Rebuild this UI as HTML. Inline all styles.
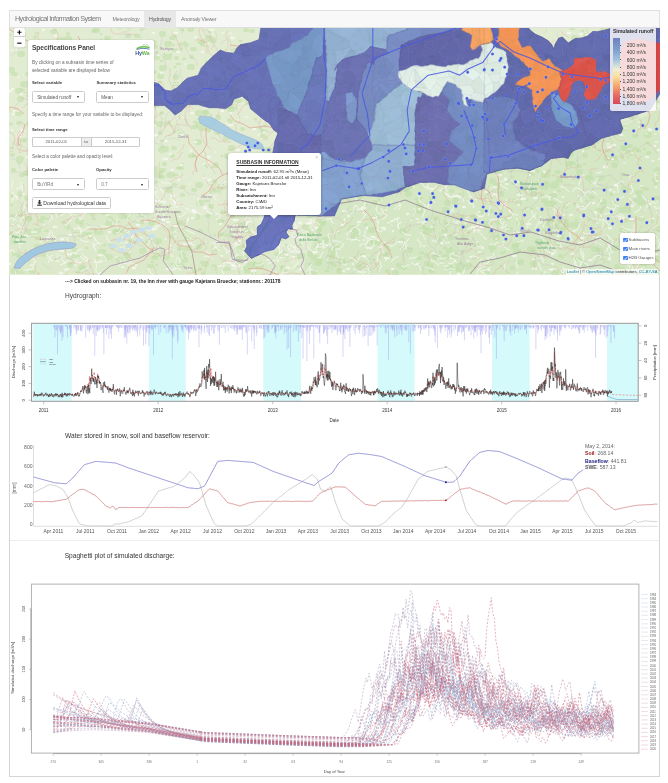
<!DOCTYPE html><html><head><meta charset="utf-8"><title>Hydrological Information System</title><style>

*{margin:0;padding:0;box-sizing:border-box}
html,body{width:668px;height:783px;overflow:hidden;background:#fff;font-family:"Liberation Sans", Arial, Helvetica, sans-serif;color:#333}
#frame{position:absolute;left:9px;top:10px;width:651px;height:767px;border:1px solid #d4d4d4;border-top:none}
#nav{position:absolute;left:9px;top:10px;width:651px;height:18px;background:#f8f8f8;border:1px solid #e0e0e0}
#nav .brand{position:absolute;left:5px;top:2.6px;font-size:7.2px;color:#777;letter-spacing:-0.57px;white-space:nowrap}
#nav .it{position:absolute;top:4.5px;font-size:5.3px;color:#777;white-space:nowrap;letter-spacing:-0.2px}
#nav .act{position:absolute;left:133.5px;top:0;width:32px;height:16.5px;background:#e7e7e7}
#map{position:absolute;left:9px;top:27px;width:651px;height:248px;overflow:hidden;background:#e9ead8}
.t{position:absolute;white-space:nowrap}
.h{position:absolute;white-space:nowrap;color:#333}

.sel{position:absolute;height:12px;border:0.6px solid #ccc;border-radius:1.5px;background:#fff;font-size:4.7px;color:#555;padding-left:4.2px;line-height:11.2px;white-space:nowrap}
.car{position:absolute;right:5.5px;top:4.8px;width:0;height:0;border-left:1.7px solid transparent;border-right:1.7px solid transparent;border-top:2px solid #222}

.pl{left:8px;font-size:4.35px;color:#222}
.pl b{font-weight:bold}

</style></head><body>
<div id="frame"></div>
<div id="map"><svg id="mapsvg" width="651" height="248" viewBox="9 27 651 248" style="position:absolute;left:0;top:0">
<rect x="9" y="27" width="651" height="248" fill="rgb(226,236,210)"/>
<path d="M330,200 C380,185 450,175 520,168 C580,150 620,125 660,110 L660,274 L300,274 Z" fill="rgb(200,226,182)" opacity="0.45"/>
<path d="M9,200 C60,205 150,215 250,215 L300,274 L9,274 Z" fill="rgb(205,228,188)" opacity="0.3"/>
<path d="M220 64h2M56 159h1M47 152h0M291 44h0M285 231h0M154 182h3M385 125h3M39 239h1M103 56h1M540 72h2M425 119h2M50 42h1M452 133h1M390 139h1M526 200h1M383 157h3M484 98h3M86 130h2M108 148h0M444 216h2M579 104h2M396 170h1M556 260h1M441 42h2M430 272h2M194 122h2M24 141h1M85 42h2M93 88h1M576 47h1M367 245h2M571 96h1M243 245h3M107 71h1M161 147h2M180 28h1M249 167h3M459 154h2M449 40h3M517 243h2M264 126h0M422 42h0M145 67h1M43 27h0M75 117h0M578 179h0M173 113h1M89 237h3M312 147h0M76 112h1M549 67h0M628 157h0M363 34h2M646 240h2M179 118h1M512 159h2M224 82h2M650 238h2M542 210h1M346 115h0M27 96h1M460 263h1M619 271h3M246 81h1M137 77h2M595 235h1M434 225h0M439 252h2M497 145h1M523 109h2M642 125h1M625 206h1M92 64h3M534 63h2M647 189h1M366 59h0M641 187h2M617 134h3M547 79h1M200 86h2M178 130h0M601 114h1M389 250h1M606 151h2M350 32h1M128 28h2M121 144h2M371 108h2M371 221h0M374 88h1M512 152h2M504 252h1M408 152h2M460 139h2M320 260h2M580 260h1M373 260h3M98 57h1M56 86h0M445 221h3M110 204h2M102 245h3M152 262h1M326 271h2M114 134h2M230 75h1M479 32h2M296 31h1M415 154h0M650 222h3M77 93h0M516 94h0M284 252h2M177 64h3M380 200h0M46 197h1M56 259h2M531 48h3M52 240h1M230 164h3M183 59h2M164 54h0M42 77h1M208 215h1M335 71h1M21 89h0M486 163h1M318 258h0M542 134h1M552 124h2M457 270h1M551 202h2M272 113h0M94 44h2M175 67h0M557 242h2M193 87h1M308 66h1M180 265h3M365 87h3M211 115h0M257 144h2M140 152h0M181 49h1M36 33h1M161 172h2M498 189h2M581 123h1M650 64h2M428 38h3M590 182h2M538 61h2M337 233h2M547 171h3M454 198h1M29 60h1M77 233h2M418 182h2M328 28h2M496 151h2M438 43h2M173 45h1M484 78h2M644 149h1M321 196h2M411 186h0M105 90h2M207 167h0M48 93h2M460 194h1M345 142h1M86 248h1M646 258h0M308 230h3M302 93h1M625 79h2M101 156h3M95 230h2M586 201h1M593 147h0M11 148h1M206 62h1M215 235h0M498 234h0M612 203h3M198 119h1M659 173h1M288 95h0M75 233h1M618 89h1M342 74h1M631 245h2M420 253h3M367 205h0M486 138h2M429 98h0M612 58h1M233 101h2M645 91h2M205 165h1M118 67h1M599 150h1M599 273h1M100 75h0M232 50h1M177 168h3M497 129h1M350 120h1M49 96h3M91 151h2M571 80h1M171 126h1M630 237h3M23 35h2M592 144h2M9 124h3M546 238h3M171 54h0M349 195h3M479 187h2M307 163h0M518 84h3M429 102h0M173 184h2M82 44h2M388 123h1M400 30h1M309 264h2M584 144h1M170 264h2M209 32h1M448 131h1M443 256h1M31 110h1M453 76h2M490 152h1M640 104h2M159 82h2M201 262h1M131 82h1M442 261h0M265 80h3M101 40h0M265 249h3M486 273h3M223 73h3M495 35h2M255 119h1M119 28h1M238 263h0M637 78h1M544 230h1M41 144h1M608 75h1M593 34h1M537 216h0M32 42h3M176 212h3M230 94h3M411 92h2M215 95h0M501 253h2M623 33h1M318 263h3M261 89h1M330 256h1M531 209h2M512 177h1M217 116h2M60 76h2M170 43h0M369 107h3M584 271h1M64 51h1M471 137h1M280 180h2M496 236h2M88 235h1M378 119h2M139 88h1M109 245h2M221 125h3M339 84h2M434 272h0M318 229h3M604 37h1M87 74h3M389 257h1M573 138h1M515 261h0M397 180h1M249 62h1M175 175h2M141 30h1M451 73h1M141 223h2M50 52h1M367 185h0M116 199h1M193 103h3M212 167h1M280 240h3M246 76h2M142 28h3M285 230h1M584 141h0M19 163h2M601 49h2M250 152h0M193 156h3M80 148h2M638 76h0M623 268h1M44 256h1M598 180h2M113 221h1M272 236h2M128 81h1M346 122h0M170 206h3M36 166h2M34 234h0M399 163h2M208 131h2M286 190h1M294 33h2M328 85h2M517 140h1M317 53h0M289 50h1M341 37h2M63 208h2M342 40h2M255 262h0M567 273h2M540 75h3M329 263h3M116 222h3M52 114h2M112 248h1M540 62h2M608 78h1M338 106h0M128 67h3M451 248h1M520 55h2M423 116h3M370 170h3M77 272h2M266 224h1M654 170h1M507 136h1M493 39h2M174 185h3M390 191h1M10 35h0M410 134h2M592 60h1M434 33h0M240 53h1M155 171h2M142 181h1M97 258h1M106 51h2M576 220h1M181 30h2M375 114h2M298 258h2M171 250h0M355 127h1M47 219h0M368 259h0M139 177h2M427 228h1M210 101h0M588 220h2M13 236h2M312 210h1M156 53h1M34 110h2M462 236h2M182 164h1M522 156h1M427 265h1M582 31h1M163 211h3M495 108h3M223 86h3M420 198h2M646 143h3M463 239h1M481 168h1M147 181h0M602 63h0M78 256h1M101 34h0M460 184h2M489 43h2M246 229h2M589 43h3M604 260h0M143 55h0M561 228h2M546 183h1M74 51h2M142 106h1M23 90h1M475 118h1M637 151h3M411 35h1M293 218h1M468 160h1M570 49h2M120 27h1M505 269h0M329 148h2M129 149h1M551 91h3M194 80h2M333 54h2M62 222h2M521 182h1M270 124h3M65 246h0M143 92h3M335 121h3M161 141h2M500 213h2M236 108h0M558 191h2M119 135h2M386 58h1M585 86h1M205 201h3M110 66h1M222 156h0M223 74h3M483 52h3M75 122h3M526 208h1M137 185h0M143 123h0M269 222h2M335 183h1M101 176h1M491 251h1M383 212h1M158 205h3M513 200h3M451 185h1M213 182h0M282 220h2M419 89h1M305 181h1M449 257h1M435 219h1M328 268h0M363 67h2M621 155h0M383 161h2M342 185h2M349 128h3M146 196h1M506 57h3M240 41h1M269 30h1M283 199h1M182 82h2M621 157h1M531 124h1M93 219h2M422 143h2M156 265h1M425 229h2M314 100h2M90 233h1M563 93h1M174 132h1M11 205h1M168 102h1M288 184h2M245 256h3M46 231h3M519 62h2M421 31h0M629 189h1M75 62h1M514 113h0M598 223h1M589 177h2M444 248h2M555 76h2M355 210h1M584 164h1M161 61h1M47 142h0M329 150h2M571 29h3M314 166h2M556 120h1" stroke="rgb(192,222,168)" stroke-width="2.5" stroke-linecap="round" opacity="0.55" fill="none"/>
<path d="M634 46h2M423 34h2M453 257h1M648 153h1M593 35h2M416 111h3M247 144h2M511 79h1M284 164h2M200 231h1M337 94h2M644 189h2M224 105h1M391 184h2M35 206h3M364 39h1M13 74h3M405 190h2M601 178h2M417 199h2M452 79h2M307 215h0M127 36h2M604 189h1M545 221h2M177 102h1M216 133h2M617 40h2M35 56h2M384 254h1M18 123h2M619 269h1M277 52h2M147 64h0M12 196h0M638 49h3M93 31h2M167 208h1M42 218h2M566 207h0M418 202h1M616 90h3M476 30h0M433 229h0M212 207h0M569 147h0M248 169h1M450 63h2M245 186h2M281 122h2M624 221h2M199 42h3M467 231h1M403 268h2M400 103h1M587 120h2M401 248h2M193 27h1M284 172h2M587 37h2M537 241h2M187 237h2M455 253h1M64 164h2M139 212h3M161 177h2M312 78h1M498 223h1M66 226h2M161 170h3M585 156h1M393 74h1M127 200h1M376 126h2M106 38h3M253 53h2M522 66h2M234 155h0M31 272h3M326 167h1M516 132h3M508 229h3M174 36h1M127 48h0M372 242h1M626 252h0M398 125h0M634 91h2M426 263h2M265 138h0M638 272h1M34 90h1M597 250h3M40 221h2M430 270h0M103 213h3M450 101h2M502 53h1M176 58h1M119 86h0M450 30h2M136 36h3M153 258h3M588 62h1M72 256h3M418 139h1M545 145h2M102 82h0M474 164h0M576 93h1M110 94h3M227 68h1M216 250h0M646 41h3M444 79h1M195 91h1M246 272h3M611 51h1M592 41h2M200 269h0M534 111h0M10 233h2M130 135h3M151 168h0M126 217h2M137 47h0M405 149h1M143 178h2M537 171h1M52 208h1M479 41h2M227 235h3M330 31h3M319 242h1M130 232h1M115 119h2M12 155h1M345 57h2M541 241h1M472 121h2M49 243h3M331 154h2M359 32h3M155 72h0M172 229h0M72 200h1M21 175h2M349 201h0M575 204h0M89 149h2M191 57h1M98 173h3M105 168h2M116 231h3M262 131h3M351 125h3M515 111h1M227 135h3M533 252h2M561 40h2M633 258h1M284 183h1M355 44h1M338 32h0M640 219h3M421 227h3M585 35h2M182 195h1M362 255h2M172 156h1M628 98h1M431 57h2M631 154h1M313 159h0M90 59h1M274 98h1M66 162h3M406 168h2M140 202h1M366 178h1M211 87h1M343 122h2M17 114h3M164 164h1M194 271h1M512 66h0M576 136h0M262 136h2M80 83h3M490 65h1M238 194h2M562 230h2M490 211h2M318 221h2M604 58h3M12 216h2M333 265h2M281 221h3M404 121h1M307 206h1M263 164h1M219 221h3M334 137h1M207 63h2M388 49h3M220 235h3M633 77h1M602 30h0M377 150h3M513 160h3M346 155h2M263 115h2M238 261h2M351 51h1M270 166h2M582 265h1M296 181h3M232 158h2M120 106h3M547 154h0M591 197h2M654 246h1M111 99h2M338 73h1M419 176h1M656 184h0M277 222h1M459 28h1M557 172h2M137 150h2M182 187h2M658 169h1M88 66h2M78 52h1M349 230h2M534 42h0M511 107h2M239 69h1M74 250h2M236 138h1M45 247h2M634 136h2M171 38h3M565 105h3M540 102h2M634 149h3M167 123h2M153 103h3M324 223h1M122 116h1M641 99h2M84 159h1M271 43h0M547 114h1M133 97h1M32 191h1M110 201h0M185 233h0M298 234h2M113 114h2M254 264h1M628 152h1M304 59h2M179 249h2M249 88h2M147 242h0M343 161h1M511 122h2M379 104h1M65 71h3M218 191h0M375 116h2M202 43h1M156 58h2M193 127h3M514 245h3M95 95h0M451 191h1M278 190h2M171 236h1M418 72h0M603 208h2M35 37h0M138 102h1M35 104h2M126 234h2M476 90h1M454 113h0M552 219h1M37 238h2M40 87h0M524 79h3M497 48h2M265 212h2M192 49h3M285 257h2M490 232h2M304 40h2M288 153h3M92 215h0M466 226h1M365 266h2M363 89h0M242 129h1M211 61h2M445 86h1M345 137h3M238 101h3M101 166h1M540 162h2M119 192h2M309 216h2M84 98h1M143 42h1M137 200h1M83 107h1M245 69h0M16 272h2M64 204h3M376 54h1M292 74h2M14 254h2M418 258h2M173 88h0M27 218h3M202 73h2M560 256h1M520 232h2M222 73h2M217 118h2M249 232h1M36 167h2M543 201h3M624 149h1M112 101h2M61 197h0M298 267h0M35 136h1M480 28h3M566 221h1M193 190h2M283 111h1M443 231h3M116 100h1M376 113h1M64 107h1M641 251h3M643 265h2M537 42h2M406 100h2M629 146h2M204 112h3M27 74h2M300 48h2M251 170h1M354 167h1M83 72h3M366 55h3M174 50h2M173 148h2M156 168h0M343 172h0M275 45h1M571 163h2M502 55h3M479 52h2M264 69h3M376 218h0M514 41h1M251 31h2M148 101h2M286 246h2M577 166h3M576 68h2M231 216h2M546 57h1M489 261h2M37 176h0M366 225h0M611 194h1M135 137h3M387 55h0M81 225h1M370 99h2M257 63h3M360 197h2M627 30h1M107 151h3M530 36h1M542 195h1M319 66h3M265 243h2M58 108h1M591 173h0M119 116h1M385 123h1M13 170h1M22 140h3M39 63h2M187 95h2M180 168h2M632 272h0M374 217h3M513 183h2M245 97h2M577 259h2M207 216h2M340 184h1M368 127h0M229 107h3M322 118h1M162 113h0M14 242h1M299 167h1M119 43h1M210 206h2M619 111h3M389 47h1M387 271h1M513 133h3M53 147h3M189 91h0M116 93h2M151 126h1M401 240h2M137 208h3M400 47h2M579 111h0M132 160h3M426 255h1M222 212h2M273 195h1M46 129h0M417 110h1M398 90h1M18 256h2M652 41h2M480 108h0M111 62h2M68 228h1M360 172h2M437 176h1M491 91h2M506 219h1M512 268h1M190 156h3M95 29h1M436 218h1M653 83h2M68 34h0M48 151h2M127 259h1M106 71h2M609 67h0M516 87h3M334 184h1M530 141h1M597 54h2M52 186h1M572 42h2M276 254h3M417 82h1M180 134h1M141 215h2M203 273h1M380 66h3M575 93h2M545 97h1M325 247h0M453 175h1M386 245h1M584 116h2M571 72h3M657 101h0M82 268h0M602 64h2M73 69h2M68 111h3M475 245h3M30 85h2M458 36h2M160 133h0M22 272h1M581 57h1M97 133h1M455 64h2M335 55h1M332 254h1M149 266h3M485 94h1M181 44h0M340 128h2M245 30h2M434 161h2M458 270h3M476 126h1M282 267h1M260 128h0M659 28h2M612 90h2" stroke="rgb(192,222,168)" stroke-width="4" stroke-linecap="round" opacity="0.55" fill="none"/>
<path d="M254 86h1M85 235h2M600 39h2M220 187h2M214 267h0M495 238h2M395 273h1M419 211h1M473 124h2M408 194h1M418 161h1M408 92h3M317 205h2M319 82h0M613 158h2M352 228h1M121 230h1M426 231h3M574 38h1M551 229h0M109 89h0M241 225h2M304 49h1M658 199h1M320 224h2M107 195h1M348 86h1M230 121h0M140 168h0M125 204h1M220 87h3M68 184h3M140 132h2M411 119h0M297 118h2M201 128h2M537 114h1M386 255h1M641 203h1M442 108h0M501 121h2M332 250h2M26 173h1M310 234h1M317 247h1M329 153h2M445 210h1M35 195h2M510 217h0M153 46h2M75 49h2M376 41h2M472 146h0M459 130h2M659 229h3M104 110h2M13 271h1M180 104h1M568 164h2M283 40h1M573 225h3M176 77h0M358 119h1M327 171h1M531 76h3M371 40h1M356 128h2M220 95h2M199 203h2M394 139h3M299 244h0M291 185h0M571 45h2M126 255h2M530 150h2M448 100h1M555 63h3M144 52h0M520 262h1M438 91h3M456 65h0M462 37h3M200 84h2M216 165h0M603 107h3M108 224h3M264 35h1M426 82h2M70 142h2M289 195h0M548 57h3M657 259h2M198 113h2M332 257h0M325 240h2M361 49h0M186 248h3M157 255h0M399 266h1M624 189h0M226 138h1M492 71h2M203 44h2M71 163h2M397 141h0M343 51h2M95 170h1M253 191h0M119 260h1M557 243h1M106 50h3M85 150h2M86 143h0M358 152h1M138 127h1M92 86h3M336 247h0M623 148h2M380 197h1M497 65h1M29 124h2M199 247h0M386 85h2M519 203h0M169 175h3M36 180h2M539 111h2M310 254h0M621 129h1M66 87h2M451 64h1M100 76h1M225 268h3M524 145h1M516 251h2M423 76h2M560 221h0M476 113h0M638 193h2M97 232h3M598 211h2M531 173h1M546 221h3M204 264h2M625 56h3M522 89h3M160 76h1M163 149h3M455 202h1M519 223h2M622 231h1M66 188h3M230 174h3M525 28h1M20 54h2M282 176h1M227 80h1M559 180h1M66 94h2M297 190h2M88 196h0M545 72h1M632 117h1M588 178h3M266 150h3M339 271h1M550 67h2M9 70h3M305 227h1M238 52h2M570 154h1M614 248h2M58 181h1M633 116h2M420 120h2M449 251h1M246 268h0M552 196h2M300 213h3M483 212h0M221 61h3M589 63h2M384 39h1M496 185h1M505 99h2M283 269h2M533 194h1M636 202h2M190 67h2M547 223h1M100 154h3M115 209h1M212 40h1M258 266h3M131 103h3M137 106h1M80 91h1M260 265h1M142 251h1M554 184h2M214 65h2M315 165h2M499 95h1M606 158h1M419 91h2M36 231h2M239 259h1M167 44h2M500 194h1M535 54h1M429 266h2M460 218h1M621 210h1M265 226h1M130 242h2M348 192h3M96 111h0M278 151h3M444 170h1M382 95h3M522 234h0M446 213h2M594 249h2M543 187h3M94 201h2M408 95h0M402 231h1M148 82h0M449 268h2M243 200h0M555 107h0M419 61h1M47 137h2M535 37h2M81 82h2M230 109h2M151 223h1M555 227h2M29 219h0M338 132h0M419 206h2M269 153h2M156 241h3M533 264h1M651 45h1M96 139h2M470 139h1M133 127h1M135 209h2M295 76h2M137 93h2M465 267h2M626 254h2M477 42h1M17 240h2M419 92h1M116 183h3M208 38h1M240 249h2M305 52h0M109 219h1M654 252h2M319 230h0M80 166h2M145 89h0M601 202h3M647 135h2M259 228h3M96 30h1M390 121h0M550 221h1M37 247h2M55 107h2M585 147h2M143 87h3M258 53h2M91 76h1M390 184h2M295 44h2M44 143h1M447 203h1M432 198h1M101 252h2M50 86h3M158 124h2M545 184h2M34 50h3M532 36h0M166 257h1M446 257h2M607 92h0M21 214h0M643 202h1M534 67h2M78 221h3M606 28h3M371 230h2M413 174h2M60 40h2M198 125h0M494 33h2M537 140h0M432 78h1M81 268h2M238 50h2M562 237h0M248 102h2M105 177h3M509 29h0M83 198h2M348 140h1M407 187h3M486 224h3M554 204h0M452 237h1M581 71h3M297 202h1M205 113h1M71 136h3M435 257h2M554 273h2M188 89h1M23 84h3M609 108h2M514 247h2M355 53h2M213 182h1M359 266h0M355 188h2M620 128h3M458 266h0M147 98h3M18 91h2M653 71h1M456 198h2M499 88h1M27 198h1M178 265h2M394 189h2M461 102h0M53 31h1M102 55h1M640 197h1M510 71h0M206 128h2M299 207h0M616 112h2M29 232h1M566 225h2M190 29h1M598 66h2M391 190h1M103 51h3M258 188h2M154 43h0M564 59h3M246 205h0M522 89h1M350 55h1M527 97h1M507 82h1M152 122h1M427 144h3M42 191h3M162 34h1M84 141h2M70 56h1M122 84h1M86 44h1M314 258h2M56 82h2M375 242h3M568 54h3M351 86h1M572 79h0M182 255h1M485 45h1M216 78h2M244 57h3M323 71h0M434 154h0M315 210h2M161 150h2M433 63h2M625 210h3M248 250h1M157 175h3M62 81h0M295 62h1M497 171h3M271 195h0M626 85h1M342 261h1M655 180h1M552 77h3M306 83h3M218 128h1M444 33h1M115 232h0M405 91h1M375 203h0M166 57h3M106 61h2M387 246h0M162 68h2M304 128h3M440 239h3M184 260h1M43 253h0M20 99h1M638 242h1M354 237h2M434 154h0M168 190h2M530 249h3M134 46h3M380 72h2M175 85h1M350 194h0M492 181h1M447 225h0M318 194h2M431 72h3M520 85h1M633 78h1M635 249h1M488 116h2M508 59h1M149 93h0M98 127h1M60 171h3M385 115h2M294 70h1M20 194h0M250 265h2M553 186h2M468 266h1M508 101h1M544 175h3M579 172h1M19 159h2M186 44h0M122 199h0M159 92h2M652 32h0M617 267h0M227 156h1M281 145h1M45 48h0M68 181h2M180 223h2M231 148h1M614 165h0M109 198h1M476 84h2M531 50h2M134 202h2M524 84h0M441 167h0M134 171h0M422 87h1M285 159h2M29 206h1M198 185h2M409 250h1M212 191h1M111 83h2M547 204h3M526 103h1M478 41h2M67 39h2M107 257h3M310 76h0M339 156h1M475 158h2M78 44h1M324 89h2M153 106h1M473 217h1M300 256h3M412 53h1M424 96h0M648 252h0M312 180h1M54 212h2M294 48h1M70 265h0M197 217h0M78 44h0M355 233h1M122 216h1M229 57h1M642 56h1M491 247h3M317 263h2M197 142h2M487 59h1M633 53h2M230 88h1M314 272h0" stroke="rgb(192,222,168)" stroke-width="6" stroke-linecap="round" opacity="0.55" fill="none"/>
<path d="M565 106h1M494 111h1M281 230h3M383 30h2M404 249h3M222 237h2M182 117h1M239 120h0M157 252h1M423 246h2M168 254h2M654 207h2M538 90h2M257 234h0M360 110h2M234 235h3M581 61h3M494 194h2M40 242h2M306 111h2M518 242h1M231 89h0M222 33h2M157 44h0M491 76h1M271 225h3M211 183h3M315 249h2M212 243h2M78 172h2M347 147h1M582 191h1M245 117h3M462 58h3M32 173h1M476 133h0M350 230h2M241 82h2M531 81h3M655 134h1M471 257h1M205 108h2M131 162h2M444 62h3M660 166h2M128 252h2M503 242h1M611 78h0M336 249h3M631 153h3M374 62h2M532 132h2M178 95h1M343 143h0M13 111h2M496 86h1M345 70h2M598 77h2M478 212h2M472 94h3M611 40h3M297 48h0M528 194h0M308 185h3M228 216h1M138 67h1M411 102h0M151 48h1M215 152h1M321 136h3M326 260h1M138 173h0M119 45h2M639 127h1M286 114h2M264 65h3M382 29h3M483 115h2M608 126h1M203 164h2M488 261h0M247 237h2M393 194h1M624 163h1M128 56h3M530 34h1M321 149h1M592 113h2M614 185h1M226 123h2M521 91h1M261 117h3M360 95h1M544 67h2M23 75h0M533 63h1M46 92h2M478 252h3M368 255h0M611 134h1M496 239h1M70 243h2M398 268h0M45 58h0M470 183h0M114 72h2M447 266h1M646 134h1M174 84h3M657 201h1M126 65h1M489 42h2M452 35h1M524 169h1M583 175h1M267 260h3M605 166h0M123 122h2M12 225h2M344 28h2M279 192h2M483 128h3M631 256h2M215 120h1M597 223h2M544 272h2M216 214h1M407 66h3M327 95h3M63 257h2M106 215h2M600 172h1M617 49h2M76 95h0M576 136h2M176 207h2M73 149h2M149 189h1M250 254h3M659 132h2M535 214h1M571 126h3M317 56h2M103 195h0M652 161h2M94 184h1M171 228h0M320 48h3M590 35h1M314 205h2M232 257h1M98 228h0M130 151h1M116 257h1M521 89h3M153 251h2M641 217h2M356 238h1M73 253h2M453 211h1M311 230h3M610 67h2M370 127h1M98 143h1M183 118h2M505 173h0M586 118h3M648 62h2M638 122h2M213 34h1M90 97h2M376 261h2M245 262h2M363 240h2M244 176h1M640 87h3M51 29h2M143 152h0M554 192h2M612 272h2M473 27h0M287 266h1M379 29h1M597 173h2M18 77h1M551 52h3M183 244h2M220 266h1M463 44h2M648 54h2M185 64h1M440 263h3M656 181h2M114 206h2M243 249h1M101 66h0M392 225h0M336 169h2M278 161h0M47 131h1M502 87h2M166 50h1M261 110h2M154 192h3M304 151h3M402 72h0M62 109h0M431 132h1M342 258h1M110 102h1M601 201h1M117 38h0M561 187h0M416 41h2M227 52h2M476 153h1M445 134h2M69 250h0M154 125h1M66 197h3M227 93h2M154 126h2M289 65h0M363 272h3M74 151h1M135 192h1M536 99h3M539 144h0M324 58h2M463 170h3M38 204h2M82 107h0M389 206h1M462 118h2M189 269h1M11 50h2M572 184h0M577 204h0M257 193h0M37 114h3M658 106h3M521 241h2M640 186h3M377 76h2M323 110h1M341 172h1M190 151h2M282 191h1M355 95h2M467 220h2M171 256h2M253 99h1M470 229h1M485 80h1M242 103h1M500 208h1M161 221h2M449 184h2M187 42h1M30 265h2M445 266h2M158 110h0M527 209h1M249 94h1M473 248h3M574 135h1M213 268h1M112 96h3M564 109h3M589 133h1M512 120h0M597 136h1M397 90h0M263 121h0M251 215h1M451 181h1M22 194h2M200 76h3M601 85h2M383 107h0M221 186h2M341 57h1M212 130h1M596 56h3M165 239h1M391 120h0M527 227h1M514 145h3M44 121h1M416 219h3M366 123h2M77 91h2M296 272h0M310 79h0M70 49h1M291 152h1M466 154h3M119 153h1M251 240h1M580 115h1M409 166h1M64 263h1M83 189h2M222 108h3M229 130h3M244 126h0M440 191h1M273 84h2M307 232h1M487 34h1M634 196h2M333 144h1M122 186h2M177 186h0M408 69h2M213 163h0M324 179h0M210 195h2M410 220h2M154 136h2M378 213h1M301 267h2M434 53h2M31 258h3M483 93h3M124 231h2M19 247h1M549 197h2M570 77h3M230 33h1M52 45h2M88 66h1M190 254h3M575 271h1M527 96h3M537 208h1M69 255h2M408 240h0M464 142h2M306 76h3M192 211h2M170 199h1M155 81h3M249 153h2M26 213h2M579 115h1M235 208h2M273 157h0M607 144h2M521 76h2M239 228h0M189 184h1M254 170h1M294 27h2M174 232h2M401 182h0M515 99h3M521 195h2M293 193h3M132 52h1M341 64h1M573 123h0M128 170h1M318 160h1M337 234h0M614 76h0M509 168h2M151 220h1M482 83h2M431 119h1M51 186h2M109 163h2M75 234h3M42 88h0M173 48h1M172 101h1M251 222h2M83 82h0M223 54h2M517 273h1M33 214h1M615 124h1M56 261h2M296 135h2M550 145h1M274 247h1M439 165h1M383 88h2M572 47h1M582 269h0M417 183h3M315 59h1M473 207h1M427 189h2M23 136h1M398 110h0M445 98h2M208 162h2M84 208h0M619 33h2M249 71h1M335 129h0M349 101h3M258 135h1M640 106h2M551 124h2M190 54h0M301 243h1M296 215h1M108 155h1M620 249h1M374 130h0M298 253h1M391 202h0M611 54h1M475 32h1M91 144h0M107 82h0M68 75h2M98 230h1M173 87h3M40 210h0M624 128h2M571 52h0M461 172h2M190 150h1M294 97h2M204 95h2M65 225h1M158 55h2M337 205h1M277 247h1M648 247h3M623 91h2M407 77h3M431 227h2M61 240h1M178 179h1M310 203h0M439 53h1M432 197h0M133 264h1M286 120h2M491 188h1M380 154h1M627 265h2M655 142h3M166 210h2M620 233h3M183 221h1" stroke="rgb(250,250,246)" stroke-width="1.5" stroke-linecap="round" opacity="0.65" fill="none"/>
<path d="M212 118h2M558 236h2M120 65h2M147 110h0M110 204h1M561 108h3M206 93h1M17 135h1M17 240h1M9 264h1M174 33h0M471 171h2M169 98h3M251 271h3M90 236h0M472 227h2M367 228h0M360 93h1M134 202h2M516 182h2M609 228h2M221 256h1M75 109h2M615 186h2M619 219h1M310 215h1M80 180h2M171 196h3M92 61h1M227 262h3M299 223h2M122 267h1M58 139h0M322 129h3M278 237h2M391 86h1M329 125h2M338 107h2M658 77h1M17 50h0M284 234h2M638 234h2M387 30h1M179 180h0M362 120h1M272 52h2M530 175h0M399 242h3M503 38h3M442 95h3M547 248h1M385 121h1M505 179h1M363 256h2M604 167h3M28 141h2M482 266h2M320 184h2M468 261h0M218 243h0M523 35h2M530 86h1M156 201h2M403 107h2M630 219h3M170 154h1M234 225h1M373 218h3M21 94h1M619 67h3M268 162h3M51 108h0M96 102h2M387 57h2M339 62h2M543 81h3M537 84h0M574 231h0M508 218h2M551 270h1M552 254h1M454 196h3M378 95h1M362 60h3M588 87h2M447 57h2M508 103h0M192 218h1M540 66h0M236 244h0M57 213h0M444 48h1M441 243h1M302 35h1M167 222h2M520 158h2M92 122h1M193 210h1M221 97h3M425 146h1M609 259h1M378 240h1M177 52h2M509 66h1M654 146h1M555 247h1M89 184h2M610 190h1M344 98h1M314 252h3M612 145h3M99 255h2M577 129h3M25 236h2M253 232h1M499 143h1M137 225h2M67 269h1M253 129h2M589 260h2M247 54h0M347 171h1M649 129h1M281 69h3M394 161h1M172 105h1M300 269h2M144 40h0M234 220h3M163 220h1M359 159h0M52 192h2M257 254h2M206 44h2M435 82h0M326 35h2M416 96h1M161 73h1M540 139h2M235 226h2M435 124h2M133 268h2M356 185h0M227 84h3M17 137h3M518 205h1M160 201h1M480 113h2M382 228h3M255 271h0M580 34h2M262 217h1M145 221h2M501 148h0M511 81h1M9 91h2M506 184h1M486 192h1M357 175h2M138 104h1M71 113h2M385 70h2M85 213h0M72 89h2M185 245h3M193 212h2M374 90h3M632 30h1M218 76h1M594 33h3M210 30h3M186 79h0M248 57h1M172 170h1M208 157h2M480 112h3M524 166h1M224 60h3M405 51h3M586 35h2M164 159h3M237 150h2M134 182h1M649 73h2M36 95h0M106 157h1M526 51h2M570 58h1M507 143h3M229 125h3M233 266h3M139 162h3M85 237h2M497 175h0M633 52h2M480 105h2M276 212h0M617 122h2M316 228h1M364 33h1M61 239h2M286 268h3M632 47h2M483 177h0M610 135h2M539 95h0M610 94h0M98 273h2M146 63h3M442 171h0M278 261h0M282 41h3M77 263h3M485 37h2M330 148h0M342 225h0M579 131h1M165 141h2M380 247h2M343 271h1M20 108h1M90 130h0M608 147h3M463 207h2M205 207h1M370 174h2M118 112h2M533 269h0M146 53h2M494 187h2M345 166h3M431 189h2M331 214h2M93 132h1M290 166h1M264 132h1M642 49h0M479 125h1M394 118h1M19 243h3M195 142h1M47 247h3M166 90h2M528 143h1M161 224h3M568 55h2M650 204h1M103 42h2M54 227h2M317 247h3M410 52h2M283 89h3M484 57h1M232 169h1M295 228h1M478 109h3M629 108h2M81 128h2M424 112h0M90 165h1M208 180h3M344 90h2M188 220h0M180 135h3M117 75h0M148 109h1M504 127h1M267 218h3M286 255h1M646 157h2M257 94h0M585 116h2M309 157h1M124 110h2M363 28h2M291 44h1M147 230h2M222 88h1M191 113h2M522 199h3M435 55h0M116 91h2M544 172h1M167 269h2M231 38h3M176 236h0M434 115h3M202 52h1M534 269h2M453 97h1M65 270h0M408 113h1M293 257h1M116 182h2M341 71h3M81 70h1M343 145h2M482 248h1M36 232h0M216 62h2M518 59h1M563 197h0M456 223h1M110 190h1M96 68h1M92 122h2M368 127h2M66 108h3M572 254h2M358 222h2M86 90h0M579 107h1M359 52h2M527 224h3M216 63h2M460 119h1M109 232h1M538 111h1M343 211h3M239 198h1M570 215h2M245 95h3M530 102h0M136 265h0M536 158h2M360 128h2M68 254h0M99 193h2M534 198h3M43 30h1M516 65h2M511 66h2M595 212h1M321 96h3M518 195h1M485 147h2M246 245h2M302 166h2M353 264h0M593 203h1M562 64h1M474 230h1M656 187h0M89 46h2M219 91h1M60 251h3M373 137h1M401 113h3M631 206h2M58 58h1M91 131h3M552 264h1M153 33h1M46 157h1M448 166h2M204 208h2M474 143h1M195 37h1M410 73h3M581 238h2M327 70h1M489 270h0M13 114h1M398 55h3M229 251h1M208 70h3M393 231h0M362 208h3M619 53h1M659 159h3M174 33h3M181 165h1M385 258h3M580 90h2M21 130h3M175 118h2M163 202h2M71 254h0M462 113h0M60 273h2M308 223h3M612 159h1M347 269h2M445 235h1M373 237h1M568 33h2M383 63h3M295 73h1M394 133h0M69 203h0M175 226h3M583 70h0M500 175h1M21 134h1M392 269h1M58 199h0M154 135h3M220 105h1M115 126h2M220 224h1M75 182h1M607 53h2M445 118h0M407 214h1M317 196h2M285 73h1M367 248h3M371 108h1M419 209h1M458 274h1M620 135h2M573 77h1M650 43h1M319 211h2M614 192h0M55 36h1M27 157h2M141 238h1M634 115h2M362 92h2M12 89h1M583 151h0M204 178h2M80 219h1M350 131h1M654 254h3M488 200h0M32 232h2M420 104h1M608 158h0M231 113h0M646 250h2M12 130h0M481 227h2M524 57h0M69 235h2M345 85h3M87 107h0M649 130h2M531 171h3M513 256h3M62 212h1M220 111h3M48 134h0M658 150h2M348 216h1M278 211h2M587 103h3M489 169h1M378 46h0" stroke="rgb(250,250,246)" stroke-width="2.5" stroke-linecap="round" opacity="0.65" fill="none"/>
<path d="M212 192L214 193L214 196L215 198L216 200M479 258L477 257L474 256L472 256L469 257M106 261L106 259L105 257L103 255L101 254M47 208L45 208L44 206L43 203L43 201M390 254L391 256L389 258L387 259L385 261M82 201L79 200L78 202L76 204L76 206M178 216L180 217L182 216L184 215L186 212M279 214L280 216L280 218L278 220L277 222M11 202L13 200L13 198L15 196L18 197M89 227L86 228L84 230L82 231L80 231M418 238L418 241L420 242L421 244L420 247M598 187L597 185L595 183L593 183L591 181M542 258L540 258L537 259L535 259L532 259M161 216L162 218L164 220L167 219L169 218M426 240L424 238L424 236L422 234L420 232M119 203L122 203L124 202L126 204L128 206M66 201L64 199L62 200L61 202L59 204M400 188L399 185L399 183L399 180L398 178M625 217L623 218L620 217L620 215L620 213M360 247L360 245L362 244L365 244L367 243M379 221L378 224L378 226L378 228L377 231M287 246L289 245L291 245L293 247L295 248M445 227L447 225L449 224L448 221L448 219M356 209L358 210L360 210L362 208L363 206M236 227L233 227L231 229L232 231L232 234M641 206L640 209L638 211L636 212L634 213M12 192L14 195L15 196L17 198L18 200M295 234L297 234L300 235L301 237L304 238M32 270L30 269L28 270L25 270L23 271M428 207L429 205L430 203L432 201L434 199M185 226L187 224L187 221L189 219L188 217M279 254L280 251L279 249L279 247L280 244M539 224L541 223L542 220L541 218L540 216M41 195L43 194L46 194L48 193L50 191M314 190L312 192L310 192L307 193L305 192M569 270L567 270L565 269L562 270L561 272M98 228L96 227L94 226L91 227L89 227M359 209L361 209L363 210L363 213L365 214M262 222L261 224L258 225L257 227L255 229M639 264L638 266L637 268L636 270L634 272M130 206L131 204L133 202L133 200L134 197M285 267L283 269L283 272L285 273L288 273M59 217L61 215L63 215L65 213L66 211M360 189L358 188L355 188L353 187L352 184M87 190L90 190L92 190L94 192L92 194M572 192L574 190L575 188L578 188L580 189M86 200L87 202L88 205L87 207L88 209M15 271L16 274L16 276L17 278L16 281M593 233L590 234L588 234L585 234L583 232M346 191L345 193L347 195L349 195L352 194M527 231L525 231L522 231L520 232L518 232M566 215L563 215L562 214L560 212L558 211M388 210L385 210L384 211L382 213L380 215M399 257L396 257L394 258L393 260L391 262M356 201L356 199L355 196L354 194L354 192M596 268L598 270L600 272L602 272L604 274M451 212L449 212L447 213L445 215L443 216M452 235L455 235L457 234L458 232L459 230M382 267L381 265L380 262L379 260L377 258M311 268L310 270L310 273L311 275L311 277M341 225L343 225L345 223L344 221L345 218M397 241L396 243L395 245L392 246L390 247M38 192L40 190L41 188L43 186L45 187M572 241L571 238L570 236L570 234L569 231M103 261L100 261L98 262L96 263L94 262M411 262L413 264L415 265L418 264L419 262M311 184L310 182L311 180L314 179L314 176M575 231L577 230L578 228L579 226L580 223M650 231L652 229L653 227L655 226L657 225M309 206L306 206L304 208L303 210L303 212M437 186L435 187L434 189L431 191L430 192M65 226L67 225L68 223L70 221L72 220M323 242L321 244L318 244L317 246L316 248M563 233L561 232L559 231L557 230L554 230M24 213L24 215L23 218L21 219L21 222M566 207L567 205L569 203L572 202L573 201M552 231L554 229L554 227L554 224L554 222M59 262L58 260L57 258L58 255L57 253M242 245L240 244L237 245L235 246L233 248M231 268L233 269L236 269L238 268L240 266M243 187L241 185L241 183L240 180L238 179M615 185L618 184L619 182L621 181L624 182M262 220L260 218L260 216L262 214L263 212M15 253L14 251L12 250L9 251L7 250M246 224L248 223L250 221L250 219L251 217M490 195L492 193L495 194L497 195L497 198M476 231L478 230L480 230L483 230L485 229M229 211L232 210L233 208L236 209L238 207M49 211L50 213L51 215L52 217L52 220M356 239L354 240L351 239L349 239L346 239M321 193L322 195L322 198L323 200L325 201M618 193L618 190L618 188L617 186L615 184M283 251L281 252L280 254L278 256L277 258M629 198L631 200L633 201L634 204L637 204M449 214L451 212L452 210L453 208L454 205M192 243L189 243L187 245L185 246L183 247M477 241L476 244L477 246L479 247L482 246M128 242L126 243L124 244L123 247L124 249M103 244L101 244L98 243L97 241L95 239M405 242L404 244L403 247L401 248L400 250M425 188L427 187L428 185L429 182L430 180M173 200L174 202L175 204L174 207L171 207M578 269L577 266L575 265L574 263L576 261M410 238L408 240L407 242L406 244L406 247M88 262L87 259L86 258L84 256L82 254M550 200L549 197L547 196L544 196L542 197M349 257L351 258L354 259L356 261L358 262M422 183L423 185L425 187L427 187L430 188M621 217L619 216L616 216L614 217L612 217M386 213L387 215L386 217L384 218L382 220M402 232L404 233L406 235L408 235L411 235M20 182L21 184L21 187L19 188L16 189M349 181L351 181L354 182L356 180L358 181M319 200L319 203L318 205L318 208L318 210M122 245L121 243L122 240L122 238L124 236M268 264L270 263L272 262L274 260L276 260M640 269L637 270L635 270L633 269L632 266M305 217L306 215L308 213L310 213L311 211M18 224L18 226L21 227L21 230L23 231M96 251L95 249L94 247L93 244L94 242M339 231L337 232L335 232L333 234L331 235M614 252L611 252L609 253L610 256L609 258M582 261L582 264L580 266L579 268L576 268M131 212L128 210L126 209L124 209L122 207M264 219L265 222L264 224L264 227L264 229M330 181L332 180L334 178L337 179L339 179M51 199L50 202L50 204L52 206L54 207M342 196L339 197L337 199L336 201L334 203M82 229L80 229L77 228L75 229L73 228M410 265L407 265L405 267L403 267L401 266M50 219L49 222L47 223L45 225L43 225M507 206L505 205L502 204L500 203L499 201M119 259L121 260L121 263L120 265L118 267M629 184L630 182L630 179L630 177L630 174M499 181L501 182L503 181L506 180L507 178M490 226L492 227L494 227L496 228L497 231M377 230L379 231L381 232L383 230L386 230M220 252L219 250L217 249L215 247L214 245M421 202L419 200L419 198L419 195L418 193M205 251L207 252L209 253L211 255L213 256M320 225L318 223L316 222L313 221L311 220M178 199L176 201L175 204L173 205L171 204M184 232L186 234L187 236L189 237L191 238M331 243L329 244L327 245L326 247L323 248M585 209L586 206L588 206L589 203L591 202M171 255L170 253L170 251L172 249L175 250M633 234L634 231L634 229L634 226L634 224M149 205L152 204L154 204L157 205L159 207M382 243L385 242L386 244L389 245L391 246M59 204L58 202L59 199L60 197L63 197M176 268L175 270L172 270L170 269L168 268M81 180L82 182L83 185L84 187L83 189M451 198L449 196L448 194L445 193L444 192M521 235L520 233L517 232L515 233L513 232M376 193L376 195L378 196L380 195L383 194M96 264L97 266L96 268L96 271L96 273M655 238L652 237L650 238L648 236L646 236M283 210L284 207L285 205L285 203L287 201M480 228L479 225L479 223L481 221L483 220M447 186L445 187L443 188L441 190L439 191M359 235L360 233L360 231L359 229L356 228M562 266L564 268L565 270L564 272L561 273M655 209L658 208L660 208L661 206L661 203M317 244L319 245L322 244L323 242L323 240M76 255L76 253L77 250L79 250L82 249M204 257L207 256L209 257L211 257L213 259M500 184L502 186L504 187L506 188L508 190M160 225L158 227L157 229L154 230L152 230M49 263L49 261L50 259L51 256L53 255M356 206L354 207L354 210L353 212L351 214M477 200L475 199L473 198L470 197L468 197M457 263L455 261L454 259L451 258L449 259M213 213L211 214L209 213L207 211L206 209M465 267L465 269L464 271L463 274L461 275M532 210L532 213L533 215L534 217L536 219M483 264L486 264L488 263L489 261L488 258M140 212L141 214L143 215L145 216L147 218M170 244L171 247L170 249L169 251L166 251M200 205L198 204L198 201L198 199L199 196M43 207L40 205L38 206L35 206L34 208M641 250L643 249L644 246L643 244L641 243M368 188L370 189L371 191L370 194L370 196M641 195L643 196L644 199L646 200L647 202M363 255L364 257L366 258L368 260L370 262M506 199L507 201L506 203L505 205L505 208M481 184L479 185L477 186L475 185L473 184M137 184L137 182L134 181L133 179L133 176M244 229L245 226L246 224L247 222L250 221M328 183L325 183L323 183L321 184L319 186M212 250L214 248L216 248L218 246L220 244M494 253L493 256L491 257L488 258L486 257M234 191L232 190L231 188L230 185L231 183M380 251L379 253L378 255L377 258L377 260M68 246L69 244L68 241L67 239L68 237M426 266L427 268L430 268L432 269L434 270M57 219L58 217L56 215L55 213L55 210M85 264L87 262L88 260L87 258L85 256M282 246L284 246L286 247L288 248L290 250M9 219L11 218L14 218L16 216L17 214M351 229L353 228L356 227L358 226L359 224M321 215L322 213L322 211L320 209L319 207M634 253L636 255L638 256L639 259L638 261M402 204L400 205L398 206L396 207L395 210M283 273L281 274L278 275L276 273L275 271M257 247L257 249L260 251L262 250L264 249M238 249L240 251L242 251L244 254L243 256M409 259L411 258L414 258L416 257L418 257M431 253L433 253L436 254L438 255L440 256M126 233L128 232L130 232L132 234L133 236M296 219L294 221L295 224L296 226L299 226M595 214L597 213L599 213L601 215L601 217M301 203L298 203L297 201L294 202L292 202M230 219L229 217L230 215L231 213L234 212M631 229L629 230L626 229L624 228L622 226M609 239L609 236L606 235L604 234L602 235M127 272L126 275L126 277L128 279L130 281M158 200L158 198L156 196L155 194L155 192M326 220L328 219L331 219L333 217L335 219M230 259L233 258L235 257L237 255L239 255M86 201L88 201L91 201L92 203L92 206M273 227L274 229L275 231L277 233L278 235M37 198L35 196L33 196L30 197L28 196M228 267L230 266L232 265L234 264L236 262M448 263L450 264L452 263L454 262L456 260M88 203L89 200L87 198L85 197L82 198M612 251L610 249L610 247L609 244L607 243M134 239L132 238L131 235L130 233L128 231M444 269L447 270L449 269L451 269L454 269M555 243L558 243L560 243L561 245L561 248M229 190L229 187L232 186L234 187L236 188M627 237L627 235L626 232L624 231L622 230M303 192L300 192L298 193L296 193L294 192M496 257L494 258L492 259L490 261L488 262M585 208L583 206L580 207L578 206L576 205M224 274L222 271L222 269L224 267L224 264M603 221L603 223L603 226L603 228L604 231M48 239L49 237L49 234L50 232L49 230M93 182L91 181L88 181L86 181L85 184M33 270L33 268L33 266L34 263L35 261M556 240L559 240L560 242L563 242L565 244M217 267L219 266L222 266L224 266L227 266M518 185L516 185L514 183L512 181L510 180M488 216L489 214L489 211L490 209L490 206M555 205L555 208L554 210L555 213L554 215M336 249L336 251L337 254L337 256L339 258M647 235L646 238L646 240L648 242L648 245M122 226L122 228L120 230L119 232L116 233M414 188L413 186L413 183L414 182L416 179M562 202L560 202L558 200L556 199L553 198M333 215L332 217L331 220L332 222L334 224M616 207L614 209L614 211L612 213L610 211M93 201L94 203L97 204L98 206L98 209M55 182L58 183L60 182L62 181L64 179M482 271L485 270L487 270L489 268L491 267M584 263L587 264L588 266L588 268L587 271M53 238L55 240L56 242L57 244L60 243M486 274L484 273L481 272L480 271L480 268M247 201L249 200L252 200L253 198L256 198M649 224L650 222L650 219L652 218L655 219M501 246L503 246L505 247L507 249L509 250M14 230L14 232L13 234L12 236L10 237M19 214L21 212L23 210L24 209L25 206M550 252L548 252L546 250L544 249L541 248M324 249L323 247L324 244L323 242L324 240M255 265L257 265L260 265L262 264L264 263M403 183L402 181L399 180L398 178L397 176M658 248L659 246L660 243L658 241L658 239M580 248L581 250L581 253L582 255L583 257M307 272L307 270L309 268L310 266L312 264M257 236L256 234L253 233L252 231L250 230M518 226L519 224L519 222L517 220L516 218M351 241L353 240L355 239L358 240L360 241M482 258L481 260L480 263L480 265L481 268M561 186L563 187L565 188L567 190L569 192M507 262L505 264L504 266L505 269L504 271M427 222L425 221L423 223L422 225L420 227M129 231L129 233L128 236L128 238L126 240M497 215L499 217L500 219L501 222L501 224M366 265L368 267L368 270L370 272L369 274M592 236L594 237L597 237L599 238L601 240M95 259L95 262L97 263L100 262L102 261M353 268L355 270L358 271L360 272L362 273M445 194L447 195L449 197L451 197L453 196M444 186L447 186L449 184L450 182L449 180M66 213L69 213L71 215L72 216L74 218M342 242L339 242L337 241L334 241L332 241M451 271L450 273L449 275L450 278L452 280M523 198L521 199L519 200L516 200L514 201M326 198L325 195L323 194L321 193L318 194M223 264L225 263L227 262L230 261L231 259M309 269L311 270L313 270L316 271L318 271M326 185L325 183L326 180L328 178L330 177M180 204L178 204L176 203L174 201L173 199M244 187L243 185L240 185L238 187L236 187M315 254L313 253L312 251L310 249L308 247M391 222L393 221L395 220L397 219L400 218M363 235L365 237L367 238L369 238L371 239M371 250L372 247L374 246L374 243L374 241M116 240L118 241L120 240L122 238L123 236M305 224L308 224L310 223L311 221L310 219M107 218L109 220L111 220L113 222L113 225M220 187L221 185L223 183L225 182L228 182M589 194L591 192L593 191L595 193L597 194M342 260L341 262L343 264L345 265L347 264M614 209L612 209L609 208L607 207L605 209M247 207L249 206L251 207L254 207L255 205M594 187L595 185L595 182L597 180L598 178M649 232L651 234L654 234L656 236L657 238M435 182L436 180L435 177L432 177L430 178M363 190L364 188L367 187L369 188L372 189M128 220L127 218L129 216L130 213L128 211M442 245L442 242L443 240L445 238L447 238M90 269L88 268L86 269L83 270L81 271M619 206L617 206L615 205L613 204L612 201M480 233L482 235L484 237L485 239L487 239M153 241L154 243L156 245L158 246L159 248M556 250L554 251L552 249L552 247L552 244M60 265L63 264L65 263L67 261L69 261M456 196L458 197L460 198L460 201L458 203M317 257L320 258L321 256L322 253L324 252M247 196L246 198L245 200L245 202L245 205M148 268L149 270L150 272L152 274L154 276M367 238L368 240L367 243L366 245L366 247M227 263L229 263L231 264L234 265L235 263M78 259L76 261L75 263L75 265L77 266M549 251L550 253L553 253L555 253L557 252M499 228L501 228L504 228L506 226L506 224M447 192L447 190L445 188L445 186L445 183M370 236L373 237L375 237L377 239L378 241M461 197L459 196L457 196L454 197L452 197M657 182L656 180L655 178L656 175L654 173M398 210L400 208L400 205L399 203L400 200M465 233L467 231L468 229L470 227L472 227M182 265L180 266L177 266L176 264L176 261M518 215L516 215L513 214L511 213L510 211M150 229L153 230L155 229L156 227L158 225M413 217L414 215L415 213L415 211L414 208M23 195L23 193L23 190L22 188L23 185M576 258L578 260L580 261L581 263L580 266M190 211L188 209L186 209L184 207L183 205M395 218L394 220L391 221L389 223L387 223M579 188L581 190L583 191L584 193L586 195M155 181L153 182L152 184L153 186L155 188M583 251L583 253L584 255L583 258L584 260M240 227L241 230L240 232L239 235L241 237M236 234L237 236L238 238L239 241L241 242M579 186L579 184L580 181L581 179L581 177M416 263L418 265L420 267L420 269L421 271M500 217L498 218L496 220L494 219L491 220M232 245L234 243L237 243L239 241L241 240M223 245L224 248L226 249L227 252L227 254M603 219L605 221L607 222L608 224L610 226M298 183L297 185L297 188L294 189L292 189M357 272L359 272L361 272L363 270L365 269M106 235L107 237L107 239L109 242L111 242M443 239L444 241L446 243L448 243L450 242M246 226L247 224L247 221L249 219L249 217M240 222L243 221L245 221L246 219L247 216M541 221L538 222L538 224L537 226L535 228M82 219L83 217L83 214L83 212L83 209M263 212L266 212L268 214L270 215L272 217M247 261L245 263L244 265L242 267L242 270M604 214L606 214L609 213L611 212L613 213M460 257L458 256L456 256L454 255L452 253M431 209L431 206L431 204L433 202L435 201M451 259L450 257L450 254L453 253L455 253M292 227L293 229L293 232L292 234L291 236M532 182L531 184L530 186L529 189L527 191M593 219L596 218L598 219L600 220L603 220M29 190L30 191L33 191L35 190L37 189M382 201L381 199L383 196L382 194L381 192M76 207L78 208L80 210L82 212L83 214M539 255L541 256L542 258L543 260L543 263M286 257L284 258L281 258L279 258L277 260M447 258L444 258L442 259L440 258L437 259M338 244L336 245L334 247L332 248L332 251M400 229L398 228L398 225L400 223L402 222M129 248L127 249L124 249L122 249L120 247M294 224L292 222L292 220L291 218L292 215M103 192L101 192L98 192L96 193L94 194M489 245L492 244L494 245L496 243L498 242M365 268L367 266L369 265L372 265L374 264M49 246L48 244L48 241L47 239L48 237M254 193L256 194L258 196L257 198L256 200M110 226L108 227L105 226L103 227L101 225M147 207L147 204L148 202L148 199L147 197M315 203L317 203L319 204L322 204L323 202M296 250L295 247L296 245L298 244L299 242M270 186L268 187L266 188L265 190L264 192M592 241L594 242L597 242L599 244L601 245M298 262L297 265L295 266L293 268L291 269M431 211L429 210L428 208L428 205L429 203M382 246L382 248L382 250L383 253L385 253M510 229L507 229L505 230L505 232L503 234M36 262L34 260L34 257L34 255L33 252M292 252L289 252L288 250L288 247L289 245M492 226L490 226L489 223L490 221L492 219M373 190L372 187L370 186L369 183L368 181M474 207L473 204L470 204L469 202L467 200M168 209L166 207L164 207L162 208L161 211M422 218L423 216L424 213L425 211L424 209M406 241L405 243L406 245L405 248L404 250M609 243L609 245L608 248L607 250L606 252M504 244L502 246L500 246L497 246L495 245M656 212L658 214L660 216L662 215L664 214M486 182L483 181L482 178L480 177L477 176M148 181L149 179L149 177L151 175L152 173M361 193L359 193L357 191L357 188L359 187M159 185L160 187L161 190L163 192L163 194M152 237L151 240L149 241L149 244L147 245M505 221L503 223L503 226L502 228L502 230M375 215L377 217L377 219L377 222L379 223M577 194L579 196L581 198L581 201L583 202M611 246L612 244L613 241L611 239L609 238M576 207L578 207L580 209L582 209L585 209M552 209L554 211L556 212L558 214L560 214M178 239L177 242L176 244L174 246L174 248M381 208L382 210L383 212L384 214L387 215M480 266L478 268L478 270L477 273L477 275M208 237L206 238L205 241L205 243L207 245M365 236L365 233L365 231L367 229L367 226M577 267L576 265L576 263L575 260L573 259M322 247L324 246L326 245L329 246L331 246M21 220L19 218L17 218L15 219L13 220M133 260L131 261L129 262L126 261L124 262M631 185L632 188L633 190L632 193L630 194M140 184L138 184L135 185L133 186L131 186M195 245L192 245L191 243L188 242L186 243M134 246L133 244L130 243L128 243L126 242M367 242L369 240L371 239L374 240L376 239M154 220L155 218L157 216L157 214L159 213M46 237L48 237L50 239L51 241L51 244M597 206L599 204L600 202L601 200L602 198M382 266L380 268L379 270L379 272L378 274M179 264L180 262L180 260L178 258L176 258M548 270L550 269L553 269L555 269L557 269M601 257L599 255L596 256L594 257L593 260M134 234L134 236L133 238L132 241L134 243M15 232L18 233L20 231L21 229L24 228M360 200L363 200L365 201L365 204L364 206M248 231L246 231L244 232L243 235L242 237M363 273L364 275L366 277L366 280L368 282M347 236L347 234L348 232L351 231L353 233M377 212L376 209L377 207L378 205L379 202M475 213L477 215L479 216L481 217L484 216M203 215L200 214L198 213L196 211L194 210M365 257L363 256L361 256L359 258L358 261M67 207L70 207L72 208L74 206L77 206M303 239L301 238L298 237L296 238L294 238M181 250L181 253L182 255L182 257L183 259M173 268L175 268L178 268L180 269L181 271M643 210L646 210L647 208L647 205L648 203M591 189L589 191L587 192L585 194L585 196M46 200L43 201L41 201L38 200L36 201M196 219L195 217L195 214L195 212L193 209M417 223L419 222L421 222L424 222L426 222M329 242L330 240L329 238L328 235L329 233M539 232L540 234L541 237L543 239L544 241M176 225L173 226L171 226L169 225L166 226M171 184L168 183L166 183L164 183L161 182M38 185L36 183L36 181L35 178L33 177M95 241L95 238L93 237L90 236L88 235M511 218L512 216L512 213L510 212L509 209M468 188L468 191L468 193L470 195L471 197M355 205L357 206L358 208L358 210L356 212M578 243L580 242L583 243L585 243L587 241M53 261L51 260L49 258L48 256L46 255M419 202L421 202L423 204L425 205L426 207M218 213L220 215L220 217L218 219L216 220M439 265L437 264L435 262L433 261L431 260M459 195L460 198L462 198L464 200L463 202M543 227L544 225L545 223L545 220L544 218M167 212L164 214L163 216L163 218L162 220M518 268L517 265L516 263L516 261L518 259M158 225L155 226L154 228L152 229L149 230M300 234L298 234L296 236L294 237L291 237M292 252L294 251L297 251L298 252L301 252M622 223L624 221L623 218L623 216L622 214M485 212L485 214L482 216L480 216L478 218M491 197L493 195L495 194L497 193L499 195M462 224L460 222L457 221L455 222L453 220M541 271L541 268L539 266L539 264L539 261M623 250L622 253L623 255L623 257L623 260M266 185L264 183L262 182L260 181L259 178M439 236L438 238L437 241L434 241L432 241M240 265L238 264L236 262L233 262L231 263M585 224L584 221L583 219L581 217L581 215M398 217L397 219L398 222L398 224L398 227M77 216L75 215L73 214L70 213L70 211M478 223L477 225L478 228L479 230L479 233M78 225L79 227L80 229L81 232L80 234M272 216L275 216L277 216L279 218L282 218M644 266L643 268L640 269L639 270L637 273M479 226L476 226L475 228L474 231L474 233M118 229L117 227L117 224L117 222L117 219M648 200L651 201L653 202L655 203L657 203M232 203L234 201L236 199L237 197L239 195M95 249L94 247L95 244L97 244L99 242M80 256L82 258L84 259L86 261L88 261M66 262L64 262L62 260L62 257L60 255M469 216L467 218L465 220L465 222L466 225M132 262L130 264L127 264L125 263L123 264M629 268L630 265L632 264L634 263L635 260M255 246L254 243L254 241L256 239L259 240M232 265L234 267L237 266L239 266L242 265M56 240L55 237L53 236L52 233L52 231M21 209L23 207L24 205L24 202L26 201M536 216L533 216L532 218L530 220L528 222M101 184L101 182L99 180L96 180L95 182M195 234L193 233L191 232L188 231L186 230M80 239L82 241L84 241L86 242L89 241M298 205L298 202L299 200L302 200L304 200M367 213L366 215L364 216L363 219L361 220M219 236L218 238L217 240L216 243L216 245M12 189L12 187L12 184L13 182L12 180M615 199L617 199L620 198L622 198L624 196M339 250L340 249L342 247L343 245L344 243M340 184L339 182L338 180L335 179L333 179M629 238L629 236L630 233L632 232L632 229M255 201L253 200L252 197L250 196L248 195" fill="none" stroke="rgb(250,250,248)" stroke-width="1.0" opacity="0.75"/>
<path d="M606 205L604 208L602 211L600 213L598 216L598 220M233 48L236 49L240 48L243 49L245 52L249 53M530 170L528 173L528 177L527 180L526 183L525 187L525 190L526 193L528 196M149 158L146 155L143 153L140 151L139 148M655 29L655 26L654 22L655 19L655 15M129 30L126 32L123 32L120 34L116 34L113 33L111 30L111 26L112 23M634 99L632 97L629 94L626 93L623 91L620 91L616 91L613 89M87 210L84 212L82 215L78 216L75 216L71 217L69 219L66 220L63 222M164 122L165 126L164 129L162 132L161 135M284 273L288 274L291 273L295 273L298 274L301 274M224 81L222 83L219 86L217 89L215 92L215 95L216 99L217 102M64 151L66 149L69 147L72 145L74 141L76 139L79 137L81 134M240 184L242 181L245 179L249 179L252 178M388 109L391 107L391 103L393 100L396 98L398 96L401 94L404 92L408 91M538 49L541 51L544 53L546 56L547 59L546 63M630 209L630 206L631 202L633 200L636 198M649 201L652 200L654 198L657 196M188 126L185 125L182 125L178 124L175 126L174 129L174 133L171 135L168 136M32 224L35 224L39 225L41 228M36 265L35 268L36 271L38 274L41 276L44 278M172 247L169 248L166 250L163 252L160 254M371 56L368 56L364 56L361 57L359 59M533 82L530 81L527 80L524 78L521 76M643 72L644 68L647 66L649 64L652 62L654 59L657 58M114 122L110 122L107 121L105 119L104 115M464 234L462 231L463 228L462 224L460 221L458 219L455 216L452 216M473 248L470 249L468 252L464 252L461 254L458 256L456 259M501 44L502 40L504 38L507 35L510 34L512 32M376 96L377 93L379 90L380 86L379 83L381 80L383 77L385 74L384 70M432 42L430 45L429 48L429 52M116 89L113 91L110 93L106 93L104 96L100 97L97 96L94 95L90 95M65 90L68 90L72 92L73 95L73 98L72 102M231 142L227 142L224 141L221 142L217 140L215 138L211 138M648 199L647 203L649 206L650 209L651 213L652 216L651 219L649 223M93 237L90 239L86 237L83 236L80 236L77 234L74 232M109 247L112 249L115 250L118 252L121 253L125 253L128 255L130 258L133 259M122 79L122 76L125 73L125 70L128 67L131 66L134 65L138 65L141 66M448 109L444 110L441 111L438 112L435 114L433 117M78 188L80 186L81 182L84 180L86 177L88 175L91 173L95 174L98 174M402 165L398 164L395 164L392 162L389 161L386 158L386 155L383 152M393 76L395 78L397 81L399 84L400 88M242 214L238 213L236 211L233 209M234 200L231 202L228 204L224 204L221 205L218 205M125 179L124 183L122 186L121 189M85 130L87 127L88 124L92 123L95 122M38 97L35 98L31 99L28 100L25 99L21 98M367 154L370 152L372 149L376 148L379 149L382 150M264 102L262 105L260 108L260 112L260 115L261 118L260 122L258 124M28 230L25 229L21 229L18 229L14 231L12 233L8 234L5 236M416 102L418 105L418 108L418 112L420 115M335 233L337 230L340 228L344 227L346 224L349 223L351 220L353 217M560 207L558 210L557 214L557 217L559 220M224 52L226 50L228 47L228 43L228 40L226 37L226 33L228 30M187 107L186 111L185 114L185 118L186 121L188 124L190 127L192 130M249 68L252 68L255 70L258 73L260 75L263 77L267 76L270 78L271 81M290 68L292 66L295 64L298 62L300 59L302 56L302 53L302 49M267 186L266 189L264 192L261 194L258 196M473 60L473 57L474 53L476 50L479 49L483 49L486 51L489 52M203 245L204 242L206 239L208 237M141 68L143 71L145 74L145 77L143 80L140 82M216 56L213 56L210 54L208 51L208 48L208 44L205 42L202 41L199 40M558 109L560 112L562 114L565 115L569 117L572 118L574 121L575 124L578 127M550 106L547 106L543 107L540 109L536 109L533 111M101 158L97 156L94 158L92 160M596 161L599 159L600 156L603 153L606 152L609 150L612 148L615 148M526 77L523 78L520 79L516 78L513 77L509 77M128 203L131 203L135 204L138 206L141 206M597 36L594 38L592 41L591 44L591 48M42 49L46 48L49 46L50 43L53 41L57 40L60 41L64 41L67 42M350 113L353 115L356 117L360 116L363 117L366 116L370 115L373 115M333 210L332 207L331 203L328 201L325 199L323 197L320 195M138 175L137 178L134 180L132 183L131 186M586 85L583 84L580 85L576 87L573 86L570 85L566 84M458 122L459 126L458 129L455 131L453 134L450 135L447 137L445 140M186 273L190 273L193 273L196 272L199 270L203 269M501 211L498 209L496 206L493 205L490 203M606 168L607 165L608 161L611 159L613 156L615 153M536 245L540 245L543 248L544 251L544 254L545 258M254 78L256 81L259 82L263 82L266 83L269 84L272 85L276 84M390 179L387 178L383 179L380 178L377 177L373 176M373 259L375 262L376 265L378 268L378 272L379 275L381 277L385 278L387 280M614 148L612 145L612 141L610 139L609 135L610 132L612 129M448 236L451 235L454 233L458 233L460 230L463 228L466 228M423 39L426 38L429 37L433 36M448 98L447 95L445 92L444 89L444 85L446 82L449 80L452 80L455 82M172 193L173 197L175 200L177 202M24 211L25 214L26 218L25 221M52 29L55 30L58 33L58 36L57 39L55 42M396 68L395 72L392 74L389 74M616 51L613 54L610 55L606 54L603 53M171 162L173 160L177 159L180 157L180 154L183 152M524 44L525 47L526 51L526 54L527 57L530 60L533 62L536 63L539 64M203 243L200 246L198 248L195 249L191 250M444 177L446 180L445 183L444 186L444 190L443 193L445 196L447 199L449 202M349 54L351 51L354 50L356 47L358 44L358 40M117 172L120 171L122 168L126 166L129 167L131 169L135 171M335 239L335 235L333 233L332 229L329 227M166 106L163 104L159 103L156 101L153 100M258 92L261 94L265 94L268 95L272 94L274 91M492 202L489 200L486 198L483 199L479 199L476 198L473 198L469 199M655 127L655 123L658 121L659 118L660 114L659 111M309 141L312 139L316 139L319 140L322 138M546 50L548 48L550 45L552 42L555 40M18 150L17 147L17 143L18 140L17 136L18 133L21 130M326 256L329 256L333 257L336 258L339 259M332 31L335 30L339 29L341 27L345 26L348 25L351 27L355 26M311 88L307 87L305 84L304 81L302 77L302 74L302 71L301 67L300 64M39 272L38 275L36 278L34 281L31 283L28 283L25 282L21 282M590 105L590 102L590 98L593 96L596 95M657 153L655 150L653 146L650 145L647 143M85 274L88 274L91 276L93 279L96 281L99 283L102 283L106 282L109 281M217 49L218 52L218 56L220 59L223 61L225 64L227 67L230 69L233 70M90 117L89 120L88 123L86 126L86 130L87 133L87 136M604 105L603 108L602 111L600 115L598 117L595 119L593 122M152 238L149 236L146 235L144 232L144 228M468 218L470 221L470 224L471 227M563 67L559 66L557 64L553 63L550 63L546 63L543 63M130 122L127 123L123 122L120 123L118 126M374 253L378 252L380 250L383 247L385 245L388 242L391 240L394 239L396 236M41 157L38 155L35 153L32 152L28 151L25 151L22 150L18 150M331 90L335 90L338 92L339 95M466 142L468 145L470 148L472 151L474 154L477 155L481 156L484 157L487 155M339 105L343 104L346 105L350 104L353 103L357 104L360 103M432 176L435 174L439 173L442 174L445 176L448 178L451 179L454 179L458 179M154 267L155 270L156 273L157 276L160 279L162 282M629 41L632 43L635 45L638 47L641 49L643 51L645 54L646 58M177 232L181 230L184 229L185 226L186 222M578 175L581 178L583 181L583 184L584 188L583 191L581 194M333 96L335 99L335 103L337 106M298 67L299 64L299 60L298 57L296 54L296 51M147 257L149 255L152 253L153 249L156 248M460 36L461 39L461 43L460 46M301 29L303 32L305 35L308 36L311 39L312 42L311 45L309 49L307 51M92 145L95 144L99 144L102 145L105 146L108 149L111 150L114 152M474 31L477 29L480 28L483 26M562 121L565 119L569 119L571 122L574 124M17 215L21 216L24 215L27 214L31 214L34 214L37 217M378 264L375 264L371 264L368 266L365 267L362 268L359 270M203 175L205 178L207 181L208 184L211 186L215 187L218 187L221 188M380 43L379 40L377 37L377 33L376 30L374 27L373 24L372 21M518 57L517 53L517 50L518 47L519 43M259 113L258 110L258 107L257 103L259 100L259 97L261 94M89 118L86 120L83 122L82 125L82 129L82 132L82 136L79 138L76 140M434 114L435 110L435 107L433 104L430 102M178 153L181 150L183 148L184 144M594 147L597 150L600 151L603 151L606 150L610 150L613 152M243 54L246 52L249 51L253 50L256 52L259 54M293 29L290 27L288 24L285 22L284 19M96 178L96 174L95 171L94 168L91 165L87 165L84 165L81 167L77 166M13 151L10 152L7 152L3 152L0 154M536 77L532 75L529 76L526 78L524 80M641 120L640 123L641 126L640 130M222 70L224 73L225 77L226 80L227 83L228 86L228 90L230 93L229 97M449 31L449 34L451 37L451 40L450 44L449 47M134 77L134 74L135 70L135 67L133 64M397 51L400 48L402 45L405 43L408 44L412 44M221 261L224 261L228 262L231 261L235 262L237 265L238 268L239 271L240 275M225 143L223 140L221 138L219 135L218 132L219 128L222 126M279 118L281 114L284 112L287 111L291 112L294 112L297 110L299 107L301 104M575 251L572 249L569 249L565 249L562 249L559 248L555 248L553 250L549 251M658 213L658 216L657 219L657 223L655 226L652 227L650 230L647 232L645 234M228 57L227 60L227 63L228 67L230 69L232 72M656 43L654 40L653 36L654 33M481 65L481 69L483 72L486 74M50 202L54 203L56 206L59 208L61 210L60 214L59 217L57 220M138 241L135 243L134 246L131 248L129 251L127 254M472 259L476 258L478 255L481 254L484 253M338 261L340 264L339 267L339 271M171 237L174 240L177 241L181 241L184 240L187 241L191 241L194 240L197 238M332 118L334 115L337 114L341 113L344 113L348 113L351 112L353 109M271 207L272 203L273 200L276 199L280 199L283 200M479 68L482 67L485 65L487 62L488 59L489 55L490 52L491 49L491 45M171 253L167 253L164 255L161 256L158 255M493 107L490 106L487 103L484 102L482 99L480 96M573 244L574 241L577 239L580 237L581 234L583 231L584 228L584 224L584 221M545 79L547 82L550 83L553 84L555 87L557 90M563 185L567 185L570 185L574 186M548 148L550 151L551 154L553 157L556 159L559 161L561 164M148 203L152 203L155 203L158 205M430 262L429 259L428 255L430 252L433 251M293 77L290 75L286 75L283 77L280 77L277 79L274 81M658 90L657 87L655 84L655 81L656 78L657 74M43 194L40 196L37 197L33 197L30 199L29 202L28 206M23 184L24 187L24 191L22 194L20 197L19 200M316 120L318 117L321 115L324 114L327 115L330 118L331 121L332 124M169 100L171 97L173 95L173 91L175 88L174 85M160 179L159 176L160 172L159 169L159 165L160 162M577 209L579 212L582 213L584 215L587 217L590 219L593 221L596 223M380 43L382 41L386 39L388 37L392 36L395 34L398 33L401 31M483 35L481 32L480 29L478 26L475 25M438 55L439 58L438 61L436 64L436 68L435 71L434 74L432 77L430 80M440 28L437 30L435 32L433 35M134 228L137 230L140 232L143 233L146 235L149 237L151 240L151 243L153 246M22 215L22 212L21 208L23 205L24 202L27 200L29 197L32 196L35 193M488 201L492 202L495 203L498 201L502 201L505 202L509 201L511 198M19 252L22 253L26 253L29 254L31 257L35 258L38 256L42 256M343 73L340 71L337 69L334 68L331 66M107 53L110 53L114 55L115 58L115 61L113 64L113 67L112 71M577 169L573 167L570 168L567 169L564 172L564 175M132 122L134 124L138 126L141 125L144 124M519 162L521 159L524 157L527 156L530 153L532 151L536 150L538 148M428 102L428 105L428 109L427 112L427 115L426 119L428 122L429 125M643 169L640 171L637 173L635 176L632 177L630 180L629 184L627 186M117 205L120 203L122 200L124 197L126 195L127 192M162 142L164 139L166 136L170 135L173 133L175 131L176 127M607 225L604 227L603 230L600 232L597 234L594 235L591 237L589 240L587 243M358 174L361 176L364 177L367 178L371 178L374 177L376 175L378 172M460 60L459 63L459 66L461 69L463 72L464 76L466 79L466 82M112 111L109 113L108 116L106 119L103 121L100 121L96 121L93 121L90 120M585 178L582 177L578 177L575 179L572 180M554 266L557 268L559 270L561 273L564 276L566 278M43 147L46 146L50 146L52 143L56 143L59 143M552 175L556 176L559 177L562 177L566 178L569 177L572 175M561 31L563 34L566 35L569 38M205 271L206 267L206 264L208 261L210 258L212 255L213 252L212 248L213 245M176 204L179 204L183 205L185 207M516 232L513 235L511 238L511 241L509 244L506 246L502 246L499 245L496 246M502 213L502 210L503 206L506 204L509 202L512 202L515 202L519 200L521 197M388 213L385 215L382 217L378 218L375 220L372 219L368 219L365 220L362 219M297 259L293 258L290 260L287 261L284 262M542 192L538 193L535 195L532 195L528 194L526 192L523 190L520 188L516 187M477 253L475 250L475 246L476 243L474 240L473 236M655 177L659 177L662 179L664 182L668 183M263 85L266 86L269 85L273 85L276 85L280 85L282 82M569 60L569 64L571 67L573 69L573 73L575 76M536 257L535 261L534 264L535 267L534 271M510 260L507 263L504 263L502 266L499 268L496 270L495 273L492 275L488 276M75 264L73 261L71 259L67 258L66 254L65 251L66 248L66 244L67 241M47 85L46 88L44 91L41 93L37 94L34 94L31 93L27 92L24 93M205 101L202 102L198 101L195 102L192 103L189 106L189 109L189 113M437 154L438 151L441 148L444 147L446 144L448 141L450 138L452 136L454 133M544 177L546 174L549 172L550 169L551 166L551 162L553 159M397 96L400 95L404 96L407 98L409 101L412 102L416 101L419 101M401 195L400 191L398 189L397 185L394 183L391 181L388 179L385 178L384 174M22 136L23 133L24 130L25 126L23 123L20 122M158 242L157 246L156 249L157 253L160 255L161 258M308 133L309 136L311 139L312 142L316 144L319 144M77 74L74 76L71 77L68 78L65 80L62 81M160 201L162 199L164 196L165 192L167 190L170 188L173 186M147 221L150 220L153 218L157 217L160 217M61 159L62 156L61 152L62 149L62 145L63 142L62 139L63 135M345 173L345 169L345 166L344 163L341 161L337 160L335 158L331 157M655 66L652 64L650 62L647 59L647 56L648 53L648 49L649 46L652 44M495 262L492 265L489 266L485 265L482 266L479 267L475 268L472 266L470 263M559 222L559 219L560 216L559 212L557 209L554 207L552 205M30 190L32 193L33 196L36 199L37 202M503 125L506 128L507 131L506 135L508 138M245 81L242 84L240 86L239 89L237 93L236 96M184 118L186 122L188 124L190 127M508 111L506 113L504 116L503 120M411 164L407 163L404 163L400 163L397 164L394 166M311 150L314 148L315 144L315 141L318 138L321 138L325 137L327 134L329 131M357 35L354 35L350 35L348 38L344 39L342 42L339 43M476 219L474 216L470 216L467 216L463 215M226 200L224 203L224 206L225 209L225 213L227 216L230 217M153 258L154 255L153 252L152 248M605 71L605 68L605 64L604 61M627 61L630 64L631 67L634 68L637 70L640 72L642 75M97 107L93 108L91 111L89 114M237 106L234 104L231 105L228 106L224 106L221 104L217 104L214 103L212 101M431 113L432 110L434 107L438 106L441 107L444 109M410 115L409 112L408 108L406 106L404 103M442 133L441 136L440 139L439 143L439 146L437 149L435 151L431 151M204 252L206 249L206 246L204 242L201 241L199 238L195 238L192 238M240 207L244 208L247 208L250 207L253 204L255 202L257 198L260 197L263 195M515 134L518 136L520 139L521 142L521 146L521 149L521 153M62 224L66 223L68 220L70 218M273 180L269 180L266 181L262 180L259 181L255 180M270 54L272 56L276 57L279 59L281 62M497 225L498 228L496 231L494 234L491 236L489 239M117 164L114 161L111 161L108 159L105 156L102 155L100 152M292 123L290 119L289 116L287 113L285 111L282 108L279 108M463 92L466 92L470 91L473 92L476 93L479 95L483 96M69 264L72 263L76 263L79 264L83 264L86 263L89 261L92 259M132 162L131 158L130 155L130 151M146 126L145 129L143 132L142 135L143 139L141 142L140 145M224 236L224 240L225 243L226 246L228 249L231 251M653 258L650 258L646 259L644 261L641 263L639 266L637 269M396 81L396 78L394 75L391 73L388 73L385 75L382 77M642 156L639 158L638 161L638 164L640 168L642 170L644 173M487 66L487 62L488 59L487 55L487 52M572 258L573 255L576 253L578 250L580 247L584 247L587 247L591 247M351 154L354 156L357 157L361 157L363 155L365 151L365 148L365 144M562 259L564 256L566 254L569 251L572 250L575 248L576 245L577 242M65 65L62 66L60 69L59 72L56 74L52 75L49 76L46 76M264 168L265 165L266 162L267 158L269 155L270 152L270 148L271 145L274 143M623 159L623 155L626 153L629 151L632 151L635 153L636 157L639 159L642 161M104 178L100 178L97 180L94 182M250 219L247 220L244 221L240 221L237 224L234 224L231 226L230 230M133 174L133 170L134 167L134 164M234 63L238 61L239 58L242 57L246 55L249 55M344 54L341 54L337 54L334 52M48 128L50 125L51 122L54 120L56 117L57 114L60 112M609 122L609 119L608 116L605 114L603 111L601 108M588 171L591 169L595 169L598 168M626 83L629 84L632 87L634 89M624 83L625 87L625 90L625 94L628 96L631 98L633 100M235 124L236 127L236 131L237 134M136 121L139 119L143 119L146 117L149 116L151 113L153 110M382 246L385 244L388 243L392 242L395 242M566 47L567 50L567 53L566 57L566 60L564 63L562 66M433 191L436 189L438 187L441 185L444 183L447 182M207 72L208 75L208 78L207 82L207 85L208 88M614 239L618 239L620 242L623 244L624 247M29 197L33 196L35 193L36 190L39 188L43 188L46 186L48 184M408 102L411 104L413 107L415 110L417 112M576 211L579 209L581 206L583 204M201 27L203 30L204 33L207 36L210 37L212 40L213 43L215 46L217 49M294 209L291 211L290 215L287 217L284 218L281 219M74 271L77 273L81 273L84 272L87 270L90 268L92 265M595 237L594 240L593 244L591 246L588 247M440 181L443 181L447 180L450 181L453 180L457 178L459 175L459 172M369 188L372 185L374 182L377 181L380 178L381 175M39 32L38 35L38 38L40 41L41 44L40 48L38 50M162 112L159 114L156 117L153 117L149 117L146 117L142 116M129 51L125 50L122 52L120 54L116 55L113 56L110 58L108 60M361 75L358 77L354 76L352 74L348 73L345 71L343 68L341 66M132 190L131 193L131 197L132 200L131 204L132 207L135 209M594 113L597 113L600 114L602 117L603 121L603 124L604 128M391 39L389 40L387 43L385 46L383 49L379 50M79 59L76 61L73 62L70 64M173 88L171 85L170 82L169 79L170 75L170 72L170 68M607 46L606 42L604 40L603 36L603 33L603 30L600 27M486 39L483 40L480 42L477 44L473 45M638 260L635 258L633 256L632 252L631 249L630 246M227 206L228 202L229 199L231 196L233 193L235 191L237 187L238 184L240 181M203 150L205 152L206 156L206 159L207 162L209 165L211 168L214 171L215 174M559 212L561 215L563 218L565 221L567 224L568 227M183 173L182 176L179 178L175 178L173 181L169 182M253 162L255 164L258 166L260 169L261 172M101 95L104 97L107 98L109 101L111 104L111 108L108 111M225 96L223 99L221 102L220 105L220 109L219 112L218 116M234 240L237 238L240 237L242 235L245 233L249 232L252 234M43 97L41 94L38 92L35 92L32 93L28 94M18 223L15 225L12 226L9 225L5 226L2 226M97 125L95 128L93 131L92 134L89 136L86 137L85 141L83 144L81 146M21 233L22 229L23 226L25 223L26 219L28 217L31 215M639 180L635 182L632 181L629 183L628 187L628 190L627 194M371 148L373 145L376 143L379 141L382 139L383 136L386 134M368 265L365 263L362 262L358 261L356 259L354 256M19 153L23 151L26 151L29 149L33 150M331 217L334 218L338 218L341 220L343 222L347 223M347 200L344 198L340 199L337 199L333 199L330 198M524 250L526 252L529 254L532 256M194 109L191 107L187 106L186 103L184 100L183 97M339 113L339 110L339 106L340 103M339 127L338 124L337 120L335 118L332 116M175 132L173 129L171 126L169 123L169 120M658 92L655 94L652 94L648 95L646 98L644 101M41 135L44 137L47 139L49 141L50 144M137 241L133 242L130 241L127 239L123 240L120 239L117 239L113 240L110 241M13 150L13 146L14 143L15 139L14 136L12 133L9 132L5 132L2 133M182 52L180 49L179 46L177 44M561 119L563 122L567 122L570 124L572 126L576 128L577 131M566 248L570 246L573 245L575 242L577 239L578 236L577 233M281 273L278 274L274 273L271 275L268 274L264 274L261 275L258 277L255 278M34 57L36 60L36 64L38 67L40 69L41 73L44 75M596 122L593 119L590 119L586 118L583 116L580 115L577 114M639 219L636 219L633 221L630 221L626 219L623 220L619 220L617 218M406 265L403 262L403 259L403 255L403 252M154 80L157 81L161 82L163 85L164 89L166 91L169 93L172 95M155 106L156 110L156 113L156 117L154 119L151 122M237 115L239 113L241 110L242 107L245 105L248 103L252 103L254 100L257 98M465 241L466 237L468 235L469 232M83 125L81 122L78 121L75 119L71 119L68 119L65 121M205 40L202 40L198 39L195 41M68 273L65 275L63 278L63 281L60 284L56 284M219 256L221 258L224 260L227 260L231 262M259 96L259 92L260 89L261 86L261 83L262 79M564 156L565 159L566 162L567 166L566 169L564 172L562 175L562 178M24 163L27 166L27 169L27 173L29 176L31 179L34 181L37 181M390 111L393 111L396 108L397 105L398 102L400 99M52 250L52 247L49 244L47 242L44 240L40 239L37 239L34 237L31 237M257 253L257 250L258 247L258 243M183 48L180 46L178 43L177 40L176 37L173 34L172 31M324 200L323 203L323 207L322 210L321 213L319 216L317 219L316 222L315 226M421 137L425 139L428 138L430 136L434 134L436 132M579 267L581 270L581 274L579 277L579 280M452 216L455 214L458 214L461 215L465 217L467 219M527 207L524 209L522 212L523 215L522 219L524 222L523 225L520 228M531 62L531 65L529 68L527 70L524 72L521 74L518 75M537 74L533 74L530 72L527 73L523 72L520 74M278 91L275 94L272 95L269 95L265 96L262 96L259 97L256 100M296 43L293 46L291 48L288 51L286 54L286 57L286 60L287 64M250 270L252 273L253 276L253 280M31 95L31 98L30 102L27 104L25 106L22 108L18 108M323 63L324 60L325 57L326 53L324 50L323 47L324 43L323 40L323 36M481 165L481 169L480 172L480 176L480 179L481 183L479 186L479 189M327 216L324 217L321 219L318 219M551 253L548 255L545 257L541 256L538 256L535 254L533 251L532 248M224 75L225 71L223 68L221 65M35 85L32 82L31 79L29 76L29 72L29 69M11 112L9 109L8 105L7 102L4 100M91 82L90 85L88 88L86 91L83 93L81 96M124 144L122 147L119 149L117 152L114 153M660 59L661 56L663 53L666 51L668 49L669 45L672 43L674 41L678 39M254 139L251 141L247 142L244 144L241 145L238 147L235 148L232 150L228 150M347 85L344 84L341 83L338 81L335 79L331 79L329 77M276 130L272 132L270 134L267 137L267 140M292 59L294 62L296 64L299 67L299 70L299 74M180 115L177 118L174 118L171 121L169 123L166 126M299 229L295 230L292 232L289 231L285 230L282 232L279 233L276 234M26 33L23 30L22 27L23 24L22 20L22 17L21 13L20 10L21 7M563 248L567 247L570 249L573 251M622 92L623 95L626 98L630 98L633 97L636 99M533 139L531 142L528 143L525 146L522 147M56 92L56 95L57 99L58 102L56 105L54 108L51 109L48 111L45 113M113 240L117 240L120 241L123 240L126 237L129 236L132 234L135 234L138 236M350 261L353 259L356 257L358 254L359 250M227 103L228 99L231 97L232 94L235 92L239 91L242 93L245 95M482 230L485 228L488 227L491 225L493 222L496 221M365 263L362 264L359 266L356 267M657 101L660 103L663 103L667 101L670 100M320 147L318 145L315 144L312 144L308 144M265 117L265 121L266 124L266 128M561 70L561 67L562 63L563 60L565 58L568 56L572 55M247 247L244 246L241 245L238 242L236 239L236 236L237 233L238 229L239 226M320 111L317 113L313 113L310 112L307 111L303 110M535 162L537 159L539 157L541 154L543 151L544 147L546 145L547 141M534 145L534 149L534 152L534 156L534 159L535 163M430 171L427 174L424 176L422 178M406 75L409 75L412 73L415 71L418 69L421 69L425 69L427 72M371 38L368 37L367 33L365 30L363 28L361 25M88 259L89 263L90 266L91 269L93 272L94 276M211 150L209 147L206 145L204 142L203 139L201 136L201 132L202 129M638 72L637 69L635 66L634 63L635 59L637 57M236 229L237 232L239 235L242 238L243 241L243 244L243 248M359 99L356 98L353 96L349 95M329 175L332 174L335 173L339 173L342 173L346 173M88 197L92 198L95 200L96 203L98 206L98 210L96 213L94 215L93 219M67 56L70 58L73 60L74 63L75 67L76 70L77 73L80 76L82 78M406 109L404 112L403 115L400 117M478 199L481 198L484 200L488 201M414 82L413 78L415 75L416 72M569 84L567 87L566 91L564 94L562 96M255 229L254 233L252 235L248 236L245 236L242 238L238 239L235 239L232 237M406 233L409 230L410 227L410 224M583 248L584 245L585 241L587 239L589 235L592 233L592 230M553 246L552 243L550 240L549 237L550 233L550 230L549 226L548 223L550 220M37 226L37 222L38 219L37 216L37 212L37 209L36 205L34 202M54 73L56 70L58 68L61 66M280 38L277 37L274 37L270 37M648 41L645 43L642 44L638 43L635 43L631 44M231 183L228 186L225 188L222 187L218 188L215 189L212 188M208 53L206 50L207 46L206 43L204 40L201 38L200 35L199 31L200 28M437 111L434 108L431 108L428 106L425 105L421 105M165 231L168 230L171 228L173 225L177 224L180 223L183 221L186 220M373 269L375 267L378 264L379 261L380 257L381 254L381 251L381 247L378 245M539 103L542 101L545 101L549 101L552 100M86 164L84 161L82 159L79 157M137 34L134 35L130 34L127 34M401 137L400 140L402 143L403 147L403 150M280 133L283 135L287 136L290 134L293 133L295 130L297 127L299 124L300 121M151 89L152 92L153 95L153 99L153 102L153 106L153 109M220 213L223 213L226 212L230 213L233 215L234 218M387 76L387 72L385 69L384 66L382 63L379 61L379 58L379 54M446 64L443 64L440 62L436 61L434 58L431 57L428 57L425 58M547 209L548 213L549 216L552 219L554 221L556 224L557 228L559 230L561 233M576 204L573 202L569 202L566 203L564 205L563 209L562 212L562 216M192 153L195 155L197 158L196 162L195 165L195 169L193 172L193 175M281 152L279 154L277 157L277 160L278 163M545 54L543 52L540 50L537 48L535 45M240 235L238 238L235 240L233 243L230 245L227 246L224 246L220 245M495 223L497 220L500 218L504 217L507 217L511 216L512 213L512 209M601 39L604 40L608 40L611 39L615 38L618 38L621 36L623 33L626 32M133 69L130 71L128 74L125 76M241 230L244 227L245 224L244 221M418 123L421 122L425 122L427 125L431 126L433 128L432 132L432 135M580 91L577 91L574 88L571 87M271 103L269 101L269 97L269 94L270 90L270 87L270 83M275 28L275 25L275 21L276 18L277 15M115 105L117 108L119 110L123 111L126 112L129 114L132 115L134 118M499 265L502 266L504 270L507 272L510 273M359 185L362 186L364 189L366 192L369 193L372 195M268 204L270 207L270 211L270 214L271 217L271 221L273 224L276 226M43 153L46 154L49 157L49 160L48 163L45 165L43 168L43 172L42 175M637 136L637 132L639 129L641 127L641 123M583 218L584 221L585 225L588 227L591 228L594 229L598 228L601 227M572 48L573 51L576 53L577 57L577 60M423 232L426 234L429 235L432 236L436 238M632 263L634 266L635 269L637 272L637 276L636 279M376 149L380 148L383 148L386 147L389 145L392 143M455 181L457 179L457 175L457 172L456 168M613 125L614 128L615 132L614 135L615 138L618 140L621 141L625 140M422 134L419 135L415 135L412 137L409 139L407 142L407 145L407 149M644 272L646 275L649 276L651 279L651 282M409 60L411 63L413 66L416 67L419 69L421 72M464 184L468 183L471 184L474 186L476 189L478 191L479 195L482 197M479 198L476 196L475 193L475 189L475 186L475 182L475 179L476 175M72 200L68 200L65 199L62 200L59 202M494 134L492 137L490 140L488 142L488 146L489 149L489 153M466 232L470 233L472 230L475 229L479 227L480 224L480 221M353 65L349 64L347 61L346 58M621 64L617 64L614 63L612 59L610 57L608 54L605 53L601 51M17 134L19 137L20 140L21 143L21 147L20 150L19 153M342 157L343 161L344 164L344 167L345 171L347 174M504 50L508 50L511 52L514 52L518 51M147 189L144 188L140 189L137 189L134 189L131 187M608 240L607 237L604 234L601 234L598 235L595 236L591 236L588 235L584 235M536 142L538 139L539 136L541 133L544 131L547 129L550 127L550 123L551 120" fill="none" stroke="rgb(226,168,158)" stroke-width="0.45" opacity="0.8"/>
<path d="M512 95L513 92L513 88L511 86L508 84M486 178L486 174L487 171L486 167L487 164L486 161L485 157L483 154M555 150L552 147L550 144L548 141L546 139L544 136L541 134L540 131M374 253L372 256L370 259L370 262L372 265L371 269L371 272L371 276M564 89L568 90L571 91L574 90M17 218L20 216L21 212L22 209L22 205L20 202L17 200M329 245L328 248L329 252L328 255L326 258L326 261L328 264L329 267L332 270M98 95L96 98L93 99L89 99L86 101L84 104M11 159L15 159L17 162L19 165L20 168M152 203L150 206L150 209L148 212L145 214L143 217L139 217L136 217M342 37L339 36L336 36L333 34L331 31L331 27L330 24M18 257L19 254L19 250L18 247M218 55L220 52L224 51L227 51L230 49L231 46L230 42L230 39L229 36M86 223L89 225L92 226L96 226L99 227M517 65L514 64L511 64L508 61L504 60M326 121L329 120L331 118L332 114L330 111L328 109L325 106M641 247L638 246L635 243L634 240L635 237L638 234L639 231L640 228L643 226M645 232L648 231L651 229L655 230L658 231L661 232L664 234L667 234L671 235M443 223L446 224L449 223L453 224L456 225L460 225L462 228M25 249L26 253L28 255L29 258L29 262L29 265M108 201L111 201L114 203L118 202L121 203L124 205M282 246L284 249L283 253L280 255L278 258M627 89L628 92L627 96L624 98L620 98L618 101L615 102L611 101L608 103M361 228L357 228L354 230L352 233L351 236L351 239M128 53L131 56L132 59L133 63L134 66L134 69L134 73M281 167L283 169L286 172L288 174L290 177L294 178L297 180M103 66L103 70L103 73L104 77L103 80M486 204L485 200L485 197L487 194L490 192L493 191L496 191M505 183L508 182L510 179L511 176L511 172L512 169M647 84L646 88L646 91L647 94L648 98M289 30L292 28L296 27L298 24M177 70L176 73L174 76L174 80L175 83L177 85L179 88M427 113L424 112L422 108L420 106L418 103L418 99L419 96L418 93M441 253L439 255L435 256L432 256L429 258L426 258M44 144L48 144L51 142L54 141L57 139L58 136L58 133L59 129M468 108L465 106L461 105L458 105L455 104L452 101M406 191L406 187L408 184L410 181M521 101L520 105L520 108L518 111L516 114L514 117L511 118M193 92L190 91L187 92L183 94L180 93L177 94L174 97L173 100L171 103M521 166L517 166L515 168L513 171L510 172M412 90L409 88L405 87L402 87L399 85L396 83L394 80M21 101L18 103L16 105L14 109M76 128L79 126L81 124L82 120L83 117L86 115L87 112M57 237L61 236L64 235L68 236L71 236L74 237L78 236L81 237M442 247L440 244L438 241L436 238L435 235L434 232L434 228L433 225L431 222M107 42L107 45L108 49L106 52L105 55L103 58L101 61L98 63L95 64M523 55L524 52L527 50L529 47L533 46M612 80L615 78L618 77L621 77L625 77M349 273L352 274L355 272L358 270L362 270L365 269M603 260L602 256L602 253L604 250L605 247L607 244L610 242L614 242L617 240M259 55L256 56L252 55L249 55L245 55L242 55L239 53L238 50L236 47M264 215L263 211L265 208L268 206L271 204L273 201L276 199M54 210L52 212L50 215L49 219L48 222L46 225L44 227L40 229M617 223L616 220L615 217L613 214L610 213M528 196L531 193L534 192L537 193L540 195L544 196M119 188L122 190L125 191L128 193L129 196L129 200L127 203M575 164L577 161L579 158L581 156L584 154L587 152M405 233L405 230L406 226L408 223M543 34L546 31L547 28L548 24L547 21M539 105L538 108L536 111L532 112L529 113M525 64L525 61L522 58L520 56L517 54L513 54L510 53L508 50L505 48M64 162L64 166L65 169L67 172L70 175L72 177L76 178L79 179L82 179M261 117L264 117L268 119L270 122L272 124L275 126L277 129M623 159L622 155L620 152L617 150M209 243L206 244L202 244L199 246L197 249L195 251L191 253L189 255M530 190L533 188L536 186L538 184M206 237L203 239L201 242L200 245L198 248M230 240L230 243L231 246L231 250L232 253L232 257M476 126L473 127L469 127L466 128L463 128L459 128L456 130L453 132L451 135M326 148L327 145L328 141L331 139L330 135M548 245L548 242L550 239L551 236L552 233L554 230L554 226L556 223M588 209L591 211L593 214L595 217L595 221L593 224M642 110L640 112L637 115L634 116L632 119L629 121L626 122L622 122M448 235L448 238L450 241L453 244L455 246L458 248M181 69L180 73L180 76L183 79M229 244L229 241L229 237L231 234L234 232L236 230L238 227L240 224L243 222M162 37L162 40L161 43L160 47L158 50L156 53L155 56L152 58L149 60M622 185L621 181L621 178L621 174L620 171M441 60L442 64L444 66L445 70L444 73L444 76L442 79L439 82L438 85M347 58L346 61L343 63L342 67M231 218L228 219L225 221L221 220M32 76L34 79L35 82L34 85L32 88L28 88L25 87L21 86M270 132L267 132L263 131L261 129L260 125L258 122L255 121M326 71L322 71L319 70L315 69L312 69L309 67L306 64L303 64L300 63M344 51L347 52L350 52L354 51L357 50L360 51L363 53M123 256L126 254L127 250L127 247L129 244L131 241L133 239L135 236L138 233M45 156L47 153L49 151L52 148L55 148M476 227L479 229L482 230L486 230M181 251L179 248L178 245L178 242L178 238L176 235L174 232L172 230M610 28L613 30L615 32L619 33L621 36L624 38M489 185L488 188L488 192L488 195L489 199L491 202L493 204M43 263L45 266L48 268L51 269M180 228L177 228L173 228L170 226L167 225L164 223L161 221L158 221L154 221M15 142L18 144L21 145L24 147L27 149L29 152L32 155L33 158M70 72L72 75L75 76L79 76M27 47L24 48L21 48L18 49L16 52L13 54L11 57M425 165L422 165L418 164L415 162L412 160L409 161L405 160L403 158M297 164L299 166L303 167L306 166L309 164L312 164L316 164L319 163L323 163M291 149L294 150L296 153L297 157L299 159L302 160L306 160L309 158M136 124L137 121L136 117L135 114L136 110L137 107L136 104L134 100M495 72L498 70L500 67L500 64L499 61M515 152L514 155L514 158L512 161L509 163L506 163L503 162L501 159L498 157M460 210L458 213L457 217L456 220L456 223L456 227L455 230L454 234L452 236M591 72L593 75L596 77L599 80M391 191L395 190L398 191L402 191L405 191L408 189L409 186M542 49L541 52L540 55L540 59L540 62M100 272L98 273L94 274L91 274L88 272L85 269L85 265M349 46L351 50L353 53L353 56L351 59M214 215L212 211L211 208L210 205L209 201L211 198L213 195L214 192L214 189M626 255L623 254L621 251L621 247L620 244L619 241M435 247L437 244L440 243L443 240L446 238M12 141L14 144L17 145L20 146M27 230L25 233L23 235L20 237M156 217L158 220L161 221L163 224L163 228L165 230M649 245L647 248L645 251L644 254L641 256M160 113L160 116L162 119L162 123L161 126L160 129L160 133L158 136L157 139M516 147L517 150L516 154L515 157M119 113L118 116L118 119L118 123L118 126L117 130L118 133L120 136L123 137M330 187L329 183L330 180L330 177L328 174L325 172L323 168L322 165L322 162M231 228L228 229L225 232L222 233L221 237M386 256L386 253L388 249L387 246L384 243M188 194L192 194L195 194L198 196L201 198M481 173L481 169L481 166L483 163L486 161L489 159L492 157M525 149L525 153L527 155L530 158L534 158L537 159L540 160L544 161M283 148L279 147L276 147L273 149L269 149L266 150L262 150L259 149L256 148M59 80L61 78L61 74L60 71L60 68L61 64L61 61M496 126L497 130L498 133L498 136L499 140L499 143L501 146M591 193L588 195L585 194L581 195L579 198L577 201M647 142L644 145L641 146L639 149L637 152M462 251L463 255L464 258L464 261L464 265L465 268L466 271M490 193L493 193L497 193L500 193L503 191L506 189M180 141L177 139L173 138L170 139L167 140M173 95L173 99L173 102L175 105L177 108L180 110M386 106L383 108L380 108L377 110L374 111L370 110M157 198L158 202L157 205L155 208L152 210L150 213L148 216L147 219L146 222M350 90L349 93L348 96L349 100L349 103L349 107L350 110L353 112M126 153L127 157L126 160L126 164L128 167L131 169L133 172L135 174M615 81L615 78L618 76L619 73L622 70L624 67L627 66M413 249L410 248L406 249L404 252L403 255L404 258L405 262M430 237L428 240L429 244L431 247L434 248L436 251L436 255L439 257M167 67L165 64L165 60L163 57L161 55L158 53L155 51M574 91L576 94L578 97L579 100L580 103L580 107L578 110M590 270L586 269L583 270L580 271L576 270L574 267M208 218L208 222L209 225L208 228L209 232L210 235L212 238M493 226L496 228L499 229L503 229L505 231L509 232L512 232L516 231M140 215L138 212L139 208L138 205L136 203M463 250L463 253L461 256L461 260L462 263L462 266M406 228L409 226L412 225L415 225L419 224L422 225L425 226M616 46L617 49L618 53L616 56L613 57M437 45L435 43L435 39L434 36L433 32L431 29M306 35L309 35L313 34L316 36M211 50L213 47L214 44L216 41L217 37L216 34L214 31M285 96L282 97L280 100L279 103L279 107L276 110L276 113L274 116M547 209L551 209L554 211L556 214L558 217M38 92L41 93L44 94L47 96L50 98L53 99L57 99L60 98M456 154L455 158L453 161L453 164M398 36L395 35L393 32L391 29L389 26L387 23L387 20L387 16L387 13M408 221L411 219L414 217L415 214L414 210M464 269L462 266L461 263L459 260M204 30L208 30L210 33L211 36L210 39L207 42M72 228L72 231L73 235L75 238L75 241L74 245M292 79L296 81L299 82L300 85L301 89L300 92L298 95L295 96M241 64L245 64L248 63L251 61L253 58M24 232L26 229L27 226L28 223L30 220L32 217M132 236L130 233L127 231L123 232L120 231L116 231M306 239L306 242L306 246L306 249L309 252M73 136L73 132L73 129L74 125L74 122L76 119M631 201L630 205L630 208L630 212L631 215L633 218M136 221L132 221L129 220L126 217L124 215L122 212M326 87L323 87L319 87L316 86L313 85L309 84L307 82L304 81M644 70L647 69L649 66L652 63M126 148L129 148L132 147L136 147L139 144M530 113L529 110L527 107L527 103M138 100L141 101L145 101L148 103L150 106M388 179L391 178L395 177L398 175L401 174L404 172L407 170M302 247L302 250L300 253L297 255L293 255L290 253L288 250L286 247M599 256L597 259L595 262L594 265L593 268M179 138L182 137L185 135L189 135M181 34L183 32L183 28L183 25L181 22L179 19L176 17L174 15M306 225L302 227L300 229L297 232L296 235L294 237M165 128L165 124L165 121L166 117L167 114L169 112L173 111M626 187L623 185L620 183L617 181L614 179L611 177L609 175M610 141L607 141L603 141L600 142L597 143L593 144L590 146L589 149M584 262L587 260L590 258L592 255L595 254L599 253L602 255L605 255L609 256M542 272L541 276L543 279L544 282L542 285L540 288M479 56L477 54L474 53L470 53L467 52L465 49M638 37L640 34L643 32L645 29L645 26L647 23L649 20L649 17L650 13M460 222L461 219L462 215L465 213M597 185L601 185L604 185L607 187L611 187L614 187L617 186M185 126L187 123L187 120L184 117L182 115L179 112M437 241L439 239L440 235L440 232M306 143L307 140L308 136L310 133L313 131L315 128L315 125M461 33L463 30L465 28L468 25L468 21L471 19L474 17M582 144L583 147L581 150L578 152L577 156L577 159L578 162L578 166L577 169M595 177L599 176L602 176L606 176L609 175L613 175M147 239L151 240L153 242L156 244L159 246L161 249L162 252L162 256M185 136L184 133L182 130L179 128L177 125L177 122L176 119L174 115L173 112M516 193L519 192L521 189L524 187L527 186L530 183L530 179L530 176M292 38L289 37L286 35L284 32L282 29L280 26L280 22L279 19M565 225L565 221L566 218L566 214L567 211M238 102L237 106L236 109L238 112L239 115L240 119L239 122L237 125M616 168L618 164L618 161L615 158L613 155L612 152M216 267L216 271L217 274L218 277L218 281L219 284L218 288L215 290L212 292M619 67L616 65L614 62L615 58L616 55L616 52L618 48L619 45L619 42M10 216L13 216L16 218L20 219L23 220L25 223L25 227L26 230L24 233M477 245L474 247L471 249L467 250L464 251L461 251L457 250L454 249M122 137L119 137L116 139L114 142L111 144L109 147L108 150L107 154L105 157M287 94L284 92L281 90L280 87L280 83L281 80L283 77L286 75M83 168L81 171L79 174L76 176L73 177L70 178L66 179M416 184L413 185L410 186L406 187L403 188L400 190L399 193L396 196M621 137L618 135L616 133L613 131L612 127L610 125L606 123L604 121L602 118M74 259L70 259L67 258L64 257L60 257L57 259L54 260M53 240L50 241L47 243L44 244M370 88L368 90L368 94L367 97L368 100L369 104L369 107L371 110M619 212L617 214L614 217L612 219M436 226L436 223L435 220L433 217M338 89L339 85L338 82L335 79L334 76L332 73L332 70L330 67M410 239L408 242L405 244L404 248L405 251L407 254L408 257M382 198L382 194L382 191L382 187M276 109L276 112L278 116L280 118M579 57L577 54L575 52L574 48L576 45L579 43L582 41L585 39M172 186L169 187L165 188L162 188L159 187L156 185L156 181L157 178M550 233L552 235L554 238L555 241L556 245L558 248L561 250M425 203L429 203L431 206L432 209L433 213L432 216L431 219L429 222L426 224M593 141L593 137L594 134L595 131M563 85L560 84L557 83L554 80L551 79L548 76L546 74L547 70L547 67M129 237L125 238L122 237L119 238M345 41L347 38L349 36L353 34L356 35L359 36L362 38M589 267L590 270L592 272L596 274L599 275L602 275L605 277M131 35L128 34L124 34L121 35M382 68L378 67L375 65L374 62L372 59L368 57L367 54M313 227L314 230L317 232L318 236L318 239L319 242L320 246L318 249M521 195L520 191L517 189L516 186L513 184L511 181L508 179M637 60L634 62L631 62L627 61L624 59M610 180L608 183L607 186L606 189L607 193L606 196M540 263L539 260L539 256L541 253L540 250M603 259L599 260L597 262L594 264L592 267L589 269L587 272M172 105L170 102L168 99L166 96M164 146L162 144L158 144L155 143L153 140L150 138L149 134M220 195L221 191L222 188L223 185L223 181M163 189L167 188L170 187L173 187L177 187L180 188L184 189L186 192L189 193M656 30L655 26L654 23L651 21L648 19L644 18L642 16L641 13M632 112L631 116L633 119L634 122M398 73L402 73L405 74L408 73L412 72L415 71L417 68M100 126L97 125L95 122L91 121L89 119M591 192L593 189L594 186L597 184L601 185L603 187M254 271L256 273L256 277L256 280L253 283L252 286L252 290L251 293L251 296M122 77L122 81L122 84L124 87L127 89M405 99L409 100L412 99L415 97L418 96L420 93L422 90M334 102L337 102L341 102L344 100L347 99L351 99L354 99M622 61L625 60L627 56L627 53L628 50L629 46L631 43M425 265L423 268L423 272L425 275L426 278L427 281M553 265L550 265L546 265L543 265L540 262L537 260L535 257M339 217L341 214L344 213L346 210L349 208L352 206M561 60L561 57L562 54L561 50L560 47L559 43L559 40L558 37L557 33M653 55L656 57L659 58L663 58L666 57L669 56M485 273L486 270L484 267L482 264L481 261M140 110L137 108L134 108L130 108L128 110L125 112L124 115L125 119L125 122M143 234L146 232L148 229L148 226M507 172L511 171L514 171L517 171L521 171L524 172L527 173L531 173M334 251L335 247L333 244L331 241L331 238L332 234L332 231M305 124L302 125L298 126L295 125L292 124L288 123M591 42L591 39L590 35L588 32L586 29L585 26M125 226L128 225L131 223L135 222L138 223L141 221L144 219L146 216L147 213M599 257L599 253L599 250L597 247M480 93L477 91L474 88L471 87L468 87M116 181L115 178L112 176L110 174L106 174L103 175L100 177M452 171L450 168L447 166L444 163M306 131L304 134L301 136L298 138L295 140L292 142L289 141M81 146L83 143L84 140L85 137L88 134L90 132L92 129L92 125L92 122M214 74L214 78L217 80L220 81M430 215L428 218L427 221L425 224M457 187L461 188L463 191L464 194L463 197L460 200L459 203L456 206L454 208M120 244L123 245L126 245L130 243L133 243L137 243L139 245L143 246L145 249M431 163L435 163L438 165L440 168M229 38L226 40L223 41L221 44M167 237L170 237L173 238L175 242L175 245L173 248L171 251L170 254M473 238L472 241L469 243L467 246L465 249L462 251L461 254M64 113L60 114L57 115L54 116L50 117L47 118L43 118L40 119L37 120M602 189L598 188L595 189L592 190L588 189L585 190L582 191L579 193L576 195M124 45L127 48L130 50L132 53L135 54L138 56L140 59M641 212L644 210L647 209L650 207M459 163L462 165L465 166L468 169M369 115L367 118L363 119L360 121L357 121L354 123L352 126L351 129L351 132M577 222L580 223L582 226L582 229M396 121L400 122L402 124L404 127M459 173L463 174L466 172L470 173L472 175L474 179L474 182L474 186L475 189M372 28L370 30L370 34L370 37L369 41M346 210L349 211L352 212L356 211L359 211L363 212L366 211L369 209L370 206M541 177L540 180L541 183L540 187L537 189L533 188L530 187L528 184L526 181M306 147L307 143L305 140L305 137L306 134L306 130L307 127L306 123L304 120M197 66L197 62L195 59L192 58L190 55L188 52L186 49L186 46M253 220L253 224L254 227L257 229L259 232L261 235L262 238M539 196L538 200L536 202L534 205L531 207L528 208L525 209L521 210L518 210M20 44L18 42L16 39L13 38M601 266L603 263L606 262L610 263M591 241L595 241L598 243L600 246L602 249L602 252L603 255M407 186L410 185L413 183L417 184L419 186L422 189M34 172L31 173L28 175L24 174L21 172L18 172L14 172L11 173M329 262L333 262L336 262L340 263L343 263L347 262L350 261L353 260M281 35L284 36L288 36L291 35L294 33L298 32L301 33L305 33M133 49L132 46L132 42L134 40M223 222L225 224L228 227L231 229M584 208L585 205L587 203L590 201L593 198M533 88L536 87L540 88L542 90L545 92L547 95L548 99M363 97L364 94L366 91L368 88L371 87L375 86L378 87L382 88M124 250L127 248L129 246L132 244L135 243L137 240M643 128L642 124L641 121L639 118L637 116L635 113L633 110L630 107M277 219L273 221L270 222L269 226L265 227L262 228L259 228M18 28L21 26L24 24L27 23L31 23L34 25L37 27L40 28M144 109L147 107L149 105L153 105L156 105L159 107M497 65L494 67L492 70L491 73L488 76L487 79L485 82L485 85M111 103L114 105L117 105L120 107L123 109L127 109L129 111L133 112M112 111L108 110L106 107L106 103L105 100L103 97L102 94L101 90M447 232L446 228L443 226L440 224L439 221L440 218M62 56L65 54L68 53L71 51L72 47M308 69L304 68L301 67L299 65L296 63L292 62L289 63L285 63L282 62M318 75L316 77L313 80L310 81L306 80M12 235L12 239L11 242L9 245M108 69L107 72L104 75L103 78L104 81L106 84L109 86L112 88L116 87" fill="none" stroke="rgb(180,175,182)" stroke-width="0.35" opacity="0.7"/>
<path d="M636 216L636 224L636 232L637 240L641 247L648 251L652 258L654 265L660 271M398 78L391 75L386 69L384 61L383 53M568 103L576 106L580 113L582 121L584 128L586 136L592 141L596 148M230 45L238 46L246 46L252 52M467 185L475 186L483 187L489 192L492 199M154 247L149 253L144 260L137 263L129 267L126 274M197 172L195 164L197 157L203 151L207 144L206 136L206 128M248 269L256 268L264 269L271 272L279 275L284 281L287 289M89 229L97 229L105 229L113 226L121 226L128 229L136 228L144 231M484 205L481 198L482 190L482 182L486 175L492 169M230 115L235 121L243 124L250 128L258 127L266 126L273 128L281 131M141 221L149 220L156 222L163 225L169 231L170 239L169 247L169 255M293 179L286 184L278 185L270 186L263 189L255 188M202 196L209 191L213 184L218 178L225 174L233 172L239 167L247 164L251 157M557 211L559 218L564 225L569 231L576 235L582 241M78 36L81 43L87 48L95 49M267 111L275 109L280 103L287 99L290 91L297 87L302 81L308 76M604 138L602 146L604 153L608 160M69 161L75 166L78 173L77 181L74 189M24 114L18 109L11 107L3 110L-5 107L-13 107L-19 102L-26 99L-34 101M218 239L219 232L225 226L229 219L234 213L242 211L250 212L257 209M433 138L435 146L441 151L449 152L457 153L464 157L468 164L468 172L470 180M493 162L494 170L498 177L499 184L498 192L499 200L505 206L512 210M364 102L367 95L373 90L378 83L386 81L394 80L402 79M39 53L34 47L28 41L21 38L15 33L8 28M154 251L147 247L142 241L136 236L133 228L128 222M640 59L637 52L638 44L634 37L629 31L622 26L616 22L608 22M217 254L209 255L202 252L194 252L188 246L180 246L174 241M640 253L648 256L655 259L662 264L669 266L677 267L685 264L692 261M373 122L373 114L375 106L374 98L372 91L372 83L373 75L375 67L373 59M19 146L18 138L23 131L25 124M644 129L648 123L650 115L647 108L640 104L632 105L625 100L623 93M311 75L318 76L326 74L332 69L337 62L342 56M150 114L142 117L135 120L127 123L119 122L113 127M390 273L385 280L382 287L381 295L386 301L393 305L397 312M328 184L320 186L313 189L308 196M272 97L269 105L270 113L271 121M428 96L425 89L420 82L413 80M392 258L389 250L384 244L379 238L376 230L374 223L370 216L364 210M188 135L189 143L194 149L199 155L206 159L213 163L219 168L223 175" fill="none" stroke="rgb(228,140,130)" stroke-width="0.7" opacity="0.8"/>
<path d="M14,268 C16,262 18,259 21,257 C26,253 32,249 38,247 C45,244 52,242.5 60,242 C67,241.8 73,242.5 76,244 C76,246.5 74,248 70,248.5 C63,249 55,249.5 48,251 C40,253 34,256 29,260 C25,263 22,266 20,268.5 Z" fill="rgb(160,200,225)" stroke="rgb(150,140,190)" stroke-width="0.5"/>
<path d="M199.8,115.9 C205,116 209,116.5 212,117.3 C216,119 219,122 222.8,124 C228,127 232,130 236.2,132.1 C241,134 245,136 249.7,137.5 C254,139 258,141 260.5,142.9 C262.5,144.5 264,147 263.2,148.3 C259,149 255,149 252.4,148.3 C247,146.5 243,144.5 238.9,142.9 C235,141 231,139 228.1,137.5 C224,135 221,133.5 217.4,132.1 C213,130 210,128.5 206.6,126.7 C203,125 201,124 199.8,122.7 C198.5,120 198.8,117.5 199.8,115.9 Z" fill="rgb(168,204,224)" stroke="rgb(150,160,200)" stroke-width="0.4"/>
<path d="M118 240h3M125 236h3M132 232h3M140 230h3M147 228h3M128 246h3M138 240h3M150 236h3M120 250h3M112 246h3" stroke="rgb(200,225,240)" stroke-width="4" stroke-linecap="round" opacity="0.9"/>
<polyline points="185,226 200,232 212,238 220,241.9 229,243.4 232,249.4 235,259.9 247,260.6 248.4,256.9" fill="none" stroke="rgb(160,130,170)" stroke-width="0.7"/>
<polyline points="287.4,228.4 296.3,229.9 297.8,235.9 294.9,238.9 296.3,244.9 300.8,249.4 303.8,259.9 300.8,265.9 305,275" fill="none" stroke="rgb(160,130,170)" stroke-width="0.7"/>
<polyline points="256,256 260.4,253.9 264.9,255.4 269.4,258.4 275.4,265.9 272.4,270.4 270,275" fill="none" stroke="rgb(160,130,170)" stroke-width="0.7"/>
<polyline points="100,275 110,266 125,262 140,258 150,252.6 160,247.7 164.8,249.3 163.2,260.8 171.4,272.3 173,275" fill="none" stroke="rgb(160,130,170)" stroke-width="0.7"/>
<polyline points="216,242.7 229,242 230.7,249.3 232.3,259.2 242.2,262.5 247,259.2" fill="none" stroke="rgb(160,130,170)" stroke-width="0.7"/>
<polyline points="174.7,211.5 178,225 185,238 192,252 196,275" fill="none" stroke="rgb(170,150,140)" stroke-width="0.8"/>
<g font-family="Liberation Sans, sans-serif" font-size="3.6" fill="rgb(140,110,150)" opacity="0.85"><text x="155" y="208">Schweiz/</text><text x="155" y="213">Suisse/Svizzera</text><text x="157" y="218">Svizzera</text><text x="227" y="228">Graubünden/</text><text x="229" y="233">Grischun/</text><text x="231" y="238">Grigioni</text><text x="183" y="269">Ticino</text><text x="201" y="198">Glarus</text><text x="560" y="178">Steiermark</text><text x="540" y="221">Kärnten</text><text x="520" y="232">Villach</text><text x="545" y="234">Klagenfurt</text><text x="622" y="176">Graz</text><text x="455" y="240">Trentino-</text><text x="457" y="245">Alto Adige</text><text x="160" y="50">Stuttgart</text><text x="178" y="138">Zürich</text><text x="40" y="240">Lausanne</text></g>
<g font-family="Liberation Sans, sans-serif" font-size="3.4" fill="rgb(60,150,90)" opacity="0.85"><text x="297" y="236">Parco Nazionale</text><text x="299" y="241">dello Stelvio</text><text x="520" y="185">Nationalpark</text><text x="522" y="190">Kalkalpen</text><text x="535" y="244">Triglavski</text><text x="537" y="249">narodni park</text><text x="12" y="238">Parc Jura</text><text x="14" y="243">vaudois</text></g>
<polyline points="330,205 360,200 385,206 405,200 430,210 465,221 490,228 510,235 531,232 559,241 580,245 600,238 620,250 640,255 660,250" fill="none" stroke="rgb(150,125,150)" stroke-width="0.8"/><polyline points="470,274 480,262 500,258 520,252 545,255 560,262 580,268 600,265 620,272" fill="none" stroke="rgb(150,125,150)" stroke-width="0.8"/>
<g opacity="0.8" transform="scale(0.1)" stroke-width="5">
<path d="M1400 1050l25 1-2-145-7-22-16-12z" fill="rgb(72,82,174)" stroke="rgb(72,82,174)"/>
<path d="M1423 906l83 108 53-60-3-5-120-62-20-3z" fill="rgb(71,80,170)" stroke="rgb(71,80,170)"/>
<path d="M1647 1056l4 3 12-22 1-16-61-64-44-3-53 60-18 40 54 2z" fill="rgb(74,84,175)" stroke="rgb(74,84,175)"/>
<path d="M1488 1054l18-40-83-108 2 145z" fill="rgb(75,85,178)" stroke="rgb(75,85,178)"/>
<path d="M1540 825l-140-25 0 72 16 12 20 3 110-37 9-21z" fill="rgb(71,81,171)" stroke="rgb(71,81,171)"/>
<path d="M2255 522l-53-22-73 63-30 30 57 30 101-22 9-4 13-72z" fill="rgb(72,81,172)" stroke="rgb(72,81,172)"/>
<path d="M1546 850l-110 37 120 62z" fill="rgb(70,80,170)" stroke="rgb(70,80,170)"/>
<path d="M1584 836l-29-7-9 21 10 99 3 5 44 3 39-63z" fill="rgb(72,82,174)" stroke="rgb(72,82,174)"/>
<path d="M1710 1108l42 42 35-24-52-47-72-42-12 22z" fill="rgb(72,82,174)" stroke="rgb(72,82,174)"/>
<path d="M1710 910l-63-11-5-5-39 63 61 64 70-45 35-91-1-5z" fill="rgb(76,86,180)" stroke="rgb(76,86,180)"/>
<path d="M2014 679l-32 73-88 25 35 32 131-33 2-146z" fill="rgb(74,84,176)" stroke="rgb(74,84,176)"/>
<path d="M1867 784l-32 31-63 63-4 2 1 5 79 69 87-25 21-62-27-58-35-32z" fill="rgb(76,86,179)" stroke="rgb(76,86,179)"/>
<path d="M2525 2370l26-5 22-13-74 22zM2470 2528l-23-19 37 45zM2574 2554l5-2 0-1z" fill="rgb(71,81,171)" stroke="rgb(71,81,171)"/>
<path d="M1663 1037l72 42 42-64-43-39-70 45z" fill="rgb(72,82,174)" stroke="rgb(72,82,174)"/>
<path d="M1809 1112l-7-83-25-14-42 64 52 47z" fill="rgb(75,85,176)" stroke="rgb(75,85,176)"/>
<path d="M1777 1015l25 14 32-22 13-24 1-29-79-69-35 91z" fill="rgb(70,80,170)" stroke="rgb(70,80,170)"/>
<path d="M1814 1108l59-58-39-43-32 22 7 83z" fill="rgb(74,84,175)" stroke="rgb(74,84,175)"/>
<path d="M1877 1046l45 0 0-20-75-43-13 24 39 43z" fill="rgb(74,84,176)" stroke="rgb(74,84,176)"/>
<path d="M2087 1077l83 0 10 1-1-19-91-80-38 32-18 50z" fill="rgb(70,80,169)" stroke="rgb(70,80,169)"/>
<path d="M1847 983l75 43 26-58-13-39-87 25z" fill="rgb(71,81,171)" stroke="rgb(71,81,171)"/>
<path d="M1956 867l133 40 10-102-39-29-131 33z" fill="rgb(75,85,178)" stroke="rgb(75,85,178)"/>
<path d="M1982 1046l50 15 18-50-102-43-26 58 0 20z" fill="rgb(71,81,170)" stroke="rgb(71,81,170)"/>
<path d="M1948 968l102 43 38-32 12-58-11-14-133-40-21 62z" fill="rgb(74,84,176)" stroke="rgb(74,84,176)"/>
<path d="M2246 1086l62-82-11-14-77 27-41 42 1 19z" fill="rgb(72,82,174)" stroke="rgb(72,82,174)"/>
<path d="M2220 1017l-51-107-69 11-12 58 91 80z" fill="rgb(72,82,172)" stroke="rgb(72,82,172)"/>
<path d="M2087 605l-25 25-2 146 39 29 94-51-37-131-57-30z" fill="rgb(75,86,179)" stroke="rgb(75,86,179)"/>
<path d="M2100 921l69-11 124-66 1-1-2-11-99-78-94 51-10 102z" fill="rgb(72,82,174)" stroke="rgb(72,82,174)"/>
<path d="M2193 754l99 78 15-25-50-206-101 22z" fill="rgb(75,86,179)" stroke="rgb(75,86,179)"/>
<path d="M2255 1087l62-41 10-25-19-17-62 82z" fill="rgb(75,85,178)" stroke="rgb(75,85,178)"/>
<path d="M2169 910l51 107 77-27-4-146z" fill="rgb(74,84,175)" stroke="rgb(74,84,175)"/>
<path d="M2338 993l84-31 63 52 21 73 3 3 3-9-36-149-102-62-80-27-1 1 4 146 11 14 19 17z" fill="rgb(70,80,170)" stroke="rgb(70,80,170)"/>
<path d="M2610 270l-20 126-5 2 44 47 60 35-7-210z" fill="rgb(72,82,172)" stroke="rgb(72,82,172)"/>
<path d="M2661 2011l86-31 0-11-71-125z" fill="rgb(76,86,180)" stroke="rgb(76,86,180)"/>
<path d="M2294 843l80 27 108-97-17-40-56-20-54 35-48 59-15 25z" fill="rgb(71,81,171)" stroke="rgb(71,81,171)"/>
<path d="M2257 601l50 206 48-59-77-148-12-3z" fill="rgb(74,84,175)" stroke="rgb(74,84,175)"/>
<path d="M2355 748l54-35-1-33-109-80-21 0z" fill="rgb(71,81,171)" stroke="rgb(71,81,171)"/>
<path d="M2401 448l-31 32-32 52-59-7-13 72 12 3 21 0 120-50-9-104z" fill="rgb(75,85,178)" stroke="rgb(75,85,178)"/>
<path d="M2506 427l-41 8 18 11 146-1-44-47z" fill="rgb(74,85,176)" stroke="rgb(74,85,176)"/>
<path d="M2408 680l37-99-26-31-120 50z" fill="rgb(76,86,179)" stroke="rgb(76,86,179)"/>
<path d="M2476 932l63-97-57-62-108 97z" fill="rgb(74,84,175)" stroke="rgb(74,84,175)"/>
<path d="M2410 446l9 104 26 31 30 6 39-11 16-78-47-52-18-11z" fill="rgb(70,80,170)" stroke="rgb(70,80,170)"/>
<path d="M2465 733l58-42-48-104-30-6-37 99 1 33z" fill="rgb(75,85,178)" stroke="rgb(75,85,178)"/>
<path d="M2476 932l36 149 120-77 29-66 14-73-55-53-81 23z" fill="rgb(74,84,175)" stroke="rgb(74,84,175)"/>
<path d="M2539 835l81-23 2-14-64-108-35 1-58 42 17 40z" fill="rgb(76,86,180)" stroke="rgb(76,86,180)"/>
<path d="M2523 691l35-1 69-93-113-21-39 11z" fill="rgb(74,84,175)" stroke="rgb(74,84,175)"/>
<path d="M2530 498l166 5-4-16-3-7-60-35-146 1z" fill="rgb(72,81,172)" stroke="rgb(72,81,172)"/>
<path d="M2680 680l-1-34-12-32-8-29-32 12-69 93 64 108 71-96z" fill="rgb(72,82,174)" stroke="rgb(72,82,174)"/>
<path d="M2569 1140l63 52 63 42 19 29 39-97-2-104-10-23-109-35-120 77-3 9z" fill="rgb(74,84,175)" stroke="rgb(74,84,175)"/>
<path d="M2658 581l23-20 25-16 10-1-20-41-166-5-16 78 113 21 32-12z" fill="rgb(75,85,176)" stroke="rgb(75,85,176)"/>
<path d="M2649 2150l27 5 28 2 16-7-70-13z" fill="rgb(74,84,176)" stroke="rgb(74,84,176)"/>
<path d="M2738 854l-13-26-5-28-9-30-10-30-5-32-3-6-71 96-2 14 55 53 64-10z" fill="rgb(75,86,179)" stroke="rgb(75,86,179)"/>
<path d="M2682 270l7 210 3 7 191-217z" fill="rgb(74,84,175)" stroke="rgb(74,84,175)"/>
<path d="M2580 2324l-6-22 0 50zM2574 2352l-1 0z" fill="rgb(71,81,171)" stroke="rgb(71,81,171)"/>
<path d="M2598 2540l-19 11 0 1 30-16zM2758 2468l-19 26 45-45zM2792 2423l-8 26 10-26-1-2z" fill="rgb(75,86,179)" stroke="rgb(75,86,179)"/>
<path d="M3566 275l21-2 2-3-34 0zM3514 275l11-5-28 0zM3435 275l14-5-35 0zM3355 276l21-6-46 0zM3276 273l27-1 23-2-76 0zM3239 275l10 5 1-10-10 0zM3240 270l-9 0 0 1z" fill="rgb(75,85,176)" stroke="rgb(75,85,176)"/>
<path d="M2734 541l23-20 28-7 28-4 28-11 29-12 5-2 21-17 29-53-25-145-17 0-191 217 4 16 20 41z" fill="rgb(71,81,170)" stroke="rgb(71,81,170)"/>
<path d="M2680 1800l-4 44 71 125 13-102-78-79z" fill="rgb(72,82,174)" stroke="rgb(72,82,174)"/>
<path d="M2682 1788l78 79 134-42-1-3-80-137-108-26z" fill="rgb(75,86,179)" stroke="rgb(75,86,179)"/>
<path d="M2705 1659l108 26 70-44 0-20-25-11-30 1-28-11-12-26-5-28-10-26 2-30-6-27-14-25-5-27-1 3z" fill="rgb(74,84,175)" stroke="rgb(74,84,175)"/>
<path d="M2800 2397l-7 24 1 2 20-49zM2870 2347l19 20-30-45z" fill="rgb(71,80,170)" stroke="rgb(71,80,170)"/>
<path d="M2780 960l-11-26-5-29-12-26-13-24-64 10-14 73 128 32z" fill="rgb(75,86,179)" stroke="rgb(75,86,179)"/>
<path d="M2789 970l-128-32-29 66 109 35 54-61z" fill="rgb(75,85,178)" stroke="rgb(75,85,178)"/>
<path d="M2834 1057l-11-26-9-26-16-23-3-4-54 61 10 23 86 0z" fill="rgb(71,81,171)" stroke="rgb(71,81,171)"/>
<path d="M2650 2137l70 13 11-5 4 1 68-96 1-56-57-14-86 31z" fill="rgb(75,85,176)" stroke="rgb(75,85,176)"/>
<path d="M2747 1980l57 14 104-30-2-123-12-16-134 42-13 102z" fill="rgb(75,86,179)" stroke="rgb(75,86,179)"/>
<path d="M2758 2153l27 0 28-4 27-2 27-2 7 1-39-18-78 25zM2945 2180l-4 30 4-30z" fill="rgb(74,84,175)" stroke="rgb(74,84,175)"/>
<path d="M2757 2153l78-25-32-78-68 96z" fill="rgb(76,86,180)" stroke="rgb(76,86,180)"/>
<path d="M2774 1122l2-26 4-26 27 11 25 17 21 1 10-7-13-12-13-18-86 0 2 104 29-20z" fill="rgb(74,84,175)" stroke="rgb(74,84,175)"/>
<path d="M2894 2149l28 7 27-6 43 2 11-100-40-42-55-46-104 30-1 56 32 78 39 18zM2945 2180l4-30z" fill="rgb(70,80,169)" stroke="rgb(70,80,169)"/>
<path d="M2995 1704l0-27 5-27-28-10-27-10-62 11-70 44 80 137 104-110z" fill="rgb(74,84,176)" stroke="rgb(74,84,176)"/>
<path d="M2733 1293l41-16 5-25 2-26-5-26-2-26 9-26-1-2-29 20-39 97zM2864 1099l11 5-5-7-7-5-10 7z" fill="rgb(75,85,179)" stroke="rgb(75,85,179)"/>
<path d="M2964 416l29-14 31-11 24-23 29-14 17-22 16-22 19-21 20-19-249 0 25 145 24 6zM3179 274l31-2 21-1 0-1-82 0z" fill="rgb(76,86,179)" stroke="rgb(76,86,179)"/>
<path d="M2944 1630l-30 1-28-9-3-1 0 20 62-11z" fill="rgb(75,85,178)" stroke="rgb(75,85,178)"/>
<path d="M2997 1073l-2 14 7-12 3-11z" fill="rgb(76,86,180)" stroke="rgb(76,86,180)"/>
<path d="M2737 1300l43 30-4-26-2-26 0-1-41 16z" fill="rgb(75,85,178)" stroke="rgb(75,85,178)"/>
<path d="M3058 922l0 1 11-4 5-20z" fill="rgb(72,82,174)" stroke="rgb(72,82,174)"/>
<path d="M3189 2158l-3 1 30 1zM3216 2160l43 0-4-7-17-19z" fill="rgb(70,80,169)" stroke="rgb(70,80,169)"/>
<path d="M3002 2152l4-19-8-27 9-27-3-26 0-2-1 1-11 100z" fill="rgb(71,81,170)" stroke="rgb(71,81,170)"/>
<path d="M2997 1811l3-27-3-27 5-26-5-19-104 110 1 3 12 16 92-17z" fill="rgb(70,80,169)" stroke="rgb(70,80,169)"/>
<path d="M2897 474l2-3-3-3-21 17z" fill="rgb(76,86,179)" stroke="rgb(76,86,179)"/>
<path d="M3060 1320l20 19 28 4 1-3-27-4z" fill="rgb(75,85,178)" stroke="rgb(75,85,178)"/>
<path d="M2999 1945l8-27 0-26-11-27 3-27-1-14-92 17 2 123 55 46 36-63z" fill="rgb(76,86,179)" stroke="rgb(76,86,179)"/>
<path d="M2911 447l22-21 16-5-24-6-29 53 3 3z" fill="rgb(75,85,178)" stroke="rgb(75,85,178)"/>
<path d="M3005 2026l-10-27 9-27-5-25-36 63 40 42 1-1z" fill="rgb(72,82,174)" stroke="rgb(72,82,174)"/>
<path d="M3059 937l8-12 2-6-11 4z" fill="rgb(74,84,175)" stroke="rgb(74,84,175)"/>
<path d="M3110 766l-4 19 9-17 6-23z" fill="rgb(70,80,169)" stroke="rgb(70,80,169)"/>
<path d="M3234 376l-5 26 4 26-8 26-1 27 6 27-8 26-2 26 18 19 1 3 26-51-4-13 5-28-2-28-10-27 2-6-21-58zM3220 560l-16 7 1 2z" fill="rgb(71,81,170)" stroke="rgb(71,81,170)"/>
<path d="M3254 1114l4 13 5-6-8-13z" fill="rgb(72,82,174)" stroke="rgb(72,82,174)"/>
<path d="M3243 1324l15-28 0-31 0-13-20-9-10 15-6 31-1 32-10 27 6 1 26-18z" fill="rgb(70,80,169)" stroke="rgb(70,80,169)"/>
<path d="M3160 580l32-4 13-7-1-2-13 7z" fill="rgb(72,81,172)" stroke="rgb(72,81,172)"/>
<path d="M3242 2130l-4 4 17 19 14-44z" fill="rgb(74,84,175)" stroke="rgb(74,84,175)"/>
<path d="M3248 604l19 14 2-9-28-22zM3269 713l-6 15 3-3zM3141 660l-1 3 2-2 1-5z" fill="rgb(71,81,170)" stroke="rgb(71,81,170)"/>
<path d="M3109 1343l21 17-20-19-1-1-1 3zM3210 1350l-2 30 4 30-5 30 0 9 2-1 20-50-12-49-6-1z" fill="rgb(71,81,171)" stroke="rgb(71,81,171)"/>
<path d="M3235 296l8 27-4 26-4 22 21 58 5-22-10-27-1-27 5-28-7-27 1-18-10-5zM3231 271l0-1 0 1z" fill="rgb(70,80,170)" stroke="rgb(70,80,170)"/>
<path d="M3207 1531l1 0 6-3 0-3-8-15-3 1 4 14z" fill="rgb(72,82,174)" stroke="rgb(72,82,174)"/>
<path d="M3631 1955l180 11-31-33-14 5-27-3-26 10-26 4-27 0-26 6-3-1 0 1z" fill="rgb(75,85,179)" stroke="rgb(75,85,179)"/>
<path d="M3367 2043l19 7 1-26z" fill="rgb(72,82,174)" stroke="rgb(72,82,174)"/>
<path d="M3258 1235l12-29 10-28-9-31 8-19-16-7-5 6 4 17-10 27-2 29-5 31-7 12 20 9z" fill="rgb(75,85,176)" stroke="rgb(75,85,176)"/>
<path d="M3265 840l0-9-2 6 3 12z" fill="rgb(75,85,176)" stroke="rgb(75,85,176)"/>
<path d="M3217 1451l-8-3-2 1 0 21-7 30 14-27zM3200 1500l3 11 3-1z" fill="rgb(75,85,178)" stroke="rgb(75,85,178)"/>
<path d="M3236 1384l7-29 0-24-26 18 12 49 5 0z" fill="rgb(75,85,178)" stroke="rgb(75,85,178)"/>
<path d="M3282 1120l3-29 9-29-3-29 5-29-26-3-2 28-1 28-9 28-3 23 8 13 16 7z" fill="rgb(74,84,175)" stroke="rgb(74,84,175)"/>
<path d="M3218 1442l14-27 2-17-5 0-20 50 8 3z" fill="rgb(70,80,169)" stroke="rgb(70,80,169)"/>
<path d="M3241 587l28 22 1-9-3-27 3-28-5-14-26 51z" fill="rgb(71,81,170)" stroke="rgb(71,81,170)"/>
<path d="M3389 2053l-3-3-19-7-23 15-25 12-19 20-30 18-1 1-14 44 4 7 85-1z" fill="rgb(71,81,171)" stroke="rgb(71,81,171)"/>
<path d="M3416 1991l126-21-6-7-12 2-30 11-32 0-32 4-24 18-17 25-2 1-1 26 3 3z" fill="rgb(72,82,172)" stroke="rgb(72,82,172)"/>
<path d="M3323 921l-1 9 3-8 15-25 7-18-1 0-7 18z" fill="rgb(74,84,175)" stroke="rgb(74,84,175)"/>
<path d="M3364 724l1 6 1-5 14-28-3-30-7 29z" fill="rgb(72,82,174)" stroke="rgb(72,82,174)"/>
<path d="M3360 812l-4 18 5-18 0-5z" fill="rgb(71,81,172)" stroke="rgb(71,81,172)"/>
<path d="M3645 1286l5 12 3-4z" fill="rgb(71,81,170)" stroke="rgb(71,81,170)"/>
<path d="M3666 272l-1-2-8 0zM3593 273l19-3-23 0-2 3zM3617 532l-3 3 10 1 20-12zM3676 496l11-9 17-22-19 21zM3704 465l5 1z" fill="rgb(75,85,178)" stroke="rgb(75,85,178)"/>
<path d="M3544 1607l-14 6-24 5 1 1 24-3z" fill="rgb(76,86,180)" stroke="rgb(76,86,180)"/>
<path d="M3579 1011l1-2-4-3 0 5 2 6zM3569 1146l7-27 1-10-2 10-8 27-2 27 4 23 1-4 1-19z" fill="rgb(75,85,176)" stroke="rgb(75,85,176)"/>
<path d="M3589 897l9-17-4-13-5 11z" fill="rgb(71,80,170)" stroke="rgb(71,80,170)"/>
<path d="M3631 1955l0-1-24-6-25 7-11 2 0 8zM3638 1863l-10-26-8-4-1 4 16 26 7 26 1-6z" fill="rgb(75,85,176)" stroke="rgb(75,85,176)"/>
<path d="M3571 1965l0-8-15 3-20 3 6 7z" fill="rgb(75,85,178)" stroke="rgb(75,85,178)"/>
<path d="M3604 542l16-3 4-3-10-1zM3719 636l0-1-11-6-28-9 28 10zM3659 673l4-2 5-25 12-26-15 25z" fill="rgb(74,84,175)" stroke="rgb(74,84,175)"/>
<path d="M3608 1722l-8 28 13-27 3-23z" fill="rgb(74,84,176)" stroke="rgb(74,84,176)"/>
<path d="M3720 1450l-5-27-8-13 2 15zM3698 1384l-2-11-16-23 12 24zM3661 1315l-5-18-3-3-3 4 1 1z" fill="rgb(75,86,179)" stroke="rgb(75,86,179)"/>
<path d="M3659 673l-19 23-2 11 7-9 17-23 1-4-4 2z" fill="rgb(72,82,174)" stroke="rgb(72,82,174)"/>
<path d="M3627 1835l-7-15 0 13 8 4z" fill="rgb(75,85,176)" stroke="rgb(75,85,176)"/>
<path d="M3645 1891l-2-8-1 6 1 3 4 8z" fill="rgb(71,81,170)" stroke="rgb(71,81,170)"/>
<path d="M3584 984l-2-19-8 19 2 22 4 3z" fill="rgb(75,85,179)" stroke="rgb(75,85,179)"/>
<path d="M3777 271l25-1-43 0zM3672 274l26 2 14-6-47 0 1 2zM3779 480l-37-9-33-5 32 8z" fill="rgb(74,84,175)" stroke="rgb(74,84,175)"/>
<path d="M3694 1524l6-6 20-18-21 17z" fill="rgb(71,81,171)" stroke="rgb(71,81,171)"/>
<path d="M3823 1967l84-24-24-28-33 5-28 8-29 1-13 4 31 33z" fill="rgb(74,84,176)" stroke="rgb(74,84,176)"/>
<path d="M3778 1019l-18 21 25-12 8-6-9-6z" fill="rgb(75,85,178)" stroke="rgb(75,85,178)"/>
<path d="M4062 1871l37-12-18 2-29 4-26 5-25 9-10 5-2 19 2 15zM4136 1846l-2 1 6-2zM4048 1808l0-29-9-24-3 25 4 29 8 15z" fill="rgb(72,82,174)" stroke="rgb(72,82,174)"/>
<path d="M4810 1894l-1-21-3 13-30 14-33 0-33 5-7 3 30 11z" fill="rgb(72,81,172)" stroke="rgb(72,81,172)"/>
<path d="M3824 989l-20 19-20 8 9 6 14-10 19-19 20-19 23-15-23 14zM3869 959l11-17z" fill="rgb(75,85,176)" stroke="rgb(75,85,176)"/>
<path d="M3988 274l27 0 26-2 7-2-74 0zM3883 271l26 3 11-4-43 0zM4069 284l-22 13-9 9 12 0 19-11 2-12z" fill="rgb(76,86,180)" stroke="rgb(76,86,180)"/>
<path d="M3746 612l-2 4-10 28 10-28zM3734 644l-15-9 0 1z" fill="rgb(76,86,180)" stroke="rgb(76,86,180)"/>
<path d="M3990 1919l1-1-2-15-12-10-24 11-27 3-38 7-5 1 24 28z" fill="rgb(72,81,172)" stroke="rgb(72,81,172)"/>
<path d="M3774 1444l-15 5 15 5 27-1 27 1 18 0-18-4-27-5zM3881 1447l-20 7 20-1 7 1-2-7z" fill="rgb(72,82,174)" stroke="rgb(72,82,174)"/>
<path d="M3884 935l-4 7 5-7 24-13-1-1z" fill="rgb(72,82,172)" stroke="rgb(72,82,172)"/>
<path d="M3908 921l1 1 1-1 3-4 1-2-4 5z" fill="rgb(71,80,170)" stroke="rgb(71,80,170)"/>
<path d="M3834 488l-8 1 20 4zM3884 532l-24-32-3-2zM3869 464l-2 8-7 28 9-27zM3824 554l32-6 28-16-32 7zM3869 418l0-1z" fill="rgb(74,84,175)" stroke="rgb(74,84,175)"/>
<path d="M3977 1893l12 10 2-19z" fill="rgb(71,81,172)" stroke="rgb(71,81,172)"/>
<path d="M4030 1666l23 3 4-1 0-6zM4030 1666l1 6z" fill="rgb(72,82,174)" stroke="rgb(72,82,174)"/>
<path d="M4057 1669l0-1-4 1zM4034 1723l3 17 0-17-1-29-5-22 4 22z" fill="rgb(75,85,178)" stroke="rgb(75,85,178)"/>
<path d="M3996 672l-2 12-5 26 8-26zM4045 701l27-12-29 2-25 16-29 3 29-3z" fill="rgb(74,84,175)" stroke="rgb(74,84,175)"/>
<path d="M3928 899l-14 16-1 2zM3966 876l-19 3-19 20 23-14z" fill="rgb(76,86,180)" stroke="rgb(76,86,180)"/>
<path d="M3869 416l0 1 1-1 10-27 0-29-10 27z" fill="rgb(71,81,171)" stroke="rgb(71,81,171)"/>
<path d="M3993 630l-1-8-3 8 4 13z" fill="rgb(71,81,171)" stroke="rgb(71,81,171)"/>
<path d="M4720 273l5-2 0-1-26 0zM4665 274l23-4-50 0zM4592 277l-27 7-28 8-28 5-9 4 11 18 27-2 27-7 28-4 24-5 21-31-18 0zM4594 275l26-5-48 0zM4488 275l27-3 26 2 22-4-82 0 1 2zM4645 312l-10-4 10 5 23 16 21 5 1-1-20-7z" fill="rgb(70,80,170)" stroke="rgb(70,80,170)"/>
<path d="M4151 1181l2 10 1-12-4-23z" fill="rgb(75,85,176)" stroke="rgb(75,85,176)"/>
<path d="M3886 1447l2 7 20 2 27 0 27-4 27 5 5-3-5 0-27-5-27-1-27-1z" fill="rgb(71,81,172)" stroke="rgb(71,81,172)"/>
<path d="M4091 1667l30-2 29-10-30 4-30 7-30-4-3 0 0 6 0 1 4 0z" fill="rgb(71,81,171)" stroke="rgb(71,81,171)"/>
<path d="M4064 861l-10-13-24-12 18 20zM4018 839l12-3-14-22z" fill="rgb(74,84,176)" stroke="rgb(74,84,176)"/>
<path d="M4173 277l26-5 6 1 0-3-47 0zM4094 273l26-3-35 0zM4071 283l-2 12 4-3 22-16 25-6-27 4zM4119 404l27-10 15-10-17 4-26 15-5 2z" fill="rgb(76,86,180)" stroke="rgb(76,86,180)"/>
<path d="M4151 1445l-1 5 0 9 2-1zM4155 1423l-3 17 7-23-9-26 4-27 4-26-3-9 0 13-5 27-6 27z" fill="rgb(75,85,178)" stroke="rgb(75,85,178)"/>
<path d="M4147 1288l3 11 2-14 2-26 1-27 0-3 0 6-2 27z" fill="rgb(76,86,180)" stroke="rgb(76,86,180)"/>
<path d="M4245 1820l-26 3 44 0zM4297 1811l-23 12 41 0-9-11z" fill="rgb(76,86,179)" stroke="rgb(76,86,179)"/>
<path d="M4211 961l58-11-24-17-26-13-1 27zM4166 911l-1 0 1 0 26 9 27 0-25-11z" fill="rgb(74,84,175)" stroke="rgb(74,84,175)"/>
<path d="M4097 879l-9-3 7 5 19 18z" fill="rgb(71,81,171)" stroke="rgb(71,81,171)"/>
<path d="M4152 1458l-2 1 1 20-4 30 0 29 0 2 4-17 4-27-3-26zM4153 1585l4-9-2-4z" fill="rgb(75,85,178)" stroke="rgb(75,85,178)"/>
<path d="M4324 972zM4206 971l-1 5 4 1 29-5 28-6 29 2 29 4-27-12-27-10-1 0-58 11z" fill="rgb(71,81,171)" stroke="rgb(71,81,171)"/>
<path d="M4383 272l11-2-22 0zM4278 272l12-2-19 0zM4225 274l13-4-33 0 0 3zM4257 356l3-1-4 0-3 2zM4314 345l7-2-8-1-8 3z" fill="rgb(70,80,170)" stroke="rgb(70,80,170)"/>
<path d="M4389 1833l-12-5-26-9-27-6-18-1 9 11 35 0zM4452 1847l-4-17-18 13 16 4z" fill="rgb(72,82,172)" stroke="rgb(72,82,172)"/>
<path d="M4219 668l28-9 29 0 27-12-29 2-28 9zM4367 652l-29-2 28 9 7-6z" fill="rgb(75,85,178)" stroke="rgb(75,85,178)"/>
<path d="M4489 1034l1-34-3 34-13 30 4 1zM4387 962l6-5-5 2zM4387 962l-4 0-18 8z" fill="rgb(74,84,176)" stroke="rgb(74,84,176)"/>
<path d="M4420 920l10-28 8-10-8-5-1 1-11 29-18 27-12 25 5-2 15-12zM4365 970l18-8-29-2-30 12 32 1z" fill="rgb(72,82,174)" stroke="rgb(72,82,174)"/>
<path d="M4483 309l-27 11-15 5 14-4 28 4 28-6-11-18zM4482 272l-1-2-5 0zM4428 329l1 0-29 1z" fill="rgb(71,80,170)" stroke="rgb(71,80,170)"/>
<path d="M4502 1847l1-3-9-16-24-15-22 17 4 17zM4482 1762l-11 21-1 30 5-29zM4483 1725l0-10-3 9 4 21z" fill="rgb(71,81,171)" stroke="rgb(71,81,171)"/>
<path d="M4586 1489l-22-21-22-20-24-18-26-16 25 16 24 19 23 19 22 22 3 1z" fill="rgb(74,84,175)" stroke="rgb(74,84,175)"/>
<path d="M4477 1067l1-2-4-1-1 2-3 34z" fill="rgb(72,82,174)" stroke="rgb(72,82,174)"/>
<path d="M4373 653l-7 6 31 6 32 3-30-12zM4463 665l-2-6-6 1-26 8 28 1z" fill="rgb(74,84,175)" stroke="rgb(74,84,175)"/>
<path d="M4476 655l-15 4 2 6zM4534 647l26-2 2-1-2 0z" fill="rgb(75,85,178)" stroke="rgb(75,85,178)"/>
<path d="M4569 1217l6 9 11 11 3 0-10-15zM4531 1186l-18-23 18 24 2 1z" fill="rgb(74,84,175)" stroke="rgb(74,84,175)"/>
<path d="M4449 869l12-26 10-28-20 32-21 30 8 5zM4534 836l18 19 2 2-4-14z" fill="rgb(75,86,179)" stroke="rgb(75,86,179)"/>
<path d="M4559 846l-9-3 4 14 10 6 3 0z" fill="rgb(76,86,179)" stroke="rgb(76,86,179)"/>
<path d="M4600 645l12 4 26-2-26-6zM4638 647l30-15-1-1z" fill="rgb(74,84,175)" stroke="rgb(74,84,175)"/>
<path d="M4559 1607l17-25-21 21-23 19z" fill="rgb(72,82,172)" stroke="rgb(72,82,172)"/>
<path d="M4553 1276l-6 9 7-7 22-14 20-17-25 10zM4596 1247l-7-10-3 0z" fill="rgb(74,84,175)" stroke="rgb(74,84,175)"/>
<path d="M4629 957l-1-1 1 1 0 1zM4633 1017l-3-10-1 10 9 29zM4667 1040l13 26 13-25 17-18 2-32-21-3-32-5 1 29z" fill="rgb(71,81,171)" stroke="rgb(71,81,171)"/>
<path d="M6428 273l26 2 11-5-46 0zM6376 277l13-7-27 0zM6324 273l8-3-32 0zM6244 270l-12 0 2 2z" fill="rgb(71,81,171)" stroke="rgb(71,81,171)"/>
<path d="M4696 336l-6-3-1 1zM4698 337l-2-1 5 3zM4722 354l-3-2-5 25-6 28-3 27-5 28 17 34 2 0-18-35 9-25 5-27 3-26z" fill="rgb(75,85,178)" stroke="rgb(75,85,178)"/>
<path d="M4713 1020l9-27-10-2-2 32z" fill="rgb(72,82,174)" stroke="rgb(72,82,174)"/>
<path d="M4667 631l1 1 4-2 29-25-30 23zM4733 597l1-3-6 1-27 10 28-6zM4720 500l1-1-2-5-2 0z" fill="rgb(70,80,169)" stroke="rgb(70,80,169)"/>
<path d="M4910 274l8 0 26 2 26-3 19 2 0-5-79 0zM4810 272l5-2-15 0zM4799 274l1-4-15 0zM4728 270l-3 0 0 1zM4839 439l-3 2 3 0z" fill="rgb(72,82,174)" stroke="rgb(72,82,174)"/>
<path d="M4745 590l-11 4-1 3zM4785 584z" fill="rgb(72,81,172)" stroke="rgb(72,81,172)"/>
<path d="M4844 1883l22-130-18 17-12 28-14 28-8 30-5 17 1 21zM4932 1717l-13 5-3 0-8 6 39-11z" fill="rgb(70,80,170)" stroke="rgb(70,80,170)"/>
<path d="M4785 584l20-25 4-22-11 18zM4806 448l27-2 7-3-1-2-3 0-2 0z" fill="rgb(70,80,169)" stroke="rgb(70,80,169)"/>
<path d="M5228 1688l-16-1 26 5zM5258 1695l-17-3 27 6z" fill="rgb(74,84,176)" stroke="rgb(74,84,176)"/>
<path d="M5230 271l26 0 4-1-33 0zM5093 273l2 0 16-3-31 0z" fill="rgb(75,85,178)" stroke="rgb(75,85,178)"/>
<path d="M5388 1665l-2 1 0 3 33-13zM5439 1632l-20 24 45-34zM5544 1576l-30 8 45-4z" fill="rgb(75,85,179)" stroke="rgb(75,85,179)"/>
<path d="M5334 1689l-2 2 8-3zM5370 1675l16-6 0-3z" fill="rgb(74,84,175)" stroke="rgb(74,84,175)"/>
<path d="M5772 1488l-29 13 53-16 1-3z" fill="rgb(71,81,171)" stroke="rgb(71,81,171)"/>
<path d="M5802 1481l-5 1-1 3 37-11zM5891 1453l-30 6-28 15 89-27zM5964 1412l-8 11 32-22z" fill="rgb(74,84,176)" stroke="rgb(74,84,176)"/>
<path d="M6069 1361l-12 10 44-13z" fill="rgb(71,81,171)" stroke="rgb(71,81,171)"/>
<path d="M6213 1261l13 25-18-53zM6229 1183l-31 9 40-10z" fill="rgb(71,81,171)" stroke="rgb(71,81,171)"/>
<path d="M6220 274l14-2-2-2-29 0zM6155 270l-5 0 0 1z" fill="rgb(72,82,172)" stroke="rgb(72,82,172)"/>
<path d="M6417 1120l-25 15-27 9 63-21 0-2z" fill="rgb(71,80,170)" stroke="rgb(71,80,170)"/>
<path d="M6428 1121l0 2 5-1z" fill="rgb(70,80,170)" stroke="rgb(70,80,170)"/>
<path d="M6610 364l0-7-3-2z" fill="rgb(76,86,180)" stroke="rgb(76,86,180)"/>
<path d="M6607 609l-1 5 3 18 1 9 0-42zM6606 400l-2 26 0 12 6 2 0-52z" fill="rgb(70,80,170)" stroke="rgb(70,80,170)"/>
<path d="M6607 884l2 12 1 4 0-20zM6607 862l3 18 0-29zM6609 833l1 3 0-7zM6608 704l0 11 2 11 0 1 0-27zM6609 671l1 1 0-5zM6610 649l0-8z" fill="rgb(76,86,180)" stroke="rgb(76,86,180)"/>
<path d="M6604 348l3 7 3 2 0-24zM6558 271l4-1-14 0zM6506 274l18-4-28 0z" fill="rgb(74,85,176)" stroke="rgb(74,85,176)"/>
<path d="M6465 270l-11 5-26-2-9-3-30 0-13 7-14-7-30 0-8 3-24-3-56 0-10 2 18 19 222 10 11-14 1-17z" fill="rgb(70,77,169)" stroke="rgb(70,77,169)"/>
<path d="M4848 983l4 11 11-6-2-10z" fill="rgb(66,72,161)" stroke="rgb(66,72,161)"/>
<path d="M4849 438l-7 0-3 1 0 2 5 0zM4947 396l25-17 14-21 4-54 0-6-1-23-19-2-26 3-26-2-8 0 2 28 14 30 1 32 5 32-20 16-1 1-1 3 38-19z" fill="rgb(69,76,168)" stroke="rgb(69,76,168)"/>
<path d="M4842 1165l2-5 0-8 0 1z" fill="rgb(66,74,162)" stroke="rgb(66,74,162)"/>
<path d="M4932 1717l-10 1-6 4 3 0z" fill="rgb(69,76,166)" stroke="rgb(69,76,166)"/>
<path d="M4844 441l-5 0 1 2z" fill="rgb(67,75,165)" stroke="rgb(67,75,165)"/>
<path d="M4952 920l-28 14-23 19-24 19-16 6 2 10 2-1 30 6 25-13 26-7 29-1 25-12 4 1 33-13-19-37-59 3z" fill="rgb(71,79,170)" stroke="rgb(71,79,170)"/>
<path d="M4968 417l-20-20-38 19-5 11-4 2 10-2 28 25 24 28 34 9 12 5-19-60z" fill="rgb(66,72,161)" stroke="rgb(66,72,161)"/>
<path d="M5030 969l30 7 6 1-29-29-33 13z" fill="rgb(65,72,160)" stroke="rgb(65,72,160)"/>
<path d="M5114 522l-25-17-25-18-28-12-26-16-18-24-2-1 19 60 20 8 29 20 2 32 4 11 62-29z" fill="rgb(69,76,166)" stroke="rgb(69,76,166)"/>
<path d="M5082 674l-6 26-1 26-7 26-16 26-2 6 67 16 16-9 61-90-115-54z" fill="rgb(69,76,166)" stroke="rgb(69,76,166)"/>
<path d="M5044 807l-7 29-25 17-6 9 13 27 80-55 18-34-67-16z" fill="rgb(69,76,168)" stroke="rgb(69,76,168)"/>
<path d="M4995 878l-21 21-15 15 59-3 1-22-13-27z" fill="rgb(65,72,161)" stroke="rgb(65,72,161)"/>
<path d="M5091 981l20 10 18-9 0-43-30-105-80 55-1 22 19 37 29 29z" fill="rgb(67,75,164)" stroke="rgb(67,75,164)"/>
<path d="M5150 1400l23 10 10-13-34-14z" fill="rgb(70,77,168)" stroke="rgb(70,77,168)"/>
<path d="M5120 1250l11 29 0 4 49-12-26-45-27 6z" fill="rgb(69,76,166)" stroke="rgb(69,76,166)"/>
<path d="M5119 995l31 5 16 23 9 27 9 27 16 23-15 24-2 10 25 0 84-54-108-105-55 7-18 9z" fill="rgb(67,75,164)" stroke="rgb(67,75,164)"/>
<path d="M5063 1684l-28 8 49-4zM5150 1677l-19 7 48-4zM5228 1688l-18-7-31-1 33 7zM5299 1704l-30-8-11-1 10 3zM5299 1704l3-1z" fill="rgb(65,72,160)" stroke="rgb(65,72,160)"/>
<path d="M5156 846l4-6-27-49-16 9-18 34 30 105 34-92z" fill="rgb(65,72,161)" stroke="rgb(65,72,161)"/>
<path d="M5163 847l-34 92 0 43 55-7 67-75-86-53z" fill="rgb(70,79,170)" stroke="rgb(70,79,170)"/>
<path d="M5125 1311l18 28 6 30 0 14 34 14 11-4 11-110-25-12-49 12z" fill="rgb(66,74,164)" stroke="rgb(66,74,164)"/>
<path d="M5144 1199l-13 24-4 9 27-6-10-27z" fill="rgb(65,72,161)" stroke="rgb(65,72,161)"/>
<path d="M5311 310l-26-29-99 83 0 1-9 31 15 27 14 29 13 28 28-8 25-12 80-119z" fill="rgb(66,74,164)" stroke="rgb(66,74,164)"/>
<path d="M5213 609l-15-25-24-12-22-13-21-17-5-6-62 29 6 19-1 33 10 30 115 54 21-4 14-80z" fill="rgb(66,74,162)" stroke="rgb(66,74,162)"/>
<path d="M5178 1412l22 21 22 17 6-29-29-25-5-3-11 4-10 13z" fill="rgb(69,76,166)" stroke="rgb(69,76,166)"/>
<path d="M5178 1152l-14 25-20 22 10 27 26 45 25 12 26-14 12-28-35-107-25 0z" fill="rgb(65,72,161)" stroke="rgb(65,72,161)"/>
<path d="M5261 857l-27 4-26-5-26-6-17-3 86 53 10-5 16-25zM5179 816l30-22 29-20 34-7 5-3-10-40-52-27-21 4-61 90 27 49z" fill="rgb(69,76,166)" stroke="rgb(69,76,166)"/>
<path d="M5275 270l-15 0-4 1-26 0-3-1-29 0-11 31-2 32 1 31 99-83zM4989 354l2-28-1-22-4 54zM5172 276l26-6-41 0zM5094 273l1 0-2 0z" fill="rgb(69,76,168)" stroke="rgb(69,76,168)"/>
<path d="M5464 1622l50-38 30-8 15 4 75-8 48 12 0-1-181-110-104 56 4 1 25 10 24 10-2 28-16 24 0 29-13 25 20-24z" fill="rgb(69,76,166)" stroke="rgb(69,76,166)"/>
<path d="M5334 1689l-5 2-27 12 30-12z" fill="rgb(69,76,166)" stroke="rgb(69,76,166)"/>
<path d="M5205 1283l-11 110 5 3 120-57-13-36-75-34z" fill="rgb(66,74,162)" stroke="rgb(66,74,162)"/>
<path d="M5224 1451l23 20 31 8 22 21 24 11 28 0 23 15 6 1-28-52-125-54-6 29z" fill="rgb(67,75,165)" stroke="rgb(67,75,165)"/>
<path d="M5243 1241l114-74-18-83-47-4-84 54z" fill="rgb(70,77,169)" stroke="rgb(70,77,169)"/>
<path d="M5334 1046l-8-29 5-30-1-10-69-82-10 5-67 75 108 105 47 4 3-3z" fill="rgb(66,74,164)" stroke="rgb(66,74,164)"/>
<path d="M5821 380l-67 5-35 21-36 24-24-24-36-36-35 12 42 60 139 42 53-105z" fill="rgb(70,77,169)" stroke="rgb(70,77,169)"/>
<path d="M5293 689l-16-24-24-16-13-27-11-5-14 80 52 27 35-11z" fill="rgb(66,74,162)" stroke="rgb(66,74,162)"/>
<path d="M5421 1324l-70-60-45 39 13 36 40 41z" fill="rgb(67,75,165)" stroke="rgb(67,75,165)"/>
<path d="M5397 1529l104-56 27-71-21-27-67-56-19 5-62 56-6 95 28 52z" fill="rgb(70,79,170)" stroke="rgb(70,79,170)"/>
<path d="M5228 1421l125 54 6-95-40-41-120 57z" fill="rgb(69,76,168)" stroke="rgb(69,76,168)"/>
<path d="M5306 1303l45-39 15-85-8-10-1-2-114 74-12 28z" fill="rgb(66,74,164)" stroke="rgb(66,74,164)"/>
<path d="M5326 958l-5-29 3-30-33-19-14-10-16 25 69 82z" fill="rgb(67,75,164)" stroke="rgb(67,75,164)"/>
<path d="M5351 1264l70 60 19-5 26-90-100-50z" fill="rgb(66,74,164)" stroke="rgb(66,74,164)"/>
<path d="M5387 1066l-20 24-12 29-12-36-1-2-3 3 18 83 1 2 151-42-48-64-66-9z" fill="rgb(70,77,169)" stroke="rgb(70,77,169)"/>
<path d="M5303 752l1-33-2-6-35 11 10 40z" fill="rgb(67,75,164)" stroke="rgb(67,75,164)"/>
<path d="M5479 406l-60-36-60-24-7-5-80 119 1 0 30-1 16 20 13 24 16 20 18 19 12 19 57-10 17-35 31-106z" fill="rgb(70,77,169)" stroke="rgb(70,77,169)"/>
<path d="M5587 382l-36 60-12 48-24-48-32-32-31 106 118 67 53-18 7-123-42-60z" fill="rgb(69,77,168)" stroke="rgb(69,77,168)"/>
<path d="M5383 570l23 23 23 23 28-11-22-54-57 10z" fill="rgb(70,77,169)" stroke="rgb(70,77,169)"/>
<path d="M5366 1179l100 50 2-1 46-39 13-41-18-21-151 42z" fill="rgb(69,76,166)" stroke="rgb(69,76,166)"/>
<path d="M5515 1002l2-26-2-26 11-5-5-28-8 3-19 23-25 17-19 23-19 18-9 26-20 18-7 9 66 9 58-46z" fill="rgb(66,74,164)" stroke="rgb(66,74,164)"/>
<path d="M5466 1229l-26 90 67 56 20-95-59-52z" fill="rgb(69,77,168)" stroke="rgb(69,77,168)"/>
<path d="M5540 1140l-11-30-9-30-4-26 5-26-2-11-58 46 48 64 18 21 14-6z" fill="rgb(67,75,165)" stroke="rgb(67,75,165)"/>
<path d="M5462 603l30-19 12 24 11 16 55-41-118-67-17 35 22 54z" fill="rgb(65,72,161)" stroke="rgb(65,72,161)"/>
<path d="M5519 630l17 19 15 15 99-47-27-52-53 18-55 41z" fill="rgb(67,75,165)" stroke="rgb(67,75,165)"/>
<path d="M5528 1402l67-31 23-84-91-7-20 95z" fill="rgb(66,74,162)" stroke="rgb(66,74,162)"/>
<path d="M5706 1536l36-34-19-54-128-77-67 31-27 71 181 110z" fill="rgb(65,72,161)" stroke="rgb(65,72,161)"/>
<path d="M5743 1501l29-13 25-6 89-173-3-3-124 15-36 127 19 54z" fill="rgb(66,74,162)" stroke="rgb(66,74,162)"/>
<path d="M5527 1280l91 7 5-8-3-15-106-75-46 39z" fill="rgb(71,79,170)" stroke="rgb(71,79,170)"/>
<path d="M5624 1251l-18-23-23-14-23-14-7-31-12-27-14 6-13 41 106 75 5-13z" fill="rgb(69,76,168)" stroke="rgb(69,76,168)"/>
<path d="M5677 974l-13 23-14 23 41-49-7-10zM5625 1004l-18-23 13 19 24 19 5 2 1-1zM5560 930l24 20 19 24 4 6-8-25-3-26-11-24 1-20-16 11-28 12-21 9 5 28z" fill="rgb(67,75,165)" stroke="rgb(67,75,165)"/>
<path d="M5555 668l28 13 26 17 17 7 23-6 27-53-26-29-99 47z" fill="rgb(69,76,166)" stroke="rgb(69,76,166)"/>
<path d="M5652 699l28-10 20-18 22-11-19-14-27 0-27 53z" fill="rgb(67,75,165)" stroke="rgb(67,75,165)"/>
<path d="M5745 585l11-2 8-9 31-61-26-29-139-42-7 123 27 52 26 29 27 0 39-46z" fill="rgb(69,76,166)" stroke="rgb(69,76,166)"/>
<path d="M5618 1287l-23 84 128 77 36-127-22-28-114-14z" fill="rgb(66,74,162)" stroke="rgb(66,74,162)"/>
<path d="M5720 840l-9 26 26-7-7-28z" fill="rgb(70,77,170)" stroke="rgb(70,77,170)"/>
<path d="M5716 1274l-33-6-33-8-25-9-5 13 3 15 114 14 2-18z" fill="rgb(70,77,169)" stroke="rgb(70,77,169)"/>
<path d="M5650 1020l-1 1 22 10 29 9 23 24 13 32 24 24 0 3 14-14 20-50-61-84-42-4-41 49z" fill="rgb(67,75,165)" stroke="rgb(67,75,165)"/>
<path d="M5725 658l18-21-3-26 2-11-39 46 19 14zM5770 581l-6-7-8 9z" fill="rgb(69,76,166)" stroke="rgb(69,76,166)"/>
<path d="M5780 1220l-17 27-13 28-11 0-2 18 22 28 124-15 4-79-110-27z" fill="rgb(67,75,164)" stroke="rgb(67,75,164)"/>
<path d="M5811 808l-31-8-33 15-17 16 7 28 92 25 6-3-9-67z" fill="rgb(70,77,169)" stroke="rgb(70,77,169)"/>
<path d="M5880 1000l-24-22-16-28 10-35 7-23-22-11-6 3-96 91 61 84 22-4 46-20 25-36z" fill="rgb(70,77,169)" stroke="rgb(70,77,169)"/>
<path d="M5711 867l0 30-14 25-7 28-6 11 7 10 42 4 96-91-92-25-26 7z" fill="rgb(71,79,170)" stroke="rgb(71,79,170)"/>
<path d="M5765 1154l10 32 2 14 110 27 22-39-135-79-14 14z" fill="rgb(66,72,161)" stroke="rgb(66,72,161)"/>
<path d="M5929 315l-54 45-53 19-53 105 26 29 113 27 36-20-1-204z" fill="rgb(71,79,170)" stroke="rgb(71,79,170)"/>
<path d="M5772 580l28 6 27-6 28-8 28 5 16-1 9-36-113-27-31 61 6 7z" fill="rgb(66,74,162)" stroke="rgb(66,74,162)"/>
<path d="M5802 1481l31-7 28-15 30-6 31-6 34-24 8-11 24-11 16-11-118-81-89 173z" fill="rgb(66,72,161)" stroke="rgb(66,72,161)"/>
<path d="M5860 880l-16-28-4-32-14-6 9 67 22 11z" fill="rgb(67,75,165)" stroke="rgb(67,75,165)"/>
<path d="M5816 1055l104 123 12-7 5-60-75-76z" fill="rgb(69,76,168)" stroke="rgb(69,76,168)"/>
<path d="M5920 1178l-104-123-22 4-20 50 135 79z" fill="rgb(66,72,161)" stroke="rgb(66,72,161)"/>
<path d="M6011 1385l46-14 12-10 32-3 107-27 2-5-62-113-216-42-12 7-11 10-22 39-4 79 3 3 118 81z" fill="rgb(69,76,168)" stroke="rgb(69,76,168)"/>
<path d="M6144 272l-54 18-53 14-67 13-27-1 1 204 68 24 13-8 114-164 11-101z" fill="rgb(71,79,171)" stroke="rgb(71,79,171)"/>
<path d="M5911 575l45 25 5 33-5 34 4 33 1 2 38-11 45-73-32-74-68-24-36 20-9 36z" fill="rgb(70,77,169)" stroke="rgb(70,77,169)"/>
<path d="M6190 957l-30-31-88 120 71 99 64-91z" fill="rgb(70,77,169)" stroke="rgb(70,77,169)"/>
<path d="M6286 991l-20-19-16-22-60 7 17 97 84-32 7-27z" fill="rgb(66,74,162)" stroke="rgb(66,74,162)"/>
<path d="M5950 990l-35 3-28 6-25 36 75 76 78-99-17-30-33-9z" fill="rgb(67,75,164)" stroke="rgb(67,75,164)"/>
<path d="M6008 893l-8 27-20 21-11 27-4 5 33 9 2-5 23-101z" fill="rgb(66,74,162)" stroke="rgb(66,74,162)"/>
<path d="M5932 1171l216 42-5-68-71-99-57-34-78 99z" fill="rgb(67,75,164)" stroke="rgb(67,75,164)"/>
<path d="M6030 715l28 6 10 5 17-25 8-58-49-25-45 73 21 27z" fill="rgb(70,79,170)" stroke="rgb(70,79,170)"/>
<path d="M5998 982l17 30 57 34 88-120-8-34-152 85z" fill="rgb(71,79,171)" stroke="rgb(71,79,171)"/>
<path d="M6037 846l-10 26-4 4 30-37z" fill="rgb(66,74,162)" stroke="rgb(66,74,162)"/>
<path d="M6226 1286l-13-25-5-28-10-41 31-9 9-1 51-13 45-99-43-48-84 32-64 91 5 68 62 113z" fill="rgb(69,76,166)" stroke="rgb(69,76,166)"/>
<path d="M6141 859l-21-19-2-16-28-4-21 12-16 7-30 37-23 101 152-85 1-18z" fill="rgb(69,76,166)" stroke="rgb(69,76,166)"/>
<path d="M5974 721l28 1 18-4-21-27-38 11z" fill="rgb(71,79,171)" stroke="rgb(71,79,171)"/>
<path d="M6115 810l3-30 5-30-2-15-36-34-17 25 32 16-3 36 3 37-10 5 28 4z" fill="rgb(67,75,165)" stroke="rgb(67,75,165)"/>
<path d="M6221 486l10-33 9-33 26-9 28 2 15-5 8-22-65-95-18-19-14 2-17-4-48 0-5 1-11 101 44 137 37-2z" fill="rgb(66,72,161)" stroke="rgb(66,72,161)"/>
<path d="M6012 544l32 74 49 25 26 1 20-24 30-80-1-7-143 3z" fill="rgb(65,72,161)" stroke="rgb(65,72,161)"/>
<path d="M6250 950l-21-20-24-14-19-23-27-11-6-8-1 18 8 34 30 31 60-7z" fill="rgb(66,74,161)" stroke="rgb(66,74,161)"/>
<path d="M6120 720l7-28 16-23 1-2-25-23-26-1-8 58 36 34z" fill="rgb(67,75,165)" stroke="rgb(67,75,165)"/>
<path d="M6163 648l4-29 1-1-29 2-20 24 25 23z" fill="rgb(65,72,161)" stroke="rgb(65,72,161)"/>
<path d="M6025 536l143-3 15-24-44-137z" fill="rgb(69,77,168)" stroke="rgb(69,77,168)"/>
<path d="M6177 592l16-23 1-1-25-28-30 80 29-2z" fill="rgb(66,74,162)" stroke="rgb(66,74,162)"/>
<path d="M6213 548l7-28 0-13-37 2-15 24 1 7 25 28z" fill="rgb(65,72,160)" stroke="rgb(65,72,160)"/>
<path d="M6320 404l22-8-25-10-8 22z" fill="rgb(70,77,168)" stroke="rgb(70,77,168)"/>
<path d="M6293 1168l72-24 27-9 25-15 11 1-13-54-81 3-45 99z" fill="rgb(67,75,165)" stroke="rgb(67,75,165)"/>
<path d="M6439 1013l-27 17-31 7-31 3-18-21-18-19-16-5-7 27 43 48 81-3 32-55z" fill="rgb(70,77,169)" stroke="rgb(70,77,169)"/>
<path d="M6433 1122l67-22 47-78-90-12-10 2-32 55 13 54z" fill="rgb(69,76,166)" stroke="rgb(69,76,166)"/>
<path d="M6346 394l28 6 26-10 27 4 25 11 22-104-222-10 65 95 25 10z" fill="rgb(67,75,164)" stroke="rgb(67,75,164)"/>
<path d="M6479 408l25 12 29-5 3 1 74-44 0-8-3-9-122-68-11 14-22 104z" fill="rgb(65,72,161)" stroke="rgb(65,72,161)"/>
<path d="M6560 1000l50-80 0-19 0-1-12-4-4 6-19 19-21 18-18 20-14 24-22 17-30 9-13 1 90 12z" fill="rgb(70,77,170)" stroke="rgb(70,77,170)"/>
<path d="M6558 424l26 7 20 7 0-12 2-26 4-12 0-16-74 44zM6610 599l0-23 0 2-5 27 1 9 1-5zM6605 495l5 27 0 1 0-44z" fill="rgb(69,76,168)" stroke="rgb(69,76,168)"/>
<path d="M6609 896l-2-12-9 12 12 4zM6610 836l-1-3-4 19 2 10 3-11zM6610 726l0 4 0-3zM6610 672l-1-1-1 17 0 16 2-4z" fill="rgb(66,74,162)" stroke="rgb(66,74,162)"/>
<path d="M6604 348l6-15 0-63-48 0-4 1-10-1-24 0-18 4-10-4-10 0-1 17 122 68z" fill="rgb(65,72,161)" stroke="rgb(65,72,161)"/>
<path d="M2667 614l12 32 1 34 13 22 43-59-9-81-4-3-64 26z" fill="rgb(94,134,199)" stroke="rgb(94,134,199)"/>
<path d="M2706 545l-25 16-23 20 1 4 64-26-7-15z" fill="rgb(96,137,202)" stroke="rgb(96,137,202)"/>
<path d="M2696 708l5 32 10 30 9 30 5 28 13 26 1 1 126-21-129-191-43 59z" fill="rgb(95,135,200)" stroke="rgb(95,135,200)"/>
<path d="M3240 270l-9 1 8 4z" fill="rgb(96,137,202)" stroke="rgb(96,137,202)"/>
<path d="M2870 487l-29 12-28 11-28 4-28 7-23 20-18 3 7 15 4 3 69-14 79-63z" fill="rgb(96,137,202)" stroke="rgb(96,137,202)"/>
<path d="M2873 838l113-96 2-5-40-81-152-108-69 14 9 81 129 191z" fill="rgb(90,130,192)" stroke="rgb(90,130,192)"/>
<path d="M2752 879l12 26 5 29 11 26 9 10 10 3 91-58-17-77-8-4-126 21z" fill="rgb(91,130,192)" stroke="rgb(91,130,192)"/>
<path d="M2795 978l4-5-10-3z" fill="rgb(92,132,196)" stroke="rgb(92,132,196)"/>
<path d="M2798 982l16 23 9 26 11 26 3 5 59 0-2-142-4-5-91 58-4 5z" fill="rgb(90,130,192)" stroke="rgb(90,130,192)"/>
<path d="M2850 1080l13 12 35-24-2-6-59 0z" fill="rgb(92,132,196)" stroke="rgb(92,132,196)"/>
<path d="M2870 1097l5 7 15 8 16 6 5-34-13-16-35 24z" fill="rgb(95,136,201)" stroke="rgb(95,136,201)"/>
<path d="M3094 332l-17 22-29 14-24 23-31 11-29 14-15 5 77 20 103-22 89-94 13-54-21 1-31 2-30-4-20 19-19 21z" fill="rgb(91,131,194)" stroke="rgb(91,131,194)"/>
<path d="M2988 1099l7-12 2-14 8-9 4-15 10-25-95-95-30-9 2 142 2 6 13 16 77 18z" fill="rgb(95,136,201)" stroke="rgb(95,136,201)"/>
<path d="M3058 922l16-23 8-26 0-29-96-102-113 96 17 77 4 5 30 9 108 4 26-10z" fill="rgb(91,131,194)" stroke="rgb(91,131,194)"/>
<path d="M2897 474l-22 11-79 63 152 108 36-99-85-86z" fill="rgb(95,136,201)" stroke="rgb(95,136,201)"/>
<path d="M2948 656l40 81 138-72-37-87-56-30-49 9z" fill="rgb(90,128,191)" stroke="rgb(90,128,191)"/>
<path d="M2918 1121l25 16 27 13 14-24 4-24-77-18-5 34z" fill="rgb(90,130,192)" stroke="rgb(90,130,192)"/>
<path d="M3019 1023l14-23 9-26 3-7-13-34-108-4 95 95z" fill="rgb(90,128,191)" stroke="rgb(90,128,191)"/>
<path d="M2933 426l-22 21-12 24 85 86 49-9-7-107-77-20z" fill="rgb(94,134,198)" stroke="rgb(94,134,198)"/>
<path d="M3033 548l56 30 38-110 2-49-103 22z" fill="rgb(90,128,191)" stroke="rgb(90,128,191)"/>
<path d="M3051 948l8-11-1-14-26 10 13 34z" fill="rgb(95,135,199)" stroke="rgb(95,135,199)"/>
<path d="M3092 818l10-25 4-8 4-19 11-21 1-4 3-28 0-28 8-12-7-8-138 72-2 5 96 102z" fill="rgb(92,132,196)" stroke="rgb(92,132,196)"/>
<path d="M3220 560l2-26 8-26-6-27 1-27 8-26-4-26 5-26 1-5-17-46-89 94-2 49 77 99z" fill="rgb(96,137,202)" stroke="rgb(96,137,202)"/>
<path d="M3145 633l9-26 6-27 31-6 13-7-77-99-38 110 37 87 17-13z" fill="rgb(92,132,195)" stroke="rgb(92,132,195)"/>
<path d="M3140 663l1-3 2-4 0-4-17 13 7 8z" fill="rgb(96,136,201)" stroke="rgb(96,136,201)"/>
<path d="M3239 349l4-26-8-27 4-21-8-4-13 54 17 46z" fill="rgb(95,135,200)" stroke="rgb(95,135,200)"/>
<path d="M3009 1049l-7 26-14 24 0 3 60 14-2-66-27-26z" fill="rgb(77,92,180)" stroke="rgb(77,92,180)"/>
<path d="M3082 844l0 29-8 26-5 20 41-17 9-20-37-38z" fill="rgb(80,95,185)" stroke="rgb(80,95,185)"/>
<path d="M2984 1126l-14 24 18 21 11 26 1 2 4 11 77-30-4-31-29-33-60-14z" fill="rgb(79,94,182)" stroke="rgb(79,94,182)"/>
<path d="M3060 1320l22 16 27 4 1-19-6-13-44 11z" fill="rgb(79,94,182)" stroke="rgb(79,94,182)"/>
<path d="M3010 1222l2 5 12 19 16 22 13 25 7 26 44-11 8-84-31-44-77 30z" fill="rgb(77,92,181)" stroke="rgb(77,92,181)"/>
<path d="M3046 1050l2 66 29 33 123-111-68-59-68 36z" fill="rgb(76,90,178)" stroke="rgb(76,90,178)"/>
<path d="M3042 974l-9 26-14 23 0 1 27 26 18-35-19-48z" fill="rgb(79,94,182)" stroke="rgb(79,94,182)"/>
<path d="M3067 925l-16 23-6 19 19 48 68-36-22-77-41 17z" fill="rgb(79,94,182)" stroke="rgb(79,94,182)"/>
<path d="M3125 685l0 28-3 28-7 27-13 25-10 25-10 26 37 38 74-31 2-108-62-70z" fill="rgb(77,92,181)" stroke="rgb(77,92,181)"/>
<path d="M3238 579l-18-19-15 9 18 22 15-6 1-3z" fill="rgb(81,96,188)" stroke="rgb(81,96,188)"/>
<path d="M3254 1114l1-6-42-71-13 1-123 111 4 31 31 44 70-6 76-91z" fill="rgb(76,90,178)" stroke="rgb(76,90,178)"/>
<path d="M3263 973l-7-26 6-19-8-39-61-38-74 31-9 20 22 77 68 59 13-1 48-48z" fill="rgb(81,96,186)" stroke="rgb(81,96,186)"/>
<path d="M3221 1321l1-32 6-31 10-15-56-25-70 6-8 84 6 13 101 27z" fill="rgb(79,94,182)" stroke="rgb(79,94,182)"/>
<path d="M3143 652l80-61-18-22-13 7-32 4-6 27-9 26z" fill="rgb(75,90,178)" stroke="rgb(75,90,178)"/>
<path d="M3142 661l-9 12 62 70 62-7 6-8 6-15 2-6-3-27-4-27 2-26 1-9-19-14-7-17-3-2-15 6-80 61z" fill="rgb(79,94,182)" stroke="rgb(79,94,182)"/>
<path d="M3110 1341l20 19 27-3 26-5 27-2 1-2-101-27-1 19z" fill="rgb(76,91,179)" stroke="rgb(76,91,179)"/>
<path d="M3245 1231l5-31 2-29 10-27-4-17-76 91 56 25z" fill="rgb(77,92,181)" stroke="rgb(77,92,181)"/>
<path d="M3269 867l-3-18-3-12 2-6 1-18-4-26 5-27-3-20-7-4-62 7-2 108 61 38 12-7z" fill="rgb(77,92,181)" stroke="rgb(77,92,181)"/>
<path d="M3258 1085l9-28 1-28 2-28-10-1 1-11-48 48 42 71z" fill="rgb(80,95,185)" stroke="rgb(80,95,185)"/>
<path d="M3239 582l-1 3 3 2z" fill="rgb(81,96,186)" stroke="rgb(81,96,186)"/>
<path d="M3263 733l1-2-1-2 0-1-6 8 7 4z" fill="rgb(75,90,176)" stroke="rgb(75,90,176)"/>
<path d="M3264 920l-1-27 3-11-12 7 8 39z" fill="rgb(81,96,186)" stroke="rgb(81,96,186)"/>
<path d="M3566 275l-11-5-30 0-11 5-17-5-48 0-14 5-21-5-38 0-21 6-25-6-4 0-23 2-27 1-26-3-1 10 244 128 94-135z" fill="rgb(135,170,218)" stroke="rgb(135,170,218)"/>
<path d="M3254 435l10 27 2 28-5 28 4 13 16-33-25-69z" fill="rgb(127,161,208)" stroke="rgb(127,161,208)"/>
<path d="M3256 947l7 26-2 16 11-11-10-50z" fill="rgb(126,161,206)" stroke="rgb(126,161,206)"/>
<path d="M3266 627l-2 26 4 27 3 27-5 18 55-75-52-41z" fill="rgb(130,165,211)" stroke="rgb(130,165,211)"/>
<path d="M3250 353l1 27 10 27-5 22 25 69 71 18 87-18 65-23-11-67-244-128-1 18 7 27z" fill="rgb(126,160,206)" stroke="rgb(126,160,206)"/>
<path d="M3267 760l-5 27 4 26-1 27 4 27-3 15 18-13 27-43 22-44-3-3-66-39z" fill="rgb(127,161,208)" stroke="rgb(127,161,208)"/>
<path d="M3260 1000l36 4 5-19-1 0-28-7-11 11z" fill="rgb(131,166,212)" stroke="rgb(131,166,212)"/>
<path d="M3270 545l-3 28 3 27-1 9 52 41 33 2 12-3-14-133-71-18-16 33z" fill="rgb(127,162,208)" stroke="rgb(127,162,208)"/>
<path d="M3263 733l1 7 66 39 24-127-33-2-55 75z" fill="rgb(131,166,214)" stroke="rgb(131,166,214)"/>
<path d="M3263 893l1 27-2 8 10 50 28 7 1-2 2-7 12-27 7-19 1-9 16-24 7-18-62-10-18 13z" fill="rgb(127,162,208)" stroke="rgb(127,162,208)"/>
<path d="M3350 870l2-26-41-18-27 43 62 10z" fill="rgb(132,167,214)" stroke="rgb(132,167,214)"/>
<path d="M3358 783l5-29 2-24-1-6 6-28 7-29-32 37 12-31 14-23-2 0-3-1-12 3-24 127 3 3 25 2z" fill="rgb(131,167,214)" stroke="rgb(131,167,214)"/>
<path d="M3352 841l4-11 4-18 1-5-3-23-25-2-22 44 41 18z" fill="rgb(126,161,206)" stroke="rgb(126,161,206)"/>
<path d="M3617 532l27-8 22-18 10-10 9-10 19-21 5 1-43-194-9-2-45 0-19 3-6 0-94 135 11 67 8 9 44 41 58 10z" fill="rgb(132,167,214)" stroke="rgb(132,167,214)"/>
<path d="M3369 650l70-152-87 18 14 133z" fill="rgb(135,170,218)" stroke="rgb(135,170,218)"/>
<path d="M3375 644l24-21 22-23 3-2 88-114-8-9-65 23-70 152 2 0z" fill="rgb(135,171,219)" stroke="rgb(135,171,219)"/>
<path d="M3450 584l29-8 30-9 30-5 2-1 15-36-44-41-88 114z" fill="rgb(126,160,206)" stroke="rgb(126,160,206)"/>
<path d="M3566 556l26-12 12-2 10-7-58-10-15 36z" fill="rgb(132,167,214)" stroke="rgb(132,167,214)"/>
<path d="M3742 471l37 9 54-78 12-86-8-46-35 0-25 1-18-1-47 0-14 6-26-2-6-2 43 194z" fill="rgb(128,164,210)" stroke="rgb(128,164,210)"/>
<path d="M3908 344l33-1 27-19 32-4 22-15 16 1 9-9 22-13 2-1 3-13-26 0-7 2-26 2-27 0-14-4-54 0-11 4-26-3-6-1-40 0 8 46 55 32z" fill="rgb(130,165,211)" stroke="rgb(130,165,211)"/>
<path d="M3817 487l9 2 8-1 12 5 8 2 3 3 3 2 7-28 2-8-1-20 1-26 0-1-36-15-54 78z" fill="rgb(130,165,211)" stroke="rgb(130,165,211)"/>
<path d="M3869 416l1-29 10-27 20-12-55-32-12 86 36 15z" fill="rgb(126,160,206)" stroke="rgb(126,160,206)"/>
<path d="M4093 274l27-4-26 3-9-3-11 0-3 13z" fill="rgb(131,167,214)" stroke="rgb(131,167,214)"/>
<path d="M3645 1286l8 8 1-2-14-15z" fill="rgb(92,115,188)" stroke="rgb(92,115,188)"/>
<path d="M3579 1011l-1 6 5 21-2 27-2 27-2 17-1 10-7 27 2 27-1 19 44-159-34-24z" fill="rgb(99,121,196)" stroke="rgb(99,121,196)"/>
<path d="M3607 828l-7 26-6 13 4 13-9 17 0 8-9 25 5 27-2 6 101-95-54-59-17 0z" fill="rgb(92,115,188)" stroke="rgb(92,115,188)"/>
<path d="M3708 630l-28-10-12 26-5 25 54-24 2-11z" fill="rgb(96,119,194)" stroke="rgb(96,119,194)"/>
<path d="M3656 1297l5 18 6 9 13 26 8-27 18-22 5-9-36-5-21 5-1 2z" fill="rgb(96,119,192)" stroke="rgb(96,119,192)"/>
<path d="M3662 675l-17 23-7 9-5 18-13 25-1 27-4 26-2 6 17 0 78-97 13-40-4-25-54 24z" fill="rgb(92,114,186)" stroke="rgb(92,114,186)"/>
<path d="M3570 1200l24 26 26 24 18 23 2 4 14 15 21-5 22-139-58-112-25-3-44 159z" fill="rgb(92,115,188)" stroke="rgb(92,115,188)"/>
<path d="M3684 868l45 15 13-78-34-93-78 97z" fill="rgb(95,117,191)" stroke="rgb(95,117,191)"/>
<path d="M3582 965l2 19-4 25 34 24 25 3 111-41-1-92-20-20-45-15-101 95z" fill="rgb(95,117,190)" stroke="rgb(95,117,190)"/>
<path d="M3708 712l34 93 118-19-139-114z" fill="rgb(92,115,188)" stroke="rgb(92,115,188)"/>
<path d="M3749 1120l3-27 8-26 0-27 18-21 6-3-34-21-111 41 58 112 52-20z" fill="rgb(92,115,188)" stroke="rgb(92,115,188)"/>
<path d="M3719 1277l7-27 7-27 17-23-3-27 2-27 0-18-52 20-22 139 36 5z" fill="rgb(94,116,189)" stroke="rgb(94,116,189)"/>
<path d="M3749 903l53-29 41-42 19-45-2-1-118 19-13 78z" fill="rgb(97,121,196)" stroke="rgb(97,121,196)"/>
<path d="M3804 1008l20-19 22-16 23-14 11-17-78-68-53 29 1 92 34 21z" fill="rgb(92,115,188)" stroke="rgb(92,115,188)"/>
<path d="M4050 306l-28-1-22 15-32 4-27 19-33 1-8 4 67 40 75 27 27-120z" fill="rgb(97,120,195)" stroke="rgb(97,120,195)"/>
<path d="M3779 569l-17 24-16 19-2 4-10 28-15-8-2 11 4 25 139 114 2 1 20-7 73-124-74-71-94-19z" fill="rgb(92,115,188)" stroke="rgb(92,115,188)"/>
<path d="M3884 935l24-14-65-89-41 42 78 68z" fill="rgb(97,121,196)" stroke="rgb(97,121,196)"/>
<path d="M3910 920l4-5 27-88-59-47-20 7-19 45 65 89z" fill="rgb(97,120,195)" stroke="rgb(97,120,195)"/>
<path d="M3824 554l-37 12 94 19 75-108-77-56-10-4-1 27 1 29-9 27 24 32-28 16z" fill="rgb(99,121,196)" stroke="rgb(99,121,196)"/>
<path d="M3956 477l88-50-2-12-75-27-88 33z" fill="rgb(95,117,190)" stroke="rgb(95,117,190)"/>
<path d="M3989 773l-5-31 5-32 5-26 2-12-2-13-39-3-73 124 59 47 37 8 26-40z" fill="rgb(99,122,198)" stroke="rgb(99,122,198)"/>
<path d="M3928 899l19-20 19-3 9-4 19-19-16-18-37-8-27 88z" fill="rgb(95,117,191)" stroke="rgb(95,117,191)"/>
<path d="M3880 360l0 29-10 27-1 1 10 4 88-33-67-40z" fill="rgb(96,119,194)" stroke="rgb(96,119,194)"/>
<path d="M3993 657l0-14-4-13 3-8-3-19 8-26 3-27-1-34 10-32 1-34 29-8 12-8-7-7-88 50-75 108 74 71 39 3z" fill="rgb(99,121,196)" stroke="rgb(99,121,196)"/>
<path d="M4509 297l28-5 28-8 27-7 28-7-26 5-22-5-9 0-22 4-26-2-27 3-6-3 18 29z" fill="rgb(92,115,188)" stroke="rgb(92,115,188)"/>
<path d="M3995 853l23-14-2-25-6-10-6-9-26 40 16 18z" fill="rgb(92,114,186)" stroke="rgb(92,114,186)"/>
<path d="M4064 426l25-17 24-4 5-2 26-15 17-4 10-7 29-7 11-3-6-94-6-1-26 5-15-7-38 0-25 6-22 16-4 3-27 120 2 12 7 7z" fill="rgb(97,120,194)" stroke="rgb(97,120,194)"/>
<path d="M4228 363l25-6 3-2 4 0 24-9 21-1 8-3 8 1 22-3 28-5 7-1 18-64-2 0-11 2-11-2-82 0-12 2-7-2-33 0-13 4-20-1 6 94z" fill="rgb(94,116,189)" stroke="rgb(94,116,189)"/>
<path d="M4400 330l29-1 12-4 15-5 27-11 17-8-18-29-6-2-80 0-18 64z" fill="rgb(94,116,189)" stroke="rgb(94,116,189)"/>
<path d="M2750 1411l5 27 14 25 6 27-2 30 10 26 5 28 12 26 28 11 30-1 25 11-3-184-124-42z" fill="rgb(72,75,164)" stroke="rgb(72,75,164)"/>
<path d="M2782 1146l71-47-21-1-25-17-27-11-4 26-2 26z" fill="rgb(71,74,161)" stroke="rgb(71,74,161)"/>
<path d="M2972 1640l28 10 20-18 12-17-87 15z" fill="rgb(71,74,162)" stroke="rgb(71,74,162)"/>
<path d="M2783 1148l-9 26 2 26 5 26-2 26-5 25 85-32 32-19 15-108-16-6-26-13-11 0-71 47z" fill="rgb(71,74,161)" stroke="rgb(71,74,161)"/>
<path d="M2886 1622l28 9 30-1 1 0 87-15 4-5 7-5 6-11 0-84-118-75-51 2 3 184z" fill="rgb(70,72,160)" stroke="rgb(70,72,160)"/>
<path d="M2774 1278l2 26 4 26-24 65 124 42 51-2 37-78-109-112-85 32z" fill="rgb(75,77,168)" stroke="rgb(75,77,168)"/>
<path d="M2859 1245l109 112 22-23-43-102-56-6z" fill="rgb(75,77,168)" stroke="rgb(75,77,168)"/>
<path d="M2999 1197l-11-26-18-21-27-13-25-16-12-3-15 108 56 6 57-22z" fill="rgb(75,77,168)" stroke="rgb(75,77,168)"/>
<path d="M3080 1339l-20-19 0-1-70 15-22 23-37 78 118 75 52-49 7-118z" fill="rgb(72,75,164)" stroke="rgb(72,75,164)"/>
<path d="M3053 1293l-13-25-16-22-14-24-6-12-57 22 43 102 70-15z" fill="rgb(76,79,169)" stroke="rgb(76,79,169)"/>
<path d="M3059 1595l-10-1-6 11z" fill="rgb(74,76,165)" stroke="rgb(74,76,165)"/>
<path d="M3084 1582l16-22 28-3 23-17 25-10 29 2 2-1-9-20-30-45-67-5-52 49 0 84 10 1z" fill="rgb(74,76,165)" stroke="rgb(74,76,165)"/>
<path d="M3207 1440l5-30-4-30 2-30-27 2-26 5-27 3-21-17-1 0-7 118 67 5 39-17z" fill="rgb(70,72,159)" stroke="rgb(70,72,159)"/>
<path d="M3207 1525l-4-14-5 0 9 20z" fill="rgb(72,75,162)" stroke="rgb(72,75,162)"/>
<path d="M3200 1500l7-30 0-21-39 17 30 45 5 0z" fill="rgb(71,74,161)" stroke="rgb(71,74,161)"/>
<path d="M3258 1265l0 31-15 28 0 7 15-11 16-61-16-7z" fill="rgb(79,84,171)" stroke="rgb(79,84,171)"/>
<path d="M3214 1525l0 3 16-8 27 11 21 21 17 19 70-32 9-7-21-31-6-2-141 11z" fill="rgb(81,86,175)" stroke="rgb(81,86,175)"/>
<path d="M3271 1147l9 31-10 28-12 29 0 17 16 7 114-41 10-31-45-31-74-28z" fill="rgb(79,84,171)" stroke="rgb(79,84,171)"/>
<path d="M3214 1473l-14 27 6 10 141-11-130-48z" fill="rgb(77,81,168)" stroke="rgb(77,81,168)"/>
<path d="M3243 1355l-7 29-2 14 100-1 0-5-76-72-15 11z" fill="rgb(80,85,172)" stroke="rgb(80,85,172)"/>
<path d="M3298 1574l28 10 20 14 19-59-70 32z" fill="rgb(75,80,165)" stroke="rgb(75,80,165)"/>
<path d="M3296 1004l-5 29 3 29-9 29-3 29-3 8 74 28-48-170-4-1z" fill="rgb(80,85,172)" stroke="rgb(80,85,172)"/>
<path d="M3232 1415l-14 27-1 9 130 48 6 2-19-104-100 1z" fill="rgb(75,80,164)" stroke="rgb(75,80,164)"/>
<path d="M3334 1397l19 104 21 31 60 12 28 0 93-84 5-48-152-118-74 98z" fill="rgb(81,86,175)" stroke="rgb(81,86,175)"/>
<path d="M3350 1600l30 2 27 11 27-69-60-12-9 7-19 59z" fill="rgb(80,85,172)" stroke="rgb(80,85,172)"/>
<path d="M3258 1320l76 72 74-98-20-76-114 41z" fill="rgb(81,86,175)" stroke="rgb(81,86,175)"/>
<path d="M3340 897l-15 25-10 27-12 27-2 7 70-99-1-1-23-4z" fill="rgb(77,82,169)" stroke="rgb(77,82,169)"/>
<path d="M3353 1156l45 31 17-13 28-93-88-92-50-3z" fill="rgb(79,84,171)" stroke="rgb(79,84,171)"/>
<path d="M3350 870l-3 9 23 4 21-21-39-18z" fill="rgb(77,82,169)" stroke="rgb(77,82,169)"/>
<path d="M3366 725l-3 29-5 29 0 1 55 3 44-86-76-47-10-4-14 23-12 31 32-37 3 30z" fill="rgb(80,85,172)" stroke="rgb(80,85,172)"/>
<path d="M3301 985l4 1 50 3 39-41-23-64-70 99z" fill="rgb(79,84,170)" stroke="rgb(79,84,170)"/>
<path d="M3361 812l-9 29 0 3 39 18 39-31-17-44-55-3z" fill="rgb(77,82,169)" stroke="rgb(77,82,169)"/>
<path d="M3640 1277l-72-77-25-5-6 10-17 25-29-21-18-25-58-10-17 13-10 31 20 76 152 118 90-114z" fill="rgb(80,85,172)" stroke="rgb(80,85,172)"/>
<path d="M3466 991l-5-27-3-27 32-4 26-11-2-4-120 30-39 41 88 92 23-19-5-17 4-27z" fill="rgb(81,86,174)" stroke="rgb(81,86,174)"/>
<path d="M3370 883l1 1 23 64 120-30-1-19-83-68-39 31z" fill="rgb(76,81,168)" stroke="rgb(76,81,168)"/>
<path d="M3430 831l83 68 64-89-39-82-48-36-33 9-44 86z" fill="rgb(76,81,166)" stroke="rgb(76,81,166)"/>
<path d="M3704 465l-17 22-21 19-22 18-20 12 105 17-20-87z" fill="rgb(81,86,175)" stroke="rgb(81,86,175)"/>
<path d="M3421 600l-22 23-24 21-4 6 10 4 43-56z" fill="rgb(77,82,168)" stroke="rgb(77,82,168)"/>
<path d="M3409 1614l32-8 24 7 11-37-14-32-28 0-27 69z" fill="rgb(77,82,168)" stroke="rgb(77,82,168)"/>
<path d="M3530 1613l14-6 14-10 33 3 23-11 9-89-68-40-93 84 14 32 30 42z" fill="rgb(79,84,170)" stroke="rgb(79,84,170)"/>
<path d="M3539 562l-30 5-30 9-29 8-26 14-43 56 76 47 33-9 51-131z" fill="rgb(76,81,168)" stroke="rgb(76,81,168)"/>
<path d="M3470 1614l30 6 6-2-30-42-11 37z" fill="rgb(77,82,169)" stroke="rgb(77,82,169)"/>
<path d="M3565 1173l2-27 8-27 4-27 2-27 2-27-7-27 0-5-11-7 1 1 0 30 3 30-11 30 3 30-1 30-8 30-9 15 25 5 1-4zM3470 1180l2-27 1-27-11-27 7-27-3-10-23 19-28 93 58 10z" fill="rgb(76,81,166)" stroke="rgb(76,81,166)"/>
<path d="M3585 957l-5-27 9-25 0-27 11-24 7-26 6-19-36 1-64 89 1 19 2 4 4-2 11 29 18 25 9 13 25-24z" fill="rgb(77,82,169)" stroke="rgb(77,82,169)"/>
<path d="M3665 645l15-25 28 9 11 6 10-81 0-1-105-17-4 3-28 5-26 12-25 5-51 131 48 36 121-55z" fill="rgb(80,85,172)" stroke="rgb(80,85,172)"/>
<path d="M3720 1450l-11-25-2-15-5-11-4-15-6-10-12-24-13-26-16-25-1-1-90 114-5 48 68 40 38 19 59-24z" fill="rgb(80,85,172)" stroke="rgb(80,85,172)"/>
<path d="M3615 803l4-26 1-27 13-25 7-29 19-23-121 55 39 82 36-1z" fill="rgb(81,86,174)" stroke="rgb(81,86,174)"/>
<path d="M3638 1273l-18-23-26-24-24-26-1-4-1 4 72 77z" fill="rgb(81,86,174)" stroke="rgb(81,86,174)"/>
<path d="M3619 1586l31-6 19-18 6-13-14-30-38-19-9 89z" fill="rgb(76,81,166)" stroke="rgb(76,81,166)"/>
<path d="M3574 984l9-21-25 24 7 12 11 7z" fill="rgb(80,85,172)" stroke="rgb(80,85,172)"/>
<path d="M3779 480l-38-6-32-8 20 87 0 1 50-74z" fill="rgb(80,85,171)" stroke="rgb(80,85,171)"/>
<path d="M3681 1536l13-12 5-7 21-17 0-5-59 24 14 30z" fill="rgb(79,84,171)" stroke="rgb(79,84,171)"/>
<path d="M3734 644l10-28 18-23 17-24 8-3-58-12-10 81z" fill="rgb(77,82,169)" stroke="rgb(77,82,169)"/>
<path d="M3824 554l28-15 32-7-30-37-37-8-38-7-50 74 58 12z" fill="rgb(81,86,174)" stroke="rgb(81,86,174)"/>
<path d="M3491 1209l29 21 17-25 6-10-70-11z" fill="rgb(104,136,204)" stroke="rgb(104,136,204)"/>
<path d="M3465 1018l-4 27 5 17 86-72-36-68-26 11-32 4 3 27 5 27z" fill="rgb(106,140,209)" stroke="rgb(106,140,209)"/>
<path d="M3469 1072l-7 27 11 27-1 27-2 27 3 4 70 11 9-15 8-30 1-30-3-30 11-30-3-30 0-30-1-1-11-8-2-1-86 72z" fill="rgb(100,131,198)" stroke="rgb(100,131,198)"/>
<path d="M3549 974l-18-25-11-29-4 2 36 68 2 1 4-4z" fill="rgb(102,134,201)" stroke="rgb(102,134,201)"/>
<path d="M3558 987l-4 4 11 8z" fill="rgb(100,132,199)" stroke="rgb(100,132,199)"/>
<path d="M3997 684l-8 26 29-3 25-16 29-2 1-1 14-22-93-7z" fill="rgb(70,72,161)" stroke="rgb(70,72,161)"/>
<path d="M4000 550l-3 27-8 26 4 27 0 27 1 2 93 7 2 0-1-191-37-41-12 8-29 8-1 34-10 32z" fill="rgb(67,70,159)" stroke="rgb(67,70,159)"/>
<path d="M4668 329l-23-16-10-5-18-7-24 5-28 4-27 7-27 2 49 81 1 1 128-67z" fill="rgb(67,70,158)" stroke="rgb(67,70,158)"/>
<path d="M4100 672l-11-6-2 0-14 22z" fill="rgb(67,70,158)" stroke="rgb(67,70,158)"/>
<path d="M4102 671l33-13 29-2 27 5 28 7 36-84-31-73-123-38-13 2 1 191 11 6z" fill="rgb(67,70,159)" stroke="rgb(67,70,159)"/>
<path d="M4200 370l-29 7-25 17-27 10-30 5-25 17-13 8 37 41 13-2 113-66-3-40z" fill="rgb(67,69,158)" stroke="rgb(67,69,158)"/>
<path d="M4371 335l-28 5-29 5-30 1-27 10-29 7-17 4 3 40 24 16 122-26 18-63z" fill="rgb(67,70,159)" stroke="rgb(67,70,159)"/>
<path d="M4255 584l120-79 0-1-129-35-22 42z" fill="rgb(69,71,161)" stroke="rgb(69,71,161)"/>
<path d="M4246 469l-8-46-24-16-113 66 123 38z" fill="rgb(65,67,154)" stroke="rgb(65,67,154)"/>
<path d="M4219 668l27-10 28-9 29-2 32 2 3 1 29 2 6 1 66-62 3-10-66-75-1-1-120 79-36 84z" fill="rgb(66,69,156)" stroke="rgb(66,69,156)"/>
<path d="M4246 469l129 35-15-107-122 26z" fill="rgb(69,71,160)" stroke="rgb(69,71,160)"/>
<path d="M4511 319l-28 6-28-4-27 8-28 1-22 4-18 63 15 107 0 1 1 1 184-106-49-81z" fill="rgb(69,71,161)" stroke="rgb(69,71,161)"/>
<path d="M4399 656l30 12 26-8 6-1-22-68-66 62z" fill="rgb(69,71,160)" stroke="rgb(69,71,160)"/>
<path d="M4476 655l4-3 28 4 26-9 26-3 2 0 14-1 0-88-134 26-3 10 22 68z" fill="rgb(70,72,161)" stroke="rgb(70,72,161)"/>
<path d="M4442 581l134-26 16-14 20-34-51-106-1-1-184 106z" fill="rgb(67,70,159)" stroke="rgb(67,70,159)"/>
<path d="M4586 641l14 4 12-4 26 6 29-16-75-90-16 14 0 88z" fill="rgb(71,74,164)" stroke="rgb(71,74,164)"/>
<path d="M4700 460l5-28 3-27 6-28 5-25-18-13-5-3-7-2-128 67 51 106 105-13z" fill="rgb(70,72,162)" stroke="rgb(70,72,162)"/>
<path d="M4671 628l30-23 27-10 6-1 3-60-14-34-1 0-1-1-1 1-3-6-105 13-20 34 75 90z" fill="rgb(69,71,160)" stroke="rgb(69,71,160)"/>
<path d="M4745 590l10-5 30-1-48-50-3 60z" fill="rgb(69,71,160)" stroke="rgb(69,71,160)"/>
<path d="M4798 555l11-18 3-10 15-27-9-27-12-25-28 17-24 23-31 12 14 34 48 50z" fill="rgb(70,72,162)" stroke="rgb(70,72,162)"/>
<path d="M3706 1301l-18 22-8 27 16 23 6 26 13 24 5 27 26-5 61-138-96-15z" fill="rgb(138,175,212)" stroke="rgb(138,175,212)"/>
<path d="M3749 1120l0 8 80-32-34-73-2-1-8 6-25 12 0 27-8 26z" fill="rgb(138,175,212)" stroke="rgb(138,175,212)"/>
<path d="M3749 1146l-2 27 3 27-17 23-7 27-7 27-8 15 96 15 19-2 17-52-6-149-8-8-80 32z" fill="rgb(140,177,215)" stroke="rgb(140,177,215)"/>
<path d="M3869 959l-23 15-20 19-19 19-14 10 2 1 100-68-15-13z" fill="rgb(141,178,216)" stroke="rgb(141,178,216)"/>
<path d="M3747 1444l12 5 15-5 27 1 27 5 18 4 8 0 7 0 20-7 5 0-29-114-2-4-29-24-19 2-61 138z" fill="rgb(136,172,210)" stroke="rgb(136,172,210)"/>
<path d="M3795 1023l34 73 8 8 183-38 6-8-21-74-90-35-20 6z" fill="rgb(141,178,216)" stroke="rgb(141,178,216)"/>
<path d="M3885 935l-5 7 15 13 20-6-4-24-2-3z" fill="rgb(145,182,221)" stroke="rgb(145,182,221)"/>
<path d="M3910 921l-1 1 2 3 2-8z" fill="rgb(144,182,220)" stroke="rgb(144,182,220)"/>
<path d="M3826 1305l29 24 159-53 13-85-15-32-169 94z" fill="rgb(141,178,216)" stroke="rgb(141,178,216)"/>
<path d="M3843 1253l169-94 8-93-183 38z" fill="rgb(142,180,219)" stroke="rgb(142,180,219)"/>
<path d="M3975 872l-24 13-23 14-15 18-2 8 4 24 90 35 35-76-46-55z" fill="rgb(138,176,214)" stroke="rgb(138,176,214)"/>
<path d="M4151 1206l2-15-2-10-1-25-1-3 1-27 6-26 0-1-46-33-84-8-6 8-8 93 15 32 94 32 32-3z" fill="rgb(136,172,210)" stroke="rgb(136,172,210)"/>
<path d="M3908 1447l27 1 27 1 27 5 5 0 22-10 26 0 27 0 8 0-22-54-198-57 29 114z" fill="rgb(144,182,220)" stroke="rgb(144,182,220)"/>
<path d="M3855 1329l2 4 198 57 9-65-12-21-38-28z" fill="rgb(141,178,216)" stroke="rgb(141,178,216)"/>
<path d="M4064 861l-16-5-18-20-12 3-23 14-1 0 46 55 20-12 10-28z" fill="rgb(141,180,218)" stroke="rgb(141,180,218)"/>
<path d="M4014 1276l38 28 69-81-94-32z" fill="rgb(141,180,218)" stroke="rgb(141,180,218)"/>
<path d="M4040 908l-35 76 21 74 84 8 66-98-48-63-68-9z" fill="rgb(145,184,222)" stroke="rgb(145,184,222)"/>
<path d="M4096 1446l27 2 27 2 1-5 0-1 1-4 3-17-11-27 6-27 5-27 0-13-6-18 0-2-85 16-9 65 22 54z" fill="rgb(138,176,212)" stroke="rgb(138,176,212)"/>
<path d="M4150 1299l-3-11 6-26 2-27 0-6-2-9-32 3-69 81 12 21 85-16z" fill="rgb(141,178,216)" stroke="rgb(141,178,216)"/>
<path d="M4218 947l1-27-27 0-26-9-1 0-24-9-9-1-4 4 48 63 35-7z" fill="rgb(142,181,219)" stroke="rgb(142,181,219)"/>
<path d="M4114 899l-19-18-7-5-17-7-1-1-10 28 68 9 4-4z" fill="rgb(142,180,219)" stroke="rgb(142,180,219)"/>
<path d="M4159 1074l2-27 16-24-5-28 8-25 25 6 1-5 5-10-35 7-66 98 46 33z" fill="rgb(145,182,221)" stroke="rgb(145,182,221)"/>
<path d="M3660 1949l27 0 26-4 26-10 27 3 14-5-42-44-79 48z" fill="rgb(121,156,204)" stroke="rgb(121,156,204)"/>
<path d="M3638 1863l5 20 6-36-21-10z" fill="rgb(128,165,214)" stroke="rgb(128,165,214)"/>
<path d="M3616 1700l-3 23-13 27 15 27 2 9 51-31-50-60z" fill="rgb(121,156,204)" stroke="rgb(121,156,204)"/>
<path d="M3720 1450l0 45 4-2 22-48z" fill="rgb(124,160,208)" stroke="rgb(124,160,208)"/>
<path d="M3621 1806l-1 14 7 15 1 2 21 10 86-38 13-30-80-24-51 31z" fill="rgb(124,160,208)" stroke="rgb(124,160,208)"/>
<path d="M3669 1562l-19 18-2 30-11 28-11 27-2 8 83-57-32-67z" fill="rgb(128,165,214)" stroke="rgb(128,165,214)"/>
<path d="M3645 1891l2 9 10 19 2 18 79-48-3-80-86 38-6 36z" fill="rgb(128,166,215)" stroke="rgb(128,166,215)"/>
<path d="M3618 1694l0 1 50 60 80 24 10-7 18-25 26-77-95-54-83 57z" fill="rgb(126,162,210)" stroke="rgb(126,162,210)"/>
<path d="M3681 1536l-6 13 32 67 95 54 28-16 62-89-1-35-167-37-4 2 0 5-20 18z" fill="rgb(126,162,210)" stroke="rgb(126,162,210)"/>
<path d="M3793 1929l29-1 28-8 33-5-125-143-10 7-13 30 3 80 42 44z" fill="rgb(127,164,211)" stroke="rgb(127,164,211)"/>
<path d="M4001 1879l25-9 26-5-4-28 0-13-8-15-4-29 3-25-1-4-1-10-36 49-10 94z" fill="rgb(121,156,204)" stroke="rgb(121,156,204)"/>
<path d="M3776 1747l71 40 109-29-74-63-52-41-28 16z" fill="rgb(125,160,208)" stroke="rgb(125,160,208)"/>
<path d="M3888 1914l38-7 27-3 24-11-130-106-71-40-18 25 125 143z" fill="rgb(125,161,209)" stroke="rgb(125,161,209)"/>
<path d="M3881 1453l-27 1-26 0-27-1-27 1-27-10-1 1-22 48 167 37 9-27-12-49z" fill="rgb(121,157,204)" stroke="rgb(121,157,204)"/>
<path d="M3977 1893l14-9 10-94-45-32-109 29 130 106z" fill="rgb(124,160,206)" stroke="rgb(124,160,206)"/>
<path d="M4030 1666l27-4 0-4-40-33-125-60-62 89 52 41 149-23z" fill="rgb(124,160,206)" stroke="rgb(124,160,206)"/>
<path d="M4037 1740l-3-17 1-29-4-22-149 23 74 63 45 32 36-49z" fill="rgb(122,157,205)" stroke="rgb(122,157,205)"/>
<path d="M3891 1530l1 35 125 60 50-169-167 47z" fill="rgb(122,158,205)" stroke="rgb(122,158,205)"/>
<path d="M4069 1444l-27 0-26 0-27 13-27-5-27 4-27 0-20-2 12 49 167-47 12-6-2-6z" fill="rgb(125,160,208)" stroke="rgb(125,160,208)"/>
<path d="M4060 1662l30 4 30-7 30-4-2-26-1-2-62 10-28 21 0 4z" fill="rgb(127,164,211)" stroke="rgb(127,164,211)"/>
<path d="M4057 1658l28-21 33-175-39-12-12 6-50 169z" fill="rgb(128,166,214)" stroke="rgb(128,166,214)"/>
<path d="M4150 1450l-27-2-27-2-19-2 2 6 39 12 32-3z" fill="rgb(124,160,208)" stroke="rgb(124,160,208)"/>
<path d="M4146 1602l7-17 2-13-10-23 2-9 0-2 0-29 4-30-1-20-32 3-33 175 62-10z" fill="rgb(128,165,214)" stroke="rgb(128,165,214)"/>
<path d="M3020 1632l-20 18-5 27 0 27 2 8 52-56-11-42-6 1z" fill="rgb(110,145,209)" stroke="rgb(110,145,209)"/>
<path d="M3036 1610l-4 5 6-1 5-9z" fill="rgb(105,138,200)" stroke="rgb(105,138,200)"/>
<path d="M3186 2159l3-1 27 2 22-26-36-41-58 64z" fill="rgb(106,140,201)" stroke="rgb(106,140,201)"/>
<path d="M3004 2053l3 26-9 27 8 27-4 19 142 5 58-64-28-123-3 0-167 81z" fill="rgb(111,147,210)" stroke="rgb(111,147,210)"/>
<path d="M3002 1731l-5 26 3 27-3 27 1 13 65-13 6-52-1-66-19-37-52 56z" fill="rgb(105,140,201)" stroke="rgb(105,140,201)"/>
<path d="M2999 1838l-3 27 11 27 0 26-8 27 0 2 73-127-9-9-65 13z" fill="rgb(109,145,208)" stroke="rgb(109,145,208)"/>
<path d="M3069 1759l139 8 9-5-6-12-25-33-118-24z" fill="rgb(109,144,206)" stroke="rgb(109,144,206)"/>
<path d="M3059 1595l-16 10-5 9 11 42 19 37 118 24 10-29-31-84-106-9z" fill="rgb(111,146,210)" stroke="rgb(111,146,210)"/>
<path d="M3063 1811l9 9 32 26 104-79-139-8z" fill="rgb(110,146,209)" stroke="rgb(110,146,209)"/>
<path d="M3004 1972l-9 27 10 27-1 25 167-81-67-124-32-26-73 127z" fill="rgb(111,146,210)" stroke="rgb(111,146,210)"/>
<path d="M3151 1540l-23 17-28 3-16 22-25 13 106 9 69-18-26-55-3 1-29-2z" fill="rgb(105,140,201)" stroke="rgb(105,140,201)"/>
<path d="M3242 2130l27-21 28-91-98-55-25 7 28 123 36 41z" fill="rgb(110,145,209)" stroke="rgb(110,145,209)"/>
<path d="M3208 1767l-104 79 67 124 3 0 25-7 64-75 7-96-53-30z" fill="rgb(111,147,211)" stroke="rgb(111,147,211)"/>
<path d="M3186 1717l25 33 53-85-11-18-57 41z" fill="rgb(110,145,208)" stroke="rgb(110,145,208)"/>
<path d="M3278 1552l-21-21-27-11-22 11 26 55 20 4 41-19z" fill="rgb(112,147,211)" stroke="rgb(112,147,211)"/>
<path d="M3196 1688l57-41 1-57-20-4-69 18z" fill="rgb(105,138,200)" stroke="rgb(105,138,200)"/>
<path d="M3634 1955l26-6-1-12-27 17-1 0z" fill="rgb(107,142,205)" stroke="rgb(107,142,205)"/>
<path d="M3387 2024l2-63-90-70-36-3-64 75 98 55 70 25z" fill="rgb(112,147,211)" stroke="rgb(112,147,211)"/>
<path d="M3217 1762l53 30 36-25 16-28-11-32-47-42-53 85z" fill="rgb(106,141,202)" stroke="rgb(106,141,202)"/>
<path d="M3326 1584l-28-10-3-3-41 19-1 57 11 18 47 42 35-109z" fill="rgb(106,141,204)" stroke="rgb(106,141,204)"/>
<path d="M3270 2108l30-18 19-20 25-12 23-15-70-25-28 91z" fill="rgb(106,141,202)" stroke="rgb(106,141,202)"/>
<path d="M3380 1602l-30-2-4-2-35 109 11 32 41-12 44-114z" fill="rgb(107,141,204)" stroke="rgb(107,141,204)"/>
<path d="M3389 2023l17-25 24-18 32-4 32 0 30-11 12-2-94-93-53 91-2 63z" fill="rgb(107,142,205)" stroke="rgb(107,142,205)"/>
<path d="M3263 1888l36 3 129-36-3-6-119-82-36 25z" fill="rgb(109,144,206)" stroke="rgb(109,144,206)"/>
<path d="M3425 1849l7-78-52-40-17-4-41 12-16 28z" fill="rgb(106,141,202)" stroke="rgb(106,141,202)"/>
<path d="M3462 1749l-20-53-62 35 52 40z" fill="rgb(109,144,206)" stroke="rgb(109,144,206)"/>
<path d="M3432 1771l-7 78 3 6 14 12 79-51 0-14-23-55-36 2z" fill="rgb(111,147,211)" stroke="rgb(111,147,211)"/>
<path d="M3389 1961l53-91 0-3-14-12-129 36z" fill="rgb(107,141,204)" stroke="rgb(107,141,204)"/>
<path d="M3441 1606l-32 8-2-1-44 114 17 4 62-35 23-83z" fill="rgb(106,140,202)" stroke="rgb(106,140,202)"/>
<path d="M3591 1600l-33-3-27 19-24 3 41 58 20 8 37-2 9-94z" fill="rgb(111,147,211)" stroke="rgb(111,147,211)"/>
<path d="M3500 1620l-30-6-5-1-23 83 20 53 36-2 50-70-41-58z" fill="rgb(110,145,209)" stroke="rgb(110,145,209)"/>
<path d="M3582 1955l25-7 24 6 1 0 10-65-7-26-16-26 1-4-3-1-46 79 0 46z" fill="rgb(110,146,210)" stroke="rgb(110,146,210)"/>
<path d="M3556 1960l15-3 0-46-23-84-27-11-79 51 0 3 94 93z" fill="rgb(111,147,211)" stroke="rgb(111,147,211)"/>
<path d="M3498 1747l23 55 55-50-8-67-20-8z" fill="rgb(112,147,212)" stroke="rgb(112,147,212)"/>
<path d="M3571 1911l46-79-18-22-51 17z" fill="rgb(106,141,202)" stroke="rgb(106,141,202)"/>
<path d="M3615 1777l-15-27 8-28 10-27-10-12-3 0-37 2 8 67 28 42 13-8z" fill="rgb(104,137,199)" stroke="rgb(104,137,199)"/>
<path d="M3521 1816l27 11 51-17 5-16-28-42-55 50z" fill="rgb(110,145,209)" stroke="rgb(110,145,209)"/>
<path d="M3621 1806l-4-20-13 8-5 16 18 22 3 1z" fill="rgb(110,145,208)" stroke="rgb(110,145,208)"/>
<path d="M3626 1665l11-27 11-28 2-30-31 6-5 3-9 94 3 0 16-10z" fill="rgb(107,142,204)" stroke="rgb(107,142,204)"/>
<path d="M3657 1919l-14-27-1-3-10 65 27-17z" fill="rgb(111,147,211)" stroke="rgb(111,147,211)"/>
<path d="M3618 1694l6-21-16 10 10 12z" fill="rgb(111,146,210)" stroke="rgb(111,146,210)"/>
<path d="M4038 1751l10 28 0 29 0 29 4 28 29-4 18-2 35-12 2-1 4-1 29-10-10-44-106-71-16 21z" fill="rgb(81,81,166)" stroke="rgb(81,81,166)"/>
<path d="M4030 1666l1 6 22-3z" fill="rgb(81,81,166)" stroke="rgb(81,81,166)"/>
<path d="M4053 1669l-22 3 5 22 1 29 0 18 16-21 4-13 0-38z" fill="rgb(80,80,165)" stroke="rgb(80,80,165)"/>
<path d="M4156 1100l-6 26-1 27 5 26-3 27 2 14 34-2 21-39-15-53-37-27z" fill="rgb(79,79,162)" stroke="rgb(79,79,162)"/>
<path d="M4148 1629l2 26-29 10-30 2-30 2-4 0 0 38 158 11 11-5 4-23-32-71-51 8z" fill="rgb(79,79,164)" stroke="rgb(79,79,164)"/>
<path d="M4149 1311l9 27-4 26-4 27 9 26-8 27 1 14 38-3-39-147-2 1z" fill="rgb(82,82,168)" stroke="rgb(82,82,168)"/>
<path d="M4155 1232l-1 27-2 26-3 24 2-1 37-66-1-24-34 2z" fill="rgb(80,80,165)" stroke="rgb(80,80,165)"/>
<path d="M4205 1262l73 44 68-56-23-53-115-18-21 39 1 24z" fill="rgb(81,81,166)" stroke="rgb(81,81,166)"/>
<path d="M4188 1242l-37 66 39 147 35 9 30-26-50-176z" fill="rgb(81,81,168)" stroke="rgb(81,81,168)"/>
<path d="M4206 1823l13 0 26-3 18 3 11 0 23-12 9 1-80-99-11 5-56 73 10 44z" fill="rgb(84,84,170)" stroke="rgb(84,84,170)"/>
<path d="M4152 1470l3 26-4 27-6 26 12 27-11 26 1 25 51-8 46-94-19-61-35-9-38 3z" fill="rgb(77,77,161)" stroke="rgb(77,77,161)"/>
<path d="M4161 1047l-2 27-3 25 37 27 139-140 0-1-8-13-29-4-29-2-28 6-29 5-29-7-8 25 5 28z" fill="rgb(77,77,161)" stroke="rgb(77,77,161)"/>
<path d="M4053 1720l106 71 56-73-158-11z" fill="rgb(82,82,169)" stroke="rgb(82,82,169)"/>
<path d="M4225 1464l19 61 67 42 134-88-29-88-132 30-29 17z" fill="rgb(79,79,162)" stroke="rgb(79,79,162)"/>
<path d="M4255 1438l29-17-6-115-73-44z" fill="rgb(81,81,166)" stroke="rgb(81,81,166)"/>
<path d="M4230 1690l138-44-1-2-56-77-67-42-46 94z" fill="rgb(81,81,166)" stroke="rgb(81,81,166)"/>
<path d="M4324 1813l27 6 26 9 12 5 41 10 18-13-21-81-59-103-138 44-4 23 80 99z" fill="rgb(81,81,168)" stroke="rgb(81,81,168)"/>
<path d="M4208 1179l115 18 23-25-2-171-12-15-139 140z" fill="rgb(81,81,168)" stroke="rgb(81,81,168)"/>
<path d="M4487 1034l3-34-17-21-16-20-20-18-2-2-42 18-6 5-22 8-33 15 0 1 12 15 111 57 19 6z" fill="rgb(80,80,165)" stroke="rgb(80,80,165)"/>
<path d="M4420 920l-12 25-15 12 42-18zM4356 973l-32-1 8 13 33-15z" fill="rgb(81,81,166)" stroke="rgb(81,81,166)"/>
<path d="M4278 1306l6 115 132-30 8-13-4-58-74-70z" fill="rgb(84,84,170)" stroke="rgb(84,84,170)"/>
<path d="M4470 1813l1-30 11-21 2-7 0-10-4-21 3-9 0-20 9-29 18-24 21-20-25-17-79 144 21 81z" fill="rgb(82,82,169)" stroke="rgb(82,82,169)"/>
<path d="M4427 1749l79-144-16-74-12-5-111 118 1 2z" fill="rgb(80,80,165)" stroke="rgb(80,80,165)"/>
<path d="M4346 1250l74 70 68-88-4-30-130-32-8 2-23 25z" fill="rgb(82,82,169)" stroke="rgb(82,82,169)"/>
<path d="M4498 1361l10-25 5-26 22-14 8-7-23-48-32-9-68 88 4 58 71-3z" fill="rgb(79,79,164)" stroke="rgb(79,79,164)"/>
<path d="M4346 1172l8-2 12-8 89-104-111-57z" fill="rgb(84,84,170)" stroke="rgb(84,84,170)"/>
<path d="M4367 1644l111-118-33-47-134 88z" fill="rgb(77,77,160)" stroke="rgb(77,77,160)"/>
<path d="M4589 1491l-3-1-22-22-23-19-24-19-25-16 1-27 2-12-71 3-8 13 29 88 33 47 12 5 99-16 7-20z" fill="rgb(81,81,166)" stroke="rgb(81,81,166)"/>
<path d="M4470 1100l3-34 1-2-19-6-89 104 118-42z" fill="rgb(82,82,169)" stroke="rgb(82,82,169)"/>
<path d="M4491 1132l-7-12-118 42-12 8 130 32 15-60z" fill="rgb(84,84,170)" stroke="rgb(84,84,170)"/>
<path d="M4575 1226l-6-9-18-9-18-20-2-1-18-24-14-21-15 60 4 30 32 9 66-4z" fill="rgb(81,81,166)" stroke="rgb(81,81,166)"/>
<path d="M4532 1622l23-19 21-21 18-24 16-18-21-25-99 16 16 74 25 17z" fill="rgb(81,81,166)" stroke="rgb(81,81,166)"/>
<path d="M4613 1537l25-17-26-16-16-9-7 20 21 25z" fill="rgb(81,81,166)" stroke="rgb(81,81,166)"/>
<path d="M4547 1285l6-9 18-19 25-10-10-10-66 4 23 48z" fill="rgb(82,82,169)" stroke="rgb(82,82,169)"/>
<path d="M4637 1883l66 25 7-3 33-5 33 0 30-14 3-13-4-116-61 2-94 72-31 45z" fill="rgb(90,117,190)" stroke="rgb(90,117,190)"/>
<path d="M4505 1847l36 0 78 29 31-45 27-86 17-133-25-3-73 56-93 179z" fill="rgb(91,119,194)" stroke="rgb(91,119,194)"/>
<path d="M4650 1831l94-72-13-30-54 16z" fill="rgb(89,116,189)" stroke="rgb(89,116,189)"/>
<path d="M4473 979l17 21-1 34-11 31 43 14 31-14 11-121-14-39-61 10-53 24 2 2 20 18z" fill="rgb(87,115,186)" stroke="rgb(87,115,186)"/>
<path d="M4430 892l-10 28 15 19 53-24-50-33z" fill="rgb(87,115,186)" stroke="rgb(87,115,186)"/>
<path d="M4510 1642l-18 24-9 29 0 30 1 30-9 29-5 29 24 15 9 16 93-179-65-43z" fill="rgb(89,115,188)" stroke="rgb(89,115,188)"/>
<path d="M4535 1296l-22 14-5 26-10 25-3 14 4 0 53-67-9-19z" fill="rgb(90,117,191)" stroke="rgb(90,117,191)"/>
<path d="M4493 1387l-1 27 26 16 24 18 22 20 22 21 10 6 19-54-39-44-77-22-4 0z" fill="rgb(87,115,188)" stroke="rgb(87,115,188)"/>
<path d="M4477 1067l-7 33 14 20 22-8 15-33-43-14z" fill="rgb(92,120,195)" stroke="rgb(92,120,195)"/>
<path d="M4491 1132l8 10 7-30-22 8z" fill="rgb(92,120,194)" stroke="rgb(92,120,194)"/>
<path d="M4513 1163l18 23 20 22 28 14 10 15 17-1 40-124-94-47-31 14-15 33-7 30z" fill="rgb(90,117,190)" stroke="rgb(90,117,190)"/>
<path d="M4552 855l-18-19-31-11-32-10-10 28-12 26-11 13 50 33 61-10 7-41-2-7z" fill="rgb(89,115,188)" stroke="rgb(89,115,188)"/>
<path d="M4554 857l2 7 8-1z" fill="rgb(90,117,191)" stroke="rgb(90,117,191)"/>
<path d="M4616 929l1-30-20-16-25-11-3-7-5-2-8 1-7 41 14 39 61 2z" fill="rgb(94,121,196)" stroke="rgb(94,121,196)"/>
<path d="M4499 1375l77 22 37-89-61 0z" fill="rgb(92,121,196)" stroke="rgb(92,121,196)"/>
<path d="M4594 1558l-18 24-17 25-27 15-1 0 65 43 73-56-59-69z" fill="rgb(92,120,194)" stroke="rgb(92,120,194)"/>
<path d="M4612 1504l26 16-25 17-3 3 59 69 25 3 29-5 16-5 19-30-5-118-83-23-29 1-26 9-19 54z" fill="rgb(90,117,190)" stroke="rgb(90,117,190)"/>
<path d="M4613 1308l-37 89 39 44 26-9 20-133-1-2-26-8z" fill="rgb(92,121,196)" stroke="rgb(92,121,196)"/>
<path d="M4596 1247l-20 17-22 14-11 11 9 19 61 0 21-19-28-53-17 1z" fill="rgb(91,119,192)" stroke="rgb(91,119,192)"/>
<path d="M4634 1289l26 8 43-21 71-95-124-69-4 0-40 124z" fill="rgb(90,116,190)" stroke="rgb(90,116,190)"/>
<path d="M4693 1041l-13 25-42-20-9-29 1-10-6-19 5-30 0-1-1-1-4-10-61-2-11 121 94 47 4 0 60-83 0-6z" fill="rgb(94,121,196)" stroke="rgb(94,121,196)"/>
<path d="M4723 1607l8 122 13 30 61-2 33-56-99-99z" fill="rgb(92,120,194)" stroke="rgb(92,120,194)"/>
<path d="M4670 1431l83 23 44-50-29-36-72-17z" fill="rgb(87,114,186)" stroke="rgb(87,114,186)"/>
<path d="M4696 1351l-35-52-20 133 29-1z" fill="rgb(87,114,186)" stroke="rgb(87,114,186)"/>
<path d="M4840 1027l0-27 12-6-4-11-21 42-26-9-27-4-27-6-25-13-9 27-3 3 0 6 130 9z" fill="rgb(90,117,191)" stroke="rgb(90,117,191)"/>
<path d="M4661 1299l35 52 72 17-3-12-55-73-7-7-43 21z" fill="rgb(92,120,195)" stroke="rgb(92,120,195)"/>
<path d="M4694 1612l-17 133 54-16-8-122z" fill="rgb(90,117,191)" stroke="rgb(90,117,191)"/>
<path d="M4842 1165l2-12 0-1 0-19 1-26-11-27 6-27 0-15-130-9-60 83 124 69 61 1z" fill="rgb(91,119,192)" stroke="rgb(91,119,192)"/>
<path d="M4833 1187l2-5-61-1-71 95 7 7 62 23 63-111z" fill="rgb(87,115,188)" stroke="rgb(87,115,188)"/>
<path d="M4843 1373l-3-26 3-27-1-27 2-26-9-27 5-27-5-18-63 111-7 50 3 12 29 36 42-10z" fill="rgb(91,119,194)" stroke="rgb(91,119,194)"/>
<path d="M4765 1356l7-50-62-23z" fill="rgb(90,117,191)" stroke="rgb(90,117,191)"/>
<path d="M4845 1533l-3-26-3-27 6-27-3-26-4-27 1-6-42 10-44 50 5 118 81-18z" fill="rgb(90,117,190)" stroke="rgb(90,117,190)"/>
<path d="M4814 1856l8-30 14-28 12-28 18-17 2-13-28-20 2-18-4-1-33 56 4 116z" fill="rgb(89,115,189)" stroke="rgb(89,115,189)"/>
<path d="M4842 1693l2-26-1-27-10-27 13-26-9-27 2-6-81 18-19 30 99 99 4 1z" fill="rgb(91,119,192)" stroke="rgb(91,119,192)"/>
<path d="M4004 795l69-107-1 1-27 12-27 6-29 3-5 32 5 31z" fill="rgb(227,242,239)" stroke="rgb(227,242,239)"/>
<path d="M4010 804l20 32 24 12 16 20 59-179-29-17-27 16-69 107z" fill="rgb(224,238,235)" stroke="rgb(224,238,235)"/>
<path d="M4191 661l-27-5-29 2-33 13-2 1 29 17 18 3 7 0 65-24z" fill="rgb(225,240,236)" stroke="rgb(225,240,236)"/>
<path d="M4141 902l25 9 28-2 25 11 26 13 24 17 38-8-2-34-34-26-109-7-30 26z" fill="rgb(224,238,235)" stroke="rgb(224,238,235)"/>
<path d="M4071 869l26 10 17 20 18 2 30-26-15-183-18-3-59 179z" fill="rgb(226,241,238)" stroke="rgb(226,241,238)"/>
<path d="M4270 950l27 10 27 12-17-30-38 8z" fill="rgb(226,241,238)" stroke="rgb(226,241,238)"/>
<path d="M4162 875l109 7-117-190-7 0z" fill="rgb(216,231,228)" stroke="rgb(216,231,228)"/>
<path d="M4305 908l54-78 19-44-57-84-102-34-65 24 117 190z" fill="rgb(230,245,241)" stroke="rgb(230,245,241)"/>
<path d="M4366 659l-31-10-32-2-27 12-29 0-28 9 102 34 45-43z" fill="rgb(222,237,234)" stroke="rgb(222,237,234)"/>
<path d="M4387 962l1-3-5 3z" fill="rgb(216,231,228)" stroke="rgb(216,231,228)"/>
<path d="M4354 960l29 2 5-3 12-25 18-27 11-29 1-1-71-47-54 78 2 34 17 30z" fill="rgb(226,241,238)" stroke="rgb(226,241,238)"/>
<path d="M4457 669l-28-1-32-3-31-6-45 43 57 84 119-17-34-104z" fill="rgb(226,242,238)" stroke="rgb(226,242,238)"/>
<path d="M4560 645l-26 2-26 9-28-4-17 13 34 104 37 13 42-40 0-99z" fill="rgb(221,236,232)" stroke="rgb(221,236,232)"/>
<path d="M4451 847l20-32 32 10 31 11 16 7-16-61-37-13-119 17-19 44 71 47z" fill="rgb(225,240,236)" stroke="rgb(225,240,236)"/>
<path d="M4559 846l8 17 149-13 13-40-97-74-56 6-42 40 16 61z" fill="rgb(216,231,228)" stroke="rgb(216,231,228)"/>
<path d="M4638 647l-26 2-26-8-10 2 0 99 56-6 36-104z" fill="rgb(226,241,238)" stroke="rgb(226,241,238)"/>
<path d="M4572 872l25 11 20 16-1 30 8 17 89 4 28-30-25-70-149 13z" fill="rgb(225,241,236)" stroke="rgb(225,241,236)"/>
<path d="M4629 957l-5 31 9 29 5 29 42 20-13-26-7-28-1-29 32 5 21 3 1-41-89-4z" fill="rgb(227,242,239)" stroke="rgb(227,242,239)"/>
<path d="M4632 736l97-52-8-29-53-23-36 104z" fill="rgb(222,237,234)" stroke="rgb(222,237,234)"/>
<path d="M4729 810l64-45 12-30-76-51-97 52z" fill="rgb(228,244,240)" stroke="rgb(228,244,240)"/>
<path d="M4722 993l25 13 27 6 27 4 26 9 21-42 13-5-6-25-12-15-102-18-28 30-1 41z" fill="rgb(222,236,234)" stroke="rgb(222,236,234)"/>
<path d="M4716 850l25 70 102 18 11-75-61-98-64 45z" fill="rgb(216,231,228)" stroke="rgb(216,231,228)"/>
<path d="M4729 599l-28 6-29 25-4 2 53 23 10-20 2-38z" fill="rgb(217,232,229)" stroke="rgb(217,232,229)"/>
<path d="M4849 438l-5 3 15-1 4-2z" fill="rgb(221,235,231)" stroke="rgb(221,235,231)"/>
<path d="M4785 584l-30 1-22 12-2 38 87-18-33-33z" fill="rgb(218,234,230)" stroke="rgb(218,234,230)"/>
<path d="M4721 655l8 29 76 51 31-20 29-72-47-26-87 18z" fill="rgb(218,234,230)" stroke="rgb(218,234,230)"/>
<path d="M4833 446l-27 2 12 25 9 27-15 27-7 32-20 25 33 33 47 26 12-10-18-193-15 1z" fill="rgb(217,232,229)" stroke="rgb(217,232,229)"/>
<path d="M4877 972l24-19 23-19 28-14 7-6-25 1-79 38 6 25z" fill="rgb(225,240,236)" stroke="rgb(225,240,236)"/>
<path d="M4805 735l-12 30 61 98 70-41-36-75-52-32z" fill="rgb(228,244,240)" stroke="rgb(228,244,240)"/>
<path d="M4843 938l12 15 79-38 0-90-10-3-70 41z" fill="rgb(228,245,240)" stroke="rgb(228,245,240)"/>
<path d="M4865 643l-29 72 52 32 110-13 30-107-151 6z" fill="rgb(221,236,232)" stroke="rgb(221,236,232)"/>
<path d="M4997 489l-34-9-24-28-28-25-10 2-26 9-12 0-4 2 18 193 151-6 3-2 5-47-27-84z" fill="rgb(222,237,234)" stroke="rgb(222,237,234)"/>
<path d="M4924 822l10 3 51-6 22-45-9-40-110 13z" fill="rgb(224,238,235)" stroke="rgb(224,238,235)"/>
<path d="M5060 554l-2-32-29-20-20-8 27 84 28-13z" fill="rgb(225,240,236)" stroke="rgb(225,240,236)"/>
<path d="M5052 778l16-26 7-26 1-26 6-26-3-27-48-22-3 2-30 107 9 40 43 10z" fill="rgb(226,241,238)" stroke="rgb(226,241,238)"/>
<path d="M5012 853l25-17 7-29 6-23-43-10-22 45 21 43z" fill="rgb(222,237,234)" stroke="rgb(222,237,234)"/>
<path d="M4974 899l21-21 11-16-21-43-51 6 0 90 25-1z" fill="rgb(216,231,228)" stroke="rgb(216,231,228)"/>
<path d="M5079 647l-10-30 1-33-6-19-28 13-5 47 48 22z" fill="rgb(220,235,231)" stroke="rgb(220,235,231)"/>
<path d="M4840 1000l0 27 0 11 29 3 0-25-6-28z" fill="rgb(80,99,179)" stroke="rgb(80,99,179)"/>
<path d="M4834 1080l11 27-1 26 0 27-9 22 8 0 13-2 29-16 15-26-31-97-29-3 0 15z" fill="rgb(85,105,186)" stroke="rgb(85,105,186)"/>
<path d="M4833 1187l2 8 8-13-8 0z" fill="rgb(86,107,190)" stroke="rgb(86,107,190)"/>
<path d="M4840 1213l-5 27 9 27-2 26 1 27-3 27 3 26-4 21 4-1 13-213-13 2-8 13z" fill="rgb(84,104,185)" stroke="rgb(84,104,185)"/>
<path d="M4838 1400l4 27 3 26-6 27 3 27 3 26-6 21 113-24-7-54-36-55-66-28-4 1z" fill="rgb(85,105,186)" stroke="rgb(85,105,186)"/>
<path d="M4840 1720l28 20 40-12 14-10 25-1 48-14-153-1z" fill="rgb(84,104,185)" stroke="rgb(84,104,185)"/>
<path d="M4837 1560l9 27-13 26 10 27 1 27-2 26 0 9 153 1 17-4 7-71-17-36-50-62-113 24z" fill="rgb(86,107,190)" stroke="rgb(86,107,190)"/>
<path d="M4843 1393l66 28 52-82 7-23-63-125-20-27-29 16z" fill="rgb(81,100,180)" stroke="rgb(81,100,180)"/>
<path d="M5000 960l-25 12-29 1-26 7-25 13-30-6-2 1 6 28 135-55z" fill="rgb(84,104,185)" stroke="rgb(84,104,185)"/>
<path d="M5046 1409l7-21-92-49-52 82 36 55z" fill="rgb(82,101,182)" stroke="rgb(82,101,182)"/>
<path d="M4945 1476l7 54 50 62 98-135-54-48z" fill="rgb(82,102,184)" stroke="rgb(82,102,184)"/>
<path d="M5060 976l-30-7-26-8-135 55 0 25 31 97 162-39 30-97-26-25z" fill="rgb(81,101,181)" stroke="rgb(81,101,181)"/>
<path d="M5091 981l-25-4 26 25 19-11z" fill="rgb(85,105,188)" stroke="rgb(85,105,188)"/>
<path d="M4905 1191l158 80 6-26-1-141-6-5-162 39-15 26z" fill="rgb(82,101,182)" stroke="rgb(82,101,182)"/>
<path d="M4905 1191l63 125 100-14 1-4-6-27z" fill="rgb(81,101,181)" stroke="rgb(81,101,181)"/>
<path d="M5019 1628l117-51-8-124-28 4-98 135z" fill="rgb(85,106,189)" stroke="rgb(85,106,189)"/>
<path d="M4961 1339l92 49 27-33-12-53-100 14z" fill="rgb(80,99,179)" stroke="rgb(80,99,179)"/>
<path d="M5150 1400l-1-17-69-28-27 33-7 21 54 48 28-4 25-16 20-27z" fill="rgb(81,100,181)" stroke="rgb(81,100,181)"/>
<path d="M5131 1279l-11-29 7-18-58 13-6 26 6 27 62-15z" fill="rgb(86,106,190)" stroke="rgb(86,106,190)"/>
<path d="M5185 1124l15-24-16-23-9-27-9-27-16-23-31-5-8-4-19 11-30 97 6 5 55 29 60 1z" fill="rgb(84,105,186)" stroke="rgb(84,105,186)"/>
<path d="M5035 1692l28-8 21 4 47-4 19-7 29 3 31 1 28 11 3 0 28 4 30 8 3-1-144-130-22 4-117 51-7 71z" fill="rgb(81,101,181)" stroke="rgb(81,101,181)"/>
<path d="M5149 1369l-6-30-18-28 6-28-62 15-1 4 12 53 69 28z" fill="rgb(80,100,180)" stroke="rgb(80,100,180)"/>
<path d="M5131 1223l13-24-21-66-55-29 1 141 58-13z" fill="rgb(84,105,186)" stroke="rgb(84,105,186)"/>
<path d="M5200 1433l-22-21-5-2-20 27 35 106 17-6 17-87z" fill="rgb(85,106,189)" stroke="rgb(85,106,189)"/>
<path d="M5128 1453l8 124 22-4 30-30-35-106z" fill="rgb(86,107,190)" stroke="rgb(86,107,190)"/>
<path d="M5164 1177l14-25 5-18-60-1 21 66z" fill="rgb(86,106,190)" stroke="rgb(86,106,190)"/>
<path d="M5388 1665l31-9 13-25 0-29 16-24 2-28-24-10-25-10-4-1-11 7-3 9 3 121z" fill="rgb(85,105,188)" stroke="rgb(85,105,188)"/>
<path d="M5329 1691l11-3 30-13 16-9-3-121-178-8-17 6-30 30 144 130z" fill="rgb(80,100,180)" stroke="rgb(80,100,180)"/>
<path d="M5375 1526l-23-15-28 0-24-11-22-21-31-8-23-20-2-1-17 87 178 8 3-9-5-9z" fill="rgb(85,105,188)" stroke="rgb(85,105,188)"/>
<path d="M5381 1527l5 9 11-7z" fill="rgb(82,102,184)" stroke="rgb(82,102,184)"/>
<path d="M5519 1017l3-3 12-18-8-51-11 5 2 26-2 26z" fill="rgb(94,138,204)" stroke="rgb(94,138,204)"/>
<path d="M5521 1028l-5 26 4 26 9 30 11 30 1 2 11-5 9-61-39-62-3 3z" fill="rgb(90,134,198)" stroke="rgb(90,134,198)"/>
<path d="M5553 1169l7 31 23 14 23 14 18 23 1 0 27-76-56-39-44 1-11 5z" fill="rgb(90,134,198)" stroke="rgb(90,134,198)"/>
<path d="M5522 1014l39 62 79-49-106-31z" fill="rgb(94,138,204)" stroke="rgb(94,138,204)"/>
<path d="M5644 1019l-24-19-13-19 0-1-4-6-19-24-24-20-34 15 8 51 106 31 4 1 5-7z" fill="rgb(94,140,205)" stroke="rgb(94,140,205)"/>
<path d="M5552 1137l44-1 48-103 0-5-4-1-79 49z" fill="rgb(91,136,200)" stroke="rgb(91,136,200)"/>
<path d="M5652 1175l68-25-76-117-48 103z" fill="rgb(96,142,209)" stroke="rgb(96,142,209)"/>
<path d="M5650 1260l33 8 33 6 23 1 13-82-19-41-13-2-68 25-27 76z" fill="rgb(90,134,198)" stroke="rgb(90,134,198)"/>
<path d="M5760 1120l-24-24-13-32-23-24-29-9-22-10-5 7 0 5 76 117 13 2 27-29z" fill="rgb(96,141,208)" stroke="rgb(96,141,208)"/>
<path d="M5750 1275l13-28 17-27-3-20-25-7-13 82z" fill="rgb(96,142,209)" stroke="rgb(96,142,209)"/>
<path d="M5775 1186l-10-32-5-31-27 29 19 41 25 7z" fill="rgb(90,134,198)" stroke="rgb(90,134,198)"/>
<path d="M4690 333l35-18 0-44-5 2-21-3-11 0-23 4-27-4-21 31 28 11 25 14z" fill="rgb(255,150,74)" stroke="rgb(255,150,74)"/>
<path d="M4698 337l24 17-4 27-3 26-5 27-9 25 18 35 2-1 66-52-62-126-35 18z" fill="rgb(252,147,72)" stroke="rgb(252,147,72)"/>
<path d="M4722 500l1 0-2-7-2 1z" fill="rgb(250,146,71)" stroke="rgb(250,146,71)"/>
<path d="M4842 438l-42-11-2-26-4-26 4-27-4-26 2-26 3-22-14-4-57 0-3 1 0 44 62 126 49 0zM4932 396l-5-32-1-32-14-30-2-32-5 0 2 29 5 29 14 26-6 38-9 21 1-1zM4810 272l16 3 26-3 6-2-43 0z" fill="rgb(250,146,71)" stroke="rgb(250,146,71)"/>
<path d="M4754 488l24-23 28-17 28-7 2 0-49 0-66 52 2 7z" fill="rgb(251,147,72)" stroke="rgb(251,147,72)"/>
<path d="M4798 348l-4 27 4 26 2 26 42 11 21 0 47-22 10-24 6-38-14-26-5-29-2-29-47 0-6 2-26 3-26-5-4 26-2 26z" fill="rgb(255,151,75)" stroke="rgb(255,151,75)"/>
<path d="M4875 438l30-11 5-11-47 22z" fill="rgb(255,150,74)" stroke="rgb(255,150,74)"/>
<path d="M4972 379l-25 17 1 1 27-13 11-19 0-7zM4989 270l1 28 0 6 2-34z" fill="rgb(247,127,56)" stroke="rgb(247,127,56)"/>
<path d="M4968 417l22 17-15-50-27 13z" fill="rgb(247,127,56)" stroke="rgb(247,127,56)"/>
<path d="M4992 435l18 24 26 16 28 12 25 18 25 17 12 14 91-41-90-81-141-49-11 19 15 50z" fill="rgb(244,125,55)" stroke="rgb(244,125,55)"/>
<path d="M5156 846l7 1 1 0-4-7z" fill="rgb(248,128,58)" stroke="rgb(248,128,58)"/>
<path d="M5247 472l-28 8-13-28-14-29-15-27 9-31 0-1-59 50 90 81 27 7 28-42z" fill="rgb(254,131,59)" stroke="rgb(254,131,59)"/>
<path d="M5131 542l21 17 22 13 24 12 15 25 16 8 19-104-4-11-27-7-91 41z" fill="rgb(250,130,58)" stroke="rgb(250,130,58)"/>
<path d="M5272 767l-34 7-29 20-30 22-19 24 4 7 1 0 17 3 26 6 26 5 27-4 16 13 19-30-19-76z" fill="rgb(250,128,58)" stroke="rgb(250,128,58)"/>
<path d="M4989 354l-3 4 0 7 141 49 59-50-1-31 2-32 11-31-26 6-15-6-46 0-17 3-14-3-88 0-2 34 1 22z" fill="rgb(247,127,56)" stroke="rgb(247,127,56)"/>
<path d="M5331 987l-5 30 8 29 8 35 27-30 1-25-40-49z" fill="rgb(255,132,60)" stroke="rgb(255,132,60)"/>
<path d="M5240 622l13 27 24 16 16 24 9 24 24-7 45-143-123-50-19 104z" fill="rgb(254,131,59)" stroke="rgb(254,131,59)"/>
<path d="M5291 880l33 19-3 30 5 29 4 19 40 49 58-117-69-51-63-18-19 30z" fill="rgb(248,128,58)" stroke="rgb(248,128,58)"/>
<path d="M5343 1083l12 36 12-29 20-24 8-12-26-3-27 30z" fill="rgb(250,130,58)" stroke="rgb(250,130,58)"/>
<path d="M5304 719l-1 33-26 12 19 76 63 18 64-84-28-64-69-4-24 7z" fill="rgb(252,131,59)" stroke="rgb(252,131,59)"/>
<path d="M5366 542l-18-19-16-20-13-24-16-20-30 1-1 0-28 42 4 11 123 50 7-2z" fill="rgb(245,126,55)" stroke="rgb(245,126,55)"/>
<path d="M5428 909l58-17-9-82-54-36-64 84z" fill="rgb(250,128,58)" stroke="rgb(250,128,58)"/>
<path d="M5429 616l-23-23-23-23-5-9-7 2-45 143 69 4 17-11 54-72-9-22z" fill="rgb(245,126,56)" stroke="rgb(245,126,56)"/>
<path d="M5412 699l113 50 27-13-21-63-32-37-33-9z" fill="rgb(252,130,59)" stroke="rgb(252,130,59)"/>
<path d="M5402 1045l20-18 9-26 19-18 19-23 25-17 19-23 8-3-2-13-33-12-58 17-58 117-1 25 26 3z" fill="rgb(245,126,56)" stroke="rgb(245,126,56)"/>
<path d="M5423 774l54 36 48-61-113-50-17 11z" fill="rgb(255,132,60)" stroke="rgb(255,132,60)"/>
<path d="M5586 878l13-27 4-30 8-16-7-45 0-2-1-3-51-19-27 13-48 61 9 82 33 12 67-25z" fill="rgb(251,130,58)" stroke="rgb(251,130,58)"/>
<path d="M5504 608l-12-24-30 19-5 2 9 22 33 9 16-12z" fill="rgb(248,128,58)" stroke="rgb(248,128,58)"/>
<path d="M5536 649l-17-19-4-6-16 12 32 37 20-9z" fill="rgb(248,128,58)" stroke="rgb(248,128,58)"/>
<path d="M5542 908l28-12 16-11 0-6-67 25 2 13z" fill="rgb(250,128,58)" stroke="rgb(250,128,58)"/>
<path d="M5596 721l26-15 4-1-17-7-26-17-28-13-4-4-20 9 21 63 51 19z" fill="rgb(245,126,55)" stroke="rgb(245,126,55)"/>
<path d="M5617 794l-13-34 7 45z" fill="rgb(241,124,54)" stroke="rgb(241,124,54)"/>
<path d="M5603 821l-4 30-13 27 0 1 34-12 0-2-9-60zM5604 758l0 2 0-5-1 0z" fill="rgb(222,47,41)" stroke="rgb(222,47,41)"/>
<path d="M5585 905l11 24 3 26 8 25 18 24 25 16 14-23 13-23 7-13-47-77-17-17-34 12z" fill="rgb(220,47,41)" stroke="rgb(220,47,41)"/>
<path d="M5622 706l-26 15 7 34 1 0 30-26 15-30z" fill="rgb(222,47,41)" stroke="rgb(222,47,41)"/>
<path d="M5700 671l-20 18-28 10-3 0-15 30 105 52 79-27 6-16-22-20-80-58z" fill="rgb(218,46,40)" stroke="rgb(218,46,40)"/>
<path d="M5745 585l-3 15 14-17z" fill="rgb(218,46,40)" stroke="rgb(218,46,40)"/>
<path d="M5720 840l10-9-9-30-101 64 0 2 17 17 74-18z" fill="rgb(230,51,44)" stroke="rgb(230,51,44)"/>
<path d="M5611 805l9 60 101-64 18-20-105-52-30 26 0 5 13 34z" fill="rgb(221,47,41)" stroke="rgb(221,47,41)"/>
<path d="M5756 583l-14 17-2 11 3 26-18 21-3 2 80 58 0-100-32-37z" fill="rgb(226,50,43)" stroke="rgb(226,50,43)"/>
<path d="M5802 718l22 20 54-28 18-120-94 28z" fill="rgb(217,46,40)" stroke="rgb(217,46,40)"/>
<path d="M5747 815l33-15 31 8 15 6-8-60-79 27-18 20 9 30z" fill="rgb(217,46,40)" stroke="rgb(217,46,40)"/>
<path d="M5850 915l-10 35 16 28 24 22 7-1 26-39-40-60-16-8z" fill="rgb(226,49,43)" stroke="rgb(226,49,43)"/>
<path d="M5690 950l7-28 14-25 0-30 0-1-74 18 47 77z" fill="rgb(222,47,41)" stroke="rgb(222,47,41)"/>
<path d="M5883 577l-28-5-28 8-27 6-28-6-2 1 32 37 94-28 3-14z" fill="rgb(227,50,44)" stroke="rgb(227,50,44)"/>
<path d="M5840 820l4 32 16 28-3 12 16 8 62-47 24-63-56-72-25-8-54 28-6 16 8 60z" fill="rgb(216,45,40)" stroke="rgb(216,45,40)"/>
<path d="M5960 700l-4-33 5-34-5-33-45-25-12 1-3 14-18 120 25 8 58-16z" fill="rgb(222,47,41)" stroke="rgb(222,47,41)"/>
<path d="M5915 993l35-3 15-17-52-13-26 39z" fill="rgb(225,49,43)" stroke="rgb(225,49,43)"/>
<path d="M5969 968l11-27 20-21 8-27 15-17-88-23-62 47 40 60 52 13z" fill="rgb(218,46,40)" stroke="rgb(218,46,40)"/>
<path d="M6058 721l-28-6-10 3 27 37 21-29z" fill="rgb(226,49,43)" stroke="rgb(226,49,43)"/>
<path d="M6027 872l10-26 16-7 17-21-12-13-99-15-24 63 88 23z" fill="rgb(218,46,40)" stroke="rgb(218,46,40)"/>
<path d="M6069 832l21-12-20-2-17 21z" fill="rgb(217,46,40)" stroke="rgb(217,46,40)"/>
<path d="M6002 722l-28-1-13-19-58 16 56 72 99 15-11-50-27-37z" fill="rgb(218,46,40)" stroke="rgb(218,46,40)"/>
<path d="M6100 815l-3-37 3-36-32-16-21 29 11 50 12 13 20 2z" fill="rgb(216,46,40)" stroke="rgb(216,46,40)"/>
<path d="M6266 972l20 19 12 4 2-8-49-37-1 0z" fill="rgb(214,30,36)" stroke="rgb(214,30,36)"/>
<path d="M6120 840l21 19 12 15 3-45-38-5z" fill="rgb(220,32,39)" stroke="rgb(220,32,39)"/>
<path d="M6115 810l3 14 38 5 8-5 0-48-43-41 2 15-5 30z" fill="rgb(211,29,35)" stroke="rgb(211,29,35)"/>
<path d="M6294 413l-28-2-26 9-9 33-10 33-1 21 10 0 69-74 10-25z" fill="rgb(212,30,36)" stroke="rgb(212,30,36)"/>
<path d="M6159 882l27 11 19 23 24 14 21 20 1 0 12-77-54-47-25-2-20 0-8 5-3 45z" fill="rgb(214,30,36)" stroke="rgb(214,30,36)"/>
<path d="M6143 669l-16 23-7 28 1 15 43 41 14-78-34-31z" fill="rgb(211,29,35)" stroke="rgb(211,29,35)"/>
<path d="M6167 619l-4 29-19 19 34 31 101-55-43-29-68 4z" fill="rgb(221,32,39)" stroke="rgb(221,32,39)"/>
<path d="M6193 569l-16 23-9 26 68-4-42-46z" fill="rgb(220,32,39)" stroke="rgb(220,32,39)"/>
<path d="M6220 520l-7 28-19 20 42 46 43 29 16-1 51-4-18-32-98-99-10 0z" fill="rgb(210,29,35)" stroke="rgb(210,29,35)"/>
<path d="M6164 824l20 0 111-182-16 1-101 55-14 78z" fill="rgb(217,31,38)" stroke="rgb(217,31,38)"/>
<path d="M6320 404l-11 4-10 25 29 173 18 32 1 1 132-57-17-122-17-20-103-44z" fill="rgb(221,32,39)" stroke="rgb(221,32,39)"/>
<path d="M6209 826l135-83 3-104-1-1-51 4-111 182z" fill="rgb(208,29,35)" stroke="rgb(208,29,35)"/>
<path d="M6251 950l49 37 87-77-124-37z" fill="rgb(214,30,36)" stroke="rgb(214,30,36)"/>
<path d="M6263 873l124 37 5-2 13-76-61-89-135 83z" fill="rgb(208,29,35)" stroke="rgb(208,29,35)"/>
<path d="M6314 1000l18 19 18 21 31-3 31-7 27-17 8-1 1-3-43-88-13-13-5 2-87 77-2 8z" fill="rgb(214,30,36)" stroke="rgb(214,30,36)"/>
<path d="M6328 606l-29-173-69 74z" fill="rgb(210,29,35)" stroke="rgb(210,29,35)"/>
<path d="M6405 832l49-20 27-13 105-160-107-57-132 57-3 104z" fill="rgb(215,30,36)" stroke="rgb(215,30,36)"/>
<path d="M6392 908l13 13 123-20-74-89-49 20z" fill="rgb(211,29,35)" stroke="rgb(211,29,35)"/>
<path d="M6457 1010l-9-1-1 3z" fill="rgb(218,31,38)" stroke="rgb(218,31,38)"/>
<path d="M6454 812l74 89 66-6-113-96z" fill="rgb(214,30,36)" stroke="rgb(214,30,36)"/>
<path d="M6452 405l-25-11-27-4-26 10-28-6-4 2 103 44 7-35z" fill="rgb(210,29,35)" stroke="rgb(210,29,35)"/>
<path d="M6533 415l-29 5-25-12-27-3-7 35 17 20 74-44z" fill="rgb(216,31,38)" stroke="rgb(216,31,38)"/>
<path d="M6470 1009l30-9 22-17 14-24 18-20 21-18 19-19 4-6-4-1-66 6-123 20 43 88 9 1z" fill="rgb(215,30,36)" stroke="rgb(215,30,36)"/>
<path d="M6609 632l-4-27 5-27 0-2 0-53 0-1-5-27 5-16 0-39-26-9-26-7-22-8-74 44 17 122 107 57 24 2z" fill="rgb(218,31,38)" stroke="rgb(218,31,38)"/>
<path d="M6610 880l-5-28 5-23 0-99-2-15 0-27 2-21 0-18 0-8-24-2-105 160 113 96 4 1z" fill="rgb(218,31,38)" stroke="rgb(218,31,38)"/>
<path d="M2551 2365l-26 5-26 4-37 30 7 60-22 45 23 19 14 26 30 30 60-30 5-3 18-32-24-167z" fill="rgb(74,86,181)" stroke="rgb(74,86,181)"/>
<path d="M2704 2157l-28-2-27-5-15 45-22 45-24 18 34 26 168-53-48-73-11-6-11-2z" fill="rgb(75,87,182)" stroke="rgb(75,87,182)"/>
<path d="M2574 2269l0 33 6 22-6 28-1 0 24 167 46-59-16-170-5-6-34-26z" fill="rgb(77,90,188)" stroke="rgb(77,90,188)"/>
<path d="M2598 2540l11-4 40-20 90-22 19-26 26-19 8-26 1-2-11-13-139 52-46 59-18 32z" fill="rgb(79,91,190)" stroke="rgb(79,91,190)"/>
<path d="M2643 2460l139-52-10-43-145-75z" fill="rgb(76,89,185)" stroke="rgb(76,89,185)"/>
<path d="M2800 2397l14-23 45 15 30-22-19-20-11-25 22-38 45 8-7-38 11-23-96 31-62 103 10 43 11 13z" fill="rgb(76,89,186)" stroke="rgb(76,89,186)"/>
<path d="M2627 2290l145 75 62-103-44-31-168 53z" fill="rgb(75,87,182)" stroke="rgb(75,87,182)"/>
<path d="M2731 2145l-11 5 11 2 4-6z" fill="rgb(75,87,184)" stroke="rgb(75,87,184)"/>
<path d="M2867 2145l-27 2-27 2-28 4-27 0-1 0-15 5 48 73 44 31 96-31 11-21 4-30-71-34z" fill="rgb(75,86,182)" stroke="rgb(75,86,182)"/>
<path d="M2735 2146l-4 6 11 6 15-5z" fill="rgb(75,87,184)" stroke="rgb(75,87,184)"/>
<path d="M2894 2149l-20-3 71 34 4-30-27 6z" fill="rgb(74,86,181)" stroke="rgb(74,86,181)"/>
</g>
<path d="M1400 872l16 12M2579 2552l18-33M1651 1059l12-22M1416 884l7 22M1416 884l20 3M1423 906l2 24 4 24 0 24-9 25 6 24-1 24M1423 906l10 21 20 13 13 19 9 21 18 15 13 19M1488 1054l11-20 7-20M1436 887l23-5 21-11 21-9 22-10 23-2M1436 887l18 14 22 7 19 13 19 12 20 9 22 7M1506 1014l19-20 13-23 21-17M1546 850l2 25 3 24 7 25-2 25M1546 850l9-21M1556 949l3 5M1559 954l23-4 22 7M1604 957l21 20 20 22 19 22M1604 957l16-18 14-21 8-24M1663 1037l1-16M1663 1037l22 18 27 8 23 16M1664 1021l25-12 21-19 24-14M1734 976l7-23 11-22 3-25 14-21M1734 976l20 21 23 18M1735 1079l10-24 19-18 13-22M1735 1079l15 18 23 10 14 19M1768 880l1 5M1894 777l16 17 19 15M1769 885l19 17 21 16 17 21 22 15M1777 1015l25 14M1802 1029l4 27 4 28-1 28M1802 1029l32-22M1834 1007l13-24M1834 1007l20 21 19 22M1847 983l1-29M1847 983l26 13 22 19 27 11M1848 954l21-9 22-4 23-2 21-9M1922 1026l0 20M1922 1026l13-29 13-29M1929 809l15 28 12 30M1929 809l21-10 22-3 23-3 22-3 22-3 21-11M1935 930l13 38M1935 930l11-32 10-31M1948 968l20 8 20 12 21 5 22 7 19 11M2032 1061l11-24 7-26M1956 867l21 10 24 1 21 13 24-2 22 8 21 10M2050 1011l18-17 20-15M2060 776l5-24-5-25-1-24-1-24 3-24 1-24M2060 776l19 15 21 14M2099 593l28 16 29 14M2088 979l10-28 2-30M2088 979l21 13 14 21 16 18 21 13 19 15M2089 907l5-25 4-25 3-26-1-26M2089 907l11 14M2100 805l22-14 24-12 26-9 21-16M2100 921l22-7 24-1 23-3M2156 623l1 23 13 20 5 22 7 22 5 22 6 22M2156 623l26-3 24-12 26-2 25-6M2169 910l11 21 5 24 11 21 16 19 8 23M2169 910l20-13 24-4 16-21 24-4 17-17 23-7M2179 1059l1 19M2179 1059l19-22 22-19M2246 1086l17-20 15-20 16-21 14-21M2193 754l22 13 19 17 16 19 24 11 18 18M2220 1018l26-9 25-9 26-10M2257 600l9-3M2257 600l2 24 6 23 6 23 10 22 1 24 4 23 15 21-2 25 8 22M2266 597l12 3M2266 597l4-24 3-24 6-24M2278 600l21 0M2278 600l9 22 10 22 10 22 12 20 10 22 12 21 14 19M2585 398l22 24 22 24M2292 832l2 11M2292 832l15-25M2293 844l-1 25-2 24 4 24 6 24-3 25 0 24M2294 843l26 11 29 2 25 14M2297 990l11 14M2299 600l20 10 14 19 19 12 23 8 13 20 20 11M2299 600l24-9 23-13 26-7 22-16 25-5M2307 807l13-22 21-16 14-21M2308 1004l19 17M2355 748l28-16 26-19M2374 870l20 14 22 10 21 10 21 12 18 16M2374 870l21-13 14-21 18-15 19-16 14-20 22-12M2410 446l4 26 4 26 3 25-2 27M2465 435l18 11M2408 680l1 33M2408 680l14-23 1-28 11-24 11-24M2409 713l29 8 27 12M2419 550l26 31M2650 2137l27 8 26 6 28 1M2661 2011l22-6 22-8 21-8 21-9M2445 581l30 5M2465 733l17 40M2465 733l16-18 24-8 18-15M2475 586l39-10M2475 586l5 24 11 20 9 21 17 18 6 23M2476 932l4 26 3 25 14 23 6 25-2 27 11 23M2476 932l11-21 11-20 18-16 9-22 14-18M2509 1090l3-9M2482 773l18 22 22 17 17 23M2483 446l18 15 13 20 16 17M2483 446l25-1 24 3 24-2 25-3 24-1 24 4M2512 1081l18-16 20-13 24-7 17-17 18-16 23-8M2514 576l1-27 14-25 1-26M2514 576l23 5 23 0 22 11 22 5 24 1M2523 692l35-2M2705 1659l23 1 21 6 20 10 22 7 22 2M2530 498l24-2 24 3 23-1 24 1 23 6 24-2 24 0M2539 835l28-6 28-5 25-12M2682 270l-4 24 4 23 7 23-3 23-6 24 7 23 5 23-6 24 2 23M2573 2352l3 24 2 24 5 24 6 23 3 24 6 24-1 24M2588 2258l34 26M2558 690l14 21 12 22 16 20 14 21 8 24M2558 690l15-18 14-18 15-18 11-20 15-18M2676 1844l16 19 7 23 14 20 6 24 19 17 9 22M2682 1788l13 18 17 15 19 13 13 18 16 15M2597 2519l12-22 17-19 17-18M2620 812l2-14M2620 812l17 19 23 13 15 21M2622 2284l5 6M2622 2284l24-7 25-4 24-7 24-9 24-7 22-13 25-6M2622 798l13-20 14-20 12-21 15-19 14-19 15-19 16-18 15-18M2627 2290l4 24 1 24-2 25 7 24 2 24-2 25 6 24M2627 2290l21 10 19 14 20 13 21 10 24 4 18 17 22 7M2628 598l25-6 21-16 24-11 25-6M2629 446l19 13 20 11 20 10M2632 1004l7-23 17-19 5-24M2632 1004l22 7 20 12 23 2 21 10 22 4M2756 1395l26 4 23 16 26 4 25 6 24 12M2643 2460l22-10 25-6 24-6 22-10 24-7 22-13M2661 938l7-24 1-25 6-24M2661 938l24 2 21 14 24 1 22 11 24 3 23 4M2675 865l24-1 24-6 23-8 24 0 24-2 23-10 24-1 24-3M2688 480l4 7M2692 487l4 16M2692 487l17-15 10-20 13-19 16-15 17-15 13-18 17-15 12-18 16-16 19-13 14-17 14-17 13-19M2696 503l14 28 13 28M2714 1263l10-24 12-23 4-27 12-23M2733 1293l20-9 20-11 23-4 20-10 23-4 20-10M2723 559l5 3M2728 562l4 27 0 28 4 27M2728 562l23-4 22-5 23-5M2731 2152l11 6M2731 2152l14-21 14-20 12-23 19-17 13-21M2736 644l15 18 13 18 7 23 18 16 15 18 8 22 15 18 13 19 11 20 14 18M2740 1039l11 23M2740 1039l15-16 18-14 10-21 16-15M2742 2158l13 26 15 25 20 22M2742 2158l22-10 23-10 23-6 25-4M2747 1969l0 11M2747 1969l4-25 7-25-1-27 3-25M2747 1980l29 4 28 10M2751 1062l0 26-2 26-1 26 4 26M2751 1062l25 1 24-4 24 3 24 0 24-3 24 3M2752 1166l19-18 25-7 18-19 24-9 19-16 17-19 24-10M2760 1867l24-3 23-6 19-16 24-1 20-14 24-2M2772 2365l1 23 9 20M2772 2365l9-23 17-17 14-20 10-22 12-21M2782 2408l12 15M2790 2231l19 19 25 12M2796 548l18-19 25-9 18-19 16-20 23-13M2796 548l22 9 18 15 19 13 18 16 20 11 18 15 16 19 21 10M2799 973l24-13 20-18 22-16 25-11M2803 2050l-4-28 5-28M2803 2050l13 25 13 25 6 28M2804 1994l25-11 29 1 24-14 26-6M2813 1685l25-12 19-22 26-10M2813 1685l15 17 12 19 7 23 8 21 12 20 16 17 10 20M2834 2262l25-4 23-12 24-7 24-8M2835 2128l23 8 22 11 20 13 24 8 21 12M2859 1245l32-19M2859 1245l18 14 15 17 18 14 13 18 11 20 18 14 16 15M2865 834l8 4M2873 838l8 25 4 26 5 26M2873 838l19-16 16-19 22-13 17-18 17-17 22-13M2880 1437l3 22-1 23-3 23 7 22-4 23-1 23-2 22 8 23-4 23M2880 1437l26 2 25-4M2883 1641l22-6 22-6 23 2 22-3 23-1 21-12 22-1M2890 915l4 5M2891 1226l5-23 6-24-1-24 5-23-3-25 8-23M2891 1226l28 1 28 5M2893 1822l15-17 14-18 15-18 17-14 18-15 15-17 15-17 16-17 17-14 14-19M2894 920l-2 24 5 23 2 24 0 24-2 23-1 24M2894 920l30 9M2894 1825l12 16M2896 468l14-27 15-26M2896 468l16 19 23 13 16 19 14 22 19 16M2896 1062l2 6M2900 270l0 25 11 23 1 24 4 24 7 24 2 25M2898 1068l13 16M2906 1841l0 25 6 24-10 25 9 24-3 25M2906 1841l23 0 23-4 21-10 22-7 23-3 24 3 21-9M2908 1964l22 12 16 17 17 17M2911 1084l23 3 23 6 21 12 24 0 22 10 24 1M2924 929l27 3 27-6 27 5 27 3M2924 929l19 16 18 16 17 18 18 17 12 23 20 15 18 16M2925 415l25 6 26 4 24 10 26 6M2931 1435l11-27 9-27 17-24M2931 1435l22 9 16 19 20 11 20 13 21 10 19 13M2947 1232l7 21 15 18 2 23 7 21 12 19M2947 1232l23-7 22-10 23-7 22-8 21-12 23-8M2948 656l5-26 15-23 9-25 7-25M2948 656l6 23 19 15 5 23 10 20M2963 2010l17 24 23 18M2963 2010l8-23 18-18 12-21 14-20 9-23 13-20 13-21 7-24 15-20M2968 1357l22-23M2984 557l24-10 25 1M2986 742l2-5M2986 742l15 19 21 14 17 17 17 17 10 24 17 17 20 15 16 17M2992 2152l5-25-2-25 1-26 7-24M2988 737l21-9 18-14 18-12 23-4 16-17 23-4 19-12M2990 1334l22-8 23-4 23-5 24-1 22-8M3003 2052l21-9 19-16 22-8 22-8 23-6 18-15 23-7 20-13M3026 441l-2 27 3 27 7 26-1 27M3026 441l25-10 27 2 25-12 26-2M3032 934l11 27 11 27 10 27M3032 934l27-10 27-7 24-15M3033 548l29 13 27 17M3038 1614l11-20M3038 1614l11 42M3144 2157l16-24 25-17 17-23M3046 1050l4 33-2 33M3046 1050l18-35M3048 1116l14 17 15 16M3049 1594l-3-28 7-28-4-28M3049 1594l23 3 23 4 24-3 23 1 23 5M3049 1656l19 37M3049 1510l19-15 13-20 20-14M3063 1811l-2-26 8-26M3063 1811l9 9M3064 1015l25-7 22-14 21-16M3068 1693l5 22-4 22 0 22M3068 1693l24 0 24 5 23 10 23 7 24 2M3069 1759l22 7 24 0 23-4 24-3 22 8 24 0M3072 1820l32 26M3077 1149l4 31M3077 1149l18-16 15-19 18-15 17-16 23-10 13-20 19-15M3081 1180l11 25 20 19M3089 578l8 22 8 22 9 22 12 21M3089 578l4-23 14-20 9-21-1-25 12-21M3101 1461l-1-23 1-23 6-24 3-23 2-23-2-24M3101 1461l22 2 22 7 23-4M3104 1308l6 13M3104 1308l4-28 4-28 0-28M3104 1846l12 21 9 21 12 21 9 21 14 19 11 21M3104 1846l20-17 20-16 21-16 20-16 23-14M3110 1321l21 6 20 11 22 5 23-2 21 8M3110 902l9-20M3110 902l8 25 6 26 8 25M3112 1224l23-4 24-5 23 3M3119 882l23-13 28-4 23-14M3126 665l18 19 20 17 13 23 18 19M3126 665l18-17 24-9 18-16 15-21 22-11M3127 468l-1-25 3-24M3127 468l17 15 12 19 9 21 14 18 13 18 18 14 13 18M3129 419l19-18 17-19 16-21 23-13 14-23M3132 978l19 13 12 21 22 9 15 17M3165 1604l5 22 11 20 12 20 3 22M3165 1604l24-3 22-9 23-6M3168 1466l18 20 12 25M3168 1466l22-4 19-14M3171 1970l3 0M3174 1970l25-7M3174 1970l2 26 8 24 11 23-3 26 10 24M3182 1218l12-22 24-13 15-21 16-19 14-22M3182 1218l21 15 24 7 24 8 23 11M3186 1717l10-29M3186 1717l25 33M3193 851l0-27 0-27 1-27 1-27M3193 851l19 15 21 12 21 12M3195 743l31-3 31-4M3196 1688l21-11 14-21 22-10M3198 1511l8 27 18 21 10 27M3198 1511l25-4 25 2 24-4 25-4 24-5 26 3M3199 1963l18-17 14-21 14-20 18-17M3199 1963l20 10 19 13 18 15 21 7 21 10M3200 1038l13-1M3202 2093l19 19 19 18 15 23M3208 1767l9-5M3209 1448l8-26 12-24M3209 1448l24 5 23 9 21 14 24 4 23 8 23 11M3211 1750l6 12M3211 1750l10-23 19-18 14-20 10-23M3213 1037l10 22 17 19 11 22 12 21M3213 1037l17-23 21-18 21-18M3217 1762l28 11 25 19M3217 1349l6 25 6 24M3217 1349l22-13 19-16M3218 325l7-27 6-28M3218 325l5 23 7 22 9 21 11 21 6 22 8 21 7 22 10 21M3223 591l15-6M3229 1398l27 3 26 0 26-4 26 0M3231 270l19 14 22 7 18 15 22 6 18 15 24 3 16 19 25 2 15 20 21 8 24 4 19 13 19 12M3234 1586l20 4M3238 585l9-23 12-21 9-22 13-21M3238 585l23 13 18 19 20 18 22 15M3253 1646l-1-28 2-28M3253 1646l11 20M3254 1590l20-15 22-10 22-11 27 0 20-16M3254 890l2 22 10 21-3 24 9 21M3254 890l30-20M3255 2153l2-24 17-20-3-25 9-22 6-23 12-21M3255 2153l4 7M3257 736l19-20 11-25 17-20 17-21M3257 736l25 13 23 16 25 14M3258 1320l11-30 5-31M3258 1320l18 19 23 14 20 18 15 21M3263 1121l21 11 24 6 22 9 23 9M3263 1888l-3-24 3-24 9-24-2-24M3263 1888l36 3M3264 1666l20 24 27 17M3270 1792l17-14 19-11M3272 978l28 7M3274 1259l22-9 25-3 22-9 21-13 24-7M3281 498l23 8 25 2 23 8M3284 870l10-25 17-19M3284 870l28 8 30-1 28 6M3298 2018l20 13 23 7 23 4 22 8M3299 1891l15 18 22 9 17 15 20 11 16 17M3299 1891l20-11 23-2 20-9 22-3 22-5 22-5M3300 985l5 1M3300 985l13-21 18-18 14-20 11-22 15-20M3305 986l5 22 2 22 11 20 6 21 4 22 13 19 3 22 4 22M3305 986l25-2 25 5M3306 1767l16-28M3306 1767l20 14 23 9 15 21 20 13 22 11 20 14M3311 1707l11 32M3311 1707l11-19 2-23 6-21 4-22 10-20 6-22 11-20 4-22M3311 826l14-20 8-24M3311 826l22 5 18 13 20 9 20 9M3321 650l33 2M3322 1739l41-12M3330 779l3 3M3330 779l4-26 5-25 10-24-1-27 6-25M3333 782l27 1 26 3 27 1M3334 1397l0-5M3334 1397l0 27 8 25 1 27 10 25M3334 1392l14-20 19-17 15-20 15-19 11-22M3347 1499l6 2M3352 516l-3 23 7 22 5 21 0 23 1 22 4 22M3352 516l21-9 23 2 22-4 21-7M3353 1156l24 13 21 18M3353 1501l21 31M3354 652l12-3M3355 989l18-22 21-19M3355 989l16 20 24 13 10 25 19 18 19 16M3363 1727l17 4M3363 1727l9-23 10-23 6-23 14-21 3-25 14-21 2-26 13-21M3365 1538l9-6M3366 649l3 1M3369 650l12 4M3369 650l6-24 19-18 0-26 11-21 17-18 8-23 9-22M3370 883l21-21M3371 884l11 20 1 24 11 20M3374 1532l31 2 29 10M3380 1731l26 20 26 20M3380 1731l21-10 22-10 19-15M3381 654l18 13 20 11 21 8 17 15M3381 654l13-21 17-16 14-20 13-20 20-14 13-21 16-17 8-24 17-17M3386 2050l6-22 1-22-4-23 0-22M3386 2050l3 3M3388 1218l10-31M3388 1218l2 27 7 25 11 24M3389 1961l17-20 7-27 13-22 16-22M3391 862l16-19 23-12M3394 948l25-2 22-14 25-2 23-11 25-1M3398 1187l17-13M3408 1294l18 17 18 15 18 16 24 9 19 14 16 19 20 14 19 14M3413 787l12 21 5 23M3413 787l12-21 9-22 14-20 9-23M3415 1174l10-23 3-24 5-24 10-22M3415 1174l23-1 20 13 24-6 20 10 22 4 22 7 22-1M3426 1849l2 7M3426 1849l3-26 6-25-3-27M3428 1856l14 12M3430 831l17 21 23 14 22 16 21 17M3432 1771l30-21M3434 1544l28 0M3439 498l20-12 23-5 22-6M3442 1868l0 2M3442 1868l17-17 23-9 19-14 20-12M3442 1696l6 28 14 26M3442 1696l11-23 3-25 2-25 11-23 7-24M3442 1870l15 19 16 18 21 11 19 15 11 22 18 15M3443 1081l17-17 16-17 20-13 20-14 16-17 20-13M3457 701l33-9M3462 1750l36-3M3462 1544l14 32M3462 1544l21-15 18-17 17-18 18-18 19-16M3476 1576l15 19 14 21 16 19 11 23 16 19M3490 692l26 16 22 20M3490 692l8-21 8-21 8-21 5-22 15-18 3-23 8-21 11-20M3493 408l0 23 4 22 7 22M3493 408l15-19 16-18 6-25 14-19 21-15 12-21 12-21M3498 1747l14 26 9 29M3498 1747l21-20 15-25 14-25M3504 475l8 9M3512 484l19 24 25 17M3513 899l1 19M3513 899l15-23 19-20 10-27 19-19M3514 918l14 23 7 27 17 22M3521 1802l0 14M3521 1802l22-13 12-24 21-13M3521 1816l27 11M3538 728l12 19 9 21 4 23 13 19M3538 728l22-10 25-6 22-11 19-17 24-7 21-13 22-10 24-7M3548 1827l10 27 5 29 8 28M3548 1827l27-4 24-13M3548 1677l20 8M3554 991l18 17 23 10 19 15M3554 991l15-16 17-16 15-16 20-12 14-18 16-15 15-17 18-13M3555 1460l-1-24 6-24M3555 1460l20 18 28 5 20 17M3556 525l24 9 25 1 25 3 24 5 25 5 25-1 25 7M3560 1412l12-23 24-14 12-22 17-19 17-19 12-23M3568 1200l4-25 5-24 15-22 5-24 4-24 2-25 11-23M3568 1200l15 20 24 13 11 24 16 20 20 15M3568 1685l4 22 4 22 0 23M3568 1685l37-2M3571 1911l-3 27 3 27M3571 1911l8-22 13-19 17-16 8-22M3576 1752l16 20 12 22M3576 810l27 1 27-3M3599 1810l5-16M3599 1810l18 22M3604 1794l22-12 22-12 20-15M3605 1683l3 0M3605 1683l-1-23 3-23 3-22 9-23-7-23 8-23 4-22-1-24M3608 1683l11 22 22 12 15 17 12 21M3608 1683l20-12 22-12 18-15 21-12 18-16M3614 1033l25 3M3617 1832l32 15M3623 1500l38 19M3630 808l18 20 15 23 21 17M3630 808l15-19 17-18 11-23 21-15 14-21M3632 1954l0-28 5-26 12-26 0-27M3632 1954l20-15 25-7 21-13 17-20 23-10M3639 1036l11 23 17 20 11 22 6 26 13 21M3639 1036l21-13 24-2 23-5 20-15 23-6M3665 270l0 23 8 21 12 20 2 23 5 21 6 22 2 23 8 21 0 23 3 22 9 21 8 21 1 23M3649 1847l22-8 20-13 22-10 22-7M3654 1292l21-5M3661 1519l9 25 12 25 18 21 7 26M3661 1519l22-6 22-7 19-13M3668 1755l26 9 28 5 26 10M3675 1287l1-23 5-23 4-23 5-23 8-23-1-24M3675 1287l22-1 22 8 22 4 22 3 22 4 22 2M3684 868l21 12 24 3M3697 1148l22-9 20-13 24-3 22-10 20-13 24-4M3707 1616l22 17 26 9 26 10 21 18M3708 712l13-40M3708 712l8 24 9 23 11 22 6 24M3717 647l4 25M3717 647l5-23-1-24 10-22-1-24M3721 672l19 12 16 16 17 15 18 13 16 16 17 15 16 15 20 12M3724 1493l8-22 14-18 5-23 10-20 5-23 13-19 12-19 10-20 6-22M3724 1493l24 5 23 10 24 2 25 4 23 5 24 7 24 4M3729 554l11-20 12-20 19-16 7-23 19-14 11-20 15-18 10-21M3729 883l7-26-1-27 7-25M3729 883l20 20M3730 554l21 6 22 4 21 6 22 5 22 1 21 5 22 4M3735 1809l4 27 1 26-2 27M3735 1809l13-30M3738 1889l22 16 15 22 16 22 20 17M3742 805l24-1 23-5 23-7 24-7 24 1M3748 1779l10-7M3749 903l-3 23-1 23 3 23 2 23M3749 903l29-11 24-18M3750 995l25 10 20 18M3837 270l0 24 8 22M3758 1772l18-25M3758 1772l14 18 17 15 12 20 20 12 8 24 22 10 9 23 21 12 8 23 18 14M3776 1747l14-24 4-27 8-26M3776 1747l22 16 26 10 23 14M3795 1023l14 23 7 27 13 23M3795 1023l20-14 21-11 19-16 23-10 17-17M3802 1670l28-16M3802 874l20-22 21-20M3802 874l21 14 14 21 20 15 19 15 19 16M3807 1307l19-2M3826 1305l4-27 13-25M3826 1305l29 24M3829 1096l8 8M3830 1654l19 12 18 13 15 16M3830 1654l20-19 15-23 8-27 19-20M3833 402l3-29 2-29 7-28M3833 402l24 6 21 13M3837 1104l-3 25 8 25-5 25 4 25 1 24 1 25M3837 1104l24-1 21-9 23-8 23-3 24 1 21-12 23-5 24-1M3843 832l6-24 13-21M3843 832l17 16 8 23 19 15 12 20 12 19M3843 1253l20-14 21-11 21-12 25-5 17-18 25-6 18-17 22-11M3845 316l19 15 20 11 25 5 19 14 21 11 18 16M3847 1787l23-2 20-10 23-2 20-11 23-4M3847 1787l15 17 23 8 15 18 17 16 17 16 21 11 18 14 17 16M3855 1329l2 4M3855 1329l23-5 24-5 20-14 22-11 23-6 24-3 23-9M3857 1333l8 24 5 25 9 23 5 25 3 25 7 23 6 25M3857 1333l23 4 23 4 21 10 21 9 23 3 21 11 22 5 23 1 21 10M3862 787l20-7M3878 421l21 13 20 14 17 16 20 13M3878 421l24-3 20-15 21-12 24-3M3881 585l18 18 16 21 25 11 15 21M3881 585l8-21 16-15 17-16 11-19 9-20 14-17M3882 780l17 19 23 11 19 17M3882 780l7-24 16-18 9-23 12-20 15-19 14-20M3882 1695l19 16 19 15 14 20 22 12M3882 1695l22-3 22-1 21-11 23 6 21-10 23 1 20-10 23 1M3891 1530l1 35M3891 1530l9-27M3892 1565l20 10 23 6 18 17 23 6 18 15 23 6M3895 955l20-6M3900 1503l25-3 22-13 24-7 25-1 23-11 24-8 24-4M3911 925l4 24M3911 925l3-26 16-22 5-25 6-25M3915 949l23 6 20 16 26 1 21 12M3941 827l37 8M3955 656l22-1 22 3 22 0 23 0 22 4 21 4M3956 1758l20 19 25 13M3956 477l21-16 23-9 24-10 20-15M3967 388l27 4 23 15 25 9M3978 835l13 20 21 13 9 24 19 16M3978 835l13-18 10-21 17-15 10-20 14-17 12-19 7-22 11-20 15-17M3990 1903l-3-23 3-23 2-23 9-21 0-23M3990 1903l1 15M4001 1790l15-26 21-20 16-24M4005 984l12 23 6 25 3 26M4005 984l8-27 12-25 15-24M4012 1159l2-23 2-24-1-23 5-23M4012 1159l15 32M4014 1276l9-27 3-29 1-29M4014 1276l21 11 17 17M4017 1625l19 17 21 16M4017 1625l6-25 11-23 2-25 8-24 6-24 11-23 6-25M4020 1066l6-8M4026 1058l28 1 28 3 28 4M4027 1191l23 12 23 8 26 0 22 12M4040 908l20-12M4042 416l2 11M4042 416l1-26 11-23 2-25 4-24 10-23 4-25M4044 427l20 26 24 22M4052 1304l12 21M4052 1304l16-21 21-17 12-25 20-18M4053 1720l4-13M4053 1720l19 18 23 12 21 13 21 16 22 12M4055 1390l6-32 3-33M4055 1390l14 30 10 30M4057 1668l0 39M4057 1668l0-10M4057 1707l23-1 22 5 23 2 22 4 23-4 23 4 22 1M4057 1658l28-21M4060 896l23 0 23 6 22 3M4060 896l10-22 3-25 7-23 14-21 3-25 8-23 10-22 10-22 4-24M4064 1325l23 0 21-7 22-2 21-8M4067 1456l12-6M4079 1450l39 12M4085 1637l0-23 6-21 10-21-1-23 3-22 12-21-3-23 6-21M4085 1637l22-6 22-6 24 1 22-7 23 0M4088 475l-5 24 1 24 5 24 0 24 2 24-7 23 10 24-5 24M4088 475l13-2M4089 666l23 7 17 16M4101 473l21-17 23-12 22-13 26-8 21-16M4101 473l26 4 23 13 24 7 24 9 26 5M4110 1066l9-23 21-14 9-22 10-22 17-17M4110 1066l19 17 22 15 22 12 20 16M4118 1462l24 0 24-6 24-1M4121 1223l33-2 33-3M4128 905l17-15 17-14M4128 905l14 23 15 21 19 19M4129 689l18 3M4147 692l7 0M4147 692l4 23-5 23 3 23 3 23 2 23 5 22 0 24 3 23M4151 1308l15-21 12-22 10-23M4151 1308l7 24 11 24 1 26 9 23 7 25 4 25M4154 692l21-10 22-6 22-8M4154 692l11 19 9 20 12 19 15 17 8 22 17 15 8 21 11 20 15 17 11 20M4159 1791l16-16 16-17 12-20 12-20M4159 1791l6 22 4 22M4162 876l27-3 27 8 27 0 28 1M4205 270l1 23 7 22 1 23 1 23 2 23-3 23M4176 968l23 1 20-10 23 0 21-9 23 0 21-8M4187 1218l1 24M4187 1218l6-22 15-17M4188 1242l17 20M4190 1455l36 9M4193 1126l11 26 4 27M4193 1126l19-15 16-19 15-20 16-19 24-11 15-20 17-18 17-18M4198 1619l10 24 8 25 14 22M4198 1619l8-25 13-23 12-23 13-23M4205 1262l6 22 10 21 5 23 8 21-1 24 15 20 5 22 2 23M4205 1262l26 11 20 22 27 11M4208 1179l24 0 22 6 23 6 23 4 23 2M4214 407l24 16M4215 1718l11-5M4219 668l8-21 10-21 5-23 13-19M4219 668l27 4 22 18 27 4 26 8M4224 511l13-20 9-22M4224 511l14 23 5 26 12 24M4226 1464l6 31 12 30M4226 1464l29-26M4226 1713l4-23M4226 1713l15 18 11 21 14 19 22 13 14 19 13 20M4230 1690l23-8 22-10 24-4 22-9 22-9 25-4M4238 423l8 23 0 23M4238 423l23-10 25-3 25-4 25-3 24-6M4244 1525l25 10 18 21 24 10M4246 469l21 9 21 5 23 3 22 2 21 6 21 10M4255 1438l29-17M4255 584l19-15 22-10 22-10 16-20 23-8 18-16M4271 882l34 26M4278 1306l-4 24 3 22 7 23-3 23 3 23M4278 1306l18-11 18-14 17-14 15-17M4284 1421l23 0 22-7 21-9 21-6 22-7 23-1M4305 908l2 34M4305 908l12-20 18-17 7-24 17-17M4307 942l8 24 17 19M4311 1566l12 22 20 15 8 23 16 18M4311 1566l20-11 17-16 20-10 20-12 18-14 19-12 19-12M4321 702l18 18 12 23 11 24 16 19M4321 702l18-14 19-14 13-20 18-15 15-18 21-11 14-19M4323 1197l9 27 14 26M4323 1197l23-25M4332 985l23-9 20-13 25-6 23-8 20-14 21-15 24-5M4332 986l12 15M4344 1001l2 24 0 25 4 24-1 24-2 25-4 24 3 25M4344 1001l20 16 22 11 25 7 20 16 24 7M4346 1250l18 18 21 15 16 21 19 16M4346 1172l8-2M4354 1170l12-8M4354 1170l22 4 20 11 23-1 23 2 21 6 21 10M4359 830l11-21 8-23M4359 830l18 13 19 11 16 15 19 12 19 12 21 8 17 14M4360 397l2 27 3 27 11 25-1 28M4360 397l1-23 10-20 9-20 2-22 6-22 8-20M4366 1162l13-19 18-15 17-15 8-24 18-14 15-17M4366 1162l23-10 24-7 22-12 26-1 23-9 22-11M4367 1644l17-17 11-21 17-16 17-15 14-19 18-15 17-15M4368 1646l10 21 9 23 20 15 11 21 9 22M4376 506l17 18 14 21 22 15 13 21M4376 506l21-13 18-15 25-3 18-17 20-11 19-15 21-11 22-9 20-12M4378 786l24-7 23-3 24-5 24-2 24 0M4416 1391l8-13M4416 1391l6 22 10 22 8 21 4 23M4420 1320l4 29 0 29M4420 1320l10-20 16-16 17-15 12-19 13-18M4481 270l10 23 19 19 6 26 13 21 21 17 10 24M4424 1378l25-3 25 5 25-5M4427 1748l9 24 3 26 5 25 8 24M4427 1748l7-22 15-19 15-18 9-22 14-19 11-21 8-22M4439 591l3-10M4439 591l7 22 11 21 0 25 6 23 10 21 6 23 8 22 10 21M4442 581l22-5 22-6 22-6 23 1 23-3 22-7M4444 1479l14 26 20 21M4455 1058l22 8 21 9 23 4M4502 1847l9-21 8-21 13-19 10-21 10-20 13-19 10-21 7-22 14-18M4619 1876l19-20 12-26M4478 1526l12 5M4484 1202l4 30M4484 1202l8-22 5-23-1-24 10-21M4488 1232l32 9M4488 915l31-4 30-6M4490 1531l0 25 15 23 1 26M4490 1531l26 1 23-13 25 0 24-4M4497 769l37 13M4499 1375l15-24 24-18 14-25M4499 1375l26 6 24 13 27 3M4506 1605l23 14 24 12 20 19 23 15M4506 1112l15-33M4520 1241l14 20 9 24 9 23M4520 1241l28-4 29-4 29 3M4521 1079l31-14M4534 782l9 26 3 29 10 27M4534 782l20-22 22-18M4549 905l7-41M4549 905l14 39M4552 1065l7-24 2-24-8-25 10-24 0-24M4552 1065l22 14 26 6 24 12 22 15M4552 1308l31-3 30 3M4556 864l23 1 22-10 24 4 22-2 23-8 23 5 23-4M4561 401l8 22 13 20 10 21 8 22 12 20M4561 401l20-12 21-10 23-5 19-13 19-14 21-10 18-16 22-6M4563 944l25-1 25-1 25 1 25 4 25 6 25-3M4576 555l-5 24 8 23 1 23 1 23-5 24-4 23-1 23 5 24M4576 555l16-14M4576 742l28 0 28-6M4576 1397l14-20 7-24 6-23 10-22M4576 1397l21 20 17 24M4588 1515l9-24 14-24 3-26M4588 1515l18 18 17 17 10 25 18 16 18 18M4592 541l20-35M4592 541l13 20 17 17 12 21 23 11 11 22M4596 1665l18-15 21-10 16-17 18-14M4606 1236l15 26 13 27M4606 1236l12-24 2-27 13-23 7-25 6-25M4612 506l27 0 28-3 26-10 28 0M4613 1308l21-19M4614 1441l27-9M4632 736l4-22 9-20 13-19 7-21 3-22M4632 736l20-9 17-16 21-7 19-12 20-8M4632 736l18 16 19 17 23 10 18 16 20 15M4634 1289l26 8M4641 1432l0-22 1-23 10-21-3-23 13-21-1-23M4641 1432l29-1M4646 1112l4 0M4650 1830l5-21 11-21 6-21 5-22M4650 1830l20-12 17-17 16-18 21-12 20-12M4650 1112l16-21 16-20 11-23 17-19M4650 1112l20 13 21 10 20 13 19 14 23 7 21 12M4660 1297l24-6 19-15M4661 1299l22 23 13 29M4668 632l27 10 26 13M4669 1609l25 3M4670 1431l4-28 15-25 7-27M4670 1431l29 3 26 12 28 8M4677 1745l-2-23 12-21 0-22 4-22-1-23 4-22M4677 1745l26-12 28-4M4694 1612l29-4M4696 1351l25 3 23 10 24 4M4703 1276l7 7M4703 1276l17-17 12-20 12-21 15-18 15-19M4710 1029l4-26 3-27-4-26M4710 1029l23 3 23-4 22 5 23 3 23-1 22 3 23 2M4710 1283l15 18 16 16 11 20 13 19M4710 1283l19 12 24-1 19 12M4713 950l28-30M4716 850l14-40M4716 850l5 24 14 22 6 24M4721 655l8 29M4721 655l10-20M4721 493l6 22 10 19M4721 493l19-20 24-15 23-17M4723 1608l3 24-1 24 7 24-4 25 3 24M4723 1608l16-6M4724 315l9 22 15 19 12 20 2 25 15 19 10 21M4724 315l-1-23 2-22M4729 684l18 15 22 8 14 19 22 9M4730 810l22-13 17-21 25-11M4731 635l-4-25 6-25-2-26 6-25M4731 635l22-5 22 0 21-9 22-4M4731 1729l13 30M4737 534l16 18 21 12 13 19 12 21 19 13M4739 1602l19-30M4739 1602l15 18 21 12 14 19 17 16 18 15 14 20M4741 920l25 6 25 7 26 4 26 1M4744 1759l31 4 30-6M4753 1454l6 24-6 23 2 24 5 23-2 24M4753 1454l11-20 15-17 18-13M4758 1572l21-8 22-2 22-6 21-7 23 2 21-5 20-10 21-7 23 1M4765 1356l3 12M4765 1356l5-25 2-25M4768 1368l13 20 16 16M4772 1306l15-19 12-21 8-23 16-17 5-25 15-19M4774 1181l23 2 23-5 23 4M4787 441l24 4 24-8 24 3M4794 765l11-30M4794 765l8 22 13 19 18 16 7 23 14 18M4797 1404l24-3 22-8M4805 1757l19-26 14-29M4805 1757l0 23 7 23-8 23 7 22 2 23-3 23M4805 735l31-20M4818 617l22 15 25 11M4836 715l8-25 7-25 14-22M4836 715l28 12 24 20M4838 1702l22 4 23-8 22 1 23 6 22-1 23-6 22 5M4843 938l5-25 2-25 4-25M4843 938l12 15M4843 1182l13-2M4843 1393l1-24 3-23-3-24 2-24 5-23 1-24 3-23-5-24 6-24M4843 1393l23 6 20 15 23 7M4854 863l24-12 22-15 24-14M4855 953l3 32 11 31M4855 953l20-10 18-11 21-9 20-8M4856 1180l29-16M4859 440l6 24-1 24-1 25 9 23 0 25 1 24 4 24 0 24M4859 440l22-14 25-7 21-15 22-13 26-7M4865 643l12-10M4869 1040l0-24M4869 1040l3 26 10 24 6 25 12 23M4869 1016l19-13 22-6 22-6 22-7 18-16 24 0 20-11 21-9M4877 633l26 4 24-6 25-7 25 3 26 4 25-4M4885 1164l15-26M4885 1164l20 27M4888 747l13 25 11 25 12 25M4888 747l22-2 22-3 22-8 22-1 22 1M4900 1138l24-2 23-8 22-8 23-9 25 2 21-13 24-1M4905 1191l14 19 5 23 14 19 11 21 10 21 9 22M4905 1191l21 8 16 16 21 9 19 12 22 4 22 6 18 14 19 11M4909 1421l19 27 17 28M4909 1421l14-20 13-20 16-19 9-23M4924 822l10 3M4934 825l0 22 5 23-6 22 1 23M4934 825l26 1 25-7M4934 915l28-5 28 3 28-2M4945 1476l1 27 6 27M4945 1476l18-16 22-11 21-14 19-14 21-12M4952 1530l20 18 16 21 14 23M4961 1339l7-23M4961 1339l23 13 25 8 23 12 21 16M4968 1316l26 2 24-7 24-9 26 0M4975 384l11-19M4975 384l3 22 7 22 6 22 6 21 11 21 10 20 4 23 8 21 6 22M4985 819l12-22 10-23M4985 819l13 22 8 25 13 23M4986 365l23 9 25 4 23 9 24 7 24 8 22 12M4986 365l3-24 5-23-8-25 6-23M4998 734l9 40M4998 734l6-22 7-21 2-22 14-20 1-22M5002 1592l17 36M5002 1592l11-22 20-14 13-21 16-17 9-23 18-16 11-22M5007 774l23 2 21 8 21 9 24 0 22 7M5012 1699l2-24 3-23 2-24M5018 911l1-22M5018 911l19 37M5019 1628l24-9 24-8 22-14 23-11 24-9M5019 889l19-16 18-16 26-6 17-17M5028 627l3-3M5031 624l-3-23 8-23M5031 624l20 11 23 4 17 16 22 6 21 9 20 10 20 10 20 11M5036 578l21-6 21-9 17-16 20-9 23-3 19-11 18-15 22-6 20-9M5037 948l22 14 16 20 17 20M5046 1409l7-21M5046 1409l20 13 18 17 16 18M5053 1388l27-33M5062 1099l6 5M5062 1099l3-26 11-23 5-25 11-23M5063 1271l6-26M5063 1271l6 27M5068 1302l1-4M5068 1302l1 27 11 26M5068 1104l-1 24-2 23 7 24 0 23-3 24 0 23M5068 1104l27 16 28 13M5069 1245l28-5 27-13 30-1M5069 1298l21-10 23-1 23-4 22-6 22-6M5080 1355l19 11 23 5 22 5 17 15 22 6M5092 1002l37-20M5099 834l19-34M5099 834l7 26 13 25 2 28 8 26M5100 1457l28-5M5118 800l15-9M5123 1133l7 23 12 22 5 24 7 24M5123 1133l28 4 28-2 29-1M5127 414l16 19 19 15 18 16 17 17 20 13M5127 414l19-12 16-17 18-15 17-14 15-19 18-14 16-16 18-15 21-11M5128 1452l1 25 6 25 0 25 1 25 0 25M5128 1452l25-15M5129 982l0-43M5129 982l27-8 28 1M5129 939l11-22 11-22 3-26 10-22M5133 791l17 27 14 29M5133 791l12-25 17-21 20-19 12-25M5136 1577l22-4M5153 1437l18-18 12-22M5153 1437l4 22 8 21 14 19 3 23 6 21M5154 1226l14 22 12 23M5158 1573l30-30M5158 1573l19 14 14 21 19 15 18 17 23 11 15 19 16 19 20 14M5164 847l22 12 21 15 25 8 19 18M5180 1271l26 12M5183 1397l11-4M5184 975l18-18 15-20 18-18 16-19M5184 975l17 19 18 17 20 16 15 20 24 12 14 21M5188 1543l17-7M5194 1393l5 3M5194 1393l-3-23 4-22 2-21 5-22 4-22M5194 701l21-4M5199 1396l29 25M5199 1396l20-10 19-12 23-2 19-13 18-14 21-6M5205 1536l8-22 2-23 8-23-3-24 8-23M5205 1536l22 3 22-2 22 5 23 3 22 2 22-3 23-4 22 5M5206 1283l25-14M5208 1134l4 22 5 22 12 20 8 21 5 22M5208 1134l20-14 20-16 22-12 22-12M5215 697l2-23 6-23 4-23 5-23 4-23 7-22-4-25 9-22M5215 697l24 18 28 9M5217 494l27 8M5228 1421l23 5 17 16 22 8 20 10 22 7 21 8M5231 1269l11-28M5231 1269l27 8 23 14 25 12M5242 1241l21-9 17-16 17-15 21-11 20-10 19-13M5244 502l4 11M5244 502l9-22 15-20 16-19 10-22 16-19 11-22 15-19 16-18M5248 513l19 11 24 1 18 13 22 5 19 13 21 7M5251 900l10-5M5261 895l15-29 20-26M5261 895l14 20 15 19 18 17 17 17 18 17 10 24 17 17M5267 724l4 24 11 22 7 23 6 23 1 24M5267 724l31-5 28-13M5292 1080l23 4 24 0M5296 840l32 8 31 10M5306 1303l13 36M5306 1303l23-18 22-21M5319 1339l20 20 20 21M5326 706l11-23 2-25 5-25 9-23 13-23 5-24M5326 706l23-4 23 8 23 0M5339 1084l5 28 9 27 4 28M5339 1084l16-16 14-17M5351 1264l7-28-3-29 11-28M5351 1264l19 13 19 14 16 17 16 16M5353 1475l2-24-2-24 9-23-3-24M5353 1475l13 19 12 20 8 22M5358 1168l8 11M5358 1168l23-1 21-9 22-3 21-6 20-11 23-3 21-7M5359 858l20-18 14-23 11-25 19-18M5359 858l25 14 20 21 24 16M5359 1380l20-20 22-16 20-20M5366 1179l22 6 20 10 20 10 17 15 21 9M5369 1051l1-25M5369 1051l23 8 23 1 23 4 23-1M5370 1026l12-24 13-22 10-24 7-26 16-21M5371 563l31-9 33-3M5383 1545l3-9M5383 1545l-2 25-2 25 2 25 7 24-2 25M5386 1536l23-12 21-17 24-11 22-15 25-8M5395 710l17-11M5395 710l5 23 17 18 6 23M5412 699l12-19 19-14 8-22 15-17M5412 699l24 7 21 13 23 10 24 6 21 14M5421 1324l19-5M5423 774l25 21 28 15M5428 909l28-12 30-5M5435 551l17-35M5435 551l15 24 7 26 9 26M5440 1319l4-23 13-21 1-24 8-22M5440 1319l19 22 26 14 22 19M5452 516l6-21 10-21 2-22 4-21 9-21M5452 516l18 14 19 12 21 9 18 14 23 6 19 12M5461 1063l14 24 22 16 12 25M5461 1063l18-20 24-11 19-18M5466 627l33 9M5468 1228l25-17 21-22M5468 1228l23 14 16 21 20 17M5476 810l7 27 4 27-1 28M5476 810l17-20 16-20 16-21M5486 892l33 12M5499 636l13 21 19 16M5499 636l15-16 22-9 15-17 19-11M5501 1473l12-23 6-25 9-23M5501 1473l21 11 22 10 15 20 23 8 20 12 21 11 19 14 22 9 18 15M5507 1374l5-23 3-24 5-24 7-23M5507 1374l21 28M5509 1128l18 20M5514 1189l13-41M5514 1189l20 17 25 9 18 20 25 10 18 19M5519 904l3 23 5 23-1 23 8 23M5519 904l26-7 24-12 24-12 27-6M5588 382l14 20 16 19 12 21M5522 1014l12-18M5522 1014l13 21 9 23 17 18M5525 749l27-13M5527 1280l23 2 23 1 23-3 22 7M5527 1148l25-11M5528 1402l21-13 22-12 24-6M5531 673l10 20 3 23 8 20M5531 673l24-11 24-11 22-15 23-12 26-7M5534 996l20 9 23 2 22 2 20 11 21 7M5552 736l26 8 26 11M5552 1137l2-31 7-30M5552 1137l44-1M5561 1076l20-11 21-11 20-12 18-15M5570 583l28-5 25-13M5595 1371l9-27 9-28 5-29M5595 1371l19 16 26 5 20 16 19 16 21 15 23 9M5596 1136l11-19 8-22 5-23 17-17 7-22M5596 1136l20 11 17 15 19 13M5604 755l4 22-1 23 5 21 1 23 7 21M5604 755l30-26M5618 1287l5-8M5620 1264l3 15M5620 1264l11-21 8-23 5-23 8-22M5620 867l17 17M5620 865l21-12 18-16 20-14 25-5 17-17M5623 1279l23 0 22 4 22 9 24-7 23 8M5623 565l1-24 7-25 1-24-8-25 6-25M5623 565l16 24 11 28M5630 442l22 11 24 4 25 1 22 12 25 3 22 11M5634 729l11-20 7-23 17-17 7-23M5634 729l19 14 21 10 23 7 20 12 21 9M5637 884l15 21 15 21 7 26 17 19M5637 884l26-3 25-6 24-10 25-6M5640 1027l4 1M5644 1028l0 5M5644 1028l18-17 10-24 19-16M5644 1033l12 20 16 18 11 20 7 23 18 16 12 20M5650 617l26 29M5652 1175l22-11 22-10 24-4M5676 646l27 0M5691 971l42 5M5703 646l18-16 12-20 18-16 13-20M5703 646l18 17 24 8 15 21 25 8 17 18M5720 1150l13 2M5721 801l11 29 5 29M5721 801l17-20M5723 1448l9-25 1-27 12-24 12-24 2-27M5723 1448l12 26 7 28M5733 976l19 17 9 26 15 21 18 19M5733 976l13-18 16-16 18-12 17-15 15-16 17-15M5733 1152l13 19 6 23M5733 1152l17-25 24-18M5737 1293l-1-26 9-24 7-24 0-25M5737 1293l22 28M5737 859l25 1 21 11 23 7 23 6M5738 781l27-9 25-12 28-6M5752 1194l22 6 24 2 22 5 23 4 22 8 22 8M5759 1321l24-6 26 0 25 2 25-6 24-5M5796 1485l10-23 13-21 11-22 15-20 12-22 3-26 10-22 16-20M5764 574l15-18 8-21 8-21M5764 574l21 20 17 24M5770 484l25 30M5770 484l8-22 13-20 13-19 6-23 12-21M5774 1109l13-24 7-26M5774 1109l18 13 22 7 18 14 19 11 19 12 22 7 17 15M5794 1059l22-4M5795 514l23 3 24 2 22 6 22 8 22 7M5802 618l0 25-3 25 7 25-4 25M5802 618l23-9 23-6 25-3 23-10M5802 718l22 20M5816 1055l24-8 22-12M5816 1055l13 20 17 15 17 16 16 17 13 18 17 16 11 21M5818 754l6-16M5818 754l-1 26 8 25 7 25 2 25 1 26M5824 738l27-15 27-13M5829 884l6-3M5835 881l38 19M5862 1035l11-20 10-20 21-14 9-21M5862 1035l20 18 14 24 21 16 20 18M5873 900l11 22 12 20 17 18M5873 900l21-16 20-16 21-15M5878 710l0-24 3-24 9-24 0-25 6-23M5878 710l25 8M5883 1306l3 3M5883 1306l0-27 1-26 3-26M5886 1309l18 17 19 13 23 9 19 15 21 11 18 16M5887 1227l13-18 9-21M5896 590l7-25 5-25M5903 718l18 15 7 24 18 14 13 19M5903 718l23-10 25-6 26 0 22-11M5908 540l36-20M5909 1188l11-10M5913 960l28 8 29 4 28 10M5920 1178l12-7M5932 1171l3-30 2-30M5932 1171l21 8 22 0 21 7 23-2 20 13 22 4 23-5 21 6 21 11 22 0M5935 853l6-22 15-18 3-23M5935 853l23 4 22 4 20 13 23 2M5937 1111l14-21 21-16 14-21 15-20 14-21M5943 316l-4 22 6 23 0 23-3 23 6 22-1 23 2 23-3 23-2 22M5944 520l24 6 20 14 24 4M5959 790l25 0 24 9 25 0 25 6M5998 982l2-5M5998 982l17 30M5999 691l16-24 12-26 17-23M5999 691l16 22 20 18 12 23M6000 977l6-25 8-25 8-24 1-27M6000 977l22-12 22-10 22-12 19-17 25-7 21-12 21-15M6012 544l13-8M6012 544l9 25 12 24 11 25M6015 1012l17 15 18 12 22 7M6023 876l19-17 16-19 12-22M6025 536l12-19 10-20 19-14 12-18 14-18 7-22 18-14 8-22 15-17M6025 536l24 1 24-6 23 3 24 0 24-1 24 0M6044 618l23 16 26 9M6047 754l9 25 2 26M6047 754l21-25 17-28M6058 805l12 13M6070 818l28 8 29 4 29 0M6072 1046l17 18 14 20 16 19 9 23 15 19M6072 1046l11-23 15-19 21-15 8-25 22-15 11-23M6085 701l2-29 6-29M6085 701l23 15 19 20 15 23 22 17M6093 643l26 1M6119 644l20-24M6119 644l19 19 23 13 17 22M6139 620l10-27 10-27 10-26M6139 620l24-3 24-4 24-2 25 3M6140 372l6-25 2-26 2-25 0-26M6140 372l4 24 9 22 6 23 6 23 8 23 10 22M6143 1145l4 23-4 23 5 22M6143 1145l15-16 9-21 14-18 13-18 13-18M6148 1213l9 25 14 21 12 23 17 20 10 24M6152 892l7-31-3-31M6152 892l8 34M6156 830l8-6M6232 270l20 21M6160 926l30 31M6164 824l4-24-4-24M6164 824l20 0M6164 776l6-26 6-26 2-26M6168 533l1 7M6168 533l15-24M6169 540l14 21 19 17 18 17 16 19M6178 698l20-11 18-15 21-10 22-8 20-11M6183 509l23 0 24-2M6184 824l25 2M6184 824l17-17 7-23 16-18 11-21 12-21 15-19 11-21 8-23 14-19M6190 957l0 25 11 23 6 24 0 25M6190 957l31-5 30-2M6207 1054l21-8 23-4 18-14 22-6M6209 826l16 18 17 16 21 13M6209 826l17-15 24-6 16-16 19-12 18-14 23-6 18-14M6289 1169l7-27 19-21 11-25 8-26M6230 507l14-22 18-18 22-14 15-20M6230 507l17 15 19 14 10 23 16 17 21 12 15 18M6236 614l24 11 19 18M6251 950l-1-26 11-25 2-26M6251 950l22 22 27 15M6252 291l18 16 8 22 15 18 13 18 11 21M6252 291l23-3 21 9 23-3 22 4 22 3 22-6 22 8 23-1 22 1 22-2M6263 873l24 10 26 4 24 8 25 9 25 6M6279 643l16-1M6291 1022l9-35M6291 1022l23 22 20 26M6295 642l25-3 26-1M6299 433l13-22 5-25M6299 433l8 24 1 25 5 25 6 24-3 26 11 23 1 26M6300 987l19-14 15-18 17-17 18-14 18-14M6317 386l23 5 20 12 22 7 21 10 19 15 22 5M6328 606l18 32M6334 1070l27-2 27-4 27 3M6344 743l2-26 1-26 2-26-2-26M6344 743l11 25 20 19 13 24 17 21M6347 639l23-6 21-11 22-10 22-11 22-9 21-10M6387 910l5-2M6392 908l13 13M6392 908l5-25-1-26 9-25M6405 921l8 24 9 23 20 17 6 24M6405 921l24-5 25 0 25-6 24-5 25-4M6405 832l26-5 23-15M6415 1067l15-17 12-19 6-22M6415 1067l3 29 10 27M6444 440l18 20M6444 440l10-22-3-25 7-23 11-21 3-24 2-24M6448 1009l25-2 25 5 24 9 25 1M6454 812l28-13M6454 812l16 17 13 19 14 18 16 17 15 18M6462 460l-2 25 12 24 0 24 6 24 0 25M6462 460l21-12 20-15 21-13 24-8 18-18 21-13 23-9M6474 301l11-14M6478 582l22 11 23 9 23 9 18 18 22 10M6482 799l8-23 17-17 12-21 12-21 15-19 10-22 13-20 17-17M6482 799l20 13 18 18 15 19 22 13 19 16 18 17M6485 287l18 16 22 10 24 7 19 14 22 9 20 14M6485 287l1-17M6528 901l33-1 33-5M6586 639l24 2M6594 895l16 5" fill="none" stroke="rgb(50,50,120)" stroke-width="3.2" stroke-opacity="0.2" transform="scale(0.1)"/>
<polygon points="140.0,80.0 154.0,82.5 158.4,83.6 164.7,89.9 171.0,91.0 177.2,87.8 183.5,81.5 186.7,78.4 198.2,75.2 201.4,67.9 208.7,60.5 212.9,56.3 220.2,50.0 225.5,52.2 233.8,53.2 237.0,48.0 240.1,44.8 250.6,42.7 259.0,39.6 261.0,27.0 527.5,27.0 531.1,31.0 535.9,34.6 541.9,37.0 547.9,40.6 551.5,44.2 553.9,49.0 555.1,44.2 558.7,38.2 562.3,37.0 565.9,40.6 568.3,43.0 571.9,40.6 575.4,38.5 582.1,38.0 587.5,36.0 592.9,31.5 597.0,31.7 603.7,30.4 609.0,29.0 615.0,27.0 661.0,27.0 661.0,92.0 656.0,100.0 650.0,110.0 636.5,114.4 629.3,116.8 619.8,119.2 620.8,123.3 622.6,128.6 620.8,133.1 610.1,135.8 601.1,138.5 592.2,144.7 583.3,147.4 574.3,150.1 570.6,153.6 568.2,158.4 563.4,157.2 551.4,158.4 541.9,165.6 529.9,170.4 517.9,168.0 503.5,169.2 486.8,174.0 484.4,188.3 473.3,191.9 463.7,188.3 454.1,184.7 444.6,184.7 435.0,182.3 420.6,182.3 406.2,187.1 399.0,191.9 382.3,196.7 363.1,195.5 341.6,199.1 334.4,215.9 321.6,216.0 294.9,215.0 294.1,221.0 291.9,225.4 292.6,229.2 288.1,228.4 285.9,232.2 288.9,236.7 285.9,238.9 281.4,237.4 278.4,244.9 273.9,249.4 264.9,251.6 257.4,255.4 251.4,258.4 248.4,255.4 244.7,250.9 246.9,246.4 246.2,240.4 249.9,237.4 257.4,235.2 257.4,226.9 261.2,224.0 263.4,219.5 264.9,215.0 268.0,180.0 274.9,141.4 278.0,133.0 273.7,130.0 269.5,123.4 263.2,119.2 256.9,114.0 250.6,108.7 248.5,101.4 242.2,96.2 233.8,99.3 231.7,104.6 225.5,108.7 217.0,107.7 208.7,107.7 198.2,104.6 187.7,104.6 181.4,110.8 175.2,115.0 171.0,110.8 164.7,105.6 154.2,105.6 140.0,105.0" fill="none" stroke="rgb(60,60,130)" stroke-width="0.5" stroke-opacity="0.5"/>
<path d="M4842 296l-3 27 3 26-1 26 3 27-9 26 8 27 0 26 0 26-3 27 6 26-1 26-10 27 5 26 0 26 6 27 1 26-4 27 2 26 0 26-7 27 7 26-2 26-1 27-4 26 6 26-2 27 2 26-5 27 3 26-5 26 4 27-8 26 8 26 1 27 4 26-9 26 6 27 1 26-4 27-3 26 6 26-5 27 6 26-2 26 1 27 1 26 0 26-6 27 7 26-1 27-7 26-3 26 4 27 2 26 50 9 29-7 29-10 27-11 29-8 31-1 144-12 33 7 28 2 28 9 31 6 33-13 25-17 30-11 32-7 20-24 25-10 50-38 30-8 15 4 75-8 48 12 24-48 37-35 29-13 30-7 31-7 28-15 30-6 31-6 34-24 8-11 24-11 23-16 46-14 12-10 32-3 107-27 18-45-13-25-5-28-10-41 31-9 9-1 55-14 72-24 27-9 25-15 16 2 67-22 60-100 50-80 0-19-1-5-5-26 6-19 0-15-6-18 4-27 2-10 0-54-6-14 6-13 0-28-5-11 1-26 1-26 3-10 0-31-4-11 4-26 0-4 0-55-6-20 0-26 2-26 4-12 0-24-6-16 6-15 0-63-48 0-4 1-10-1-24 0-18 4-10-4-31 0-11 5-26-2-9-3-30 0-13 7-14-7-30 0-8 3-24-3-56 0-24 4-17-4-48 0-11 2-54 18-53 14-67 13-41-2-54 45-54 20-67 5-35 21-36 24-24-24-36-36-36 12-36 60-12 48-24-48-36-36-60-36-60-24-48-36-36-40-15 0-4 1-26 0-3-1-87 0-14 6-26-4-26 4-24-6-42 0-12 6-26-3-26 3-26-2-26-1-26-1-26-2zM3129 289l-19 21-16 22-17 22-29 14-24 23-31 11-29 14-31 10-22 21-14 27-27 13-29 12-28 11-28 4-28 7-23 20-28 4-25 16-23 20 9 33 12 32 1 34 16 28 5 32 10 30 9 30 5 28 13 26 14 25 12 26 5 29 11 26 18 22 16 23 9 26 11 26 16 23 20 17 15 22 24 12 18 19 43 0 16-23 6-27 5-27 20-21 6-27 12-24 9-26 16-23-2-30 16-23 11-26 2-27 7-27 10-26 6-27 13-25 5-27 8-27 5-27 10-25 8-27 1-28 31-6 29-14 2-26 8-26-6-27 1-27 8-26-4-26 5-26 5-27 4-26-8-27 5-26-30 2-31 2-30-4zM3154 607l-9 26-3 28-17 24 0 28-3 28-7 27-13 25-10 25-10 26 0 29-8 26-7 26-16 23-9 26-9 26-14 23-10 26-7 26-14 24-4 27-14 24 8 27 21 20 11 25 13 24 11 26 14 23 12 25 22 16 28 5 20 19 27 1 27-4 26-7 11-29 1-32 6-31 17-27 5-31 2-29 10-27-8-30 4-29 9-28 1-28 2-29-2-27 7-27-5-27 3-28-3-27-7-27 10-27-2-27-1-27-7-27 10-28-4-27-5-27 6-27-22-16-10-25-18-19-28 16-32 4zM3248 298l7 27-5 28 1 27 10 27-7 28 10 27 2 28-5 28 9 27-3 28 3 27-4 27-2 26 4 27 3 27-8 26 4 27-5 27 4 26-1 27 4 27-6 26 1 27-8 27 7 26-3 27 36 4 17-24 6-29 4-30 16-24 11-27 2-29 8-29 3-29 8-28-7-31 6-28 7-29-2-23 24-21 30-14 21-25 31-2 29-11 29-9 28-4 27-9 23-17 27-8 23-16 18-22 19-21 38 6 37 9 26 11 29-3 26 12 7-28 6-27-4-29 1-29 10-27 29-12 32-4 27-19 32-5 26-4 21-19 22-13 24-10 27-4-26 3-9-3-37 0-7 2-26 2-27 0-14-4-54 0-11 4-26-3-6-1-75 0-25 1-18-1-47 0-14 6-26-2-15-4-45 0-19 3-27 2-11-5-30 0-11 5-17-5-48 0-14 5-21-5-38 0-21 6-25-6-4 0-23 2-27 1-26-3zM3884 532l-28 16-32 6-45 15-20 22-15 25-10 28-26-14-28-10-12 26-6 29-17 23-19 23-6 29-7 25-1 27-15 24-7 25 8 29-13 24-5 26 1 27 3 27-5 27-7 27-2 27 7 27-1 27-7 27 2 27-1 27 23 27 27 23 13 26 23 21 8 29 16 24 17-23 10-25 14-24 9-26 13-25 7-27-2-27 3-26 7-27-4-27 10-26-4-27 18-21 26-11 20-19 22-16 23-14 15-24 26-15 18-21 19-20 30-5 19-20 22-15-2-27-7-25-4-26-7-26-9-25 5-26 4-27-9-27 9-27 2-26 0-27 8-33 3-33-1-34 29-6 25-16 28-11 26-14 26-15 29-6 27-12 30 1 26-16 30-2 27-11 31 6 28-8 28-10 29-1 27-9 27-11 26-12 28-5 28-8 27-7 28-7-26 5-22-5-9 0-22 4-26-2-27 3-12-5-82 0-11 2-11-2-82 0-12 2-7-2-33 0-13 4-26-2-26 5-15-7-38 0-25 6-22 16-23 14-28-1-22 15-32 4-27 19-33 1-28 16 0 29-10 27-2 28 1 29-9 27zM2776 1096l-2 26 9 26-9 26 2 26 5 26-2 26-5 26 2 26 4 26-30 81 5 27 14 25 6 27-2 30 10 26 5 28 12 26 28 11 30-1 28 12 28 9 30-1 28 10 28 10 25-7 26-2 25-9 26-4 26-6 27 1 25-8 23-14 27-1-9-25-12-23-2-27-7-25 7-30 0-30 5-30-4-30 2-30-27 2-26 5-27 3-21-17-29-4-20-19-7-27-13-25-16-22-14-24-11-25-11-26-18-21-27-13-25-16-28-9-26-13-32-1-25-17-27-11zM3377 667l3 30-14 28-3 29-5 29 3 29-9 29-2 29-10 27-15 25-10 27-12 27-7 28-5 29 3 29-9 29-3 29-11 27 9 31-10 28-12 29 0 30 0 31-15 28 0 31-7 29-4 31-14 27-4 31-14 27 14 25 5 29 11 26 30 11 30 10 32 3 28 16 30 3 30 2 30-9 30-2 30 6 30-7 29-12 32-1 29-12 30-8 22-16 11-26 16-21 21-17 0-50-11-25-3-28-14-23-12-24-13-26-16-25-13-26-18-23-26-24-24-26-5-27 2-27 8-27 4-27 2-27 2-27-7-27-2-27 11-27-5-27 9-25 0-27 11-24 7-26 8-25 4-26 1-27 13-25 7-29 19-23 6-28 15-25 28 9 26 15 10-28 18-23 17-24 45-15 28-15 32-7-30-37-37-8-38-7-38-6-37-9-17 22-21 19-22 18-24 15-28 5-26 12-27 6-30 5-30 9-29 8-29 16-22 23-24 21-18 29-12 31zM3461 964l5 27-1 27-4 27 8 27-7 27 11 27-1 27-2 27 21 29 29 21 17-25 15-25 8-30 1-30-3-30 11-30-3-30 0-30-17-26-18-25-11-29-30 13-32 4zM4009 484l-10 32 1 34-3 27-8 26 4 27 0 27 4 27-8 26 29-3 25-16 29-2 31-16 32-15 28 7 28-2 28 5 27-10 28-9 29-2 32 3 32 2 32 4 30 12 26-8 26-6 28 4 25-11 26-3 26 6 26-9 26 6 33-19 30-23 27-10 28-8 29-3 13-29 17-26 12-29-5-28-16-24-32 12-27 20-27 20-20-40 5-28 3-27 6-28 6-27-24-14-28-7-23-16-25-13-27 6-28 4-27 7-27 2-28 6-28-4-27 8-28 1-29 5-28 5-29 5-30 1-27 10-29 7-28 7-29 7-25 17-27 10-30 5-25 17-25 16-29 8zM3760 1067l-8 26-3 27 0 26-2 27 3 27-17 23-7 27-7 27-13 24-18 22-8 27 16 23 6 26 13 24 5 27 27 3 27-9 27 1 27 5 26 6 27-9 27 0 27 1 27 1 27 5 27 0 26-5 27 0 27 6 27 2 27-7 5-27-11-27 6-27 5-27 0-27-8-27 6-26 2-27 0-27-4-27-1-27 1-27 5-27 24 0 5-26 12-24 3-26-1-28 7-25 12-24 1-27-27 0-26-9-25-10-27-2-19-18-21-17-26-8-18-20-12 3-23 14-20 19-24 13-23 14-18 22-25 14-16 24-23 15-20 19-19 19-22 16-25 12zM3720 1500l-20 18-19 18-12 26-19 18-12 27-6 29-13 27-2 30-4 30-13 27 6 29 8 29 13 27 11 28 7 28 6 30 9 28 27 0 26-4 26-10 27 3 27-9 29-1 28-8 38-6 38-7 27-3 24-11 24-14 25-9 26-5 3-29-15-27-4-29 3-29-5-28 1-29-5-28 30-4 30 4 30-7 30-4-1-29 2-30 5-29-9-29 0-29 4-30-1-29-27-2-27-2-27-2-27 0-26 0-27 13-27-5-27 4-27 0-27-3-27 1-26 0-27-1-27 1-27-10-27 6zM3205 1532l-29-2-25 10-23 17-28 3-16 22-25 13-23 15-16 22-20 18-5 27 0 27 7 27-5 26 3 27-3 27 2 27-3 27 11 27 0 26-8 27 5 27-9 27 10 27-1 27 3 26-9 27 8 27-4 19 184 7 3-1 27 2 26-30 28-22 30-18 19-20 25-12 23-15 22-20 17-25 24-18 32-4 32 0 30-11 32-5 26-5 25-7 27 7 26-6-3-30-14-27-8-29-16-26 2-31-6-29-15-27 8-28 10-28 8-29 11-27 11-28 2-30-31 6-28 14-33-3-27 19-31 4-30-6-29-8-32 8-29-12-30-2-24-16-28-10-20-22-21-21-27-11zM4172 995l5 28-16 24-2 27-3 26-6 26-1 27 5 26-3 27 4 26-1 27-2 26-3 26 9 27-4 26-4 27 9 26-8 27 1 26 3 26-4 27-6 26 12 27-11 26 2 27 2 26-29 10-30 2-30 2-31-3 6 28 1 29 1 28 10 28 0 29 0 29 4 28 29-4 18-2 35-12 2-1 4-1 66-22 13 0 26-3 18 3 11 0 23-12 27 2 27 6 26 9 12 5 41 10 40-30 1-30 15-28-6-31 8-29 4-29 25-17 15-27 23-19 21-21 23-18 18-24 21-20-22-21-30-9-22-22-23-19-24-19-25-16 7-26 2-26 12-25 0-27 24-11 16-23 18-19 25-10-21-21-17-24-27-15-18-24-20-33-23-30 3-34 14-32 3-34-17-21-15-22-16-21-22-16-12 25-21 17-31 11-32-1-29-4-29-2-28 6-29 5-29-7zM4437 941l20 18 16 20 17 21-1 34-12 33-7 33 21 32 22 31 18 23 20 22 28 14 17 25-20 17-22 14-19 18-22 14-5 26-10 25-5 26-1 27 26 16 24 18 22 20 22 21 26 15 26 16-25 17-19 21-18 24-17 25-27 15-22 20-18 24-9 29 0 30 1 30-9 29-5 29 24 15 11 19 36 0 96 36 66 25 7-3 33-5 33 0 30-14 8-30 8-30 14-28 12-28 18-17 2-13 16-4 6-7 3-27-4-26-9-26-1-30 11-30 1-30-9-30 8-30 4-30-6-30 0-30-1-30 3-30-3-30-15-26-1-31-19-25-4-30-8-28 4-27 18-23 9-26 0-28 9-26-19-32-13-35-21 42-24-14-27-7-26-7-28-4-9 27-20 21-13 25-42-20-9-29 4-30-4-30-10-28-2-30-20-17-23-13-22-14-18-19-30-14-33-7-10 28-12 26-19 23-10 28zM3984 742l5 31 21 31 20 32 24 12 17 21 26 10 17 20 27 3 25 9 28-2 25 11 26 13 25 17 27 10 27 12 30-12 33 2 13-28 18-27 11-29 22-31 20-32 32 10 31 11 25 10 13 26 25 11 20 16-1 30 13 28-5 31 9 29 5 29 42 20-13-26-7-28-1-29 32 5 31 5 25 13 27 6 27 4 26 9 21-42 29-11 24-19 23-19 28-14 22-21 21-21 17-25 25-17 7-29 8-29 16-26 7-26 1-26 6-26-3-27-10-30 1-33-10-30-2-32-29-20-32-13-34-9-24-28-28-25-27 4-26 3-25 12-27 2 12 25 9 27-15 27-7 32-20 25-30 1-26 14-28 6-29 25-34 17-26 2-26-8-26 4-26 2-26 9-28-4-23 17-28-1-32-3-31-6-31-10-32-2-27 12-29 0-28 9-28-7-27-5-29 2-33 13-30 18-27 12-27 6-29 3zM4840 1027l0 26-6 27 11 27-1 26 0 27-11 27 7 26-5 27 9 27-2 26 1 27-3 27 3 26-5 27 4 27 3 26-6 27 3 27 3 26-8 27 9 27-13 26 10 27 1 27-2 26-2 27 28 20 40-12 14-10 25-1 88-25 28-8 21 4 47-4 19-7 29 3 31 1 28 11 3 0 28 4 30 8 30-13 11-3 30-13 18-10 31-9 13-25 0-29 16-24 2-28-24-10-25-10-26-4-23-15-28 0-24-11-22-21-31-8-23-20-24-18-22-21-28-12-1-31-6-30-18-28 6-32-11-29 11-27 13-24 20-22 14-25 7-28 15-24-16-23-9-27-9-27-16-23-31-5-28-14-31-5-30-7-30-9-25 12-29 1-26 7-25 13-30-6-25 13zM5517 976l-2 26 6 26-5 26 4 26 9 30 11 30 13 29 7 31 23 14 23 14 18 23 26 9 33 8 33 6 34 1 13-28 17-27-5-34-10-32-5-34-24-24-13-32-23-24-29-9-27-12-24-19-17-26-19-24-24-20-45 20zM4645 312l25 14 28 11 24 17-4 27-3 26-5 27-9 25 21 41 32-12 24-23 28-17 28-7 27-11 29-3 22-15 20-16-5-32-1-32-14-30-2-32-95 0-14 5-16-5-57 0-8 3-21-3-11 0-23 4-27-4-21 31zM4796 296l-2 26 4 26-4 27 4 26 2 26 42 11 33 0 30-11 15-35 6-38-14-26-5-29-2-29-47 0-6 2-26 3-26-5zM4990 298l1 28-2 28-17 25-25 17 21 21 24 18 18 24 26 16 28 12 25 18 25 17 17 20 21 17 22 13 24 12 15 25 27 13 13 27 24 16 16 24 11 30-1 33-31 15-34 7-29 20-30 22-23 30 26 4 26 6 26 5 27-4 30 23 33 19-3 30 5 29 5 29-5 30 8 29 9 37 12 36 12-29 20-24 15-21 20-18 9-26 19-18 19-23 25-17 19-23 29-12 28-12 26-18 11-28 8-29 13-27-2-29 6-27 6-28-29-12-26-17-28-13-19-19-17-19-15-22-12-24-30 19-33 13-23-23-23-23-17-28-18-19-16-20-13-24-16-20-30 1-26 12-28 8-13-28-14-29-15-27 9-31-1-32 2-32 11-31-26 6-15-6-46 0-17 3-14-3-91 0zM5604 758l13 36-14 27-4 30-13 27-1 27 11 24 3 26 8 25 18 24 25 16 14-23 13-23 13-24 7-28 14-25 0-30 9-27 27-25 33-15 31 8 29 12 4 32 16 28-10 35-10 35 16 28 24 22 35-7 35-3 19-22 11-27 20-21 8-27 19-21 10-26 32-14 31-17-3-37 3-36-42-21-28-6-28 7-28-1-14-21-4-33 5-34-5-33-45-25-28 2-28-5-28 8-27 6-28-6-27 5-5 26 3 26-18 21-25 13-20 18-28 10-30 7-26 15zM6123 750l-5 30-3 30 5 30 21 19 18 23 27 11 19 23 24 14 21 20 16 22 20 19 28 9 18 19 18 21 31-3 31-7 27-17 31-4 30-9 22-17 14-24 18-20 21-18 19-19 16-22-5-28 5-23 0-99-2-15 0-27 2-21 0-18-1-17-4-27 5-27 0-2 0-53 0-1-5-27 5-16 0-39-26-9-26-7-25-9-29 5-25-12-27-3-25-11-27-4-26 10-28-6-26 10-26 9-28-2-26 9-9 33-10 33-1 34-7 28-20 21-16 23-10 27-4 29-20 21-16 23-7 28zM2922 2156l-28-7-27-4-27 2-27 2-28 4-27 0-27-8-27 12-28-2-27-5-15 45-22 45-38 29 0 33 6 22-6 28-23 13-26 5-26 4-37 30 7 60-22 45 23 19 14 26 30 30 60-30 24-14 11-4 40-20 90-22 19-26 26-19 8-26 8-26 14-23 45 15 30-22-19-20-11-25 22-38 45 8-7-38 22-44 4-30 4-30z" fill="none" stroke="rgb(60,60,135)" stroke-width="4" stroke-opacity="0.3" transform="scale(0.1)"/>
<polyline points="269.5,218 266,225 262,232 256,240 250,250 251,256" fill="none" stroke="rgb(70,80,150)" stroke-width="0.5" stroke-opacity="0.7"/>
<polyline points="292,229 283,231 276,236 272,242 270,249" fill="none" stroke="rgb(70,80,150)" stroke-width="0.4" stroke-opacity="0.6"/>
<polyline points="140.0,84.0 154.7,85.4 158.9,85.4 165.1,91.7 165.1,99.0 171.4,104.3 183.0,103.2 188.2,96.9 194.5,93.8 196.6,95.3 202.9,88.5 210.0,88.5 217.0,89.9 225.5,88.8 229.6,82.5 233.8,76.3 242.2,73.1 248.0,70.1 257.5,66.0 263.6,60.7 265.5,58.0" fill="none" stroke="rgb(75,90,225)" stroke-width="1.05" stroke-linejoin="round" stroke-opacity="0.9"/>
<polyline points="324.0,26.0 324.0,57.0 326.2,71.9 325.0,100.0 320.0,125.0 313.5,135.5 308.0,143.5 300.0,150.0" fill="none" stroke="rgb(75,90,225)" stroke-width="1.05" stroke-linejoin="round" stroke-opacity="0.9"/>
<polyline points="372.8,26.0 372.8,60.0 362.0,93.7 367.4,113.9 370.0,135.5 362.0,143.5 349.9,157.0" fill="none" stroke="rgb(75,90,225)" stroke-width="1.05" stroke-linejoin="round" stroke-opacity="0.9"/>
<polyline points="322.0,170.8 336.7,165.5 357.7,168.7 372.4,162.4 384.2,156.1 395.0,148.8 401.0,144.6 409.3,131.0 407.2,110.0 411.4,89.9 428.2,75.2 449.2,71.0 459.6,75.2 468.0,69.0 482.7,62.6 493.2,48.0 495.3,39.6 491.0,26.0" fill="none" stroke="rgb(75,90,225)" stroke-width="1.05" stroke-linejoin="round" stroke-opacity="0.9"/>
<polyline points="493.2,48.0 500.0,41.4 505.8,45.9 514.0,52.0 530.0,58.0 547.9,66.5 564.7,73.7 582.0,76.0 600.6,78.5 612.0,77.0" fill="none" stroke="rgb(75,90,225)" stroke-width="1.05" stroke-linejoin="round" stroke-opacity="0.9"/>
<polyline points="557.6,94.0 553.4,98.3 559.6,106.6 570.1,113.0 572.2,123.4 578.5,131.8 572.2,137.0 559.6,138.1 534.5,145.4 509.3,154.9 490.5,158.0 489.4,171.6" fill="none" stroke="rgb(75,90,225)" stroke-width="1.05" stroke-linejoin="round" stroke-opacity="0.9"/>
<polyline points="530.3,83.6 518.8,88.8 515.6,104.5 504.1,124.5 505.2,135.0" fill="none" stroke="rgb(75,90,225)" stroke-width="1.05" stroke-linejoin="round" stroke-opacity="0.9"/>
<polyline points="372.0,60.0 380.0,56.3 405.0,45.9 432.4,36.4 453.4,29.1 462.0,26.0" fill="none" stroke="rgb(75,90,225)" stroke-width="1.05" stroke-linejoin="round" stroke-opacity="0.9"/>
<polyline points="463.8,110.0 472.2,131.0 476.4,147.7 472.2,164.5 450.0,166.0 428.2,167.6 413.5,170.8" fill="none" stroke="rgb(75,90,225)" stroke-width="1.05" stroke-linejoin="round" stroke-opacity="0.9"/>
<path d="M338.9 159.3h0M346.9 172.8h0M349.1 186.8h0M361.8 183.5h0M359 168.7h0M383.3 157.1h0M388.7 150.7h0M388.7 161.4h0M390 171.4h0M387.9 178.1h0M403.5 144.5h0M404.9 148h0M406.2 153.9h0M423.7 131h0M419.7 144.5h0M423.7 144.5h0M418.4 151.2h0M423.2 150.7h0M446.7 143.9h0M445.3 159.3h0M450.2 163.3h0M413 171.4h0M429.1 166.8h0M470.9 164.7h0M461.5 116.2h0M466.9 117.5h0M472.2 125.6h0M474.4 137.7h0M476.3 148.5h0M488.4 139.1h0M483 117.5h0M487.1 120.2h0M473.6 104.9h0M469.6 102.2h0M458.2 103.2h0M491.7 157.4h0M357.7 168.7h0M336.3 165.6h0M492.5 54h0M484.4 69.6h0M492.5 70.1h0M467.7 72.3h0M466.9 98.4h0M469.6 105.1h0M473.6 105.1h0M496.5 39.1h0M458.8 103.8h0M501 58.4h0M499.9 60.5h0M484.2 70h0M504.7 67.2h0M507.2 74.2h0M517.7 74.2h0M530.3 68.9h0M546 77.3h0M548.1 66.8h0M572.2 76.7h0M562.8 74.2h0M605.8 36.4h0M600.5 79.4h0M605.8 80.4h0M529.3 83.6h0M518.8 88.8h0M524 92h0M537.6 92h0M542.5 89.9h0M552.3 93h0M556.5 94.1h0M586.9 86.7h0M575.4 91.6h0M506.2 96.2h0M492.6 98.3h0M515.6 103.5h0M535.5 106.2h0M547.1 107.7h0M558.6 108.7h0M586.9 102.5h0M582.7 107.7h0M605.8 97.2h0M596.3 110.8h0M589 116.1h0M485.2 114h0M482.5 117.1h0M487.3 119.2h0M504.1 124.5h0M538.7 114h0M537.6 117.1h0M540.8 120.3h0M542.9 120.9h0M571.2 124.5h0M488.4 139.1h0M503 136h0M534.5 145.4h0M559.2 138.1h0M490.5 158h0M508.3 156.5h0M586.8 102.7h0M583.3 108h0M596.7 111.1h0M590.1 115.7h0M571.1 124.7h0M326 208.7h0M389 205.1h0M419.4 193.6h0M432.6 193.6h0M433.8 197.4h0M430.9 202.7h0M456 206.3h0M448.1 211.8h0M471.6 201h0M426.6 219.5h0M461.3 219.5h0M463.2 227.1h0M475.7 220.2h0M612.5 154.8h0M564.6 174.4h0M578.3 177.1h0M515.5 181.9h0M521.5 187.8h0M542.6 184.3h0M604.1 190.2h0M624.5 191.4h0M617.8 199.6h0M627.4 204.4h0M471.9 201h0M483.2 207h0M486.3 211.1h0M498.7 203.4h0M495.9 213.5h0M500.7 214.2h0M498.3 216.6h0M541.9 209.4h0M524.6 215.1h0M475.3 219.9h0M482.5 222.3h0M553.8 217.5h0M560.3 217.8h0M583.8 215.1h0M611.3 211.8h0M608.2 218.7h0M612.5 223.8h0M621.6 221.4h0M491.6 230.7h0M522.2 228.3h0M538.3 230.2h0M549 229.8h0M560.5 233.1h0M591 228.6h0M592.2 232.2h0M503.5 235h0M516.7 235.7h0M523.9 235.7h0M505.9 239.1h0M568.2 239.1h0M642.8 125.6h0M656.6 129h0M633.7 130.9h0M625.8 143.8h0M640 168h0M638.4 180.5h0M653 198.9h0M629.4 216.3h0M646.8 222.7h0M583.6 215.9h0M593.1 232h0M560.9 232.4h0M568 238.6h0M431 202.4h0M455.6 206h0M471.8 201.2h0M498.2 202.9h0M542 209.1h0M537.7 230h0M246.9 143h0M249.7 150h0M245.6 151.2h0M255 145.8h0M257.8 143h0M263.2 150h0M268.6 150h0M248.3 147.1h0" stroke="rgb(150,170,240)" stroke-width="3.6" stroke-linecap="round" fill="none" opacity="0.5"/>
<path d="M338.9 159.3h0M346.9 172.8h0M349.1 186.8h0M361.8 183.5h0M359 168.7h0M383.3 157.1h0M388.7 150.7h0M388.7 161.4h0M390 171.4h0M387.9 178.1h0M403.5 144.5h0M404.9 148h0M406.2 153.9h0M423.7 131h0M419.7 144.5h0M423.7 144.5h0M418.4 151.2h0M423.2 150.7h0M446.7 143.9h0M445.3 159.3h0M450.2 163.3h0M413 171.4h0M429.1 166.8h0M470.9 164.7h0M461.5 116.2h0M466.9 117.5h0M472.2 125.6h0M474.4 137.7h0M476.3 148.5h0M488.4 139.1h0M483 117.5h0M487.1 120.2h0M473.6 104.9h0M469.6 102.2h0M458.2 103.2h0M491.7 157.4h0M357.7 168.7h0M336.3 165.6h0M492.5 54h0M484.4 69.6h0M492.5 70.1h0M467.7 72.3h0M466.9 98.4h0M469.6 105.1h0M473.6 105.1h0M496.5 39.1h0M458.8 103.8h0M501 58.4h0M499.9 60.5h0M484.2 70h0M504.7 67.2h0M507.2 74.2h0M517.7 74.2h0M530.3 68.9h0M546 77.3h0M548.1 66.8h0M572.2 76.7h0M562.8 74.2h0M605.8 36.4h0M600.5 79.4h0M605.8 80.4h0M529.3 83.6h0M518.8 88.8h0M524 92h0M537.6 92h0M542.5 89.9h0M552.3 93h0M556.5 94.1h0M586.9 86.7h0M575.4 91.6h0M506.2 96.2h0M492.6 98.3h0M515.6 103.5h0M535.5 106.2h0M547.1 107.7h0M558.6 108.7h0M586.9 102.5h0M582.7 107.7h0M605.8 97.2h0M596.3 110.8h0M589 116.1h0M485.2 114h0M482.5 117.1h0M487.3 119.2h0M504.1 124.5h0M538.7 114h0M537.6 117.1h0M540.8 120.3h0M542.9 120.9h0M571.2 124.5h0M488.4 139.1h0M503 136h0M534.5 145.4h0M559.2 138.1h0M490.5 158h0M508.3 156.5h0M586.8 102.7h0M583.3 108h0M596.7 111.1h0M590.1 115.7h0M571.1 124.7h0M326 208.7h0M389 205.1h0M419.4 193.6h0M432.6 193.6h0M433.8 197.4h0M430.9 202.7h0M456 206.3h0M448.1 211.8h0M471.6 201h0M426.6 219.5h0M461.3 219.5h0M463.2 227.1h0M475.7 220.2h0M612.5 154.8h0M564.6 174.4h0M578.3 177.1h0M515.5 181.9h0M521.5 187.8h0M542.6 184.3h0M604.1 190.2h0M624.5 191.4h0M617.8 199.6h0M627.4 204.4h0M471.9 201h0M483.2 207h0M486.3 211.1h0M498.7 203.4h0M495.9 213.5h0M500.7 214.2h0M498.3 216.6h0M541.9 209.4h0M524.6 215.1h0M475.3 219.9h0M482.5 222.3h0M553.8 217.5h0M560.3 217.8h0M583.8 215.1h0M611.3 211.8h0M608.2 218.7h0M612.5 223.8h0M621.6 221.4h0M491.6 230.7h0M522.2 228.3h0M538.3 230.2h0M549 229.8h0M560.5 233.1h0M591 228.6h0M592.2 232.2h0M503.5 235h0M516.7 235.7h0M523.9 235.7h0M505.9 239.1h0M568.2 239.1h0M642.8 125.6h0M656.6 129h0M633.7 130.9h0M625.8 143.8h0M640 168h0M638.4 180.5h0M653 198.9h0M629.4 216.3h0M646.8 222.7h0M583.6 215.9h0M593.1 232h0M560.9 232.4h0M568 238.6h0M431 202.4h0M455.6 206h0M471.8 201.2h0M498.2 202.9h0M542 209.1h0M537.7 230h0M246.9 143h0M249.7 150h0M245.6 151.2h0M255 145.8h0M257.8 143h0M263.2 150h0M268.6 150h0M248.3 147.1h0" stroke="rgb(70,95,225)" stroke-width="2.7" stroke-linecap="round" fill="none"/>
</svg></div>
<div id="legend" style="position:absolute;left:610.3px;top:26.5px;width:46px;height:84.3px;background:rgba(255,255,255,0.8);border-radius:2px;box-shadow:0 0 3px rgba(0,0,0,0.15)">
<div class="t" style="left:2.6px;top:1.7px;font-size:5.3px;font-weight:bold;color:#333;letter-spacing:-0.1px">Simulated runoff</div>
<div style="position:absolute;left:3.2px;top:11.4px;width:6.4px;height:66.4px;background:linear-gradient(rgb(112,128,190),rgb(128,160,205) 18%,rgb(160,195,222) 33%,rgb(238,238,215) 47%,rgb(248,225,160) 58%,rgb(244,170,110) 72%,rgb(230,110,100) 86%,rgb(212,72,92))"></div>
<div style="position:absolute;left:9.6px;top:18.4px;width:1.2px;height:0.5px;background:#555"></div>
<div class="t" style="right:10.2px;top:15.5px;font-size:5.0px;color:#333;text-align:right">200 m³/s</div>
<div style="position:absolute;left:9.6px;top:25.7px;width:1.2px;height:0.5px;background:#555"></div>
<div class="t" style="right:10.2px;top:22.8px;font-size:5.0px;color:#333;text-align:right">400 m³/s</div>
<div style="position:absolute;left:9.6px;top:32.9px;width:1.2px;height:0.5px;background:#555"></div>
<div class="t" style="right:10.2px;top:30.0px;font-size:5.0px;color:#333;text-align:right">600 m³/s</div>
<div style="position:absolute;left:9.6px;top:40.2px;width:1.2px;height:0.5px;background:#555"></div>
<div class="t" style="right:10.2px;top:37.3px;font-size:5.0px;color:#333;text-align:right">800 m³/s</div>
<div style="position:absolute;left:9.6px;top:47.5px;width:1.2px;height:0.5px;background:#555"></div>
<div class="t" style="right:10.2px;top:44.6px;font-size:5.0px;color:#333;text-align:right">1,000 m³/s</div>
<div style="position:absolute;left:9.6px;top:54.7px;width:1.2px;height:0.5px;background:#555"></div>
<div class="t" style="right:10.2px;top:51.8px;font-size:5.0px;color:#333;text-align:right">1,200 m³/s</div>
<div style="position:absolute;left:9.6px;top:62.0px;width:1.2px;height:0.5px;background:#555"></div>
<div class="t" style="right:10.2px;top:59.1px;font-size:5.0px;color:#333;text-align:right">1,400 m³/s</div>
<div style="position:absolute;left:9.6px;top:69.3px;width:1.2px;height:0.5px;background:#555"></div>
<div class="t" style="right:10.2px;top:66.4px;font-size:5.0px;color:#333;text-align:right">1,600 m³/s</div>
<div style="position:absolute;left:9.6px;top:76.6px;width:1.2px;height:0.5px;background:#555"></div>
<div class="t" style="right:10.2px;top:73.7px;font-size:5.0px;color:#333;text-align:right">1,800 m³/s</div>
</div>
<div id="layers" style="position:absolute;left:620.2px;top:233px;width:34.8px;height:31.3px;background:#fff;border-radius:2px;box-shadow:0 0 2px rgba(0,0,0,0.3)">
<div style="position:absolute;left:3px;top:4.6px;width:4.5px;height:4.5px;background:#3b82f0;border-radius:0.8px"></div>
<svg style="position:absolute;left:3px;top:4.6px" width="5" height="5" viewBox="0 0 5 5"><path d="M1,2.5 L2.1,3.6 L4,1.2" stroke="#fff" stroke-width="0.8" fill="none"/></svg>
<div class="t" style="left:8.4px;top:4.2px;font-size:4.4px;color:#555">Subbasins</div>
<div style="position:absolute;left:3px;top:13.5px;width:4.5px;height:4.5px;background:#3b82f0;border-radius:0.8px"></div>
<svg style="position:absolute;left:3px;top:13.5px" width="5" height="5" viewBox="0 0 5 5"><path d="M1,2.5 L2.1,3.6 L4,1.2" stroke="#fff" stroke-width="0.8" fill="none"/></svg>
<div class="t" style="left:8.4px;top:13.1px;font-size:4.4px;color:#555">Main rivers</div>
<div style="position:absolute;left:3px;top:22.5px;width:4.5px;height:4.5px;background:#3b82f0;border-radius:0.8px"></div>
<svg style="position:absolute;left:3px;top:22.5px" width="5" height="5" viewBox="0 0 5 5"><path d="M1,2.5 L2.1,3.6 L4,1.2" stroke="#fff" stroke-width="0.8" fill="none"/></svg>
<div class="t" style="left:8.4px;top:22.1px;font-size:4.4px;color:#555">H2B Gauges</div>
</div>
<div class="t" style="left:565.8px;top:269.2px;height:5.8px;padding:0 1px;background:rgba(255,255,255,0.7);font-size:4.0px;color:#333;line-height:5.8px"><span style="color:#0078a8">Leaflet</span> | © <span style="color:#0078a8">OpenStreetMap</span> contributors, <span style="color:#0078a8">CC-BY-SA</span></div>

<div id="zoom" style="position:absolute;left:13.8px;top:28.1px;width:10.8px;height:19.3px;background:#fff;border-radius:1.5px;box-shadow:0 0 0.8px rgba(0,0,0,0.35)">
 <svg style="position:absolute;left:0;top:0" width="11" height="20" viewBox="0 0 11 20"><path d="M3.3,4.3H7.5M5.4,2.2V6.4" stroke="#111" stroke-width="1.1"/><path d="M3.3,15.2H7.5" stroke="#111" stroke-width="1.2"/></svg>
 <div style="position:absolute;left:0;top:8.4px;width:10.8px;height:0.6px;background:#ccc"></div>
</div>
<div id="panel" style="position:absolute;left:28px;top:40px;width:126px;height:173px;background:#fff;border-radius:2px;box-shadow:0 0 2px rgba(0,0,0,0.2)">
 <div class="t" style="left:4px;top:4px;font-size:6.6px;font-weight:bold;color:#444;letter-spacing:-0.05px">Specifications Panel</div>
 <svg style="position:absolute;left:106px;top:2px" width="18" height="14" viewBox="0 0 18 14">
  <path d="M8,4.5 L10,2 L11.5,3.5 L13,2.2 L15,4.8" stroke="rgb(160,195,160)" stroke-width="0.7" fill="none"/>
  <path d="M2.5,6.6 C6,4.6 11,4.3 15.6,5.6" stroke="rgb(110,195,80)" stroke-width="1.3" fill="none"/>
  <path d="M2.5,7.6 C6,6.2 11,6 15.6,7.2" stroke="rgb(60,105,165)" stroke-width="0.8" fill="none"/>
  <text x="1.3" y="12.6" font-size="5.4" font-family="Liberation Sans, sans-serif" font-weight="bold" letter-spacing="-0.2"><tspan fill="rgb(55,85,150)">Hy</tspan><tspan fill="rgb(100,180,75)">Wa</tspan></text>
 </svg>
 <div class="t" style="left:4px;top:19.2px;font-size:4.7px;color:#666;line-height:7.7px">By clicking on a subsasin time series of<br>selected variable are displayed below</div>
 <div class="t" style="left:4px;top:39.5px;font-size:4.3px;font-weight:bold;color:#333">Select variable</div>
 <div class="t" style="left:68.5px;top:39.5px;font-size:4.3px;font-weight:bold;color:#333">Summary statistics</div>
 <div class="sel" style="left:4px;top:50.5px;width:53px">Simulated runoff<span class="car"></span></div>
 <div class="sel" style="left:68px;top:50.5px;width:53px">Mean<span class="car"></span></div>
 <div class="t" style="left:4px;top:72.3px;font-size:4.68px;color:#666">Specify a time range for your variable to be displayed:</div>
 <div class="t" style="left:4px;top:86.5px;font-size:4.3px;font-weight:bold;color:#333">Select time range</div>
 <div style="position:absolute;left:4px;top:96.6px;width:108px;height:10.2px;border:0.6px solid #ccc;border-radius:1px;background:#fff"></div>
 <div style="position:absolute;left:52.5px;top:96.6px;width:11.2px;height:10.2px;border:0.6px solid #ccc;background:#eee"></div>
 <div class="t" style="left:4px;top:99.3px;width:48.5px;text-align:center;font-size:4.3px;color:#555">2011-02-01</div>
 <div class="t" style="left:52.5px;top:99.3px;width:11.2px;text-align:center;font-size:4.3px;color:#555">to</div>
 <div class="t" style="left:63.7px;top:99.3px;width:48.3px;text-align:center;font-size:4.3px;color:#555">2015-12-31</div>
 <div class="t" style="left:4px;top:114.1px;font-size:4.7px;color:#666">Select a color palette and opacity level:</div>
 <div class="t" style="left:4px;top:127px;font-size:4.3px;font-weight:bold;color:#333">Color palette</div>
 <div class="t" style="left:68px;top:127px;font-size:4.3px;font-weight:bold;color:#333">Opacity</div>
 <div class="sel" style="left:4px;top:138px;width:53px;color:#777">BuYlRd<span class="car"></span></div>
 <div class="sel" style="left:68px;top:138px;width:53px;color:#777">0.7<span class="car"></span></div>
 <div style="position:absolute;left:4px;top:157px;width:78.5px;height:12.3px;border:0.6px solid #ccc;border-radius:1.5px;background:#fff"></div>
 <svg style="position:absolute;left:8.5px;top:160px" width="5" height="6" viewBox="0 0 5 6"><path d="M1.7,0 H3.3 V2.5 H4.6 L2.5,4.4 L0.4,2.5 H1.7 Z" fill="#333"/><rect x="0.2" y="4.6" width="4.6" height="1.2" fill="#333"/></svg>
 <div class="t" style="left:15.2px;top:160.1px;font-size:5.12px;color:#333">Download hydrological data</div>
</div>


<div id="popup" style="position:absolute;left:228.3px;top:153.1px;width:93px;height:62px;background:#fff;border-radius:3px;box-shadow:0 1px 3px rgba(0,0,0,0.35)">
 <div class="t" style="left:87px;top:1px;font-size:5px;color:#bbb">&#215;</div>
 <div class="t" style="left:8px;top:5.6px;font-size:5.0px;font-weight:bold;color:#333;text-decoration:underline">SUBBASIN INFORMATION</div>
 <div class="t pl" style="top:15.7px"><b>Simulated runoff:</b> 62.95 m³/s (Mean)</div>
 <div class="t pl" style="top:21.5px"><b>Time range:</b> 2011-02-01 till 2015-12-31</div>
 <div class="t pl" style="top:27.5px"><b>Gauge:</b> Kajetans Bruecke</div>
 <div class="t pl" style="top:33.5px"><b>River:</b> Inn</div>
 <div class="t pl" style="top:39.6px"><b>Subcatchment:</b> Inn</div>
 <div class="t pl" style="top:45.6px"><b>Country:</b> C/A/D</div>
 <div class="t pl" style="top:51.5px"><b>Area:</b> 2175.59 km²</div>
</div>
<div style="position:absolute;left:269.5px;top:214.5px;width:0;height:0;border-left:4px solid transparent;border-right:4px solid transparent;border-top:4.5px solid #fff"></div>

<div id="nav"><div class="brand">Hydrological Information System</div>
<div class="act"></div>
<div class="it" style="left:102.5px">Meteorology</div>
<div class="it" style="left:139px;color:#555">Hydrology</div>
<div class="it" style="left:171px">Anomaly Viewer</div></div>

<div class="h" style="left:65px;top:279.2px;font-size:4.92px;font-weight:bold;color:#222">---&gt; Clicked on subbasin nr. 19, the Inn river with gauge Kajetans Bruecke; stationnr.: 201178</div>
<div class="h" style="left:65px;top:291.5px;font-size:6.6px;color:#444">Hydrograph:</div>
<div class="h" style="left:65px;top:431.5px;font-size:6.6px;color:#333">Water stored in snow, soil and baseflow reservoir:</div>
<div style="position:absolute;left:10px;top:540px;width:649px;height:1px;background:#eee"></div>
<div class="h" style="left:64.7px;top:551.6px;font-size:6.6px;color:#333">Spaghetti plot of simulated discharge:</div>

<svg width="668" height="440" viewBox="0 0 668 440" style="position:absolute;left:0;top:0">
<rect x="33.4" y="323.8" width="38.3" height="77" fill="rgb(212,250,252)"/>
<rect x="148.9" y="323.8" width="36.8" height="77" fill="rgb(212,250,252)"/>
<rect x="263.3" y="323.8" width="37.7" height="77" fill="rgb(212,250,252)"/>
<rect x="377.7" y="323.8" width="36.9" height="77" fill="rgb(212,250,252)"/>
<rect x="492" y="323.8" width="37.6" height="77" fill="rgb(212,250,252)"/>
<rect x="607" y="323.8" width="31.0" height="77" fill="rgb(212,250,252)"/>
<path d="M53.7 325.3V327.2M54.4 325.3V326.7M54.7 325.3V329.3M55.0 325.3V337.4M56.2 325.3V331.0M56.6 325.3V325.8M56.9 325.3V330.0M57.5 325.3V354.2M57.8 325.3V326.0M58.4 325.3V328.5M59.4 325.3V330.5M60.3 325.3V332.9M60.6 325.3V334.1M61.0 325.3V326.5M61.3 325.3V330.9M61.9 325.3V340.6M62.2 325.3V332.1M63.1 325.3V337.5M65.3 325.3V326.3M65.7 325.3V326.9M66.0 325.3V326.5M67.2 325.3V329.1M67.5 325.3V337.5M69.4 325.3V328.4M69.7 325.3V329.6M70.1 325.3V326.0M70.4 325.3V335.5M70.7 325.3V336.2M71.0 325.3V327.2M71.3 325.3V333.1M73.8 325.3V328.7M74.1 325.3V326.4M75.1 325.3V327.1M75.7 325.3V326.5M76.0 325.3V330.1M76.3 325.3V335.0M76.6 325.3V327.4M77.0 325.3V331.7M77.3 325.3V326.1M78.2 325.3V330.2M78.5 325.3V330.2M79.8 325.3V326.2M80.4 325.3V330.6M80.7 325.3V330.3M81.0 325.3V330.6M82.0 325.3V331.8M82.9 325.3V327.3M85.7 325.3V337.8M86.4 325.3V326.1M87.6 325.3V328.9M87.9 325.3V330.9M88.6 325.3V326.1M88.9 325.3V329.5M89.5 325.3V332.3M90.1 325.3V330.4M90.4 325.3V328.3M91.1 325.3V329.3M92.3 325.3V327.7M92.6 325.3V327.5M93.3 325.3V334.1M93.6 325.3V326.2M94.5 325.3V327.8M94.8 325.3V355.7M95.5 325.3V326.8M96.1 325.3V336.1M96.7 325.3V329.9M97.3 325.3V330.3M97.7 325.3V331.8M98.3 325.3V330.5M98.6 325.3V327.1M99.5 325.3V330.1M100.2 325.3V327.2M100.5 325.3V328.6M101.7 325.3V326.3M102.0 325.3V328.6M102.4 325.3V326.2M102.7 325.3V327.1M103.3 325.3V333.2M103.9 325.3V354.4M105.2 325.3V327.6M105.5 325.3V327.6M105.8 325.3V327.7M106.1 325.3V327.7M106.4 325.3V334.8M107.4 325.3V328.3M107.7 325.3V327.8M108.0 325.3V326.4M108.6 325.3V326.2M108.9 325.3V338.6M109.6 325.3V328.1M109.9 325.3V329.2M110.5 325.3V333.8M111.5 325.3V338.7M111.8 325.3V328.8M112.1 325.3V327.2M112.4 325.3V326.3M113.0 325.3V326.7M115.2 325.3V326.3M116.5 325.3V326.0M116.8 325.3V326.6M117.1 325.3V326.8M117.4 325.3V328.3M118.0 325.3V327.6M118.7 325.3V331.9M119.3 325.3V328.0M119.6 325.3V326.0M120.2 325.3V327.3M120.6 325.3V326.0M121.2 325.3V327.9M122.1 325.3V327.8M124.0 325.3V327.4M124.3 325.3V337.9M124.9 325.3V330.8M125.3 325.3V335.0M125.6 325.3V337.5M125.9 325.3V328.6M126.5 325.3V327.4M126.8 325.3V343.5M127.5 325.3V332.1M128.1 325.3V334.1M128.4 325.3V327.0M129.3 325.3V330.4M129.7 325.3V327.0M130.0 325.3V333.0M130.6 325.3V328.5M131.2 325.3V328.8M132.2 325.3V326.4M132.5 325.3V330.6M133.1 325.3V327.1M133.7 325.3V328.7M134.0 325.3V328.6M134.4 325.3V330.8M135.0 325.3V327.2M135.3 325.3V325.9M135.6 325.3V327.5M135.9 325.3V329.9M136.2 325.3V332.4M137.5 325.3V336.6M137.8 325.3V330.2M139.7 325.3V335.5M140.6 325.3V328.8M140.9 325.3V327.8M141.3 325.3V326.2M142.8 325.3V330.4M143.5 325.3V345.7M145.0 325.3V329.6M145.3 325.3V326.4M145.7 325.3V344.6M146.6 325.3V331.1M146.9 325.3V332.9M147.2 325.3V327.7M147.8 325.3V327.6M148.5 325.3V327.5M148.8 325.3V345.8M149.1 325.3V328.3M149.4 325.3V328.3M149.7 325.3V333.6M150.7 325.3V327.6M151.3 325.3V329.8M151.6 325.3V327.6M152.2 325.3V330.4M152.6 325.3V329.2M153.5 325.3V355.2M153.8 325.3V326.9M154.7 325.3V327.1M155.1 325.3V328.3M155.4 325.3V326.8M155.7 325.3V329.1M156.9 325.3V327.1M157.6 325.3V326.4M158.8 325.3V334.7M159.1 325.3V326.0M160.4 325.3V326.9M160.7 325.3V332.3M161.0 325.3V325.9M163.5 325.3V326.6M163.8 325.3V328.6M164.5 325.3V327.8M165.4 325.3V327.1M166.0 325.3V333.3M168.2 325.3V333.7M168.6 325.3V327.5M169.2 325.3V331.0M169.5 325.3V327.0M169.8 325.3V327.0M170.1 325.3V330.6M170.4 325.3V327.1M171.1 325.3V326.6M171.4 325.3V328.9M172.0 325.3V334.1M172.3 325.3V359.4M172.6 325.3V337.5M172.9 325.3V329.6M173.3 325.3V330.3M173.9 325.3V336.5M174.5 325.3V326.6M175.8 325.3V327.2M176.4 325.3V330.5M176.7 325.3V326.5M177.6 325.3V343.6M178.0 325.3V340.2M180.8 325.3V327.1M181.4 325.3V328.2M181.7 325.3V330.9M182.7 325.3V329.7M183.0 325.3V332.6M184.2 325.3V326.7M184.6 325.3V325.9M184.9 325.3V326.7M185.2 325.3V326.8M185.5 325.3V328.3M185.8 325.3V327.1M186.7 325.3V330.8M187.1 325.3V327.0M187.7 325.3V329.7M188.0 325.3V328.7M188.3 325.3V332.5M188.6 325.3V339.5M189.3 325.3V331.7M189.9 325.3V333.2M190.2 325.3V327.8M190.5 325.3V325.9M190.8 325.3V329.2M191.1 325.3V327.0M191.5 325.3V330.3M191.8 325.3V327.7M192.7 325.3V328.5M193.6 325.3V331.5M194.0 325.3V327.2M194.3 325.3V329.8M194.9 325.3V326.0M195.2 325.3V329.9M196.2 325.3V331.3M197.7 325.3V328.4M198.4 325.3V328.6M198.7 325.3V326.3M199.0 325.3V347.2M199.3 325.3V328.1M199.9 325.3V329.3M201.2 325.3V334.4M201.5 325.3V327.7M201.8 325.3V331.3M204.3 325.3V333.0M204.6 325.3V328.5M206.2 325.3V327.2M206.8 325.3V326.5M207.1 325.3V332.3M207.8 325.3V327.7M208.7 325.3V334.5M209.3 325.3V326.0M209.6 325.3V336.0M210.3 325.3V326.3M211.2 325.3V326.3M211.5 325.3V330.6M212.5 325.3V327.5M212.8 325.3V325.8M213.4 325.3V333.8M214.4 325.3V333.1M214.7 325.3V326.1M215.3 325.3V327.4M216.2 325.3V325.9M217.5 325.3V326.2M217.8 325.3V330.4M218.4 325.3V326.6M219.1 325.3V331.4M219.4 325.3V344.8M220.0 325.3V326.4M221.3 325.3V327.9M222.2 325.3V328.0M223.8 325.3V326.8M224.1 325.3V328.3M225.3 325.3V332.9M226.6 325.3V326.7M226.9 325.3V326.0M228.2 325.3V331.6M229.4 325.3V326.5M230.7 325.3V328.0M231.3 325.3V328.6M232.9 325.3V328.6M233.2 325.3V326.6M233.8 325.3V329.6M234.1 325.3V326.3M234.7 325.3V331.5M235.1 325.3V327.9M235.7 325.3V326.6M236.3 325.3V329.1M236.9 325.3V335.0M237.3 325.3V333.8M237.9 325.3V330.6M238.2 325.3V326.5M239.4 325.3V329.7M239.8 325.3V328.9M240.1 325.3V330.2M240.4 325.3V328.7M240.7 325.3V326.3M241.6 325.3V329.2M242.0 325.3V330.3M242.3 325.3V339.8M242.6 325.3V326.5M243.5 325.3V327.2M243.8 325.3V326.7M244.2 325.3V327.5M244.8 325.3V326.8M245.7 325.3V326.0M246.0 325.3V333.2M246.3 325.3V332.4M247.3 325.3V354.4M248.2 325.3V326.5M248.9 325.3V331.1M249.2 325.3V326.8M250.4 325.3V326.7M251.7 325.3V341.2M252.6 325.3V327.0M252.9 325.3V326.1M253.6 325.3V328.6M253.9 325.3V332.3M254.2 325.3V348.9M254.8 325.3V329.3M256.4 325.3V335.8M256.7 325.3V325.8M257.0 325.3V332.9M259.2 325.3V328.0M259.8 325.3V328.4M260.2 325.3V327.2M261.1 325.3V328.8M261.7 325.3V328.7M263.3 325.3V327.2M263.6 325.3V329.3M263.9 325.3V338.7M264.2 325.3V326.6M264.9 325.3V337.0M265.2 325.3V326.2M266.4 325.3V329.7M266.7 325.3V325.9M267.4 325.3V332.5M267.7 325.3V327.2M268.3 325.3V331.2M268.6 325.3V327.7M268.9 325.3V332.8M269.6 325.3V326.3M271.8 325.3V329.4M272.1 325.3V326.5M272.4 325.3V327.8M273.3 325.3V326.6M274.0 325.3V325.9M274.3 325.3V326.6M274.6 325.3V333.8M275.2 325.3V331.5M275.5 325.3V331.8M275.8 325.3V338.2M276.2 325.3V331.7M276.8 325.3V325.8M277.4 325.3V326.9M278.0 325.3V326.6M278.3 325.3V326.9M278.7 325.3V331.2M279.6 325.3V325.9M280.5 325.3V329.9M280.9 325.3V328.1M281.8 325.3V326.3M282.1 325.3V330.1M283.1 325.3V327.3M284.3 325.3V334.2M284.6 325.3V326.3M285.2 325.3V327.5M286.2 325.3V332.1M286.5 325.3V326.9M287.1 325.3V349.7M288.4 325.3V329.9M288.7 325.3V347.9M289.3 325.3V327.8M290.3 325.3V327.9M290.6 325.3V357.0M291.2 325.3V327.5M293.4 325.3V332.2M294.0 325.3V326.2M295.0 325.3V330.7M295.3 325.3V325.8M296.2 325.3V328.6M296.5 325.3V331.0M297.2 325.3V325.9M297.5 325.3V326.6M298.1 325.3V326.3M298.4 325.3V341.7M298.7 325.3V326.5M299.7 325.3V326.9M300.0 325.3V333.1M300.3 325.3V327.4M300.9 325.3V327.4M301.2 325.3V326.5M301.9 325.3V338.0M302.5 325.3V327.0M302.8 325.3V326.9M303.1 325.3V358.6M303.4 325.3V327.6M304.1 325.3V328.0M304.4 325.3V327.5M305.6 325.3V327.4M306.3 325.3V330.4M306.6 325.3V326.2M306.9 325.3V361.0M307.5 325.3V331.4M307.8 325.3V327.6M308.1 325.3V326.8M308.8 325.3V326.1M309.4 325.3V344.2M309.7 325.3V326.4M310.0 325.3V329.2M310.3 325.3V330.9M310.7 325.3V326.0M311.0 325.3V326.0M311.3 325.3V327.0M311.6 325.3V326.1M312.2 325.3V326.0M312.9 325.3V327.1M313.2 325.3V326.9M313.5 325.3V326.3M313.8 325.3V358.5M314.7 325.3V326.0M315.4 325.3V327.1M315.7 325.3V327.5M316.3 325.3V326.5M317.2 325.3V329.3M317.6 325.3V327.4M318.5 325.3V326.0M319.1 325.3V332.5M319.4 325.3V333.1M319.8 325.3V343.1M320.4 325.3V327.2M322.6 325.3V326.3M323.5 325.3V334.0M323.8 325.3V332.9M324.5 325.3V332.3M324.8 325.3V326.3M325.1 325.3V330.1M326.0 325.3V329.5M326.7 325.3V335.8M327.6 325.3V344.3M328.2 325.3V329.9M329.2 325.3V326.0M329.5 325.3V326.3M329.8 325.3V326.3M330.1 325.3V328.9M331.0 325.3V327.2M331.7 325.3V327.6M332.0 325.3V333.2M332.6 325.3V326.6M332.9 325.3V326.4M333.2 325.3V325.9M333.9 325.3V329.9M334.2 325.3V330.2M335.1 325.3V329.1M335.4 325.3V328.7M335.8 325.3V330.2M336.1 325.3V328.7M337.3 325.3V335.3M337.9 325.3V331.8M338.6 325.3V326.5M339.5 325.3V331.4M340.5 325.3V333.4M340.8 325.3V334.4M341.1 325.3V327.1M341.7 325.3V327.4M342.7 325.3V326.7M343.0 325.3V356.9M343.3 325.3V334.7M343.6 325.3V333.2M343.9 325.3V332.4M344.5 325.3V326.3M344.9 325.3V339.1M345.5 325.3V328.4M345.8 325.3V329.5M346.4 325.3V328.9M346.7 325.3V327.1M347.7 325.3V331.5M348.6 325.3V327.9M349.2 325.3V331.0M349.6 325.3V328.4M349.9 325.3V346.9M350.5 325.3V325.9M350.8 325.3V326.6M351.1 325.3V327.8M353.3 325.3V325.9M353.9 325.3V330.5M355.2 325.3V334.4M355.5 325.3V326.1M355.8 325.3V327.4M356.5 325.3V327.6M358.0 325.3V326.2M358.3 325.3V329.7M359.0 325.3V329.9M359.3 325.3V327.0M359.6 325.3V333.3M360.2 325.3V326.7M360.5 325.3V327.2M363.0 325.3V336.8M363.7 325.3V326.4M364.3 325.3V329.8M364.6 325.3V336.0M365.9 325.3V335.3M366.5 325.3V327.8M367.8 325.3V327.1M368.1 325.3V346.0M369.3 325.3V335.9M369.6 325.3V326.4M369.9 325.3V327.0M370.3 325.3V326.9M370.9 325.3V336.4M371.8 325.3V327.2M372.1 325.3V327.5M372.5 325.3V326.4M372.8 325.3V334.3M373.1 325.3V328.3M373.7 325.3V331.8M374.3 325.3V328.2M374.7 325.3V331.3M375.9 325.3V327.4M376.5 325.3V326.3M377.2 325.3V345.5M377.8 325.3V326.1M378.1 325.3V327.1M379.4 325.3V326.2M380.6 325.3V328.4M381.6 325.3V327.3M382.2 325.3V326.2M383.4 325.3V326.1M384.1 325.3V327.9M385.3 325.3V332.9M385.6 325.3V328.4M386.3 325.3V333.4M387.5 325.3V328.0M388.1 325.3V326.9M388.5 325.3V359.7M388.8 325.3V327.1M389.1 325.3V325.8M390.3 325.3V325.9M390.7 325.3V329.6M391.0 325.3V325.9M391.3 325.3V327.6M391.9 325.3V328.7M392.5 325.3V329.5M392.8 325.3V331.2M393.2 325.3V329.4M393.5 325.3V327.0M394.4 325.3V330.8M394.7 325.3V337.4M395.0 325.3V326.0M396.3 325.3V326.1M396.6 325.3V329.5M396.9 325.3V335.9M398.2 325.3V329.6M399.1 325.3V334.3M400.1 325.3V327.4M400.4 325.3V326.3M400.7 325.3V330.1M401.0 325.3V326.8M401.6 325.3V331.4M401.9 325.3V334.9M402.6 325.3V326.2M402.9 325.3V326.8M404.1 325.3V328.9M405.1 325.3V330.5M405.4 325.3V329.5M406.3 325.3V331.1M406.6 325.3V326.5M407.0 325.3V329.8M407.9 325.3V326.7M408.5 325.3V326.2M408.8 325.3V342.1M410.4 325.3V353.7M411.4 325.3V326.0M412.3 325.3V331.3M413.6 325.3V331.2M413.9 325.3V326.7M414.2 325.3V326.0M414.5 325.3V326.0M414.8 325.3V328.3M415.1 325.3V331.1M415.7 325.3V325.8M416.1 325.3V326.7M418.3 325.3V328.8M418.6 325.3V327.1M418.9 325.3V327.7M419.8 325.3V326.5M420.1 325.3V328.0M420.5 325.3V334.0M421.4 325.3V330.2M422.0 325.3V326.2M423.3 325.3V328.6M423.9 325.3V325.8M424.2 325.3V329.9M425.2 325.3V328.0M425.5 325.3V326.2M425.8 325.3V328.4M426.1 325.3V328.4M426.7 325.3V326.3M427.0 325.3V326.1M428.3 325.3V327.0M428.6 325.3V328.1M428.9 325.3V336.2M429.9 325.3V328.2M431.4 325.3V328.4M432.7 325.3V325.9M433.0 325.3V327.2M433.3 325.3V328.9M433.6 325.3V328.4M434.3 325.3V331.1M434.9 325.3V335.6M435.2 325.3V342.4M436.1 325.3V326.1M437.4 325.3V348.4M439.3 325.3V327.0M439.9 325.3V327.7M440.2 325.3V331.4M440.5 325.3V326.1M440.8 325.3V333.5M441.2 325.3V327.7M441.8 325.3V329.4M442.4 325.3V327.1M442.7 325.3V326.3M444.0 325.3V326.2M444.9 325.3V328.0M445.2 325.3V330.9M445.5 325.3V327.3M446.2 325.3V325.9M446.5 325.3V326.8M446.8 325.3V326.7M447.1 325.3V327.5M447.7 325.3V337.5M448.1 325.3V326.6M448.4 325.3V329.6M449.0 325.3V330.4M449.6 325.3V334.4M449.9 325.3V327.4M450.9 325.3V327.2M451.2 325.3V337.3M451.8 325.3V333.3M452.4 325.3V325.9M453.7 325.3V326.0M454.0 325.3V331.3M455.0 325.3V327.2M455.6 325.3V329.4M457.5 325.3V336.0M458.4 325.3V332.0M458.7 325.3V327.1M459.0 325.3V331.3M459.4 325.3V331.4M459.7 325.3V326.3M460.3 325.3V327.7M460.6 325.3V326.9M460.9 325.3V326.6M461.5 325.3V333.5M462.2 325.3V327.4M462.5 325.3V331.5M463.4 325.3V332.1M463.7 325.3V329.4M464.1 325.3V326.5M464.4 325.3V340.4M464.7 325.3V326.1M465.6 325.3V328.1M465.9 325.3V325.9M466.3 325.3V328.1M466.6 325.3V325.9M467.2 325.3V326.7M467.8 325.3V326.5M468.4 325.3V331.6M469.1 325.3V329.2M469.4 325.3V330.7M470.6 325.3V326.3M471.0 325.3V335.1M471.6 325.3V327.4M472.5 325.3V329.7M473.2 325.3V326.9M473.8 325.3V338.3M474.1 325.3V328.1M474.4 325.3V330.8M475.0 325.3V332.7M475.3 325.3V331.0M475.7 325.3V331.8M476.0 325.3V327.6M476.3 325.3V326.8M476.9 325.3V326.9M477.2 325.3V336.3M477.9 325.3V326.3M478.2 325.3V328.9M478.5 325.3V325.9M478.8 325.3V327.0M479.1 325.3V326.4M479.4 325.3V330.0M480.4 325.3V335.3M480.7 325.3V327.3M481.0 325.3V353.2M481.6 325.3V331.2M481.9 325.3V327.2M482.3 325.3V333.9M482.9 325.3V327.8M483.2 325.3V326.1M483.8 325.3V330.7M485.4 325.3V334.5M485.7 325.3V326.9M486.0 325.3V326.3M486.6 325.3V332.1M487.6 325.3V326.3M488.8 325.3V337.5M489.2 325.3V328.5M489.5 325.3V343.5M490.1 325.3V329.8M490.4 325.3V328.0M491.3 325.3V334.9M492.3 325.3V326.0M492.6 325.3V327.5M492.9 325.3V330.9M493.5 325.3V326.3M494.8 325.3V337.4M495.7 325.3V326.0M496.1 325.3V326.3M496.4 325.3V358.9M496.7 325.3V329.9M497.3 325.3V327.8M497.6 325.3V327.5M498.6 325.3V326.1M499.8 325.3V330.2M500.1 325.3V326.0M502.3 325.3V326.4M502.6 325.3V326.5M503.3 325.3V326.1M503.6 325.3V325.9M503.9 325.3V330.6M504.2 325.3V341.0M504.8 325.3V327.4M505.8 325.3V331.3M506.4 325.3V330.5M507.3 325.3V326.2M507.7 325.3V326.4M508.9 325.3V325.8M509.2 325.3V326.1M509.9 325.3V332.5M510.2 325.3V331.1M510.5 325.3V327.5M510.8 325.3V335.6M512.7 325.3V330.7M513.0 325.3V326.6M513.3 325.3V326.1M514.6 325.3V333.4M514.9 325.3V328.2M515.2 325.3V329.4M515.5 325.3V328.5M516.1 325.3V327.2M516.4 325.3V327.8M517.1 325.3V328.9M517.4 325.3V327.2M518.3 325.3V332.5M518.6 325.3V327.3M519.9 325.3V329.2M520.5 325.3V330.3M521.5 325.3V326.5M522.4 325.3V328.8M524.0 325.3V326.6M524.6 325.3V329.8M525.2 325.3V329.7M525.5 325.3V328.5M526.2 325.3V328.0M526.5 325.3V333.9M526.8 325.3V326.1M527.1 325.3V326.8M528.4 325.3V327.2M529.6 325.3V327.0M529.9 325.3V328.3M530.6 325.3V328.3M531.8 325.3V327.1M532.1 325.3V328.2M533.4 325.3V328.7M533.7 325.3V328.1M534.3 325.3V326.9M535.6 325.3V325.8M535.9 325.3V349.4M536.8 325.3V327.5M537.1 325.3V326.7M537.8 325.3V333.2M538.1 325.3V330.0M538.4 325.3V326.5M538.7 325.3V329.5M540.6 325.3V328.4M540.9 325.3V326.0M541.5 325.3V330.5M541.9 325.3V326.0M542.2 325.3V326.9M542.5 325.3V326.2M543.7 325.3V328.2M544.0 325.3V328.3M544.7 325.3V326.3M545.0 325.3V339.9M545.6 325.3V336.1M545.9 325.3V336.2M546.2 325.3V329.7M546.6 325.3V326.4M546.9 325.3V338.3M547.2 325.3V326.4M547.8 325.3V333.5M549.4 325.3V327.2M549.7 325.3V327.9M550.0 325.3V336.6M550.6 325.3V326.2M551.0 325.3V331.0M551.6 325.3V332.0M551.9 325.3V327.9M552.2 325.3V326.5M552.8 325.3V327.8M553.1 325.3V328.3M554.1 325.3V334.8M554.4 325.3V327.9M554.7 325.3V327.6M555.0 325.3V330.2M555.7 325.3V329.4M556.0 325.3V328.8M557.2 325.3V333.0M557.5 325.3V340.6M559.1 325.3V325.8M559.4 325.3V327.3M559.7 325.3V335.6M560.0 325.3V331.9M560.7 325.3V329.2M561.0 325.3V326.4M561.3 325.3V330.6M561.9 325.3V326.3M562.2 325.3V325.8M562.9 325.3V326.3M564.1 325.3V327.1M564.4 325.3V328.1M564.8 325.3V326.5M565.4 325.3V328.7M566.0 325.3V326.3M566.6 325.3V326.6M568.2 325.3V326.3M568.5 325.3V327.2M569.5 325.3V328.7M571.0 325.3V326.1M571.7 325.3V329.8M572.9 325.3V328.6M573.2 325.3V327.5M573.5 325.3V326.5M573.9 325.3V326.5M575.1 325.3V328.0M575.4 325.3V329.0M576.0 325.3V326.6M576.4 325.3V326.6M576.7 325.3V327.5M577.0 325.3V326.3M577.6 325.3V329.2M578.6 325.3V330.6M579.2 325.3V333.8M579.5 325.3V326.2M579.8 325.3V333.0M580.1 325.3V326.7M580.4 325.3V326.7M581.4 325.3V327.6M581.7 325.3V326.1M582.6 325.3V330.5M582.9 325.3V326.3M583.3 325.3V327.4M583.6 325.3V329.6M584.2 325.3V332.6M584.5 325.3V326.7M585.5 325.3V326.5M585.8 325.3V327.7M587.3 325.3V326.0M587.7 325.3V330.8M588.9 325.3V326.7M590.2 325.3V327.4M590.5 325.3V328.6M591.4 325.3V329.7M592.0 325.3V332.3M592.7 325.3V332.9M593.6 325.3V330.6M593.9 325.3V328.9M594.6 325.3V331.8M595.2 325.3V326.0M595.5 325.3V357.9M595.8 325.3V333.5M596.1 325.3V335.6M596.8 325.3V327.7M597.4 325.3V326.6M597.7 325.3V329.7M600.2 325.3V335.0M600.5 325.3V326.6M600.8 325.3V333.2M601.1 325.3V326.3M601.8 325.3V326.6M602.7 325.3V327.1M603.7 325.3V329.1M604.0 325.3V325.8M604.3 325.3V335.4M604.9 325.3V329.8M605.8 325.3V327.1M606.2 325.3V338.2M607.4 325.3V336.2M608.0 325.3V330.7M608.4 325.3V326.8M609.3 325.3V326.0M610.6 325.3V327.3M610.9 325.3V343.0M611.5 325.3V326.4M613.1 325.3V326.6M613.4 325.3V330.8M613.7 325.3V332.0M614.6 325.3V338.4" stroke="rgb(150,150,238)" stroke-width="0.5" fill="none" opacity="0.8"/>
<path d="M337 3957l3-10l3-12l3 13l3 1l3-5l3 5l4-3l3 2l3 1l3-5l3 3l3 6l3-7l4 1l3 3l3 2l3-6l3 4l3-2l3-5l3 4l4-5l3 10l3-6l3-1l3-7l3 6l3-2l4 4l3 6l3 1l3-1l3-6l3 4l3-2l4-4l3-3l3 0l3-2l3 10l3 1l3-3l4-5l3 2l3 5l3 0l3 6l3-8l3 8l3-6l4-6l3-1l3 11l3-5l3 1l3 0l3-8l4 3l3 8l3 2l3-7l3-1l3 6l3 4l4-3l3-2l3-6l3 4l3-4l3-4l3 11l3 0l4-10l3 6l3 0l3-5l3 6l3 1l3 6l4-8l3 2l3 0l3 10l3-12l3-3l3 5l4-7l3 14l3-6l3 5l3-17l3 17l3 0l3-2l4-8l3-2l3 1l3 3l3-10l3 10l3-2l4-6l3 10l3 2l3-7l3 0l3 7l3-3l4-9l3 6l3-2l3 2l3 4l3-9l3 0l4-1l3 5l3 1l3 0l3-2l3 3l3 2l3-8l4 8l3 0l3-1l3 1l3 3l3-2l3-8l4 3l3 2l3-11l3 10l3-9l3 0l3 8l4-3l3-1l3-11l3-2l3 5l3 5l3 5l3-9l4 4l3-8l3-4l3-6l3-8l3 1l3-3l4 1l3-10l3-4l3-10l3-5l3 14l3 10l4-18l3-13l3 10l3-21l3 5l3 1l3-8l3 15l4 6l3-15l3 2l3-16l3-9l3 29l3-16l4-26l3 29l3-20l3-78l3 47l3-25l3-5l4 22l3 11l3-30l3-9l3 16l3-11l3 9l4 9l3-13l3 13l3-13l3-65l3 42l3 24l3-3l4-6l3 11l3 24l3-14l3 20l3 12l3-9l4-84l3 28l3 19l3 1l3 12l3 26l3-7l4 14l3-2l3-2l3 10l3 24l3-8l3 1l3 0l4 5l3 12l3 11l3-21l3-7l3 3l3 8l4-18l3 9l3 12l3-4l3 10l3-4l3 4l4 0l3 6l3 8l3-6l3-7l3 18l3 3l3 7l4-15l3 5l3-7l3 13l3-10l3 10l3 3l4-7l3 6l3 4l3-11l3 5l3-9l3-13l4 21l3 6l3 12l3 1l3-13l3-2l3 0l4-1l3 10l3 10l3-17l3 0l3-6l3 7l3-3l4 9l3-1l3 1l3-3l3-9l3 3l3 28l4-11l3-4l3-8l3 3l3 7l3 4l3-2l4 2l3-14l3 1l3 4l3-4l3-10l3 13l3 4l4 3l3 8l3-1l3 2l3-9l3-3l3-3l4 10l3-8l3 10l3-1l3-10l3-3l3 0l4-7l3 5l3 11l3 3l3 5l3-4l3 4l3 1l4 3l3 6l3-25l3 2l3 20l3-9l3 3l4 11l3-8l3-5l3-4l3-4l3 10l3-1l4-4l3-1l3 1l3 2l3-6l3 13l3 6l4-17l3 2l3-3l3 4l3 5l3 3l3-3l3 3l4-1l3 0l3-6l3-1l3-5l3 11l3 1l4-6l3 2l3 17l3-11l3-1l3 2l3 1l4 2l3-10l3-1l3 3l3-4l3-1l3 10l3 5l4 2l3-10l3 2l3-7l3 2l3 5l3 7l4-3l3-14l3 11l3 4l3-1l3-9l3 4l4 8l3 0l3-3l3-2l3-5l3-10l3 3l3 5l4 5l3 6l3-5l3-5l3 0l3 6l3-3l4 4l3 1l3 1l3-1l3 0l3-5l3 3l4 2l3-5l3 0l3-2l3 9l3-7l3 4l4 7l3-2l3 5l3 0l3-3l3-7l3 9l3-5l4 1l3-9l3 4l3-1l3-4l3 11l3 0l4 6l3-1l3-6l3 0l3-2l3 3l3 2l4-1l3 3l3 2l3 3l3-6l3-4l3 6l3-1l4 8l3-2l3-7l3 4l3-6l3 1l3-3l4 4l3 5l3-5l3-5l3 4l3-2l3 4l4 0l3-8l3 4l3 5l3-5l3 1l3 3l3-5l4 15l3-11l3-10l3 4l3 12l3-11l3-9l4 6l3 9l3 2l3-2l3-2l3-6l3 1l4 14l3-5l3-2l3-10l3 8l3 6l3-3l4-3l3 8l3-11l3 2l3-4l3-1l3 1l3-5l4-2l3 8l3 1l3-5l3 2l3 4l3-2l4 4l3-1l3 14l3-14l3-15l3 0l3 0l4 2l3 5l3-7l3-1l3 0l3-3l3 2l3-5l4-7l3-6l3 2l3-6l3 0l3 17l3 2l4-15l3 0l3-17l3 8l3-7l3-4l3-2l4-5l3-11l3-8l3 1l3-11l3-12l3 2l3 3l4-2l3-6l3-5l3-14l3-48l3 3l3 15l4-7l3-6l3-17l3-12l3 35l3-48l3 37l4-7l3 13l3 19l3 8l3-73l3-17l3 41l4 17l3-47l3 32l3-17l3-38l3 14l3-8l3 23l4 48l3 0l3 20l3-116l3 60l3 3l3 20l4 15l3-11l3 14l3 13l3-25l3 12l3 30l4-31l3 34l3-13l3-6l3 12l3 15l3 0l3 2l4 14l3-21l3 15l3 9l3-23l3 22l3 19l4-10l3-3l3 1l3-23l3 25l3-12l3 3l4-5l3 18l3 9l3 4l3-4l3-7l3-9l3 34l4-17l3 2l3 5l3 14l3-9l3 19l3-23l4 14l3-2l3 0l3-6l3 16l3-14l3-1l4-10l3 9l3 7l3 19l3-7l3-20l3 12l4 5l3 0l3-9l3 20l3-24l3 3l3 0l3 7l4-14l3 16l3-5l3 5l3 13l3-4l3-9l4 6l3 3l3-1l3 6l3 5l3-8l3 6l4-10l3-4l3-6l3 1l3 10l3-1l3 12l3-8l4 5l3-13l3 12l3-2l3 6l3-8l3-2l4 11l3-17l3 5l3 16l3 2l3 8l3 4l4-12l3 10l3-14l3 10l3-6l3-16l3 9l3 1l4-8l3 8l3-3l3 9l3 0l3-3l3 0l4 5l3-4l3-4l3-2l3 4l3 8l3-8l4-4l3 12l3 13l3-10l3-11l3-3l3 13l4-12l3 11l3-8l3 6l3-7l3 1l3 6l3-4l4 7l3 1l3 0l3 4l3-10l3-3l3 5l4 7l3-6l3 0l3-3l3 4l3 2l3-8l4 9l3 1l3 10l3-5l3-1l3-1l3-6l3 5l4-4l3 4l3 1l3 10l3-10l3-5l3 8l4 0l3 8l3-6l3 3l3-8l3 1l3-4l4 7l3 7l3-6l3 0l3-13l3 5l3-6l3 4l4 6l3 9l3-4l3-6l3 1l3-1l3 0l4 9l3-6l3 4l3-2l3-9l3 16l3-4l4-5l3-5l3 3l3 7l3-7l3-1l3 12l4-5l3 8l3 7l3-6l3-2l3 6l3-20l3 11l4-6l3-3l3-9l3 10l3-7l3 12l3-1l4 1l3 4l3-6l3-10l3-4l3 6l3 11l4 3l3-7l3-2l3 0l3 4l3 5l3-6l3 1l4-7l3 8l3-5l3-4l3-4l3-2l3 15l4 6l3-5l3 4l3 9l3-16l3-1l3-3l4 3l3-3l3 3l3 2l3-9l3 13l3-4l3 9l4-12l3 5l3 6l3 5l3-6l3-13l3 3l4 12l3 6l3-22l3 9l3 8l3-5l3-4l4-7l3 7l3 5l3-5l3 5l3-4l3 0l4-4l3 6l3 3l3-4l3-3l3 9l3-1l3-5l4 1l3-14l3 3l3-2l3 6l3 1l3 0l4-6l3 5l3-9l3 9l3-7l3 0l3 4l4-12l3-1l3 5l3 5l3-10l3 6l3-8l3 5l4-7l3 3l3-5l3-19l3-9l3 12l3 1l4 10l3-16l3-17l3 10l3 2l3-15l3 1l4-11l3-23l3 1l3-6l3-22l3 10l3-6l3 3l4 9l3-36l3 30l3-16l3 11l3-5l3 4l4-21l3-23l3-28l3 48l3-27l3 0l3 2l4-12l3-13l3 0l3-5l3-50l3 26l3 2l4 33l3-38l3 22l3-2l3 15l3-9l3 16l3-102l4 61l3 12l3 5l3-8l3-16l3-10l3 50l4 21l3-20l3 28l3-27l3-5l3 38l3-16l4-15l3 15l3 21l3 8l3-6l3 20l3-8l3 9l4 13l3 11l3-18l3 18l3-8l3 29l3-12l4-6l3-4l3-7l3 5l3 3l3 13l3 16l4 8l3-1l3-11l3-11l3 5l3 4l3-3l3 12l4-1l3 4l3-1l3 5l3 14l3-4l3 3l4-24l3-4l3 20l3 9l3-4l3 14l3-22l4 6l3 6l3-12l3-5l3 9l3-4l3 24l4 0l3 1l3 8l3-19l3-21l3 27l3 3l3-13l4 8l3 1l3 7l3-7l3 10l3-12l3-1l4 1l3 10l3 0l3-6l3 10l3 4l3 13l4-10l3-6l3-11l3 14l3 7l3-19l3-5l3 17l4 1l3 11l3-10l3-14l3-1l3 15l3-5l4 6l3-5l3 5l3-7l3-7l3 5l3 1l4 1l3-3l3 9l3 1l3 1l3-11l3 5l3 0l4 6l3 10l3-4l3-7l3 4l3 3l3 0l4-6l3-1l3 2l3 8l3 1l3-29l3 16l4 1l3 2l3 13l3-14l3 4l3 8l3-8l4 6l3-3l3 10l3-4l3-7l3 5l3 8l3 0l4-10l3 11l3 3l3-13l3 0l3 1l3 4l4-5l3-4l3 2l3 14l3-10l3 11l3-17l4 8l3-4l3 1l3 6l3-9l3 3l3-10l3 5l4 4l3-12l3 3l3 10l3 8l3-13l3-1l4 0l3 10l3 5l3 4l3-11l3 4l3-3l4 15l3-13l3 6l3 14l3-4l3-11l3-10l3 22l4-1l3-8l3 7l3-4l3 2l3-6l3 7l4-3l3 1l3-5l3 0l3-6l3 2l3-8l4 17l3-2l3-6l3 1l3 16l3-11l3 1l4-16l3 9l3-1l3 8l3-6l3 18l3-4l3-5l4 5l3-12l3 1l3-8l3 14l3 1l3-7l4 4l3-6l3-1l3 7l3-2l3-3l3 1l4 3l3 2l3 0l3-7l3-8l3 16l3 3l3-3l4-9l3 8l3-13l3-5l3 23l3-8l3-2l4 5l3 9l3-8l3 1l3-8l3 0l3 9l4-13l3-3l3 0l3 8l3-2l3 4l3 5l3 8l4-8l3 9l3-11l3 7l3-5l3 0l3 5l4 1l3-2l3-11l3 2l3 4l3-4l3 8l4 5l3-1l3-11l3 4l3-1l3-1l3 3l4-8l3 0l3 8l3 4l3-4l3 3l3-3l3-6l4 2l3-1l3 4l3 2l3 2l3-12l3 7l4-3l3-2l3-3l3 3l3 8l3-19l3 11l4-7l3 7l3-9l3 6l3-16l3 1l3 13l3-19l4 16l3-6l3-15l3 5l3-14l3 4l3 4l4-16l3 2l3 3l3-14l3 4l3 10l3-6l4-38l3-16l3 35l3-18l3-15l3 10l3-12l3 15l4-7l3-25l3 4l3-1l3-1l3 13l3-2l4-12l3-14l3 5l3-49l3 45l3 2l3-10l4-28l3 27l3-26l3 11l3 2l3-26l3-18l4-11l3 41l3-32l3-12l3 12l3 2l3 10l3 9l4-16l3-21l3 33l3 1l3-9l3 43l3-41l4 12l3-14l3 29l3 23l3-3l3-7l3 21l4-21l3 5l3 26l3-14l3 8l3 2l3 9l3 10l4 13l3-13l3-2l3-5l3 17l3-8l3-6l4 26l3-7l3-26l3 26l3 8l3 1l3 8l4-13l3 8l3 5l3 10l3-10l3 4l3 6l3 2l4-19l3 11l3 2l3-9l3 12l3-6l3 18l4-9l3 24l3-13l3 2l3 4l3-16l3-1l4-2l3-6l3 8l3 3l3 7l3-15l3 4l4 17l3 7l3 2l3 1l3-17l3 3l3-5l3 14l4 6l3-15l3 22l3 2l3 8l3-9l3-30l4 18l3-9l3-7l3 17l3 6l3-6l3-4l4 16l3 0l3-19l3 13l3-4l3-7l3 9l3 2l4 4l3 2l3 1l3 8l3-5l3-4l3-8l4 6l3 4l3-18l3 9l3 5l3 4l3-3l4 6l3 0l3 2l3 4l3-4l3 6l3-21l3 14l4-16l3 5l3-2l3-4l3 20l3-15l3 2l4 8l3 5l3-6l3 12l3-19l3 7l3-4l4 3l3 5l3 2l3 4l3-13l3 4l3-2l4 0l3-1l3 1l3-5l3 11l3 7l3-4l3 1l4-3l3-7l3-2l3 3l3 9l3-5l3 1l4-3l3 4l3 3l3-1l3 4l3 3l3-5l4-1l3-6l3 3l3 9l3-12l3-5l3 14l3 3l4-9l3 2l3 11l3-12l3 2l3 0l3-5l4 9l3 4l3-7l3-4l3 4l3-5l3 3l4-3l3 10l3 1l3-8l3 9l3 3l3-4l3 1l4 4l3 5l3-15l3 3l3-7l3 11l3-2l4 1l3-1l3 9l3-12l3 4l3-1l3 6l4-12l3 13l3-14l3 8l3 2l3 3l3-10l4 9l3 3l3 1l3-7l3-2l3 6l3-5l3-7l4 2l3 3l3 8l3-10l3 1l3 11l3 1l4 11l3-14l3 5l3-4l3-9l3 11l3-8l4 4l3 5l3-10l3 1l3 6l3-4l3 4l3 3l4-1l3-8l3 11l3 2l3-10l3 8l3-3l4-1l3 5l3-1l3-3l3-2l3-4l3 1l4-3l3 2l3 5l3-4l3-1l3-2l3 5l3 1l4 1l3 7l3-8l3 3l3 2l3-1l3-13l4 10l3-8l3 15l3-3l3-13l3 5l3 0l4 5l3 9l3-10l3-5l3-2l3-6l3 8l4 0l3 13l3-4l3-4l3-7l3-6l3-1l3 5l4 5l3 1l3 0l3-1l3-7l3 5l3 9l4 0l3-23l3 0l3 10l3 1l3-6l3 0l4-2l3 13l3 0l3-11l3-9l3-2l3-11l3 5l4-2l3-1l3-9l3 7l3-22l3 16l3-12l4-7l3-14l3 18l3 2l3-8l3-18l3-11l4 33l3-19l3-17l3-11l3-8l3 0l3-7l3 23l4-37l3 34l3-27l3-1l3-25l3 10l3-33l4-6l3-12l3-16l3-12l3 20l3-17l3-2l4-9l3 7l3 60l3-31l3-18l3 3l3 5l4-19l3 12l3-28l3-24l3 22l3-11l3 45l3 12l4-10l3 13l3-16l3-206l3 58l3 87l3 7l4 59l3 14l3-19l3 6l3 60l3-24l3-15l4 34l3-5l3-2l3-10l3-16l3 42l3 9l3-35l4-3l3-6l3 27l3-4l3 53l3-22l3 15l4 13l3 2l3-27l3-13l3 23l3 8l3-15l4 20l3-3l3-5l3-7l3 17l3 37l3-17l3-15l4 9l3 5l3 7l3-12l3 0l3-1l3 4l4-12l3 7l3 7l3 14l3-2l3-4l3-16l4 5l3 11l3-7l3 0l3 11l3-5l3 14l4-6l3-21l3 4l3 5l3 0l3 2l3 19l3 0l4 2l3-9l3-7l3-12l3 16l3 15l3-8l4 1l3-2l3 2l3-3l3 8l3-4l3-7l4 5l3-1l3 10l3-9l3 5l3 7l3-1l3 2l4-1l3 3l3-17l3 1l3 4l3 2l3 5l4-5l3 7l3 1l3 7l3-13l3-4l3-1l4 0l3 27l3-9l3-10l3 1l3 16l3-8l3-5l4 7l3 8l3-2l3 18l3-18l3 3l3-3l4-2l3-1l3-12l3 13l3 1l3 14l3-5l4 7l3-16l3 0l3 4l3-8l3 10l3-2l4 4l3 2l3-4l3 2l3-3l3 6l3 5l3-17l4 0l3 6l3-2l3 8l3-7l3 10l3-9l4-2l3 2l3-4l3 4l3-10l3 4l3 15l4 2l3-16l3 9l3-3l3 5l3-11l3-1l3 1l4 9l3 2l3-10l3 9l3 13l3-18l3-2l4 13l3-5l3-4l3 1l3-8l3 0l3 12l4 1l3-6l3-2l3 7l3-6" stroke="rgb(235,80,80)" stroke-width="7" fill="none" stroke-dasharray="20,15" transform="scale(0.1)"/>
<path d="M337 3972l3-23l3-32l3 34l3 4l3-14l3 14l4-10l3 7l3 2l3-13l3 9l3 15l3-19l4 2l3 8l3 5l3-14l3 10l3-6l3-12l3 9l4-11l3 24l3-14l3-4l3-17l3 16l3-5l4 10l3 14l3 3l3-1l3-17l3 12l3-6l4-11l3-8l3 0l3-6l3 28l3 2l3-8l4-12l3 3l3 15l3-1l3 16l3-22l3 22l3-16l4-15l3-3l3 28l3-12l3 3l3 0l3-22l4 8l3 22l3 4l3-19l3-1l3 15l3 10l4-7l3-5l3-16l3 11l3-11l3-10l3 29l3-2l4-25l3 15l3 0l3-12l3 16l3 2l3 15l4-20l3 4l3 1l3 15l3-21l3-8l3 14l4-18l3 33l3-12l3 12l3-44l3 44l3 0l3-5l4-19l3-8l3 3l3 8l3-24l3 24l3-4l4-17l3 28l3 5l3-20l3 0l3 20l3-8l4-25l3 17l3-7l3 6l3 11l3-23l3 0l4-3l3 14l3 3l3-1l3-3l3 8l3 5l3-20l4 21l3 0l3-1l3 1l3 8l3-2l3-21l4 7l3 7l3-28l3 27l3-21l3 1l3 23l4-6l3-2l3-25l3-5l3 15l3 17l3 14l3-19l4 11l3-16l3-6l3-14l3-17l3 7l3-5l4 9l3-23l3-6l3-21l3-6l3 43l3 30l4-40l3-30l3 33l3-47l3 17l3 9l3-12l3 46l4 22l3-33l3 12l3-35l3-15l3 81l3-34l4-62l3 82l3-47l3 21l3 30l3-113l3-41l4 45l3 18l3-75l3-79l3 71l3-10l3 33l4 32l3-29l3 35l3-33l3 26l3 19l3 13l3-40l4-34l3 11l3 61l3-41l3 51l3 28l3-28l4-99l3 12l3 16l3-21l3 16l3 56l3-23l4 32l3-11l3-9l3 22l3 58l3-25l3-2l3-6l4 10l3 26l3 25l3-102l3-3l3 16l3 22l4-47l3 24l3 26l3-11l3 21l3-12l3 8l4-3l3 12l3 18l3-17l3-20l3 44l3 6l3 16l4-41l3 13l3-21l3 32l3-25l3 23l3 6l4-20l3 14l3 10l3-29l3 12l3-24l3-36l4 54l3 15l3 30l3 4l3-36l3-6l3-1l4-4l3 25l3 27l3-47l3 1l3-17l3 17l3-9l4 22l3-2l3 3l3-10l3-23l3 7l3 71l4-29l3-12l3-19l3 6l3 19l3 8l3-5l4 5l3-38l3 2l3 12l3-13l3-26l3 34l3 9l4 9l3 19l3-3l3 4l3-24l3-7l3-10l4 26l3-22l3 27l3-4l3-27l3-9l3 0l4-17l3 12l3 27l3 9l3 13l3-13l3 13l3 2l4 7l3 14l3-64l3 4l3 51l3-24l3 8l4 29l3-21l3-15l3-10l3-12l3 27l3-3l4-13l3-2l3 2l3 5l3-16l3 35l3 15l4-45l3 5l3-9l3 11l3 13l3 6l3-7l3 7l4-4l3-1l3-14l3-4l3-14l3 31l3 0l4-15l3 4l3 44l3-27l3-4l3 6l3 1l4 5l3-26l3-2l3 6l3-11l3-1l3 26l3 12l4 4l3-25l3 3l3-17l3 5l3 12l3 19l4-7l3-39l3 29l3 12l3-5l3-24l3 12l4 19l3 0l3-7l3-5l3-15l3-26l3 7l3 13l4 14l3 15l3-13l3-15l3 2l3 13l3-6l4 11l3 2l3 2l3-3l3 1l3-14l3 8l4 5l3-14l3 0l3-5l3 23l3-20l3 11l4 18l3-5l3 12l3 1l3-7l3-20l3 23l3-13l4 2l3-22l3 10l3-2l3-11l3 29l3 0l4 15l3-3l3-16l3 1l3-7l3 8l3 6l4-4l3 8l3 5l3 9l3-16l3-13l3 17l3-3l4 18l3-2l3-18l3 11l3-18l3 4l3-8l4 9l3 14l3-12l3-14l3 11l3-8l3 11l4 0l3-20l3 9l3 14l3-13l3 1l3 8l3-12l4 33l3-22l3-27l3 11l3 31l3-30l3-24l4 15l3 26l3 4l3-5l3-6l3-14l3 2l4 36l3-12l3-6l3-26l3 20l3 17l3-7l4-10l3 23l3-29l3 6l3-11l3-2l3 1l3-10l4-8l3 24l3 3l3-13l3 6l3 12l3-5l4 10l3-1l3 21l3-18l3-36l3 1l3 1l4 6l3 15l3-14l3 1l3 2l3-7l3 10l3-9l4-14l3-13l3 9l3-12l3 7l3 49l3 10l4-34l3 6l3-38l3 28l3-13l3-4l3 2l4-6l3-20l3-14l3 11l3-20l3-23l3 13l3 18l4 4l3-8l3-4l3-28l3-116l3 16l3 46l4-10l3-7l3-36l3-24l3 98l3-118l3 102l4-11l3 39l3 57l3 23l3-185l3-43l3 113l4 46l3-122l3 86l3-45l3-99l3 35l3-25l3-59l4 174l3 27l3 67l3-79l3 61l3-51l3 15l4 16l3-50l3 31l3 29l3-71l3 25l3 74l4-89l3 84l3-39l3-23l3-74l3 79l3 19l3 15l4 39l3-54l3 35l3 18l3-66l3 53l3 46l4-32l3-12l3-3l3-64l3 62l3-36l3 4l4-81l3 72l3 39l3 15l3-6l3-17l3-25l3 86l4-47l3 4l3 11l3 32l3-24l3 49l3-62l4 35l3-8l3-1l3-19l3 42l3-39l3-2l4-28l3 21l3 18l3 49l3-19l3-54l3 31l4 12l3-3l3-24l3 52l3-63l3 6l3 0l3 16l4-38l3 41l3-13l3 11l3 35l3-13l3-22l4 14l3 7l3-5l3 17l3 11l3-21l3 14l4-26l3-12l3-16l3 2l3 26l3-4l3 30l3-21l4 12l3-33l3 30l3-7l3 16l3-21l3-7l4 29l3-47l3 12l3 42l3 5l3 19l3 11l4-32l3 26l3-38l3 26l3-15l3-44l3 24l3 2l4-22l3 21l3-8l3-45l3 30l3 7l3 10l4 19l3-8l3-11l3-4l3 9l3 21l3-21l4-10l3 28l3 34l3-26l3-29l3-7l3 32l4-31l3 27l3-21l3 16l3-18l3 2l3 13l3-11l4 19l3 2l3 0l3 9l3-26l3-9l3 13l4 20l3-16l3-3l3-6l3 8l3 7l3-24l4 24l3 2l3 26l3-13l3-3l3-3l3-15l3 13l4-11l3 9l3 4l3 23l3-26l3-13l3 21l4 1l3 19l3-15l3 6l3-20l3 1l3-11l4 19l3 19l3-17l3 1l3-35l3 11l3-13l3 9l4 15l3 24l3-11l3-16l3 2l3-3l3 0l4 23l3-15l3 11l3-7l3-23l3 40l3-10l4-13l3-14l3 9l3 16l3-17l3-3l3 32l4-15l3 20l3 7l3-3l3-6l3 9l3-45l3 26l4-14l3-10l3-23l3 26l3-17l3 32l3-5l4 4l3 10l3-15l3-27l3-12l3 15l3 30l4 7l3-17l3-6l3-2l3 11l3 13l3-14l3 1l4-19l3 22l3-13l3-11l3-12l3-4l3 38l4 16l3-12l3 9l3 18l3-38l3-2l3-7l4 8l3-10l3 9l3 4l3-21l3 33l3-11l3 24l4-32l3 12l3 17l3 13l3-16l3-34l3 8l4 29l3 14l3-55l3 24l3 21l3-14l3-11l4-17l3 18l3 13l3-14l3 14l3-10l3-1l4-11l3 18l3 6l3-10l3-7l3 24l3-1l3-13l4 2l3-35l3 9l3-5l3 16l3 3l3 0l4-13l3 14l3-23l3 25l3-17l3 4l3 10l4-28l3-1l3 17l3 14l3-22l3 18l3-18l3 18l4-13l3 12l3-10l3-43l3-21l3 38l3 7l4 34l3-37l3-37l3 35l3 12l3-33l3 12l4-21l3-53l3 11l3-7l3-48l3 35l3-7l3 16l4 35l3-85l3 87l3-32l3 38l3-3l3 18l4-44l3-53l3-64l3 133l3-62l3 8l3 12l4-24l3-28l3 4l3-6l3-127l3 71l3 11l4-12l3-54l3 84l3 10l3 47l3-18l3 40l3 36l4 19l3-50l3-38l3-234l3 16l3 16l3 153l4 63l3-44l3 66l3-76l3-20l3 94l3-48l4-46l3 33l3 48l3-70l3 16l3 68l3-14l3 23l4 34l3 21l3-51l3 41l3-27l3 69l3-35l4-21l3-14l3-23l3 8l3 4l3 30l3 36l4 18l3-6l3-32l3-33l3 10l3 9l3-12l3 28l4-4l3 8l3-5l3 11l3 34l3-13l3 8l4-65l3-14l3 51l3 24l3-14l3 35l3-58l4 14l3 16l3-33l3-16l3 23l3-13l3 62l4 0l3 2l3 20l3-52l3-55l3 70l3 7l3-36l4 20l3 1l3 19l3-19l3 23l3-31l3-5l4 2l3 27l3-3l3-16l3 25l3 11l3 33l4-27l3-17l3-30l3 37l3 18l3-50l3-15l3 43l4 1l3 29l3-27l3-37l3-2l3 37l3-14l4 16l3-16l3 13l3-19l3-19l3 12l3 4l4 1l3-9l3 23l3 3l3 1l3-28l3 13l3-3l4 17l3 25l3-11l3-19l3 9l3 8l3-185l4 66l3 42l3 35l3 34l3 16l3-78l3 42l4 1l3 6l3 33l3-37l3 9l3 21l3-22l4 16l3-9l3 25l3-11l3-18l3 14l3 21l3-3l4-27l3 30l3 7l3-34l3 0l3 2l3 8l4-11l3-11l3 3l3 37l3-26l3 29l3-46l4 20l3-10l3 1l3 17l3-24l3 7l3-28l3 14l4 10l3-31l3 7l3 25l3 21l3-35l3-1l4-1l3 25l3 13l3 9l3-29l3 11l3-9l4 41l3-35l3 15l3 32l3-6l3-29l3-27l3 56l4-1l3-23l3 17l3-10l3 5l3-15l3 19l4-10l3 4l3-13l3-2l3-16l3 6l3-21l4 43l3-5l3-17l3 4l3 41l3-28l3 2l4-42l3 22l3-3l3 23l3-16l3 42l3-7l3-13l4 13l3-32l3 3l3-23l3 36l3 4l3-19l4 10l3-16l3-3l3 19l3-5l3-8l3 1l4 7l3 7l3-2l3-17l3-21l3 41l3 9l3-9l4-25l3 23l3-36l3-12l3 61l3-21l3-7l4 12l3 24l3-21l3 2l3-21l3 1l3 21l4-32l3-9l3 1l3 20l3-5l3 10l3 12l3 22l4-21l3 23l3-28l3 18l3-15l3 1l3 13l4 2l3-5l3-29l3 5l3 10l3-11l3 23l4 12l3-3l3-27l3 8l3-2l3-1l3 7l4-20l3 0l3 21l3 10l3-10l3 8l3-9l3-14l4 4l3 0l3 9l3 7l3 6l3-31l3 18l4-6l3-3l3-7l3 9l3 21l3-48l3 30l4-16l3 20l3-21l3 20l3-40l3 5l3 36l3-46l4 47l3-13l3-34l3 16l3-31l3 13l3 17l4-37l3 11l3 15l3-32l3 16l3 33l3-7l4-95l3-34l3 99l3-39l3-32l3 35l3-23l3 48l4-9l3-58l3 18l3 7l3 4l3 44l3 1l4-23l3-28l3 21l3-123l3 125l3 12l3-19l4-67l3 74l3-62l3 34l3 8l3-63l3-45l4-27l3 108l3-81l3-30l3 29l3 4l3 25l3-81l4 0l3-32l3 97l3 7l3-22l3 110l3-112l4 26l3-41l3 71l3-105l3 58l3 17l3 73l4-50l3 20l3 62l3-41l3 13l3 0l3 19l3 20l4 28l3-40l3-9l3-17l3 39l3-26l3-21l4 64l3-23l3-73l3 66l3 18l3-1l3 16l4-36l3 18l3 8l3 23l3-29l3 9l3 13l3 3l4-51l3 27l3 3l3-28l3 30l3-16l3 46l4-27l3 63l3-36l3 3l3 8l3-41l3-5l4-239l3 89l3 77l3 41l3 36l3-23l3 10l4 44l3 17l3 4l3 1l3-46l3 7l3-14l3 37l4 13l3-40l3 59l3 3l3 21l3-24l3-80l4 46l3-23l3-21l3 43l3 16l3-16l3-13l4 44l3-1l3-52l3 34l3-13l3-17l3 22l3 5l4 9l3 6l3 1l3 22l3-16l3-10l3-23l4 15l3 11l3-47l3 22l3 12l3 10l3-7l4 15l3-2l3 7l3 9l3-11l3 13l3-53l3 36l4-42l3 12l3-6l3-12l3 53l3-42l3 7l4 20l3 12l3-16l3 30l3-50l3 18l3-11l4 8l3 13l3 3l3 10l3-33l3 10l3-5l4-1l3-4l3 3l3-13l3 28l3 16l3-9l3-50l4 17l3-9l3 4l3 10l3 28l3-13l3 1l4-9l3 10l3 10l3-5l3 12l3 7l3-15l4-2l3-16l3 8l3 24l3-32l3-15l3 38l3 5l4-22l3 4l3 28l3-31l3 6l3-2l3-13l4 24l3 9l3-18l3-10l3 9l3-13l3 7l4-7l3 26l3 0l3-19l3 23l3 7l3-12l3 3l4 10l3 14l3-39l3 6l3-18l3 28l3-5l4 2l3-2l3 23l3-32l3 10l3-3l3 16l4-30l3 33l3-37l3 20l3 6l3 7l3-27l4 23l3 8l3 4l3-19l3-7l3 15l3-11l3-19l4 6l3 6l3 22l3-28l3 2l3 30l3 1l4 18l3-24l3 11l3-9l3-25l3 29l3-20l4 8l3 14l3-27l3 2l3 16l3-11l3 12l3 7l4-3l3-20l3 28l3 6l3-27l3 21l3-9l4-1l3 12l3-3l3-9l3-3l3-11l3 2l4-9l3 7l3 10l3-10l3-1l3-6l3 11l3 4l4 1l3 19l3-19l3 8l3 4l3-4l3-33l4 26l3-21l3 39l3-9l3-32l3 11l3 2l4 12l3 23l3-24l3-14l3-7l3-13l3 21l4-1l3 34l3-11l3-10l3-19l3-14l3-2l3 14l4 12l3 4l3 0l3-2l3-16l3 13l3 25l4 2l3-59l3 2l3 26l3 5l3-14l3 1l4-1l3 35l3 3l3-26l3-19l3-2l3-25l3 16l4 1l3 2l3-20l3 24l3-51l3 48l3-28l4-11l3-29l3 55l3 13l3-15l3-37l3-21l4 94l3-39l3-36l3-20l3-11l3 10l3-9l3 70l4-87l3 102l3-61l3 8l3-57l3 38l3-78l4-7l3-20l3-35l3-20l3 61l3-36l3 2l4-18l3 26l3 164l3-77l3-42l3 12l3 16l4-164l3 87l3-41l3-45l3 65l3-22l3 114l3 29l4-29l3 29l3-48l3-285l3 30l3 159l3-27l4 128l3 14l3-57l3 10l3 150l3-70l3-47l4-67l3 47l3 26l3-13l3-36l3 115l3 17l3-99l4-15l3-23l3 67l3-18l3 132l3-64l3 33l4 30l3-1l3-73l3-41l3 58l3 16l3-45l4 49l3-13l3-15l3-139l3 93l3 122l3-29l3-33l4 29l3 11l3 16l3-34l3-3l3-4l3 8l4-33l3 16l3 17l3 35l3-6l3-13l3-43l4 12l3 26l3-19l3-70l3 58l3 3l3 46l4-12l3-50l3 8l3 12l3-1l3 4l3 48l3-1l4 6l3-26l3-19l3-33l3 41l3 38l3-20l4 1l3-6l3 4l3-10l3 22l3-12l3-20l4 12l3-4l3 26l3-24l3 13l3 17l3-3l3 2l4-3l3 7l3-45l3 2l3 10l3 4l3 13l4-14l3 18l3 3l3 15l3-35l3-11l3-1l4-1l3 70l3-25l3-26l3 1l3 42l3-22l3-15l4 19l3 19l3-4l3 39l3-41l3 5l3-8l4-5l3-3l3-32l3 34l3 1l3 36l3-14l4 18l3-43l3 0l3 11l3-23l3 27l3-6l4 9l3 6l3-11l3 4l3-7l3 14l3 14l3-47l4 1l3 14l3-5l3 19l3-17l3 26l3-24l4-7l3 6l3-12l3 10l3-26l3 8l3 40l4 5l3-43l3 22l3-7l3 13l3-30l3-3l3 4l4 21l3 6l3-25l3 22l3 34l3-48l3-7l4 34l3-13l3-10l3 3l3-22l3-1l3 32l4 1l3-16l3-6l3 18l3-16" stroke="rgb(40,40,40)" stroke-width="5" fill="none" transform="scale(0.1)"/>
<polyline points="612,394.5 638,395.5" stroke="rgb(235,110,110)" stroke-width="0.6" fill="none" stroke-dasharray="2,1.5"/>
<polyline points="607,396 612,398 617,399.5 622,399.6 638,399.6" stroke="rgb(90,130,180)" stroke-width="0.5" fill="none"/>
<rect x="31.6" y="323.3" width="606.6" height="78" fill="none" stroke="rgb(150,150,150)" stroke-width="1"/>
<line x1="40" y1="359.3" x2="46" y2="359.3" stroke="rgb(230,120,120)" stroke-width="0.4" stroke-dasharray="1,0.6"/>
<line x1="40" y1="361.6" x2="46" y2="361.6" stroke="#333" stroke-width="0.4"/>
<line x1="40" y1="363.9" x2="46" y2="363.9" stroke="rgb(170,200,230)" stroke-width="0.4"/>
<text x="49.2" y="360.3" font-size="2.4" font-family="Liberation Sans, Arial, sans-serif" fill="#333">sim</text>
<text x="49.2" y="362.6" font-size="2.4" font-family="Liberation Sans, Arial, sans-serif" fill="#333">obs</text>
<text x="49.2" y="364.9" font-size="2.4" font-family="Liberation Sans, Arial, sans-serif" fill="#333">precip</text>
<line x1="28.5" y1="400.2" x2="31.2" y2="400.2" stroke="#888" stroke-width="0.5"/>
<text transform="translate(24.9,400.2) rotate(-90)" text-anchor="middle" font-size="4.3" font-family="Liberation Sans, Arial, sans-serif" fill="#333">0</text>
<line x1="28.5" y1="383.4" x2="31.2" y2="383.4" stroke="#888" stroke-width="0.5"/>
<text transform="translate(24.9,383.4) rotate(-90)" text-anchor="middle" font-size="4.3" font-family="Liberation Sans, Arial, sans-serif" fill="#333">100</text>
<line x1="28.5" y1="366.7" x2="31.2" y2="366.7" stroke="#888" stroke-width="0.5"/>
<text transform="translate(24.9,366.7) rotate(-90)" text-anchor="middle" font-size="4.3" font-family="Liberation Sans, Arial, sans-serif" fill="#333">200</text>
<line x1="28.5" y1="349.9" x2="31.2" y2="349.9" stroke="#888" stroke-width="0.5"/>
<text transform="translate(24.9,349.9) rotate(-90)" text-anchor="middle" font-size="4.3" font-family="Liberation Sans, Arial, sans-serif" fill="#333">300</text>
<line x1="28.5" y1="333.2" x2="31.2" y2="333.2" stroke="#888" stroke-width="0.5"/>
<text transform="translate(24.9,333.2) rotate(-90)" text-anchor="middle" font-size="4.3" font-family="Liberation Sans, Arial, sans-serif" fill="#333">400</text>
<text transform="translate(15.2,362) rotate(-90)" text-anchor="middle" font-size="4.3" font-family="Liberation Sans, Arial, sans-serif" fill="#444">Discharge [m3/s]</text>
<line x1="638.7" y1="325.8" x2="641.4" y2="325.8" stroke="#888" stroke-width="0.5"/>
<text transform="translate(647.4,325.8) rotate(-90)" text-anchor="middle" font-size="4.3" font-family="Liberation Sans, Arial, sans-serif" fill="#333">0</text>
<line x1="638.7" y1="343.2" x2="641.4" y2="343.2" stroke="#888" stroke-width="0.5"/>
<text transform="translate(647.4,343.2) rotate(-90)" text-anchor="middle" font-size="4.3" font-family="Liberation Sans, Arial, sans-serif" fill="#333">20</text>
<line x1="638.7" y1="360.5" x2="641.4" y2="360.5" stroke="#888" stroke-width="0.5"/>
<text transform="translate(647.4,360.5) rotate(-90)" text-anchor="middle" font-size="4.3" font-family="Liberation Sans, Arial, sans-serif" fill="#333">40</text>
<line x1="638.7" y1="377.9" x2="641.4" y2="377.9" stroke="#888" stroke-width="0.5"/>
<text transform="translate(647.4,377.9) rotate(-90)" text-anchor="middle" font-size="4.3" font-family="Liberation Sans, Arial, sans-serif" fill="#333">60</text>
<line x1="638.7" y1="395.2" x2="641.4" y2="395.2" stroke="#888" stroke-width="0.5"/>
<text transform="translate(647.4,395.2) rotate(-90)" text-anchor="middle" font-size="4.3" font-family="Liberation Sans, Arial, sans-serif" fill="#333">80</text>
<text transform="translate(656,362.5) rotate(-90)" text-anchor="middle" font-size="4.3" font-family="Liberation Sans, Arial, sans-serif" fill="#333">Precipitation [mm]</text>
<line x1="43.7" y1="401.8" x2="43.7" y2="404.3" stroke="#888" stroke-width="0.5"/>
<text x="43.7" y="411.5" text-anchor="middle" font-size="4.5" font-family="Liberation Sans, Arial, sans-serif" fill="#333">2011</text>
<line x1="158.2" y1="401.8" x2="158.2" y2="404.3" stroke="#888" stroke-width="0.5"/>
<text x="158.2" y="411.5" text-anchor="middle" font-size="4.5" font-family="Liberation Sans, Arial, sans-serif" fill="#333">2012</text>
<line x1="272.7" y1="401.8" x2="272.7" y2="404.3" stroke="#888" stroke-width="0.5"/>
<text x="272.7" y="411.5" text-anchor="middle" font-size="4.5" font-family="Liberation Sans, Arial, sans-serif" fill="#333">2013</text>
<line x1="387.2" y1="401.8" x2="387.2" y2="404.3" stroke="#888" stroke-width="0.5"/>
<text x="387.2" y="411.5" text-anchor="middle" font-size="4.5" font-family="Liberation Sans, Arial, sans-serif" fill="#333">2014</text>
<line x1="501.7" y1="401.8" x2="501.7" y2="404.3" stroke="#888" stroke-width="0.5"/>
<text x="501.7" y="411.5" text-anchor="middle" font-size="4.5" font-family="Liberation Sans, Arial, sans-serif" fill="#333">2015</text>
<line x1="616.0" y1="401.8" x2="616.0" y2="404.3" stroke="#888" stroke-width="0.5"/>
<text x="616.0" y="411.5" text-anchor="middle" font-size="4.5" font-family="Liberation Sans, Arial, sans-serif" fill="#333">2016</text>
<text x="334.3" y="421.7" text-anchor="middle" font-size="4.5" font-family="Liberation Sans, Arial, sans-serif" fill="#333">Date</text>
</svg>
<svg width="668" height="120" viewBox="0 425 668 120" style="position:absolute;left:0;top:425px">
<line x1="33.5" y1="445" x2="33.5" y2="526.3" stroke="rgb(200,200,200)" stroke-width="0.6"/>
<line x1="33.5" y1="526.3" x2="657.5" y2="526.3" stroke="rgb(200,200,200)" stroke-width="0.6"/>
<text x="32.6" y="448.8" text-anchor="end" font-size="5.1" font-family="Liberation Sans, Arial, sans-serif" fill="#666">800</text>
<text x="32.6" y="468.2" text-anchor="end" font-size="5.1" font-family="Liberation Sans, Arial, sans-serif" fill="#666">600</text>
<text x="32.6" y="487.6" text-anchor="end" font-size="5.1" font-family="Liberation Sans, Arial, sans-serif" fill="#666">400</text>
<text x="32.6" y="507.0" text-anchor="end" font-size="5.1" font-family="Liberation Sans, Arial, sans-serif" fill="#666">200</text>
<text x="32.6" y="526.4" text-anchor="end" font-size="5.1" font-family="Liberation Sans, Arial, sans-serif" fill="#666">0</text>
<text transform="translate(16,488) rotate(-90)" text-anchor="middle" font-size="5" font-family="Liberation Sans, Arial, sans-serif" fill="#666">[mm]</text>
<text x="53.4" y="532.6" text-anchor="middle" font-size="5" font-family="Liberation Sans, Arial, sans-serif" fill="#555">Apr 2011</text>
<text x="85.2" y="532.6" text-anchor="middle" font-size="5" font-family="Liberation Sans, Arial, sans-serif" fill="#555">Jul 2011</text>
<text x="117.0" y="532.6" text-anchor="middle" font-size="5" font-family="Liberation Sans, Arial, sans-serif" fill="#555">Oct 2011</text>
<text x="148.8" y="532.6" text-anchor="middle" font-size="5" font-family="Liberation Sans, Arial, sans-serif" fill="#555">Jan 2012</text>
<text x="180.6" y="532.6" text-anchor="middle" font-size="5" font-family="Liberation Sans, Arial, sans-serif" fill="#555">Apr 2012</text>
<text x="212.5" y="532.6" text-anchor="middle" font-size="5" font-family="Liberation Sans, Arial, sans-serif" fill="#555">Jul 2012</text>
<text x="244.3" y="532.6" text-anchor="middle" font-size="5" font-family="Liberation Sans, Arial, sans-serif" fill="#555">Oct 2012</text>
<text x="276.1" y="532.6" text-anchor="middle" font-size="5" font-family="Liberation Sans, Arial, sans-serif" fill="#555">Jan 2013</text>
<text x="307.9" y="532.6" text-anchor="middle" font-size="5" font-family="Liberation Sans, Arial, sans-serif" fill="#555">Apr 2013</text>
<text x="339.7" y="532.6" text-anchor="middle" font-size="5" font-family="Liberation Sans, Arial, sans-serif" fill="#555">Jul 2013</text>
<text x="371.5" y="532.6" text-anchor="middle" font-size="5" font-family="Liberation Sans, Arial, sans-serif" fill="#555">Oct 2013</text>
<text x="403.3" y="532.6" text-anchor="middle" font-size="5" font-family="Liberation Sans, Arial, sans-serif" fill="#555">Jan 2014</text>
<text x="435.1" y="532.6" text-anchor="middle" font-size="5" font-family="Liberation Sans, Arial, sans-serif" fill="#555">Apr 2014</text>
<text x="466.9" y="532.6" text-anchor="middle" font-size="5" font-family="Liberation Sans, Arial, sans-serif" fill="#555">Jul 2014</text>
<text x="498.8" y="532.6" text-anchor="middle" font-size="5" font-family="Liberation Sans, Arial, sans-serif" fill="#555">Oct 2014</text>
<text x="530.6" y="532.6" text-anchor="middle" font-size="5" font-family="Liberation Sans, Arial, sans-serif" fill="#555">Jan 2015</text>
<text x="562.4" y="532.6" text-anchor="middle" font-size="5" font-family="Liberation Sans, Arial, sans-serif" fill="#555">Apr 2015</text>
<text x="594.2" y="532.6" text-anchor="middle" font-size="5" font-family="Liberation Sans, Arial, sans-serif" fill="#555">Jul 2015</text>
<text x="626.0" y="532.6" text-anchor="middle" font-size="5" font-family="Liberation Sans, Arial, sans-serif" fill="#555">Oct 2015</text>
<path d="M335 4926l8-3l8-4l8-4l8-3l8-6l8-4l8-3l8-6l8-5l8-1l8-4l8-4l8-4l8-4l8-5l8-4l8-5l8-2l8-4l8-5l8 1l8 4l8-2l8 4l8 1l8 2l8 0l8 4l8 2l8 4l8 4l8 4l8 5l8 4l8 6l8 1l8 6l8 13l8 14l8 13l8 13l8 12l8 14l8 23l8 23l8 21l8 19l8 22l8 22l8 17l8 16l8 17l8 15l8 15l8 15l8 18l8 14l8 9l8 3l8 0l8 3l8 2l8 4l8 0l8 0l8 4l8 2l8 1l8 0l8 0l8 0l8 0l8-1l8 1l8-2l8 0l8 1l8 0l8 1l8 0l8 0l8-1l8-1l8 1l8-1l8 0l8 2l8-1l8 1l8 0l8 0l8 0l8 0l8 0l8-1l8 1l8 0l8 0l8-4l8-6l8-6l8-4l8 0l8 0l8 1l8-1l8 1l8-3l8-1l8-5l8 1l8-4l8-2l8 0l8-3l8 1l8-4l8-3l8-1l8-4l8-1l8-4l8-4l8-5l8-3l8-3l8-5l8-4l8-1l8-4l8-5l8-3l8-6l8 0l8-5l8-8l8-12l8-11l8-10l8-13l8-14l8-8l8-13l8-14l8-14l8-8l8-14l8-11l8-13l8-10l8-12l8-13l8-13l8-11l8-12l8-15l8-2l8-4l8-1l8-3l8-2l8-2l8-1l8-5l8-3l8-2l8-3l8-1l8-4l8-1l8-2l8-2l8-4l8-1l8-2l8-6l8-1l8-7l8-7l8-7l8-6l8-6l8-7l8-5l8-7l8-8l8-7l8-5l8-8l8-9l8-10l8-10l8-11l8-10l8-12l8 2l8 6l8 9l8 8l8 7l8 6l8 13l8 11l8 10l8 10l8 11l8 12l8 17l8 29l8 27l8 27l8 29l8 27l8 29l8 26l8 28l8 18l8 16l8 19l8 18l8 17l8 19l8 15l8 18l8 17l8 16l8 8l8 7l8 3l8 7l8 1l8 0l8 0l8 0l8 0l8-1l8 1l8 0l8 0l8 0l8 0l8 0l8-1l8 1l8 0l8 0l8 0l8 0l8-1l8 1l8 0l8 0l8 0l8 0l8 0l8-1l8 1l8 0l8 0l8 0l8-1l8 1l8-1l8 0l8 1l8 0l8-4l8-2l8-6l8 0l8-3l8-5l8-6l8-6l8-7l8-8l8-8l8-8l8-8l8-10l8-7l8-8l8-6l8-10l8-6l8-9l8-6l8-10l8-8l8-8l8-8l8-6l8-11l8-8l8-8l8-7l8-10l8-6l8-8l8-8l8-6l8-7l8-6l8-7l8-5l8-6l8-8l8-6l8-8l8-5l8-6l8-6l8-7l8-6l8-7l8-7l8-4l8-10l8-6l8-5l8-5l8-5l8-5l8-5l8-5l8-4l8-5l8-5l8-6l8-5l8-5l8-3l8-6l8-4l8-5l8-5l8-7l8-3l8-6l8-4l8-7l8-6l8-5l8-5l8-8l8-4l8-5l8-4l8-4l8 9l8 10l8 5l8 10l8 6l8 11l8 24l8 25l8 23l8 23l8 5l8 1l8 4l8 2l8 3l8 1l8-6l8-9l8-6l8-9l8-7l8-6l8 13l8 26l8 25l8 29l8 28l8 25l8 24l8 19l8 21l8 19l8 19l8 21l8 19l8 22l8 17l8 6l8 7l8 6l8 7l8 7l8 6l8 7l8 6l8 7l8 7l8 1l8 0l8 0l8 0l8 0l8 0l8 0l8 0l8 0l8-1l8 1l8 0l8 0l8 0l8 0l8 0l8 0l8 0l8 0l8-2l8 1l8 1l8 0l8-3l8 3l8 0l8 0l8 0l8 0l8 0l8 0l8 0l8 0l8 0l8-1l8-5l8-4l8-2l8-4l8-6l8-4l8-6l8-4l8-6l8-9l8-8l8-9l8-8l8-7l8-8l8-7l8-9l8-7l8-8l8-8l8-7l8-7l8-6l8-5l8-7l8-6l8-7l8-4l8-7l8-11l8-14l8-10l8-14l8-12l8-12l8-11l8-11l8-16l8-15l8-16l8-13l8-15l8-14l8-15l8-15l8-14l8-14l8-14l8-16l8-10l8-7l8-7l8-8l8-4l8-7l8-6l8-9l8-6l8-7l8-6l8-7l8-5l8-2l8-2l8-2l8-1l8-3l8-2l8-1l8-2l8-4l8-1l8-1l8-2l8-4l8-1l8-1l8-1l8-2l8-1l8-2l8-1l8-5l8-1l8 2l8 2l8 4l8 6l8 5l8 5l8 3l8 10l8 10l8 9l8 10l8 9l8 11l8 13l8 32l8 32l8 33l8 29l8 28l8 24l8 26l8 28l8 25l8 27l8 25l8 26l8 13l8 12l8 11l8 14l8 9l8 14l8 10l8 12l8 11l8 12l8 13l8 10l8 4l8 4l8 2l8-1l8 5l8 0l8-2l8 2l8 0l8-1l8 1l8 0l8 0l8 0l8 0l8 0l8 0l8 0l8 0l8 0l8-1l8 1l8 0l8 0l8 0l8 0l8 0l8 0l8 0l8 0l8 0l8-2l8 2l8 0l8-1l8 1l8 0l8-5l8-14l8-11l8-10l8-11l8-11l8-11l8-9l8-6l8-9l8-6l8-10l8-10l8-7l8-8l8-8l8-7l8-6l8-5l8-6l8-5l8-5l8-6l8-6l8-7l8-6l8-4l8-5l8-7l8-5l8-4l8-4l8-8l8-6l8-4l8-6l8-6l8-5l8-8l8-5l8-6l8-5l8-8l8-6l8-5l8-6l8-6l8-6l8-6l8-5l8-7l8-7l8-4l8-9l8-4l8-5l8-8l8-4l8-5l8-6l8-8l8-5l8-8l8-5l8-6l8-6l8-6l8-6l8-8l8-4l8-5l8-2l8-5l8-5l8 0l8 1l8 2l8 1l8 1l8 4l8 3l8-2l8 5l8 20l8 18l8 18l8 16l8 20l8 19l8 18l8 18l8 19l8 22l8 18l8 20l8 20l8 22l8 19l8 20l8 11l8 15l8 11l8 9l8 12l8 15l8 9l8 14l8 9l8 9l8 15l8 11l8 9l8 1l8 3l8 3l8 0l8-1l8 2l8-1l8 1l8 0l8 0l8 0l8-2l8 2l8-1l8 1l8 0l8 0l8 0l8 0l8 0l8 0l8 0l8 0l8 0l8-1l8 1l8-2l8 2l8 0l8 0l8 0l8 0l8 0l8-1l8-1l8 1l8-1l8-4l8-4l8-4l8-6l8-2l8-3l8-4l8-2l8-5l8-11l8-9l8-4l8 8l8 4l8 5l8 8l8-2l8-4l8 0l8 0l8-2l8-3l8 1l8-1l8-5l8-1l8 1l8 3l8 1l8-1l8 0l8 1l8 1l8-1l8 0l8 2l8 1l8 0l8 0l8 0l8 2" stroke="rgb(195,195,195)" stroke-width="8" fill="none" transform="scale(0.1)"/>
<path d="M335 5015l8-1l8 2l8 1l8 0l8-1l8-1l8 0l8 2l8 1l8-2l8-1l8 0l8 3l8-2l8-2l8 2l8-1l8 0l8 0l8 0l8 2l8-1l8-1l8 1l8 0l8-4l8 0l8-2l8-1l8-2l8 0l8-2l8-1l8-3l8 0l8-3l8-1l8 0l8-3l8 2l8-3l8-9l8-3l8-8l8-5l8-6l8-8l8-4l8-6l8-5l8-8l8-4l8-8l8-5l8-7l8-3l8-7l8 0l8-2l8 0l8 0l8-2l8 1l8 4l8 2l8 6l8 4l8 5l8 4l8 4l8 5l8 5l8 3l8 7l8 2l8 4l8 5l8 7l8 7l8 7l8 8l8 10l8 6l8 7l8 11l8 6l8 9l8 8l8 7l8 9l8 7l8 2l8 3l8 3l8 6l8 1l8-5l8-6l8-6l8 5l8 12l8 13l8 5l8-5l8-4l8-7l8-7l8 4l8-2l8-1l8 2l8-1l8-1l8 0l8 0l8 1l8 1l8-1l8 1l8 1l8-3l8 1l8 0l8-1l8 0l8 1l8 1l8-2l8 1l8 1l8-1l8 1l8 0l8 0l8 1l8-1l8-1l8 1l8-2l8 1l8 1l8 0l8 1l8-2l8-2l8 4l8-1l8-2l8 3l8-2l8-2l8 1l8 0l8 3l8-3l8 1l8 0l8 0l8-1l8 1l8 1l8 0l8-2l8 0l8 1l8-1l8 0l8-1l8 4l8-1l8-2l8 2l8 1l8-5l8 2l8 1l8 1l8-1l8 0l8 0l8 2l8 1l8-4l8 0l8 4l8-4l8 0l8 1l8 1l8 0l8-1l8-1l8 2l8-5l8-3l8-8l8-7l8-5l8-2l8-7l8-7l8-4l8-4l8-4l8-8l8-4l8-9l8-10l8-8l8-6l8-9l8-10l8-9l8-7l8-10l8-9l8-9l8-8l8-9l8-5l8-1l8 4l8 2l8 1l8 4l8-2l8 5l8 3l8-2l8 4l8 10l8 8l8 8l8 11l8 9l8 11l8 9l8 8l8 9l8 10l8 11l8 9l8 7l8 1l8 1l8 2l8 4l8 2l8 0l8 2l8 4l8 2l8 2l8 2l8 3l8 2l8 3l8 2l8-2l8-3l8-4l8-2l8-2l8-4l8-2l8-2l8-5l8-3l8 0l8-4l8-1l8-3l8 2l8-2l8-2l8-1l8-1l8-1l8-1l8-2l8 1l8-2l8-1l8 0l8-3l8 4l8-1l8 0l8 0l8-1l8 2l8-2l8 0l8 0l8 1l8 1l8-2l8-1l8 3l8-2l8 2l8-1l8-1l8 0l8 2l8 0l8-1l8 1l8 2l8-3l8-1l8 0l8-1l8 1l8 0l8-1l8 3l8-4l8 1l8 4l8-1l8 0l8 0l8 1l8-1l8-1l8-1l8 1l8-1l8 0l8 0l8 1l8 0l8 1l8-3l8 2l8 2l8-2l8 1l8 0l8 1l8-1l8-3l8 2l8 0l8-2l8 1l8-1l8-2l8-6l8-9l8-9l8-9l8-8l8-8l8-8l8-8l8-9l8-8l8-3l8-3l8-4l8-3l8-2l8-4l8-3l8-7l8-3l8 1l8-4l8-2l8-4l8-3l8-4l8-5l8 0l8-5l8 0l8 0l8 0l8 1l8-1l8 0l8 0l8 0l8 3l8-2l8 2l8 0l8 1l8 7l8 5l8 9l8 9l8 4l8 8l8 6l8 9l8 5l8 11l8 5l8 5l8 11l8 6l8 6l8 6l8 6l8 7l8 8l8 6l8 7l8 6l8 6l8 7l8 6l8 2l8-1l8 1l8 4l8 0l8 2l8-1l8 2l8 1l8 3l8-1l8 4l8-7l8-5l8-8l8-4l8-4l8-9l8-3l8-5l8-3l8 2l8-2l8 2l8-1l8 0l8 2l8-2l8 0l8-3l8 1l8 2l8-1l8-1l8 1l8-2l8 1l8-2l8 2l8-1l8 0l8 0l8 2l8-3l8 0l8 2l8-2l8 3l8-2l8-1l8 1l8 1l8-1l8-1l8 0l8-2l8 0l8 3l8-1l8 0l8 0l8-2l8 1l8-2l8 2l8-2l8 1l8 1l8-1l8 1l8-1l8 0l8 1l8-3l8-1l8 3l8 0l8 1l8-1l8 0l8-3l8 2l8 0l8-2l8 0l8 1l8 0l8-4l8 4l8 0l8-1l8 0l8 0l8-1l8 1l8-1l8-1l8 2l8 1l8-4l8-3l8-5l8-1l8-8l8-5l8-7l8-7l8-8l8-4l8-7l8-9l8-5l8-7l8-5l8-7l8-5l8-7l8-6l8-1l8-4l8-1l8 1l8-2l8-2l8-4l8-1l8 2l8-2l8-2l8-1l8 1l8 6l8 4l8 4l8 2l8 3l8 2l8 6l8 4l8 1l8 4l8 3l8 3l8 1l8 6l8 4l8 1l8 4l8 0l8 9l8 2l8 3l8 3l8 2l8 4l8 4l8 4l8 4l8 5l8 5l8 1l8 6l8 3l8 3l8 2l8 8l8 2l8 4l8 6l8 2l8 5l8 4l8 5l8 4l8 2l8 2l8-5l8-4l8-4l8-3l8-6l8-2l8-3l8-4l8 2l8-3l8 1l8-1l8 0l8 0l8 0l8 1l8-1l8 2l8 1l8-4l8 3l8-1l8 0l8 3l8-2l8-1l8 0l8-3l8 4l8-2l8 1l8 0l8 1l8 1l8-1l8 1l8-2l8 1l8 0l8-3l8 4l8-3l8-1l8 4l8 1l8-4l8 0l8 5l8-4l8-2l8 1l8 3l8-1l8 0l8 0l8 0l8-1l8-2l8 3l8-2l8 1l8 2l8-1l8-1l8 0l8 1l8 0l8-3l8 2l8 2l8-1l8-2l8 0l8-1l8 1l8 3l8-2l8-3l8-8l8-8l8-8l8-8l8-9l8-6l8-7l8-11l8-8l8-6l8-12l8-7l8-2l8-2l8-3l8-3l8-2l8-4l8-3l8-3l8 1l8-6l8 0l8-2l8 1l8 3l8 4l8 4l8 3l8 3l8 7l8 2l8 9l8 8l8 8l8 10l8 10l8 7l8 10l8 9l8 11l8 9l8 9l8 9l8 9l8 8l8 6l8 5l8 4l8 8l8 5l8 6l8 8l8 4l8 4l8 6l8 8l8 0l8-1l8-3l8-3l8 0l8-1l8-3l8-3l8-1l8-2l8-1l8-1l8-1l8-3l8-3l8 0l8-2l8-2l8-1l8-1l8-3l8 1l8-3l8-2l8 0l8-2l8 1l8-3l8-2l8-1l8 0l8 1l8-2l8 1l8-4l8 3l8 0l8-1l8-1l8 1l8-3l8 0l8 1l8 1l8-2l8-1l8 0l8 0l8-2l8-3l8 2l8-1l8 1l8-1" stroke="rgb(210,130,130)" stroke-width="8" fill="none" transform="scale(0.1)"/>
<path d="M335 4770l8 2l8 2l8 3l8 2l8 2l8 2l8 2l8 3l8 2l8 2l8 2l8 2l8 2l8 3l8 2l8 2l8 2l8 2l8 3l8 2l8 2l8 2l8 2l8 3l8 2l8 2l8 1l8 1l8 1l8 0l8 1l8 1l8 1l8 0l8 1l8 1l8 0l8 1l8 1l8 0l8 0l8-7l8-7l8-7l8-7l8-8l8-7l8-7l8-7l8-9l8-9l8-9l8-10l8-9l8-9l8-9l8-9l8-9l8-10l8-9l8-9l8-9l8-9l8-6l8-2l8-3l8-2l8-2l8-3l8-2l8-2l8-2l8-3l8-2l8-2l8-2l8-3l8-2l8 1l8 0l8 1l8 1l8 0l8 1l8 1l8 0l8 1l8 0l8 1l8 1l8 0l8 1l8 1l8 0l8 1l8 1l8 0l8 1l8 1l8 0l8 1l8 1l8 1l8 3l8 3l8 3l8 3l8 3l8 3l8 3l8 3l8 3l8 3l8 3l8 3l8 4l8 3l8 3l8 3l8 2l8 3l8 3l8 2l8 3l8 3l8 2l8 3l8 3l8 2l8 3l8 3l8 2l8 3l8 3l8 2l8 3l8 3l8 2l8 3l8 3l8 2l8 3l8 3l8 2l8 3l8 3l8 2l8 3l8 3l8 2l8 3l8 3l8 2l8 3l8 3l8 2l8 3l8 3l8 3l8 2l8 3l8 3l8 2l8 3l8 3l8 2l8 3l8 3l8 2l8 3l8 3l8 2l8 3l8 3l8 2l8 3l8 3l8 2l8 3l8 3l8 2l8 3l8 3l8 2l8 3l8 3l8 2l8 3l8 3l8 2l8 3l8 3l8 2l8 2l8 0l8 1l8 1l8 0l8 1l8 1l8 1l8 0l8 1l8 1l8 1l8-1l8-3l8-4l8-3l8-3l8-4l8-3l8-3l8-5l8-15l8-15l8-15l8-15l8-15l8-15l8-15l8-15l8-15l8-15l8-15l8-15l8-15l8-15l8-15l8-15l8-5l8 0l8-1l8-1l8-1l8-1l8 0l8-1l8-1l8-1l8-1l8 0l8-1l8 1l8 0l8 1l8 1l8 0l8 1l8 1l8 0l8 1l8 0l8 1l8 1l8 0l8 1l8 1l8 0l8 1l8 0l8 1l8 1l8 0l8 1l8 1l8 0l8 1l8 0l8 1l8 1l8 0l8 1l8 1l8 1l8 4l8 4l8 3l8 4l8 3l8 4l8 4l8 3l8 4l8 3l8 4l8 4l8 3l8 4l8 4l8 3l8 4l8 3l8 4l8 4l8 3l8 4l8 3l8 4l8 3l8 3l8 3l8 2l8 3l8 3l8 3l8 3l8 2l8 3l8 3l8 3l8 3l8 2l8 3l8 3l8 3l8 2l8 3l8 3l8 3l8 3l8 2l8 3l8 3l8 3l8 3l8 2l8 3l8 3l8 3l8 3l8 2l8 3l8 3l8 3l8 2l8 3l8 3l8 3l8 3l8 2l8 3l8 3l8 2l8 3l8 2l8 3l8 3l8 2l8 3l8 0l8-7l8-7l8-7l8-7l8-7l8-7l8-4l8-5l8-5l8-5l8-5l8-5l8-4l8-5l8-5l8-5l8-5l8-5l8-5l8-6l8-5l8-5l8-10l8-12l8-12l8-12l8-12l8-12l8-12l8-12l8-10l8-7l8-7l8-6l8-7l8-7l8-6l8-7l8-6l8-7l8-7l8-6l8-7l8-1l8-2l8-1l8-1l8-1l8-2l8-1l8-1l8-2l8-1l8-1l8-2l8 1l8 1l8 1l8 1l8 0l8 1l8 1l8 1l8 1l8 1l8 1l8 1l8 1l8 1l8 1l8 1l8 1l8 2l8 1l8 1l8 2l8 1l8 1l8 2l8 1l8 2l8 1l8 1l8 2l8 3l8 3l8 4l8 3l8 4l8 3l8 4l8 3l8 3l8 4l8 3l8 4l8 3l8 4l8 3l8 3l8 4l8 3l8 4l8 3l8 4l8 3l8 3l8 4l8 3l8 4l8 3l8 4l8 3l8 4l8 3l8 4l8 4l8 4l8 3l8 4l8 4l8 3l8 4l8 4l8 4l8 3l8 4l8 4l8 3l8 4l8 4l8 4l8 3l8 4l8 4l8 3l8 4l8 4l8 2l8 3l8 2l8 2l8 3l8 2l8 3l8 2l8 3l8 2l8 3l8 2l8 3l8 2l8 3l8 2l8 3l8 2l8 2l8 3l8 2l8 3l8 2l8 3l8 2l8 3l8 1l8 0l8 0l8 0l8 0l8 0l8 0l8 0l8 0l8-3l8-7l8-7l8-8l8-7l8-7l8-7l8-8l8-8l8-12l8-12l8-12l8-12l8-12l8-12l8-12l8-12l8-12l8-12l8-12l8-12l8-8l8-7l8-8l8-7l8-7l8-7l8-7l8-8l8-7l8-7l8-7l8-7l8-5l8-2l8-2l8-2l8-2l8-2l8-2l8-1l8-2l8-2l8-2l8 1l8 0l8 1l8 1l8 1l8 0l8 1l8 1l8 0l8 1l8 1l8 0l8 1l8 1l8 2l8 4l8 3l8 3l8 3l8 3l8 4l8 3l8 3l8 3l8 3l8 4l8 3l8 3l8 3l8 3l8 4l8 3l8 3l8 3l8 3l8 4l8 3l8 4l8 3l8 4l8 3l8 4l8 3l8 3l8 4l8 3l8 4l8 3l8 4l8 3l8 4l8 3l8 3l8 4l8 3l8 4l8 3l8 4l8 3l8 4l8 3l8 3l8 4l8 3l8 4l8 4l8 4l8 4l8 3l8 4l8 4l8 4l8 3l8 4l8 4l8 4l8 3l8 4l8 4l8 4l8 4l8 3l8 4l8 4l8 4l8 3l8 4l8 4l8 4l8 4l8 3l8 4l8 3l8 1l8 1l8 1l8 1l8 1l8 1l8 1l8 1l8 1l8 1l8 1l8 0l8-9l8-9l8-9l8-9l8-9l8-9l8-9l8-9l8-5l8-4l8-5l8-5l8-5l8-4l8-5l8-5l8-8l8-9l8-10l8-9l8-10l8-9" stroke="rgb(135,135,210)" stroke-width="9" fill="none" transform="scale(0.1)"/>
<circle cx="445.9" cy="482.2" r="1" fill="#1a1a8a"/>
<circle cx="445.9" cy="500.3" r="0.9" fill="#9a2020"/>
<circle cx="445.9" cy="467" r="0.8" fill="#888"/>
<rect x="583" y="442" width="55" height="29" fill="rgba(255,255,255,0.75)"/>
<text x="585" y="448.4" font-size="5.2" font-family="Liberation Sans, Arial, sans-serif" fill="#666">May 2, 2014:</text>
<text x="585" y="455.4" font-size="5.2" font-family="Liberation Sans, Arial, sans-serif" fill="#666"><tspan font-weight="bold" fill="#a01818">Soil</tspan>: 268.14</text>
<text x="585" y="462.9" font-size="5.2" font-family="Liberation Sans, Arial, sans-serif" fill="#666"><tspan font-weight="bold" fill="#1a1a7a">Baseflow</tspan>: 441.81</text>
<text x="585" y="469.4" font-size="5.2" font-family="Liberation Sans, Arial, sans-serif" fill="#666"><tspan font-weight="bold" fill="#555">SWE</tspan>: 587.13</text>
</svg>
<svg width="668" height="200" viewBox="0 580 668 200" style="position:absolute;left:0;top:580px">
<rect x="31.4" y="584.1" width="607.5" height="169" fill="none" stroke="rgb(170,170,170)" stroke-width="0.9"/>
<line x1="28.8" y1="729.7" x2="31.4" y2="729.7" stroke="#999" stroke-width="0.4"/>
<text transform="translate(24.6,729.7) rotate(-90)" text-anchor="middle" font-size="3.7" font-family="Liberation Sans, Arial, sans-serif" fill="#444">50</text>
<line x1="28.8" y1="699.5" x2="31.4" y2="699.5" stroke="#999" stroke-width="0.4"/>
<text transform="translate(24.6,699.5) rotate(-90)" text-anchor="middle" font-size="3.7" font-family="Liberation Sans, Arial, sans-serif" fill="#444">100</text>
<line x1="28.8" y1="669.3" x2="31.4" y2="669.3" stroke="#999" stroke-width="0.4"/>
<text transform="translate(24.6,669.3) rotate(-90)" text-anchor="middle" font-size="3.7" font-family="Liberation Sans, Arial, sans-serif" fill="#444">150</text>
<line x1="28.8" y1="639.1" x2="31.4" y2="639.1" stroke="#999" stroke-width="0.4"/>
<text transform="translate(24.6,639.1) rotate(-90)" text-anchor="middle" font-size="3.7" font-family="Liberation Sans, Arial, sans-serif" fill="#444">200</text>
<line x1="28.8" y1="608.9" x2="31.4" y2="608.9" stroke="#999" stroke-width="0.4"/>
<text transform="translate(24.6,608.9) rotate(-90)" text-anchor="middle" font-size="3.7" font-family="Liberation Sans, Arial, sans-serif" fill="#444">250</text>
<text transform="translate(14.3,667.8) rotate(-90)" text-anchor="middle" font-size="4.3" font-family="Liberation Sans, Arial, sans-serif" fill="#444">Simulated discharge [m3/s]</text>
<line x1="30.9" y1="729.7" x2="30.9" y2="608.9" stroke="rgb(160,160,160)" stroke-width="0.9"/>
<line x1="53.2" y1="753.6" x2="581.2" y2="753.6" stroke="rgb(160,160,160)" stroke-width="0.9"/>
<line x1="53.2" y1="753.4" x2="53.2" y2="756" stroke="#999" stroke-width="0.4"/>
<text x="53.2" y="762.8" text-anchor="middle" font-size="3.3" font-family="Liberation Sans, Arial, sans-serif" fill="#777">274</text>
<line x1="101.2" y1="753.4" x2="101.2" y2="756" stroke="#999" stroke-width="0.4"/>
<text x="101.2" y="762.8" text-anchor="middle" font-size="3.3" font-family="Liberation Sans, Arial, sans-serif" fill="#777">305</text>
<line x1="149.2" y1="753.4" x2="149.2" y2="756" stroke="#999" stroke-width="0.4"/>
<text x="149.2" y="762.8" text-anchor="middle" font-size="3.3" font-family="Liberation Sans, Arial, sans-serif" fill="#777">336</text>
<line x1="197.2" y1="753.4" x2="197.2" y2="756" stroke="#999" stroke-width="0.4"/>
<text x="197.2" y="762.8" text-anchor="middle" font-size="3.3" font-family="Liberation Sans, Arial, sans-serif" fill="#777">1</text>
<line x1="245.2" y1="753.4" x2="245.2" y2="756" stroke="#999" stroke-width="0.4"/>
<text x="245.2" y="762.8" text-anchor="middle" font-size="3.3" font-family="Liberation Sans, Arial, sans-serif" fill="#777">32</text>
<line x1="293.2" y1="753.4" x2="293.2" y2="756" stroke="#999" stroke-width="0.4"/>
<text x="293.2" y="762.8" text-anchor="middle" font-size="3.3" font-family="Liberation Sans, Arial, sans-serif" fill="#777">63</text>
<line x1="341.2" y1="753.4" x2="341.2" y2="756" stroke="#999" stroke-width="0.4"/>
<text x="341.2" y="762.8" text-anchor="middle" font-size="3.3" font-family="Liberation Sans, Arial, sans-serif" fill="#777">94</text>
<line x1="389.2" y1="753.4" x2="389.2" y2="756" stroke="#999" stroke-width="0.4"/>
<text x="389.2" y="762.8" text-anchor="middle" font-size="3.3" font-family="Liberation Sans, Arial, sans-serif" fill="#777">125</text>
<line x1="437.2" y1="753.4" x2="437.2" y2="756" stroke="#999" stroke-width="0.4"/>
<text x="437.2" y="762.8" text-anchor="middle" font-size="3.3" font-family="Liberation Sans, Arial, sans-serif" fill="#777">156</text>
<line x1="485.2" y1="753.4" x2="485.2" y2="756" stroke="#999" stroke-width="0.4"/>
<text x="485.2" y="762.8" text-anchor="middle" font-size="3.3" font-family="Liberation Sans, Arial, sans-serif" fill="#777">187</text>
<line x1="533.2" y1="753.4" x2="533.2" y2="756" stroke="#999" stroke-width="0.4"/>
<text x="533.2" y="762.8" text-anchor="middle" font-size="3.3" font-family="Liberation Sans, Arial, sans-serif" fill="#777">218</text>
<line x1="581.2" y1="753.4" x2="581.2" y2="756" stroke="#999" stroke-width="0.4"/>
<text x="581.2" y="762.8" text-anchor="middle" font-size="3.3" font-family="Liberation Sans, Arial, sans-serif" fill="#777">249</text>
<text x="334.4" y="773" text-anchor="middle" font-size="4.1" font-family="Liberation Sans, Arial, sans-serif" fill="#444">Day of Year</text>
<path d="M532 7237l31 2l31 2l31 3l31 2l31 2l31 2l31 2l31 2l31 2l31 1l31 2l31 2l30 2l31 3l31 4l31 3l31 3l31 3l31 3l31 4l31 3l31 3l31 3l31 3l31 3l31-15l31-33l31-33l31 21l31 19l31 16l31 15l31 13l31 11l31 10l31 9l31 8l30 8l31 7l31 6l31 7l31 6l31 6l31 5l31 6l31 6l31 5l16 3" stroke="rgb(130,172,212)" stroke-width="5.5" fill="none" stroke-dasharray="20,14" opacity="0.9" transform="scale(0.1)"/>
<path d="M2003 7407l31 5l31 4l30 1l31 2l31 1l31 1l31 2l31 1l31 1l31 2l31 1l31 1l31 2l31 1l31 1l31 2l31 1l31 1l31 1l31 2l31 1l31 1l31 2l31 1l31 1l31 1l31 2l30 1l31 1l31 1l31 1l31 1l31 1l31 1l31 1l31 1l31 1l31 1l31 1l31 1l31 2l31 1l31 1l31 1l31 1l31 0l31 0l31 1l31-19l31-27l15-9l16-24l15 6l16-35l15-3l15 9l16-36l15-75l16-45l15 8l16-43l15 5l16-14l15-25l16 87l15-54l16 15l15-9l16 34l15 27l16-14l15-124l16-156l15-15l16-91l15 20l16 130l15-50l16-62l15 15l15-46l16-58l15 66l16 98l15-26l16-22l15-6l16-116l15-149l16 63l15-46l16-56l15-24l16-47l15 104l16-14l15-109l16 22l15 132l16 4l15-43l16 39l15 100l16-78l15 146l15-16l16 25l15 99l16-92l15-11l16 87l15-57l16 14l15 90l16-29l15-104l16-80l15 59l16 53l15 18l16 54l15-36l16 33l15 19l16 2l15 89l16 48l15-79l16 4l15 37l15-3l16 40l15-7l16 43l15-13l16 80l15-78l16 31l15 73l16-8l15 2l16-22l15 43l16-36l15-168l16 92l15-2l16 27l15 0l16 85l15 36l16-40l15-9l16-75l15 41l15-6l16-114l15 63l16 51l15 4l16 1l15-35l16-1l15 30l16-20l15-114l16-42l15 111l16-7l15 63l16-9l15 23l16-60l15-7l16-3l15 24l16 26l15 6l16-29l15 6l15 36l16-30l15 16l16 22l15 42l16 23l15 21l16 91l15-66l16-32l15 2l16-41l15-9l16-5l15 95l16-6l15-31l16-60l15-52l16-24l15 69l16 88l15-28l16-3l15-33l15 12l16-3l15 56l16-23l15 12l16-17l15-16l16 7l15-9l16 4l15-22l16-8" stroke="rgb(130,172,212)" stroke-width="5.5" fill="none" stroke-dasharray="20,16" opacity="0.9" transform="scale(0.1)"/>
<path d="M532 7165l31 6l31 5l31 6l31 5l31 5l31 4l31 4l31 5l31 3l31 4l31 4l31 3l30 4l31 5l31 5l31-11l31-95l31-96l31 7l31 51l31 41l31 32l31 26l31 21l31-35l31-87l31-88l31 66l31 52l31 41l31 34l31 29l31 23l31 20l31 16l31 15l31 12l30 10l31 10l31 9l31 8l31 7l31 7l31 7l31 6l31 6l31 6l16 3" stroke="rgb(132,170,210)" stroke-width="5.5" fill="none" stroke-dasharray="20,14" opacity="0.9" transform="scale(0.1)"/>
<path d="M2003 7386l31 6l31 3l30 2l31 2l31 1l31 2l31 1l31 1l31 2l31 1l31 2l31 1l31 1l31 2l31 1l31 1l31 2l31 1l31 1l31 2l31 1l31 1l31 1l31 2l31 1l31 1l31 2l30 1l31 1l31 1l31 1l31 1l31 1l31 1l31 1l31 1l31 1l31 1l31 1l31 1l31 1l31 2l31 1l31 1l31 1l31 0l31 0l31 1l31 0l31-7l15 7l16 1l15-10l16-89l15-4l15-49l16-24l15-10l16-47l15-83l16 41l15-48l16-35l15 53l16-116l15-120l16 61l15-114l16 6l15 14l16-102l15 0l16-11l15-98l16-64l15-25l16 154l15 132l16-116l15 75l15-33l16 75l15-19l16 80l15-179l16 93l15-4l16 5l15-110l16 136l15-10l16 9l15-49l16-30l15 53l16-12l15 39l16-32l15 22l16 58l15-1l16-26l15-151l16 84l15 9l15-70l16 189l15 118l16 52l15-30l16-185l15-3l16-52l15 53l16 178l15 123l16-109l15-29l16 67l15-90l16 88l15-86l16-80l15 66l16 70l15-55l16 66l15-56l16 70l15-53l15-1l16 28l15 46l16-24l15 92l16-13l15-3l16-55l15 56l16-103l15 22l16 58l15-78l16-69l15 36l16 62l15 3l16 36l15 10l16-77l15-4l16 9l15-2l16 18l15-27l15-21l16 40l15 9l16-93l15 17l16 39l15-67l16 37l15 74l16-22l15 48l16 17l15-27l16-5l15 14l16-7l15-17l16-102l15-23l16 23l15-40l16 76l15-25l16-11l15 51l15 89l16-8l15-14l16-22l15 19l16-29l15-30l16 74l15-41l16 18l15 43l16 22l15-67l16-16l15 94l16-1l15 8l16 8l15 18l16 49l15-51l16 29l15 0l16 8l15 9l15-49l16-26l15 17l16 19l15-8l16-67l15-29l16-37l15-21l16 46l15 17l16 89" stroke="rgb(132,170,210)" stroke-width="5.5" fill="none" stroke-dasharray="20,16" opacity="0.9" transform="scale(0.1)"/>
<path d="M532 7213l31 3l31 3l31-53l31-76l31-50l31 44l31 35l31 27l31 22l31 17l31 14l31 11l30-18l31-42l31-40l31 35l31 28l31 22l31 19l31 14l31 13l31 10l31 8l31 8l31 6l31 6l31 5l31 4l31 5l31 3l31 5l31 6l31 6l31 6l31 6l31 5l31 6l30 6l31 5l31 5l31 6l31 5l31 6l31 5l31 5l31 6l31 5l16 3" stroke="rgb(134,169,208)" stroke-width="5.5" fill="none" stroke-dasharray="20,14" opacity="0.9" transform="scale(0.1)"/>
<path d="M2003 7393l31 5l31 3l30 2l31 1l31 1l31 2l31 1l31 1l31 2l31 1l31 1l31 1l31 2l31 1l31 1l31 2l31 1l31 1l31 2l31 1l31 1l31 1l31 2l31 1l31 1l31 2l31 1l30 1l31 1l31 1l31 1l31 1l31 1l31 1l31 1l31 1l31 1l31 2l31 1l31 1l31 1l31 1l31 1l31 1l31 1l31 0l31 0l31 1l31 0l31 0l15 0l16 1l15 0l16 0l15 0l15 0l16 0l15-1l16 0l15 0l16-1l15 0l16-23l15 21l16 1l15-1l16-16l15-18l16-45l15-26l16 7l15-8l16-46l15-40l16-30l15-133l16 2l15-20l16 35l15-9l15-59l16-53l15-5l16-42l15-16l16 107l15 172l16-245l15-96l16-20l15 95l16 30l15-185l16 149l15-95l16-194l15-133l16-204l15-80l16-105l15 242l16 221l15 38l16-58l15 68l15-33l16 85l15 99l16-119l15-115l16-106l15 136l16 174l15 130l16 38l15-21l16-10l15 106l16-20l15-9l16-18l15-17l16-17l15-28l16 46l15 32l16 72l15 1l16 28l15 119l15-35l16 11l15-46l16 19l15 12l16-4l15 9l16 27l15 78l16-94l15 74l16 5l15-36l16-14l15-16l16-19l15-32l16 15l15-86l16 85l15 17l16 35l15 34l16-4l15-44l15 45l16 34l15-23l16-11l15-55l16-8l15 22l16 35l15 8l16 20l15 54l16-4l15 3l16 5l15 11l16-58l15-11l16-16l15 37l16 39l15 8l16-10l15 11l16 4l15-31l15-3l16 36l15 10l16 15l15-13l16 30l15-6l16-29l15-3l16 25l15 11l16-13l15-19l16-24l15 10l16 39l15-45l16-3l15-4l16-1l15 36l16 7l15-9l16-28l15 6l15 88l16-10l15-23l16-41l15-16l16-58l15-15l16-9l15 4l16 63l15-11l16-1" stroke="rgb(134,169,208)" stroke-width="5.5" fill="none" stroke-dasharray="20,16" opacity="0.9" transform="scale(0.1)"/>
<path d="M532 7192l31 0l31 0l31 0l31 0l31 0l31 0l31 0l31 1l31 0l31 0l31 1l31 0l30 1l31 3l31 2l31 2l31 3l31 2l31 2l31 3l31 2l31 2l31 3l31 2l31 3l31 2l31 3l31 2l31 2l31 3l31 4l31 5l31 5l31 5l31 5l31 5l31 5l30 5l31 6l31 5l31 5l31 5l31 5l31 5l31 5l31 5l31 6l16 2" stroke="rgb(136,168,206)" stroke-width="5.5" fill="none" stroke-dasharray="20,14" opacity="0.9" transform="scale(0.1)"/>
<path d="M2003 7324l31 5l31 3l30 2l31 1l31 1l31 1l31 1l31 2l31 1l31 1l31 1l31 2l31 1l31 1l31 1l31 2l31 1l31 1l31 1l31 2l31 1l31 1l31 1l31 2l31 1l31 1l31 1l30 1l31 1l31 1l31 2l31 1l31 1l31 1l31 1l31 1l31 1l31 1l31 1l31 1l31 1l31 1l31 1l31 1l31 1l31 0l31 0l31 1l31 0l31 0l15 1l16 0l15 0l16 0l15 0l15 3l16 4l15 3l16 3l15 4l16 3l15 3l16 3l15 3l16 3l15 4l16 3l15 3l16 3l15 3l16-42l15-12l16-38l15-63l16-47l15-51l16-41l15 60l16-59l15-19l15-1l16 38l15 52l16 16l15-46l16 22l15-4l16-18l15-91l16-17l15-25l16-117l15 14l16-52l15 69l16-44l15-21l16-22l15 28l16 61l15-8l16 6l15-110l16-74l15 102l15-62l16 36l15-45l16 40l15 118l16-99l15-28l16 106l15 128l16-2l15 47l16-20l15-80l16-111l15 41l16-79l15-41l16 73l15 132l16-54l15-23l16-116l15-28l16 19l15-34l15 129l16 29l15 49l16-69l15 13l16 197l15-79l16 57l15-40l16 32l15-10l16-27l15 1l16 51l15-71l16-12l15 4l16-37l15 15l16-45l15 43l16 28l15 23l16 69l15 63l15-8l16-10l15-45l16 2l15 62l16-15l15-20l16-21l15 10l16 65l15-37l16 41l15-15l16 65l15-33l16 30l15-41l16-52l15-19l16 65l15 41l16 29l15-29l16-11l15-2l15-7l16-13l15-14l16-43l15 19l16 4l15 62l16 23l15-9l16-2l15-58l16-86l15-45l16-37l15 52l16 11l15 17l16-32l15-40l16-59l15-94l16 86l15 78l16 13l15 61l15 23l16 38l15 42l16 33l15 34l16 3l15 19l16 10l15-36l16 9l15-27l16 4" stroke="rgb(136,168,206)" stroke-width="5.5" fill="none" stroke-dasharray="20,16" opacity="0.9" transform="scale(0.1)"/>
<path d="M532 7072l31 13l31 12l31 12l31 10l31 11l31 9l31 9l31 8l31 8l31 8l31 7l31 6l30 8l31 7l31 8l31 7l31 7l31 7l31 6l31 6l31 6l31 5l31 6l31 5l31 5l31-43l31-94l31-93l31 57l31 47l31 38l31 33l31 26l31 22l31 19l31 16l31 13l30 12l31 11l31 9l31 9l31 8l31 7l31 7l31 7l31 7l31 6l16 3" stroke="rgb(138,167,205)" stroke-width="5.5" fill="none" stroke-dasharray="20,14" opacity="0.9" transform="scale(0.1)"/>
<path d="M2003 7395l31 6l31 4l30 2l31 1l31 2l31 2l31 1l31 2l31 1l31 2l31 1l31 2l31 1l31 2l31 1l31 1l31 2l31 1l31 2l31 1l31 1l31 2l31 1l31 1l31 2l31 1l31 1l30 2l31 1l31 1l31 1l31 1l31 1l31 1l31 1l31 1l31 1l31 1l31 1l31 1l31 1l31 1l31 2l31 1l31 1l31 0l31 0l31 1l31 0l31 0l15 0l16 0l15 1l16 0l15 0l15-18l16 9l15-27l16-11l15 4l16-18l15-16l16-47l15 21l16-25l15-16l16-92l15 22l16-76l15 55l16-55l15-28l16-54l15 11l16 78l15 36l16-155l15-57l16 25l15-110l15 31l16 20l15 51l16-154l15-187l16 94l15-35l16-90l15-171l16 267l15-25l16-67l15 143l16-68l15-32l16-72l15 85l16-25l15 78l16-47l15 9l16 56l15 132l16-155l15-64l15-24l16 108l15 58l16-108l15-5l16 117l15 24l16 13l15 37l16 80l15-87l16-16l15 42l16 121l15 28l16-13l15-61l16 32l15-62l16 14l15 63l16 163l15 31l16 40l15-42l15-55l16-95l15 5l16 65l15-130l16 9l15 37l16 28l15 75l16-39l15-15l16-67l15-25l16-6l15-21l16 55l15 49l16 20l15 67l16 3l15 11l16-33l15 5l16 83l15-18l15-69l16 81l15 18l16-18l15 41l16 0l15-23l16 36l15-34l16-30l15 42l16-17l15-52l16 9l15-16l16-19l15 19l16-31l15 0l16 50l15-18l16-25l15-17l16 39l15-11l15-40l16 8l15-28l16-27l15 23l16-12l15 19l16-40l15 0l16 1l15-35l16-7l15 31l16 19l15 66l16 30l15-15l16-21l15-10l16-102l15-38l16-7l15-55l16-92l15-67l15 140l16 78l15 60l16-22l15 112l16-25l15 36l16-8l15 34l16 10l15-23l16 17" stroke="rgb(138,167,205)" stroke-width="5.5" fill="none" stroke-dasharray="20,16" opacity="0.9" transform="scale(0.1)"/>
<path d="M532 7148l31 6l31 6l31 5l31-42l31-58l31-32l31 37l31 29l31 24l31 19l31 16l31 12l30 12l31 10l31 9l31 8l31 7l31 7l31 6l31-111l31-111l31-19l31 61l31 48l31 38l31 31l31 25l31 20l31 16l31 13l31 12l31 12l31 11l31 9l31 9l31 8l31 7l30 7l31 7l31 6l31 6l31 6l31 6l31 6l31 6l31 5l31 6l16 2" stroke="rgb(140,166,203)" stroke-width="5.5" fill="none" stroke-dasharray="20,14" opacity="0.9" transform="scale(0.1)"/>
<path d="M2003 7371l31 6l31 3l30 2l31 1l31 2l31 1l31 1l31 2l31 1l31 2l31 1l31 1l31 2l31 1l31 1l31 1l31 2l31 1l31 1l31 2l31 1l31 1l31 2l31 1l31 1l31 2l31 1l30 1l31 1l31 1l31 1l31 1l31 1l31 1l31 1l31 1l31 1l31 1l31 1l31 2l31 1l31 1l31 1l31 1l31 1l31 0l31 0l31 1l31 0l31 0l15 0l16 1l15 0l16 0l15 0l15 1l16 1l15 0l16 1l15 1l16 0l15 1l16 1l15 0l16 1l15 0l16 1l15 1l16 0l15 1l16 0l15 1l16 1l15-1l16-24l15-28l16 24l15-86l16-20l15-20l15 38l16-48l15-37l16-7l15-33l16-72l15 4l16 24l15-85l16-22l15 0l16-129l15 6l16 19l15-12l16 26l15-18l16-12l15 37l16 3l15-35l16-33l15-40l16-45l15-1l15-20l16 53l15 41l16-50l15 154l16-31l15-187l16 157l15-79l16 122l15-34l16-101l15-79l16 49l15 30l16-7l15 13l16 90l15 50l16 28l15 17l16 10l15 28l16 96l15-57l15 135l16-62l15 29l16 8l15 19l16 9l15-5l16 8l15 36l16-43l15 21l16-52l15 15l16 32l15-15l16-26l15 43l16 12l15-48l16 45l15 29l16-10l15 37l16 66l15 25l15-44l16-41l15-28l16-15l15 39l16-28l15-34l16 29l15-26l16 19l15-2l16-7l15 48l16-49l15 28l16-1l15 8l16-22l15-20l16-7l15-49l16-14l15-2l16 52l15-51l15-1l16 54l15 41l16-9l15-18l16-36l15-7l16 45l15 8l16 49l15-19l16-4l15 23l16 4l15 6l16 16l15-40l16-76l15 3l16-4l15 20l16 29l15-45l16 33l15 5l15 18l16-6l15 13l16-7l15 42l16 2l15-36l16 35l15 16l16-39l15-5l16-21" stroke="rgb(140,166,203)" stroke-width="5.5" fill="none" stroke-dasharray="20,16" opacity="0.9" transform="scale(0.1)"/>
<path d="M532 7266l31-1l31-1l31 0l31-48l31-53l31-19l31 26l31 20l31 15l31 13l31 9l31 8l30 7l31 6l31-51l31-56l31-16l31 34l31 27l31 22l31 17l31 14l31 11l31 10l31 8l31 6l31 6l31 5l31 5l31 4l31 5l31 6l31 5l31 6l31 5l31 6l31 5l30 5l31 6l31 5l31 5l31 5l31 6l31 5l31 5l31 5l31 5l16 3" stroke="rgb(142,164,201)" stroke-width="5.5" fill="none" stroke-dasharray="20,14" opacity="0.9" transform="scale(0.1)"/>
<path d="M2003 7387l31 5l31 3l30 2l31 1l31 1l31 1l31 1l31 2l31 1l31 1l31 2l31 1l31 1l31 1l31 2l31 1l31 1l31 1l31 2l31 1l31 1l31 1l31 2l31 1l31 1l31 1l31 2l30 1l31 1l31 1l31 1l31 1l31 1l31 1l31 1l31 1l31 1l31 1l31 1l31 1l31 1l31 1l31 1l31 1l31 1l31 1l31 0l31 0l31 1l31 0l15 0l16 0l15 0l16 1l15 0l15-10l16-40l15-35l16 18l15-15l16-41l15-8l16-50l15-34l16-45l15-19l16-39l15-50l16 49l15 7l16 7l15-165l16-57l15-61l16-43l15 11l16 20l15-125l16 0l15-189l15-26l16-17l15 12l16-11l15-26l16-195l15-253l16 210l15-12l16-69l15 145l16 73l15 48l16 300l15-153l16-22l15-5l16-19l15-28l16-242l15 60l16-21l15 125l16 2l15 63l15 22l16 74l15 25l16-46l15-5l16 29l15 121l16 13l15 240l16-93l15 13l16-10l15-67l16 69l15-42l16 68l15-12l16 57l15-1l16-68l15 82l16 60l15 30l16-12l15-144l15 83l16 142l15 31l16 74l15 1l16-26l15 31l16 10l15 66l16-49l15 9l16-78l15-54l16 48l15 13l16-9l15-38l16 76l15-15l16-94l15 7l16-13l15-9l16 29l15-79l15-42l16 49l15 16l16 11l15 111l16-7l15 35l16-1l15 31l16 28l15-45l16 0l15 8l16 5l15-13l16-10l15 69l16-8l15-39l16-77l15-96l16 76l15-34l16 36l15 15l15 45l16 37l15-40l16 24l15 15l16-30l15-42l16 74l15 12l16 3l15-58l16-66l15 30l16 6l15-15l16-26l15 21l16-30l15 14l16 56l15-20l16-58l15-36l16 51l15 45l15 29l16 125l15-26l16-36l15 98l16-42l15-3l16-51l15-3l16 14l15-1l16-26" stroke="rgb(142,164,201)" stroke-width="5.5" fill="none" stroke-dasharray="20,16" opacity="0.9" transform="scale(0.1)"/>
<path d="M532 7153l31 6l31 5l31 6l31 5l31 4l31 5l31 4l31 4l31 4l31 4l31 3l31 3l30 4l31 5l31 5l31 4l31 5l31 4l31 4l31 4l31 4l31 4l31 4l31 4l31 3l31 4l31 3l31 4l31 3l31 4l31 4l31 6l31 6l31 6l31 5l31 6l31 6l30 5l31 6l31 5l31 6l31 5l31 6l31 5l31 6l31 5l31 6l16 2" stroke="rgb(144,163,199)" stroke-width="5.5" fill="none" stroke-dasharray="20,14" opacity="0.9" transform="scale(0.1)"/>
<path d="M2003 7374l31 6l31 3l30 1l31 2l31 1l31 1l31 2l31 1l31 2l31 1l31 1l31 2l31 1l31 1l31 1l31 2l31 1l31 1l31 2l31 1l31 1l31 2l31 1l31 1l31 2l31 1l31 1l30 1l31 1l31 1l31 1l31 2l31 1l31 1l31 1l31 1l31 1l31 1l31 1l31 1l31 1l31 1l31 1l31 1l31 1l31 0l31 1l31 0l31 0l31 1l15 0l16 0l15 0l16 0l15 0l15 1l16 1l15 0l16 1l15 1l16 0l15-14l16-21l15-25l16-41l15-16l16-9l15-26l16-1l15-30l16 48l15-89l16 1l15-46l16-35l15-26l16-27l15-26l16 65l15-12l15-117l16 37l15 28l16-196l15-99l16-111l15 25l16-7l15-50l16-26l15 29l16 136l15 40l16 96l15-196l16 34l15 6l16-37l15-5l16-51l15 57l16 112l15-202l16 43l15-6l15-4l16-59l15 18l16-16l15 124l16-16l15 51l16-60l15 144l16 13l15-30l16 125l15-7l16-5l15 62l16 9l15-69l16-1l15 43l16 20l15-23l16-65l15-19l16-9l15-54l15 136l16 90l15 109l16-96l15 89l16-66l15-106l16 12l15-48l16 55l15-6l16 108l15-8l16-22l15 12l16 10l15-42l16 18l15 25l16 35l15-17l16 29l15-17l16 12l15-34l15 57l16 7l15-5l16-5l15-32l16 7l15-14l16-50l15 7l16 80l15 73l16-24l15 23l16-8l15 12l16-44l15-29l16 64l15-2l16 19l15 51l16-31l15 6l16-16l15-81l15-19l16-7l15 47l16 61l15-35l16 26l15 8l16 20l15 0l16-74l15 33l16 24l15 3l16 0l15 47l16 53l15 2l16-9l15 10l16 15l15 9l16-11l15-16l16 32l15-9l15-36l16-14l15 23l16-17l15-27l16-52l15 22l16-64l15 21l16 15l15-2l16 43" stroke="rgb(144,163,199)" stroke-width="5.5" fill="none" stroke-dasharray="20,16" opacity="0.9" transform="scale(0.1)"/>
<path d="M532 7083l31 7l31 7l31 7l31 6l31 6l31 6l31 5l31-53l31-90l31-71l31 54l31 44l30 35l31 30l31 12l31-63l31-65l31 15l31 50l31 40l31 32l31 25l31 21l31 17l31 14l31 12l31 10l31 8l31 7l31 7l31 7l31 8l31 7l31 7l31 7l31 6l31 6l30 6l31 6l31 6l31 6l31 6l31 5l31 6l31 6l31 5l31 5l16 3" stroke="rgb(146,162,198)" stroke-width="5.5" fill="none" stroke-dasharray="20,14" opacity="0.9" transform="scale(0.1)"/>
<path d="M2003 7326l31 6l31 3l30 1l31 2l31 1l31 2l31 1l31 1l31 2l31 1l31 1l31 2l31 1l31 1l31 1l31 2l31 1l31 1l31 2l31 1l31 1l31 2l31 1l31 1l31 1l31 2l31 1l30 1l31 1l31 1l31 1l31 1l31 1l31 1l31 2l31 1l31 1l31 1l31 1l31 1l31 1l31 1l31 1l31 1l31 1l31 0l31 1l31 0l31 0l31 0l15 1l16 0l15 0l16 0l15 0l15 3l16 3l15 3l16 3l15 3l16 3l15 3l16 3l15-11l16 17l15-17l16-26l15 9l16 33l15-104l16-47l15-9l16-85l15-56l16-23l15-14l16-40l15-71l16 9l15 18l15-32l16 161l15-41l16-6l15-31l16-15l15-48l16-23l15-18l16-3l15-43l16 32l15-81l16 124l15-40l16-49l15 86l16 3l15-126l16 10l15 63l16 204l15-86l16-43l15-67l15-148l16 38l15 21l16 73l15 14l16 10l15-42l16-15l15 75l16 39l15-86l16 84l15-41l16-82l15 1l16 26l15-44l16 28l15 43l16 45l15-42l16-3l15-48l16 69l15 50l15 46l16-4l15 50l16-47l15-3l16 66l15 150l16 53l15-123l16-17l15-23l16 9l15-33l16 84l15 64l16 25l15-68l16-88l15-66l16-36l15 8l16-76l15 54l16 26l15 21l15 29l16 30l15 9l16 30l15-56l16-39l15-101l16 20l15-149l16 3l15 49l16 52l15 21l16 20l15-117l16 6l15 48l16 32l15 79l16 50l15 41l16-25l15 18l16 13l15-13l15 23l16-69l15 70l16-36l15-33l16 78l15-22l16 7l15-19l16 69l15-7l16 44l15 6l16-66l15 11l16 90l15 31l16 9l15-82l16 0l15 25l16-96l15-53l16-42l15 71l15-34l16 35l15 98l16 42l15 19l16-11l15-45l16 25l15 13l16-98l15 9l16 30" stroke="rgb(146,162,198)" stroke-width="5.5" fill="none" stroke-dasharray="20,16" opacity="0.9" transform="scale(0.1)"/>
<path d="M532 7228l31 3l31 2l31 2l31 3l31 2l31 2l31 2l31 2l31 2l31 2l31 2l31 1l30 3l31 3l31 4l31 3l31 3l31 3l31 3l31 4l31 3l31 3l31 3l31 3l31 3l31 3l31 3l31 3l31 3l31 3l31 4l31 5l31 6l31 5l31 5l31 6l31 5l30 6l31 5l31 5l31 6l31 5l31 5l31 5l31 6l31 5l31 5l16 3" stroke="rgb(148,161,196)" stroke-width="5.5" fill="none" stroke-dasharray="20,14" opacity="0.9" transform="scale(0.1)"/>
<path d="M2003 7401l31 5l31 4l30 1l31 1l31 2l31 1l31 1l31 2l31 1l31 1l31 1l31 2l31 1l31 1l31 2l31 1l31 1l31 2l31 1l31 1l31 1l31 2l31 1l31 1l31 2l31 1l31 1l30 1l31 1l31 1l31 2l31 1l31 1l31 1l31 1l31 1l31 1l31 1l31 1l31 1l31 1l31 1l31 1l31 1l31 1l31 0l31 1l31 0l31 0l31 1l15 0l16 0l15 0l16 0l15 0l15 0l16-1l15-1l16 0l15-1l16-1l15-1l16 0l15-1l16-1l15-1l16-1l15 0l16-1l15-1l16-1l15-19l16-17l15-43l16-32l15 4l16-13l15 7l16 5l15-14l15-39l16-64l15 20l16-44l15-15l16-5l15-64l16 9l15-74l16 17l15 40l16-56l15 69l16 37l15-26l16-33l15-13l16 88l15 29l16-89l15-71l16 38l15-50l16-36l15-81l15 49l16-105l15 31l16-91l15-38l16 95l15 21l16-28l15-70l16 101l15 8l16-80l15-48l16 117l15 77l16-24l15 70l16-26l15-61l16 4l15 156l16-117l15-95l16-100l15-62l15 70l16-135l15 87l16 34l15 87l16 71l15 53l16-55l15 30l16 48l15 91l16-20l15 10l16 0l15-39l16-15l15 25l16 9l15 13l16-19l15-12l16 18l15 60l16-33l15-27l15 70l16-14l15 24l16 98l15-24l16-64l15 25l16 13l15-70l16 33l15 8l16-32l15-82l16-14l15 61l16 37l15 11l16 29l15 42l16 41l15-43l16 6l15-121l16 2l15 58l15 12l16-3l15-5l16-5l15-4l16 22l15-16l16-71l15 50l16 36l15-16l16-32l15-8l16-20l15 33l16 33l15-10l16-8l15-44l16-29l15 107l16-20l15 39l16 83l15-35l15-6l16-2l15 29l16 7l15-33l16 12l15-55l16-69l15-66l16 15l15 43l16 73" stroke="rgb(148,161,196)" stroke-width="5.5" fill="none" stroke-dasharray="20,16" opacity="0.9" transform="scale(0.1)"/>
<path d="M532 7322l31-4l31-5l31-4l31-4l31-3l31-74l31-109l31-80l31 53l31 42l31 32l31 25l30 20l31 16l31 13l31 11l31 8l31 7l31-21l31-27l31-10l31 19l31 16l31 12l31 10l31 8l31 7l31 6l31 5l31 5l31 5l31 6l31 5l31 6l31 5l31 5l31 6l30 5l31 5l31 5l31 5l31 5l31 5l31 5l31 5l31 5l31 5l16 3" stroke="rgb(150,160,194)" stroke-width="5.5" fill="none" stroke-dasharray="20,14" opacity="0.9" transform="scale(0.1)"/>
<path d="M2003 7387l31 5l31 3l30 1l31 1l31 1l31 1l31 2l31 1l31 1l31 1l31 1l31 2l31 1l31 1l31 1l31 1l31 2l31 1l31 1l31 1l31 2l31 1l31 1l31 1l31 2l31 1l31 1l30 1l31 1l31 1l31 1l31 1l31 1l31 1l31 1l31 1l31 2l31 1l31 1l31 1l31 1l31 1l31 1l31 1l31 1l31 0l31 0l31 1l31 0l31 0l15 0l16 1l15 0l16 0l15 0l15-25l16-19l15-22l16 34l15-12l16-22l15-16l16-18l15-22l16 63l15-42l16-21l15-45l16-24l15-46l16-55l15-126l16 29l15-119l16 10l15 42l16 66l15-100l16 76l15-109l15-50l16 24l15 23l16-72l15-33l16-74l15-2l16 37l15-61l16 92l15-104l16-18l15 79l16 43l15-38l16 87l15-208l16-43l15 144l16 31l15-114l16 23l15 128l16 180l15 96l15-127l16-27l15 93l16-62l15 28l16 42l15 24l16 17l15-112l16 74l15 25l16-76l15-62l16 92l15-93l16-14l15 125l16-73l15 113l16-22l15 74l16 86l15-60l16-22l15 8l15-5l16 10l15 16l16 49l15-35l16-1l15 12l16 23l15 6l16 56l15-7l16 23l15-74l16 35l15 7l16-13l15-39l16-15l15 6l16-76l15 26l16 8l15-85l16 73l15-13l15 9l16 72l15 28l16-31l15 59l16-1l15-42l16 12l15-10l16 25l15 17l16 11l15-3l16-39l15-12l16-79l15-15l16-8l15-84l16 6l15 72l16 29l15 64l16-6l15-34l15 0l16 36l15 17l16-7l15-30l16 32l15 24l16-32l15 5l16 0l15-5l16 39l15 8l16-35l15 15l16 13l15-7l16-8l15-78l16 53l15 9l16-56l15 24l16 6l15 66l15-31l16-20l15-13l16 23l15-1l16 14l15-20l16 14l15-16l16 58l15 10l16 91" stroke="rgb(150,160,194)" stroke-width="5.5" fill="none" stroke-dasharray="20,16" opacity="0.9" transform="scale(0.1)"/>
<path d="M532 7324l31-4l31-3l31-3l31-35l31-51l31-36l31 23l31 18l31 13l31 10l31 8l31 6l30 1l31-78l31-79l31-8l31 43l31 34l31 27l31 22l31 16l31 14l31 11l31 9l31 8l31 6l31 5l31 5l31 4l31 4l31 4l31 6l31 5l31 6l31 5l31 5l31 5l30 5l31 5l31 5l31 5l31 5l31 5l31 5l31 6l31 5l31 5l16 2" stroke="rgb(152,158,192)" stroke-width="5.5" fill="none" stroke-dasharray="20,14" opacity="0.9" transform="scale(0.1)"/>
<path d="M2003 7403l31 5l31 3l30 2l31 1l31 1l31 1l31 2l31 1l31 1l31 1l31 1l31 2l31 1l31 1l31 1l31 2l31 1l31 1l31 1l31 2l31 1l31 1l31 1l31 2l31 1l31 1l31 1l30 2l31 1l31 1l31 1l31 1l31 1l31 1l31 1l31 1l31 1l31 1l31 1l31 1l31 1l31 1l31 1l31 1l31 1l31 0l31 1l31 0l31 0l31 1l15 0l16 0l15 0l16 0l15 0l15 0l16-1l15-1l16 0l15-1l16-45l15-31l16 17l15-20l16-18l15-6l16-45l15-76l16-2l15-66l16-74l15 34l16-107l15-96l16-15l15-101l16-7l15-70l16-34l15 73l15-31l16 1l15 22l16 68l15 18l16 52l15-187l16 149l15-90l16-3l15 61l16-166l15 34l16-200l15-1l16-62l15 10l16-67l15-78l16 102l15 31l16-169l15 136l16-154l15 128l15 114l16 205l15 68l16 142l15-10l16-127l15-17l16 43l15 73l16 26l15 90l16 52l15-241l16-26l15 84l16-70l15-115l16 93l15 29l16 114l15 112l16-143l15-255l16 126l15 160l15-101l16-44l15 10l16-58l15 83l16 21l15-17l16 61l15-6l16 40l15-15l16 5l15 128l16-37l15 54l16-10l15 21l16-152l15-82l16 44l15-14l16 21l15 68l16 152l15-31l15 27l16 26l15-35l16 44l15 7l16-42l15-14l16 49l15-62l16-30l15-56l16 51l15 27l16-18l15 16l16 27l15 31l16 33l15 41l16 31l15-22l16 14l15 59l16-18l15-79l15-46l16 106l15 31l16-42l15-3l16-1l15 7l16-1l15 41l16-56l15 45l16-2l15-67l16-35l15 14l16 7l15 23l16 7l15-13l16-79l15-9l16-63l15-70l16-80l15 65l15 1l16 4l15-17l16-22l15 105l16 36l15 27l16 64l15 38l16 12l15 53l16-18" stroke="rgb(152,158,192)" stroke-width="5.5" fill="none" stroke-dasharray="20,16" opacity="0.9" transform="scale(0.1)"/>
<path d="M532 7196l31 3l31 2l31 2l31 3l31 2l31 2l31 2l31 2l31 1l31 2l31 2l31 1l30-10l31-61l31-60l31 9l31 33l31 27l31 21l31 17l31-19l31-91l31-92l31 37l31 53l31 42l31 33l31 27l31 21l31 17l31 16l31 14l31 12l31 11l31 9l31 9l31 8l30 7l31 7l31 6l31 7l31 6l31 5l31 6l31 6l31 5l31 6l16 2" stroke="rgb(154,157,191)" stroke-width="5.5" fill="none" stroke-dasharray="20,14" opacity="0.9" transform="scale(0.1)"/>
<path d="M2003 7366l31 6l31 3l30 2l31 1l31 1l31 2l31 1l31 1l31 2l31 1l31 1l31 2l31 1l31 1l31 1l31 2l31 1l31 1l31 2l31 1l31 1l31 1l31 2l31 1l31 1l31 1l31 2l30 1l31 1l31 1l31 1l31 1l31 1l31 1l31 1l31 1l31 1l31 1l31 1l31 1l31 1l31 1l31 1l31 1l31 2l31 0l31 0l31 0l31 1l31 0l15 0l16 0l15 0l16 1l15 0l15 1l16 1l15 1l16 1l15 1l16 1l15 1l16 1l15 1l16 1l15 1l16 1l15 1l16 0l15-1l16-2l15-26l16-28l15-41l16-38l15 54l16-16l15-72l16 1l15-103l15-31l16 32l15-63l16-130l15 24l16-57l15 34l16 3l15-52l16-77l15-58l16-42l15-224l16 114l15 156l16-104l15-52l16 114l15-234l16 64l15 121l16-106l15-111l16-281l15 222l15 139l16-12l15 8l16-39l15 45l16 137l15-34l16-153l15-111l16 96l15-64l16-26l15 88l16 53l15 1l16-285l15 74l16 167l15 53l16 83l15-99l16 246l15 82l16-112l15-40l15 9l16-49l15 142l16-34l15 101l16 87l15-74l16 49l15 3l16-69l15 73l16-65l15-163l16 49l15-45l16-25l15 107l16 73l15-52l16 72l15-115l16 19l15 23l16 21l15-33l15 73l16-39l15 19l16 14l15 47l16-26l15 68l16-30l15-49l16 46l15 34l16-2l15-60l16 24l15 3l16-44l15-20l16 45l15 60l16 77l15-39l16-23l15 4l16 0l15 50l15 140l16 1l15-13l16 9l15 45l16-10l15-23l16-68l15-21l16 3l15 27l16 68l15 17l16 45l15-14l16-54l15-42l16-30l15 4l16-38l15 5l16 49l15-53l16-61l15 4l15 61l16 107l15 11l16-52l15 14l16-62l15 11l16 59l15 77l16-23l15-14l16 58" stroke="rgb(154,157,191)" stroke-width="5.5" fill="none" stroke-dasharray="20,16" opacity="0.9" transform="scale(0.1)"/>
<path d="M532 7096l31 12l31 11l31 10l31 9l31 9l31 9l31 8l31 7l31 7l31 7l31 6l31 6l30 6l31 8l31 7l31 6l31 7l31 6l31 6l31 5l31 6l31 5l31 5l31 5l31 4l31 5l31 4l31 5l31 4l31 4l31 5l31 7l31 6l31 7l31 6l31 6l31 6l30 6l31 6l31 6l31 6l31 6l31 6l31 6l31 5l31 6l31 6l16 2" stroke="rgb(156,156,189)" stroke-width="5.5" fill="none" stroke-dasharray="20,14" opacity="0.9" transform="scale(0.1)"/>
<path d="M2003 7399l31 6l31 3l30 2l31 1l31 2l31 1l31 2l31 1l31 2l31 1l31 2l31 1l31 1l31 2l31 1l31 2l31 1l31 1l31 2l31 1l31 1l31 2l31 1l31 1l31 2l31 1l31 1l30 2l31 1l31 1l31 1l31 1l31 1l31 1l31 1l31 1l31 1l31 1l31 1l31 1l31 1l31 1l31 1l31 2l31 1l31 0l31 0l31 1l31 0l31-19l15-16l16 9l15-8l16-40l15 9l15-17l16-59l15-15l16-8l15-58l16-86l15-32l16 41l15 44l16-34l15 48l16-58l15-111l16 122l15-62l16-89l15-16l16-86l15-82l16-114l15-231l16 10l15 109l16 93l15 89l15-114l16-57l15-60l16-24l15-160l16-77l15-55l16 127l15 56l16 140l15 32l16-62l15 83l16-12l15-314l16-20l15 100l16 74l15 31l16-69l15 54l16-54l15 24l16 163l15-85l15 85l16-153l15 123l16 53l15 79l16 36l15-32l16 36l15-85l16 4l15-86l16 62l15-46l16-23l15 89l16-130l15-16l16 62l15 102l16 69l15 60l16 16l15 108l16 4l15 47l15-108l16-19l15-68l16-91l15 52l16-51l15 62l16 33l15 117l16 29l15-52l16 15l15 61l16 25l15 60l16 41l15 71l16-79l15-57l16 19l15 75l16-1l15-113l16 75l15 11l15-1l16-70l15 31l16-66l15 5l16 54l15 81l16-17l15 34l16 30l15-51l16-4l15-88l16 18l15 29l16 20l15-94l16-7l15 60l16 19l15 50l16-12l15 39l16 31l15-17l15-49l16-18l15-11l16 17l15 105l16-13l15-14l16-48l15-93l16-8l15 112l16 18l15 24l16-18l15 16l16 82l15 23l16-3l15 61l16-25l15-12l16-58l15 0l16 19l15-4l15-7l16-40l15 40l16 75l15-120l16-20l15 12l16-76l15 70l16 40l15 17l16-19" stroke="rgb(156,156,189)" stroke-width="5.5" fill="none" stroke-dasharray="20,16" opacity="0.9" transform="scale(0.1)"/>
<path d="M532 7171l31 5l31-15l31-49l31-50l31 22l31 27l31 22l31 18l31 14l31 12l31 9l31 8l30 8l31 7l31 7l31 6l31 5l31 5l31 5l31 5l31 4l31 4l31 4l31 3l31 4l31 3l31 4l31 3l31 3l31 3l31 5l31 6l31 5l31 6l31 5l31 6l31 6l30 5l31 6l31 5l31 5l31 6l31 5l31 6l31 5l31 5l31 6l16 2" stroke="rgb(158,155,187)" stroke-width="5.5" fill="none" stroke-dasharray="20,14" opacity="0.9" transform="scale(0.1)"/>
<path d="M2003 7372l31 6l31 3l30 1l31 2l31 1l31 1l31 2l31 1l31 1l31 2l31 1l31 1l31 2l31 1l31 1l31 2l31 1l31 1l31 1l31 2l31 1l31 1l31 2l31 1l31 1l31 2l31 1l30 1l31 1l31 1l31 1l31 1l31 1l31 1l31 1l31 1l31 1l31 1l31 1l31 1l31 2l31 1l31 1l31 1l31 1l31 0l31 0l31 1l31 0l31 0l15 0l16 1l15 0l16 0l15 0l15 1l16 0l15 1l16 1l15 1l16 0l15 1l16 1l15 0l16 1l15-24l16-41l15-6l16 7l15-77l16 35l15-24l16-13l15-60l16-5l15 47l16 16l15-38l16-29l15 1l15-6l16 40l15 26l16-24l15-17l16-46l15 20l16-143l15 80l16-95l15-57l16-110l15-75l16 112l15-22l16-44l15-34l16 4l15 74l16-60l15 45l16 58l15 3l16 43l15 46l15-11l16-152l15 23l16 33l15 55l16-3l15 84l16-28l15-8l16 4l15-16l16 22l15-28l16-16l15-15l16 12l15-40l16 14l15-72l16-2l15-88l16-47l15 78l16 123l15 20l15 28l16 36l15 13l16 22l15 62l16 58l15-33l16-4l15-58l16-62l15 3l16 11l15 12l16 28l15 51l16 117l15-46l16-26l15 2l16-2l15-32l16-22l15 12l16 26l15-12l15-16l16-64l15 69l16-1l15 51l16 22l15-85l16 38l15 17l16 30l15-29l16 24l15 63l16-17l15-37l16 3l15-4l16 27l15 28l16-11l15 31l16-2l15 18l16-13l15-47l15-7l16-47l15-12l16 5l15 26l16-20l15 19l16-61l15 12l16 21l15 43l16 61l15-14l16 19l15 3l16-32l15 69l16-13l15-29l16-45l15-3l16 24l15-35l16-26l15-62l15-44l16 45l15-18l16 24l15 59l16-12l15-29l16 98l15-47l16 35l15-53l16 6" stroke="rgb(158,155,187)" stroke-width="5.5" fill="none" stroke-dasharray="20,16" opacity="0.9" transform="scale(0.1)"/>
<path d="M532 7171l31 1l31 1l31 1l31 0l31 1l31 1l31 0l31 1l31 1l31 1l31 1l31 0l30 2l31 3l31 2l31 3l31 3l31 2l31 3l31 2l31 3l31 2l31 3l31 3l31 2l31 3l31 2l31 3l31 3l31 2l31 4l31 5l31 6l31 5l31 5l31 5l31 5l30 5l31 6l31 5l31 5l31 5l31 5l31 5l31 6l31 5l31 5l16 2" stroke="rgb(160,154,186)" stroke-width="5.5" fill="none" stroke-dasharray="20,14" opacity="0.9" transform="scale(0.1)"/>
<path d="M2003 7315l31 6l31 3l30 1l31 1l31 1l31 2l31 1l31 1l31 1l31 2l31 1l31 1l31 1l31 2l31 1l31 1l31 1l31 2l31 1l31 1l31 1l31 2l31 1l31 1l31 1l31 2l31 1l30 1l31 1l31 1l31 1l31 1l31 1l31 1l31 1l31 1l31 1l31 1l31 1l31 1l31 1l31 1l31 1l31 1l31 1l31 1l31 0l31 0l31 1l31 0l15 0l16 0l15-26l16-24l15 2l15 35l16-92l15 13l16-20l15-42l16-61l15-33l16 9l15-41l16-164l15-171l16 31l15-40l16 133l15-43l16-79l15 13l16-171l15-60l16-30l15 265l16 20l15-113l16 25l15 142l15-11l16-223l15-87l16-89l15 0l16-153l15 370l16 116l15-228l16-73l15 33l16 86l15 205l16 25l15-4l16 71l15-144l16-70l15 63l16-45l15 47l16 14l15 72l16-166l15 177l15 34l16-55l15-35l16 158l15 73l16-1l15 48l16 28l15-3l16-5l15-77l16 111l15-77l16 20l15-29l16 32l15-121l16 137l15-56l16 46l15 24l16-64l15 35l16-26l15-44l15 67l16-73l15-17l16 58l15 23l16 60l15 0l16-25l15-25l16 16l15 42l16 34l15 36l16-7l15-47l16 6l15-4l16-2l15-58l16 41l15 84l16-46l15-33l16 14l15 21l15-1l16 26l15-61l16-62l15 7l16 35l15 27l16 9l15-34l16 65l15 21l16 40l15 48l16-18l15-41l16 46l15-36l16-16l15-4l16-34l15 44l16-44l15 35l16-5l15 68l15-35l16 7l15 24l16 35l15-15l16-49l15-10l16 22l15 31l16 32l15 1l16 42l15-8l16-55l15-2l16 1l15 16l16-31l15-21l16-41l15 39l16 42l15 16l16 31l15-14l15 2l16 15l15-14l16-45l15-24l16 25l15-2l16-11l15-19l16 18l15 44l16-19" stroke="rgb(160,154,186)" stroke-width="5.5" fill="none" stroke-dasharray="20,16" opacity="0.9" transform="scale(0.1)"/>
<path d="M532 7230l31 2l31 3l31 3l31 2l31 3l31 2l31 2l31 3l31 2l31 2l31 2l31 2l30 2l31 4l31 3l31 4l31 3l31 3l31-30l31-31l31-3l31 7l31-24l31-28l31 21l31 28l31 22l31 17l31 15l31 12l31 11l31 11l31 10l31 8l31 8l31 8l31 7l30 6l31 7l31 6l31 6l31 5l31 6l31 6l31 5l31 6l31 5l16 3" stroke="rgb(162,152,184)" stroke-width="5.5" fill="none" stroke-dasharray="20,14" opacity="0.9" transform="scale(0.1)"/>
<path d="M2003 7407l31 5l31 4l30 1l31 1l31 2l31 1l31 1l31 2l31 1l31 1l31 2l31 1l31 1l31 2l31 1l31 1l31 2l31 1l31 1l31 2l31 1l31 1l31 1l31 2l31 1l31 1l31 2l30 1l31 1l31 1l31 1l31 1l31 1l31 1l31 1l31 1l31 1l31 1l31 1l31 1l31 1l31 1l31 1l31 1l31 2l31-23l31-26l31-34l31-29l31-4l15-24l16 5l15-79l16-88l15 36l15 64l16-74l15-26l16-5l15-210l16-6l15 31l16-35l15-79l16-177l15-44l16 96l15 3l16-230l15 168l16-46l15-172l16-41l15 16l16 86l15-60l16-94l15-39l16-134l15 23l15-102l16 70l15-33l16 126l15-139l16-38l15 41l16 219l15 39l16 361l15 0l16-50l15 69l16-47l15-80l16-161l15 47l16 175l15 192l16-56l15-140l16-113l15 33l16 82l15 58l15-9l16-37l15-81l16-49l15-203l16 101l15 77l16 23l15 26l16 125l15 154l16 91l15-41l16-49l15-27l16-56l15-85l16 113l15-94l16-71l15 56l16 95l15 49l16 127l15 18l15 59l16 8l15 17l16-106l15 68l16-7l15 30l16-75l15-32l16 98l15 43l16-32l15 12l16-50l15-19l16 78l15 24l16-15l15 13l16 2l15-8l16 16l15-50l16 74l15-17l15 29l16-16l15-30l16-12l15-11l16-11l15 2l16 33l15-14l16-19l15-10l16 17l15 13l16 98l15 29l16-3l15-48l16-43l15 9l16 55l15-20l16-34l15-16l16 43l15 47l15 28l16 28l15-57l16-18l15-82l16-43l15-9l16 54l15-11l16-3l15 63l16 37l15 2l16-80l15-10l16 35l15 11l16-10l15 59l16-69l15 45l16-32l15-10l16 44l15 11l15 3l16 16l15-28l16 4l15 68l16-15l15 34l16-8l15-22l16-4l15-44l16 7" stroke="rgb(162,152,184)" stroke-width="5.5" fill="none" stroke-dasharray="20,16" opacity="0.9" transform="scale(0.1)"/>
<path d="M532 7313l31-4l31-3l31-3l31-3l31-2l31-2l31-2l31-2l31-37l31-65l31-59l31 34l30-56l31-68l31-15l31 59l31 46l31 36l31 29l31 23l31 18l31 14l31 12l31 9l31 8l31 7l31 6l31 5l31 4l31 4l31 4l31 6l31 6l31 5l31 5l31 5l31 6l30 5l31 5l31 5l31 5l31 5l31 5l31 5l31 5l31 5l31 5l16 3" stroke="rgb(164,151,182)" stroke-width="5.5" fill="none" stroke-dasharray="20,14" opacity="0.9" transform="scale(0.1)"/>
<path d="M2003 7396l31 5l31 3l30 1l31 2l31 1l31 1l31 1l31 1l31 2l31 1l31 1l31 1l31 2l31 1l31 1l31 1l31 2l31 1l31 1l31 1l31 2l31 1l31 1l31 1l31 2l31 1l31 1l30 1l31 1l31 1l31 1l31 1l31 1l31 1l31 1l31 1l31 1l31 1l31 2l31 1l31 1l31 1l31 1l31 1l31 1l31 0l31 0l31 1l31 0l31 0l15 0l16 1l15 0l16 0l15 0l15-15l16-13l15-12l16-7l15-23l16-9l15 8l16-45l15-40l16-28l15-11l16-3l15-23l16-27l15 27l16-11l15 14l16-92l15 40l16 23l15-1l16-62l15 10l16-155l15-64l15 145l16-58l15-58l16 64l15-34l16-42l15 19l16-26l15-55l16 20l15-20l16 72l15-89l16 31l15-125l16-165l15-94l16 101l15 3l16 58l15-16l16 99l15 97l16-4l15 59l15-113l16-42l15 2l16 41l15 34l16-56l15 26l16 26l15-110l16 43l15 62l16 45l15-66l16 72l15 54l16-61l15-47l16-48l15 110l16 1l15 65l16-10l15 114l16 3l15-71l15 0l16 152l15-82l16-23l15 20l16 1l15 20l16-65l15 18l16 98l15 33l16-105l15-50l16-18l15 68l16-16l15-35l16 21l15-14l16-30l15-16l16 18l15 13l16 92l15 24l15-34l16-66l15 23l16-24l15 33l16 70l15-12l16-9l15 55l16 40l15-10l16 17l15-31l16 59l15-51l16 25l15-23l16 65l15-58l16-11l15-90l16 93l15 77l16-51l15-45l15 77l16-40l15-47l16-57l15 6l16 70l15 62l16-125l15-35l16-58l15 56l16 38l15 27l16 46l15 8l16 34l15-6l16-71l15-18l16 3l15-81l16-10l15 41l16 101l15-42l15-32l16 50l15-40l16 57l15 21l16 23l15-7l16 7l15-54l16 27l15-9l16 8" stroke="rgb(164,151,182)" stroke-width="5.5" fill="none" stroke-dasharray="20,16" opacity="0.9" transform="scale(0.1)"/>
<path d="M532 7294l31-2l31-2l31-1l31-2l31-1l31-1l31-1l31-1l31 0l31-1l31 0l31 0l30 0l31 2l31 1l31 2l31 1l31 2l31 2l31 2l31 2l31 2l31 2l31 2l31 2l31 2l31 3l31 2l31 2l31 3l31 3l31 5l31 5l31 5l31 5l31 5l31 5l30 5l31 5l31 5l31 5l31 5l31 5l31 5l31 5l31 5l31 6l16 2" stroke="rgb(166,150,180)" stroke-width="5.5" fill="none" stroke-dasharray="20,14" opacity="0.9" transform="scale(0.1)"/>
<path d="M2003 7402l31 5l31 3l30 2l31 1l31 1l31 1l31 2l31 1l31 1l31 1l31 2l31 1l31 1l31 1l31 2l31 1l31 1l31 1l31 2l31 1l31 1l31 1l31 2l31 1l31 1l31 2l31 1l30 1l31 1l31 1l31 1l31 1l31 1l31 1l31 1l31 1l31 1l31 1l31 1l31 1l31 1l31 1l31 1l31 2l31 1l31 0l31 0l31 0l31 1l31 0l15 0l16 0l15-6l16 0l15-27l15 7l16-17l15-6l16-37l15-20l16-11l15-41l16-46l15-35l16-70l15 28l16-47l15-104l16-10l15 107l16-95l15-13l16-67l15-36l16-56l15-90l16 0l15-52l16 112l15 53l15-22l16-157l15 72l16 14l15-79l16 39l15 94l16 129l15-151l16 54l15-98l16-97l15 59l16-100l15 156l16-76l15 89l16-38l15-21l16-10l15-41l16 78l15 125l16 76l15-122l15 71l16-3l15-58l16-8l15 49l16 105l15-153l16-26l15 106l16 46l15-8l16 127l15-39l16-19l15-38l16 1l15 63l16 87l15-20l16 7l15-111l16 23l15-20l16 7l15 104l15-56l16 25l15 71l16-43l15-72l16 18l15 22l16 35l15 16l16-60l15 5l16-10l15-14l16 153l15-28l16-38l15-12l16 68l15 21l16-48l15-24l16-17l15 55l16-18l15-62l15 14l16-43l15-12l16-6l15 58l16 42l15 32l16-47l15-39l16 62l15 56l16-13l15-54l16 0l15-14l16-3l15-6l16 23l15-6l16-11l15 21l16-49l15 64l16 24l15 34l15-43l16-33l15 42l16 2l15 21l16 48l15 16l16-27l15-29l16 24l15-7l16-33l15-45l16 3l15 43l16 58l15-13l16 3l15 12l16 13l15 5l16-20l15-32l16 26l15-70l15-38l16 28l15 2l16-38l15 52l16 30l15 22l16 29l15-34l16 4l15-6l16-5" stroke="rgb(166,150,180)" stroke-width="5.5" fill="none" stroke-dasharray="20,16" opacity="0.9" transform="scale(0.1)"/>
<path d="M532 7273l31-6l31-5l31-6l31-4l31-5l31-4l31-3l31-4l31-3l31-3l31-2l31-2l30-2l31 0l31 0l31-45l31-57l31-31l31 30l31 24l31 19l31 15l31 12l31 9l31 8l31 7l31 5l31 5l31 4l31 4l31 4l31 6l31 5l31 5l31 5l31 5l31 5l30 5l31 5l31 5l31 5l31 5l31 5l31 4l31 5l31 5l31 5l16 3" stroke="rgb(169,148,177)" stroke-width="5.5" fill="none" stroke-dasharray="20,14" opacity="0.9" transform="scale(0.1)"/>
<path d="M2003 7320l31 5l31 3l30 1l31 1l31 1l31 1l31 1l31 1l31 1l31 2l31 1l31 1l31 1l31 1l31 1l31 2l31 1l31 1l31 1l31 1l31 2l31 1l31 1l31 1l31 2l31 1l31 1l30 1l31 1l31 1l31 1l31 1l31 1l31 1l31 1l31 1l31 1l31 1l31 1l31 1l31 1l31 1l31 1l31 1l31 1l31 1l31-43l31-57l31-98l31-82l15 39l16 89l15-91l16-107l15-96l15-73l16-77l15 44l16-93l15 65l16 93l15-41l16 54l15 22l16-30l15-53l16-105l15 36l16-22l15-73l16-98l15-119l16-135l15-42l16-66l15-84l16 23l15-13l16 135l15-55l15-150l16 114l15-195l16 135l15-114l16-106l15 33l16 151l15 6l16 120l15 159l16-126l15 281l16-136l15 108l16-119l15 85l16-201l15 121l16 287l15-356l16 58l15 61l16 35l15 58l15-20l16 89l15-230l16 107l15-61l16-125l15 83l16-9l15 119l16 123l15 63l16-130l15-110l16 60l15-6l16 159l15 33l16-14l15 210l16-52l15 36l16 117l15-73l16-22l15-19l15 34l16 56l15 88l16-10l15 51l16-2l15-57l16-66l15-23l16-5l15 33l16-51l15-51l16 69l15 49l16 70l15 12l16 19l15-128l16-58l15 118l16-35l15 34l16 111l15-29l15 31l16-30l15-34l16 41l15-86l16 11l15 58l16 90l15-137l16 58l15-1l16-12l15-38l16 86l15 121l16-39l15 52l16-21l15-132l16 35l15-36l16 61l15-153l16 49l15 0l15 27l16 43l15-48l16 27l15 53l16 22l15 6l16-13l15-12l16 36l15 13l16-108l15 26l16-53l15 41l16-5l15 40l16 90l15 3l16-63l15-66l16-43l15 36l16 11l15 38l15-43l16-68l15-42l16-11l15 14l16 42l15 15l16 40l15 14l16 50l15 42l16 104" stroke="rgb(169,148,177)" stroke-width="5.5" fill="none" stroke-dasharray="20,16" opacity="0.9" transform="scale(0.1)"/>
<path d="M532 7256l31 0l31 0l31 0l31 0l31 0l31 0l31 0l31 1l31 0l31 0l31 1l31 0l30 1l31 3l31 2l31 2l31 2l31 3l31 2l31 2l31 3l31 2l31 2l31 3l31 2l31 3l31-35l31-84l31-84l31 41l31 42l31 34l31 29l31 23l31 19l31 16l31 13l30 12l31 10l31 10l31 8l31 7l31 8l31 6l31 6l31 7l31 5l16 3" stroke="rgb(171,144,173)" stroke-width="5.5" fill="none" stroke-dasharray="20,14" opacity="0.9" transform="scale(0.1)"/>
<path d="M2003 7386l31 6l31 4l30 1l31 2l31 1l31 1l31 2l31 1l31 1l31 2l31 1l31 1l31 2l31 1l31 1l31 2l31 1l31 1l31 1l31 2l31 1l31 1l31 1l31 2l31 1l31 1l31 2l30 1l31 1l31 1l31 1l31 1l31 1l31 1l31 1l31 1l31 1l31 1l31 1l31 1l31 1l31 1l31 1l31 1l31 1l31 1l31 0l31 0l31 1l31 0l15 0l16 0l15-8l16-16l15 4l15 11l16 10l15-2l16-31l15-33l16 12l15-51l16-12l15-70l16-16l15-29l16 2l15-4l16-41l15-66l16-68l15 18l16 41l15-72l16-117l15 17l16 5l15 2l16-60l15-99l15 66l16-61l15-134l16-38l15 84l16 121l15-22l16-128l15-45l16-85l15 91l16 33l15 99l16-37l15 35l16 73l15 22l16-57l15-68l16-45l15-152l16-2l15 108l16-21l15 123l15 104l16-50l15 45l16-14l15 11l16 26l15 132l16-68l15-71l16 37l15-65l16-28l15-46l16-59l15 102l16-59l15 74l16 16l15 71l16-73l15-30l16 69l15 29l16 34l15 25l15-15l16 86l15 88l16-62l15-7l16 34l15 37l16 65l15-11l16 59l15-47l16-46l15 6l16-81l15-59l16-31l15 2l16-27l15 16l16 135l15 14l16-20l15 84l16-18l15 13l15-5l16-30l15-30l16 47l15-26l16 31l15 113l16-110l15 2l16 16l15-59l16-8l15 33l16-10l15-16l16 3l15 84l16-52l15-9l16-21l15-87l16-184l15 104l16 50l15 110l15 87l16 16l15-39l16-3l15-3l16-39l15 1l16 43l15 46l16 10l15-19l16 13l15 7l16 17l15 23l16 33l15 8l16-93l15-43l16-44l15 17l16 21l15-19l16 31l15-35l15 12l16-15l15 48l16-63l15 14l16-6l15 49l16 35l15-27l16 69l15-58l16 27" stroke="rgb(171,144,173)" stroke-width="5.5" fill="none" stroke-dasharray="20,16" opacity="0.9" transform="scale(0.1)"/>
<path d="M532 7164l31 7l31 6l31 5l31 6l31 5l31 5l31 4l31 5l31 4l31-19l31-40l31-38l30 28l31 24l31 19l31 16l31 13l31 12l31 9l31 9l31 7l31 6l31 6l31 6l31-52l31-119l31-120l31 64l31 58l31 46l31 38l31 31l31 26l31 22l31 18l31 15l31 13l30 11l31 10l31 9l31 9l31 7l31 7l31 7l31 7l31 6l31 6l16 3" stroke="rgb(174,140,169)" stroke-width="5.5" fill="none" stroke-dasharray="20,14" opacity="0.9" transform="scale(0.1)"/>
<path d="M2003 7391l31 6l31 3l30 2l31 2l31 1l31 2l31 1l31 2l31 1l31 1l31 2l31 1l31 2l31 1l31 1l31 2l31 1l31 1l31 2l31 1l31 1l31 2l31 1l31 1l31 1l31 2l31 1l30 1l31 1l31 1l31 1l31 1l31 2l31 1l31 1l31 1l31 1l31 1l31 1l31 1l31 1l31 1l31 1l31 1l31 1l31 0l31 1l31-34l31 9l31-81l15-21l16-50l15 10l16-77l15-51l15-41l16-43l15 14l16-18l15-54l16 2l15-114l16-69l15-102l16 107l15-136l16 34l15 44l16-8l15-154l16-46l15-37l16-92l15-82l16-76l15-43l16 25l15-5l16 187l15 15l15 237l16-31l15-40l16 62l15 25l16-133l15 44l16 1l15-174l16 26l15-31l16 24l15 12l16-36l15 93l16-11l15 95l16 65l15-36l16 67l15 197l16-42l15-97l16 101l15-37l15 44l16 114l15 5l16 137l15-125l16 14l15-36l16 0l15 93l16 5l15-87l16-39l15 41l16 51l15 4l16 71l15-30l16 78l15 12l16-72l15-10l16 24l15-23l16 1l15-28l15-64l16-1l15 61l16-18l15 60l16-40l15-20l16 30l15 3l16 84l15 74l16-2l15-27l16-60l15 37l16 38l15 26l16 16l15-22l16 44l15-48l16 42l15-98l16 14l15 3l15 65l16-19l15 62l16-49l15 16l16-19l15-22l16-31l15-36l16-21l15-3l16 40l15 45l16-31l15-13l16 11l15-14l16-53l15-52l16-11l15 86l16 85l15 18l16 9l15 35l15-47l16-62l15 28l16-29l15-4l16-33l15-27l16-32l15-76l16-84l15 73l16 52l15 69l16 34l15 5l16 4l15 53l16-25l15 21l16-35l15-35l16 79l15 47l16-16l15 3l15 66l16-32l15 19l16 29l15-17l16 12l15-9l16-12l15-67l16-9l15 10l16 12" stroke="rgb(174,140,169)" stroke-width="5.5" fill="none" stroke-dasharray="20,16" opacity="0.9" transform="scale(0.1)"/>
<path d="M532 6949l31 18l31 18l31 16l31 16l31 14l31 14l31 12l31 12l31 12l31 10l31 10l31 9l30 10l31 10l31 10l31 9l31 9l31 9l31 8l31 7l31 8l31 7l31 6l31 7l31 6l31 6l31 5l31 6l31 5l31 5l31 6l31 8l31 7l31 7l31 7l31 7l31 6l30 7l31 7l31 6l31 6l31 6l31 7l31 6l31 6l31 5l31 6l16 3" stroke="rgb(176,136,164)" stroke-width="5.5" fill="none" stroke-dasharray="20,14" opacity="0.9" transform="scale(0.1)"/>
<path d="M2003 7356l31 6l31 4l30 1l31 2l31 2l31 1l31 2l31 1l31 2l31 1l31 2l31 1l31 2l31 1l31 2l31 1l31 1l31 2l31 1l31 2l31 1l31 1l31 2l31 1l31 1l31 2l31 1l30 1l31 1l31 1l31 2l31 1l31 1l31 1l31 1l31 1l31 1l31 1l31 1l31 1l31 1l31 1l31 1l31 1l31 1l31 1l31 0l31-25l31-32l31 5l15 28l16-32l15-87l16-64l15-33l15-45l16-47l15 5l16-70l15-13l16 23l15-213l16-5l15 35l16-28l15 93l16 71l15-146l16-34l15 84l16 101l15-29l16 43l15-139l16 129l15-135l16 63l15 65l16-39l15 72l15 5l16 3l15 140l16 15l15-95l16 101l15 27l16-9l15-129l16-92l15-101l16 86l15-48l16 4l15 100l16-36l15 8l16 47l15 61l16 76l15-62l16-41l15 12l16 16l15 24l15-52l16-8l15 99l16-22l15-35l16 29l15 17l16 18l15-45l16 17l15-6l16-10l15-75l16 82l15-115l16 69l15 1l16 19l15-39l16-62l15-141l16-73l15 123l16 53l15 44l15 63l16-7l15 5l16 27l15 22l16-47l15-17l16-80l15-70l16 90l15 133l16 20l15 42l16 44l15 21l16-63l15 12l16-68l15-13l16 77l15-24l16-59l15 62l16 18l15-41l15-33l16-122l15 83l16-27l15 82l16 38l15-18l16-27l15-20l16-78l15-85l16-73l15 100l16 44l15 70l16-2l15 119l16 36l15 13l16 19l15-52l16 56l15 24l16 30l15-14l15 17l16-45l15-31l16 69l15 53l16-51l15-26l16 43l15-16l16 25l15-44l16 33l15 3l16-31l15-10l16-38l15-9l16 51l15-14l16 31l15-54l16-44l15-20l16-46l15 7l15-15l16 5l15 6l16 4l15 21l16-29l15 64l16 62l15 23l16-52l15 16l16 27" stroke="rgb(176,136,164)" stroke-width="5.5" fill="none" stroke-dasharray="20,16" opacity="0.9" transform="scale(0.1)"/>
<path d="M532 7324l31-4l31-3l31-3l31-2l31-3l31-2l31-2l31-2l31-1l31-2l31-1l31-1l30-1l31 1l31 1l31 1l31 1l31 1l31 2l31 1l31 2l31 1l31 2l31 2l31 2l31 1l31 2l31 2l31 2l31 3l31 3l31 5l31 4l31 5l31 5l31 5l31 5l30 4l31 5l31 5l31 5l31 5l31 5l31 5l31 5l31 5l31 5l16 3" stroke="rgb(179,132,160)" stroke-width="5.5" fill="none" stroke-dasharray="20,14" opacity="0.9" transform="scale(0.1)"/>
<path d="M2003 7408l31 5l31 3l30 1l31 2l31 1l31 1l31 1l31 1l31 2l31 1l31 1l31 1l31 2l31 1l31 1l31 1l31 2l31 1l31 1l31 1l31 2l31 1l31 1l31 1l31 2l31 1l31 1l30 1l31 1l31 1l31 1l31 1l31 2l31 1l31 1l31 1l31 1l31 1l31 1l31 1l31 1l31 1l31 1l31 1l31 1l31 0l31 0l31 1l31 0l31 0l15 1l16 0l15 0l16 0l15 0l15-1l16-1l15-1l16 0l15-1l16-1l15-1l16-1l15-2l16-1l15-1l16-1l15-1l16-1l15-1l16-1l15-1l16-1l15-1l16-15l15 14l16-11l15 3l16-44l15-50l15-45l16-37l15-47l16-69l15 14l16-73l15 7l16 45l15-58l16-65l15-38l16 16l15-68l16-17l15-196l16-24l15-32l16 36l15-69l16-154l15 68l16 11l15 136l16-81l15-246l15 82l16 56l15 76l16 7l15 55l16-4l15 77l16-88l15-153l16-97l15 222l16-194l15-81l16-111l15 149l16 78l15-91l16-195l15 199l16 16l15 2l16 94l15 0l16 96l15-104l15 215l16-23l15 66l16 11l15 89l16 250l15-201l16-74l15-24l16 23l15-5l16 48l15 7l16-84l15 88l16 84l15-123l16 74l15 10l16 36l15-19l16-13l15 25l16 87l15 64l15-10l16-103l15 128l16 3l15-25l16 38l15-12l16 11l15-35l16-66l15 50l16 8l15 1l16 15l15 19l16 111l15-18l16 37l15-1l16-39l15-38l16 10l15 1l16-16l15 7l15-115l16-115l15-41l16-77l15 34l16 79l15-34l16-43l15-8l16 159l15 88l16 127l15 15l16 21l15 46l16 38l15-58l16 53l15-35l16-4l15-40l16 64l15-8l16-42l15 15l15 51l16 55l15 2l16-52l15-55l16 6l15-21l16-19l15-1l16 43l15-15l16 42" stroke="rgb(179,132,160)" stroke-width="5.5" fill="none" stroke-dasharray="20,16" opacity="0.9" transform="scale(0.1)"/>
<path d="M532 7190l31 2l31 1l31 1l31-2l31-34l31-33l31-1l31 18l31 14l31 11l31 9l31 7l30 7l31 7l31 5l31 5l31 5l31 4l31 4l31 3l31 4l31 3l31 3l31-26l31-75l31-76l31 31l31 37l31 31l31 24l31 20l31 18l31 16l31 13l31 11l31 10l31 9l30 8l31 8l31 7l31 6l31 7l31 6l31 5l31 6l31 6l31 5l16 3" stroke="rgb(181,129,156)" stroke-width="5.5" fill="none" stroke-dasharray="20,14" opacity="0.9" transform="scale(0.1)"/>
<path d="M2003 7343l31 5l31 4l30 1l31 2l31 1l31 1l31 1l31 2l31 1l31 1l31 2l31 1l31 1l31 1l31 2l31 1l31 1l31 1l31 2l31 1l31 1l31 2l31 1l31 1l31 1l31 2l31 1l30 1l31 1l31 1l31 1l31 1l31 1l31 1l31 1l31 1l31 1l31 1l31 1l31 1l31 1l31 1l31 2l31 1l31 1l31 0l31 0l31 0l31 1l31 0l15 0l16 0l15 1l16 0l15 0l15 2l16 2l15 3l16 2l15 2l16-32l15-54l16-3l15 6l16-40l15-66l16-7l15-83l16 20l15-85l16-41l15 76l16-54l15-8l16-13l15 17l16-33l15 11l16-45l15-99l15-103l16-66l15-39l16-2l15 43l16 100l15-87l16 52l15 1l16 120l15-43l16-98l15 38l16-39l15 48l16 16l15 59l16 193l15-58l16-47l15-38l16-96l15-17l16 18l15 83l15-147l16 144l15 52l16 46l15-51l16 5l15-4l16 120l15 25l16-61l15 36l16 64l15-24l16 22l15-12l16-26l15 44l16-14l15-76l16 14l15 2l16 10l15-42l16-40l15 72l15 10l16-58l15 92l16-44l15-33l16 65l15 43l16-11l15-39l16 51l15 12l16 8l15 14l16-67l15 15l16 66l15-4l16-15l15 51l16-6l15 23l16 44l15 18l16-46l15 1l15 52l16-43l15 4l16 93l15 7l16 48l15-22l16-129l15-72l16 5l15 42l16 42l15 17l16-19l15-47l16 4l15-35l16 19l15 77l16-20l15-37l16-13l15-26l16 45l15 13l15 0l16-10l15-13l16-23l15 26l16 40l15 11l16 1l15 8l16 21l15-39l16-33l15-24l16-12l15-2l16 29l15 20l16-6l15 59l16-19l15 52l16-76l15-22l16 19l15-5l15 7l16-60l15-37l16-4l15 5l16-41l15-37l16-41l15-46l16-25l15 114l16 67" stroke="rgb(181,129,156)" stroke-width="5.5" fill="none" stroke-dasharray="20,16" opacity="0.9" transform="scale(0.1)"/>
<path d="M532 7249l31-4l31-5l31-3l31-4l31-3l31-3l31-2l31-3l31-2l31-2l31-2l31-1l30-1l31 0l31 1l31 1l31 1l31 1l31 1l31 1l31 1l31 1l31 2l31 1l31 2l31 2l31 1l31 2l31 2l31 2l31 3l31 5l31 4l31 5l31 5l31 4l31 5l30 5l31 5l31 5l31 4l31 5l31 5l31 5l31 5l31 5l31 5l16 2" stroke="rgb(184,125,151)" stroke-width="5.5" fill="none" stroke-dasharray="20,14" opacity="0.9" transform="scale(0.1)"/>
<path d="M2003 7318l31 5l31 4l30 1l31 1l31 1l31 1l31 1l31 1l31 1l31 2l31 1l31 1l31 1l31 1l31 1l31 2l31 1l31 1l31 1l31 2l31 1l31 1l31 1l31 1l31 2l31 1l31 1l30 1l31 1l31 1l31 1l31 1l31 1l31 1l31 1l31 1l31 1l31 1l31 1l31 1l31 1l31 1l31 2l31 1l31 1l31 0l31 0l31 0l31 1l31 0l15 0l16 0l15 0l16 1l15 0l15 3l16 4l15 4l16 3l15 4l16 4l15 3l16 4l15 3l16 4l15 3l16 4l15 3l16 3l15-38l16-41l15-20l16-8l15-71l16 12l15-19l16-100l15-37l16-37l15-11l15-74l16-158l15 1l16 25l15-72l16-113l15 2l16 78l15-27l16 58l15-96l16 13l15-55l16-10l15-79l16 193l15-71l16-44l15-48l16 131l15-180l16 62l15-69l16 60l15 26l15 48l16 153l15 21l16-166l15 112l16-31l15 151l16-138l15 117l16 70l15-30l16-76l15 98l16-23l15-62l16-2l15 61l16-43l15-76l16-137l15-24l16 193l15-61l16-23l15 34l15 3l16-23l15 73l16 116l15 27l16-35l15 49l16 43l15 66l16-54l15 50l16-13l15 16l16-103l15-65l16-125l15 54l16 39l15-25l16 87l15 8l16-69l15-41l16-25l15 76l15 74l16 41l15-15l16-22l15-20l16 37l15 67l16 37l15 8l16 77l15 30l16 59l15-46l16-31l15 27l16-61l15-8l16 3l15-32l16-11l15 49l16 19l15 42l16-58l15-19l15-63l16 22l15 66l16-45l15-21l16 77l15-43l16 39l15-60l16-4l15 42l16 17l15 10l16 117l15-55l16-2l15-43l16 109l15-58l16-16l15 34l16-96l15-26l16 48l15 31l15-30l16-69l15-2l16 35l15-60l16 48l15-38l16-4l15 29l16 39l15 28l16 1" stroke="rgb(184,125,151)" stroke-width="5.5" fill="none" stroke-dasharray="20,16" opacity="0.9" transform="scale(0.1)"/>
<path d="M532 7235l31-48l31-106l31-105l31 52l31 47l31 37l31 28l31 23l31 17l31 14l31 11l31 9l30 8l31 7l31 6l31 6l31 4l31 5l31 4l31 3l31 4l31 3l31 3l31 3l31 3l31 2l31 3l31 3l31 3l31 2l31 4l31 6l31 5l31 5l31 5l31 5l31 6l30 5l31 5l31 5l31 5l31 5l31 6l31 5l31 5l31 5l31 5l16 3" stroke="rgb(186,121,147)" stroke-width="5.5" fill="none" stroke-dasharray="20,14" opacity="0.9" transform="scale(0.1)"/>
<path d="M2003 7376l31 5l31 3l30 2l31 1l31 1l31 2l31 1l31 1l31 1l31 2l31 1l31 1l31 1l31 2l31 1l31 1l31 1l31 2l31 1l31 1l31 2l31 1l31 1l31 1l31 2l31 1l31 1l30 1l31 1l31 1l31 1l31 1l31 1l31 2l31 1l31 1l31 1l31 1l31 1l31 1l31 1l31 1l31 1l31 1l31 1l31 0l31 0l31 1l31 0l31 0l15 1l16-15l15-30l16-9l15-43l15-50l16-39l15-102l16-66l15 27l16 5l15 14l16-55l15-105l16-129l15-18l16 33l15 55l16 85l15-205l16 2l15 11l16-204l15 59l16-9l15-61l16 172l15 82l16-410l15-21l15 227l16 24l15-36l16-106l15-6l16 115l15-41l16-141l15 89l16 128l15 91l16 197l15-223l16-65l15-2l16-24l15-121l16 75l15 149l16-117l15 234l16-5l15-139l16-130l15 49l15 40l16 34l15 40l16 17l15-109l16-6l15-102l16 13l15 79l16 44l15-161l16 77l15-81l16 126l15 28l16 87l15 73l16 85l15 56l16-16l15-91l16 0l15 85l16-21l15 173l15-23l16-160l15 169l16 0l15-77l16-109l15-41l16 70l15-67l16-44l15 77l16 35l15 82l16 29l15-70l16 88l15-61l16 1l15 1l16 51l15-31l16 24l15 21l16 87l15-17l15 7l16-56l15-7l16 3l15 22l16 17l15 12l16-65l15 43l16 20l15-84l16-141l15-58l16 83l15-42l16 51l15 80l16 26l15-17l16 51l15-15l16 41l15 9l16 0l15 122l15-69l16-23l15-10l16 4l15 22l16-51l15 20l16-22l15 93l16-85l15 11l16 6l15 58l16 39l15-25l16 134l15-86l16 18l15 15l16-22l15-93l16-2l15-38l16 65l15 20l15-48l16 42l15 84l16-21l15-39l16-48l15-45l16-4l15 40l16-10l15 20l16 6" stroke="rgb(186,121,147)" stroke-width="5.5" fill="none" stroke-dasharray="20,16" opacity="0.9" transform="scale(0.1)"/>
<path d="M532 7305l31-4l31-3l31-3l31-2l31-3l31-2l31-39l31-82l31-82l31 38l31 34l31 26l30 21l31 17l31 14l31 11l31 9l31 7l31 6l31 6l31 4l31 4l31-27l31-38l31-24l31 25l31 19l31 16l31 13l31 10l31 10l31 9l31 9l31 8l31 7l31 7l31 6l30 6l31 6l31 5l31 6l31 5l31 5l31 6l31 5l31 5l31 5l16 3" stroke="rgb(189,117,143)" stroke-width="5.5" fill="none" stroke-dasharray="20,14" opacity="0.9" transform="scale(0.1)"/>
<path d="M2003 7389l31 5l31 3l30 2l31 1l31 1l31 1l31 1l31 2l31 1l31 1l31 1l31 2l31 1l31 1l31 1l31 2l31 1l31 1l31 1l31 2l31 1l31 1l31 1l31 2l31 1l31 1l31 1l30 1l31 2l31 1l31 1l31 1l31 1l31 1l31 1l31 1l31 1l31 1l31 1l31 1l31 1l31 1l31 1l31 1l31 1l31 0l31 1l31 0l31 0l31 0l15 1l16 0l15 0l16 0l15 0l15 0l16 0l15 0l16 0l15 0l16 0l15 0l16 0l15 0l16 0l15-9l16-24l15-16l16-6l15 7l16 1l15-15l16 1l15-32l16-14l15-21l16-71l15-29l16-46l15 49l15-56l16 10l15-105l16 56l15 7l16-79l15-134l16 83l15-8l16 22l15-127l16-132l15 3l16-40l15 65l16 83l15-50l16 26l15-66l16 21l15-98l16 29l15 10l16-52l15 26l15-60l16 96l15 96l16-50l15-6l16 69l15 88l16 40l15-8l16 10l15 61l16 32l15-55l16-71l15-72l16 77l15 76l16-32l15 26l16-36l15-33l16 44l15 20l16 87l15 61l15-66l16-116l15 88l16 47l15-18l16-80l15 40l16-76l15-146l16 100l15 100l16-4l15-19l16 67l15-21l16-18l15 79l16 5l15 19l16-1l15-28l16 21l15 33l16-12l15-35l15-52l16-2l15 53l16 48l15 28l16-24l15 15l16 6l15 30l16 1l15 13l16-44l15 6l16-35l15 0l16 8l15 74l16 4l15 28l16-45l15-11l16-9l15 12l16-41l15 82l15-30l16 15l15 33l16 14l15-11l16-19l15-40l16 27l15 24l16-40l15-33l16 45l15 24l16-15l15 8l16-25l15 27l16 17l15-107l16-18l15-31l16 15l15 42l16-28l15-36l15 25l16 16l15-21l16-4l15 31l16-63l15-33l16 103l15-35l16 66l15 53l16 30" stroke="rgb(189,117,143)" stroke-width="5.5" fill="none" stroke-dasharray="20,16" opacity="0.9" transform="scale(0.1)"/>
<path d="M532 6929l31 22l31 20l31 18l31 18l31 17l31 15l31 14l31 14l31 13l31 12l31 11l31 10l30 12l31 11l31 11l31 10l31 10l31 9l31 9l31 9l31 8l31 7l31 7l31 7l31 7l31 6l31 6l31 6l31 6l31 5l31 7l31 8l31 7l31 8l31 7l31 7l31 7l30 7l31 7l31 6l31 7l31 6l31 6l31 6l31 7l31 6l31 6l16 3" stroke="rgb(191,114,138)" stroke-width="5.5" fill="none" stroke-dasharray="20,14" opacity="0.9" transform="scale(0.1)"/>
<path d="M2003 7377l31 5l31 4l30 2l31 2l31 1l31 2l31 2l31 1l31 2l31 1l31 2l31 1l31 2l31 1l31 2l31 1l31 2l31 1l31 1l31 2l31 1l31 2l31 1l31 1l31 2l31 1l31 1l30 2l31 1l31 1l31 1l31 1l31 1l31 1l31 1l31 1l31 1l31 2l31 1l31 1l31 1l31 1l31 1l31 1l31 1l31 0l31 1l31 0l31 0l31 1l15 0l16 0l15 0l16 0l15 0l15 1l16 0l15 0l16 0l15 1l16-17l15-36l16 9l15 29l16-75l15 2l16-21l15-26l16-82l15-52l16-71l15-73l16-30l15 3l16-88l15-62l16-18l15 116l16 7l15-73l15 2l16-113l15-237l16 16l15-16l16-64l15-142l16 255l15 38l16-166l15 15l16 185l15-99l16 120l15-154l16-128l15 51l16 127l15-97l16 25l15 10l16 41l15 19l16 70l15-164l15-162l16 147l15 161l16-110l15-132l16-8l15-64l16-5l15 75l16 90l15 115l16 19l15 166l16-180l15 93l16-68l15-76l16-15l15 72l16 116l15 57l16-49l15-32l16 127l15-5l15 110l16-50l15-64l16 28l15-101l16 136l15-71l16 131l15-60l16 114l15-15l16 23l15-103l16-36l15-102l16-79l15 139l16 95l15 25l16 87l15-7l16 114l15-119l16-37l15 110l15 47l16 13l15-36l16-35l15-40l16-34l15 89l16 3l15 20l16-22l15 21l16 94l15 9l16-132l15 17l16-41l15 29l16 32l15 10l16 20l15-34l16 34l15 89l16-55l15-26l15 23l16 6l15-35l16-9l15 53l16-62l15-96l16 36l15 71l16-34l15-40l16 67l15 76l16 50l15 1l16 26l15-8l16-7l15 43l16-51l15-85l16 75l15-23l16-15l15-8l15-52l16-10l15-106l16-62l15 38l16 34l15 39l16-24l15 33l16 47l15-56l16 25" stroke="rgb(191,114,138)" stroke-width="5.5" fill="none" stroke-dasharray="20,16" opacity="0.9" transform="scale(0.1)"/>
<path d="M532 7176l31 3l31 4l31 3l31 3l31 3l31 2l31 3l31 3l31 2l31 2l31 3l31 2l30 3l31 3l31 4l31 4l31 3l31 4l31 3l31 4l31 3l31 3l31 4l31 3l31 3l31 3l31 3l31 3l31 3l31 3l31 4l31 6l31 6l31 5l31 5l31 6l31 5l30 6l31 5l31 6l31 5l31 5l31 6l31 5l31 5l31 6l31 5l16 3" stroke="rgb(194,110,134)" stroke-width="5.5" fill="none" stroke-dasharray="20,14" opacity="0.9" transform="scale(0.1)"/>
<path d="M2003 7362l31 5l31 3l30 1l31 2l31 1l31 1l31 2l31 1l31 1l31 2l31 1l31 1l31 1l31 2l31 1l31 1l31 2l31 1l31 1l31 1l31 2l31 1l31 1l31 2l31 1l31 1l31 1l30 2l31 1l31 1l31 1l31 1l31 1l31 1l31 1l31 1l31 1l31 1l31 1l31 1l31 1l31 1l31 1l31 1l31 1l31 1l31 0l31 0l31 0l31 1l15 0l16 0l15-6l16-30l15-9l15-27l16-7l15 24l16-6l15-9l16-7l15 33l16-34l15-62l16-49l15 5l16-107l15-8l16-38l15-6l16 22l15-36l16 28l15 30l16 68l15-75l16-91l15-30l16-4l15-17l15-88l16 25l15-15l16-45l15 0l16-35l15-53l16 29l15-149l16 88l15 12l16-11l15 14l16 97l15-8l16 84l15 5l16-42l15-42l16 30l15 57l16-128l15 59l16-74l15 111l15 22l16-58l15 103l16 93l15-47l16-63l15-4l16 19l15 64l16 5l15-21l16 44l15 87l16-63l15 50l16 37l15-20l16-70l15 81l16 6l15-69l16 8l15 29l16 41l15 56l15-74l16 38l15-35l16-70l15-14l16-49l15-112l16-19l15 52l16 43l15 22l16 113l15 29l16 29l15 32l16 72l15 5l16-41l15-19l16 37l15 10l16 8l15-21l16 29l15 21l15 39l16-36l15-59l16 0l15-6l16-10l15 49l16-15l15-37l16-14l15 24l16 34l15 21l16-39l15 19l16-9l15-15l16-2l15 8l16-43l15-13l16-4l15-4l16 10l15 87l15 36l16-25l15 28l16-26l15-26l16-19l15-34l16 58l15 32l16 13l15 9l16-31l15-11l16 26l15 9l16 28l15-4l16 23l15-70l16-26l15 10l16 0l15-30l16-5l15-44l15-12l16-78l15-29l16 5l15-24l16-66l15-7l16 87l15 32l16 87l15 13l16 53" stroke="rgb(194,110,134)" stroke-width="5.5" fill="none" stroke-dasharray="20,16" opacity="0.9" transform="scale(0.1)"/>
<path d="M532 7289l31-2l31-33l31-125l31-125l31 7l31 14l31 1l31 50l31 45l31 35l31 27l31 21l30 18l31 14l31 12l31 10l31 8l31 6l31 6l31 5l31 4l31 4l31 4l31 3l31 3l31 3l31 3l31 2l31 3l31 2l31 4l31 5l31 5l31 5l31 6l31 5l31 5l30 5l31 5l31 5l31 5l31 5l31 5l31 5l31 5l31 6l31 5l16 2" stroke="rgb(196,106,130)" stroke-width="5.5" fill="none" stroke-dasharray="20,14" opacity="0.9" transform="scale(0.1)"/>
<path d="M2003 7402l31 6l31 3l30 1l31 1l31 1l31 2l31 1l31 1l31 1l31 2l31 1l31 1l31 1l31 2l31 1l31 1l31 2l31 1l31 1l31 1l31 2l31 1l31 1l31 1l31 2l31 1l31 1l30 1l31 1l31 1l31 1l31 2l31 1l31 1l31 1l31 1l31 1l31 1l31 1l31 1l31 1l31 1l31 1l31 1l31 1l31 0l31 1l31 0l31 0l31 0l15 1l16 0l15 0l16 0l15 0l15 0l16-1l15-1l16 0l15-1l16-1l15-1l16 0l15-1l16-1l15-1l16-1l15 0l16-1l15-1l16-1l15-1l16 0l15-1l16-1l15-13l16-39l15-32l16-23l15 0l15-19l16 14l15-66l16 17l15 1l16-21l15-27l16-95l15-60l16 19l15-46l16-43l15-111l16 87l15 0l16 26l15-70l16-115l15-16l16-210l15 84l16-35l15 36l16 87l15-30l15-81l16-5l15-23l16-102l15 53l16-119l15-61l16 10l15-100l16 278l15 71l16-198l15 93l16-142l15-50l16-2l15 32l16 137l15 141l16 138l15-133l16-41l15-65l16 107l15-47l15-143l16 74l15 16l16-17l15-262l16-137l15-87l16-106l15 158l16 47l15 228l16 72l15 138l16 63l15 47l16 206l15-26l16 40l15 90l16 24l15-73l16 46l15-95l16-10l15 29l15 81l16 57l15-72l16 15l15 0l16 0l15-28l16-13l15 51l16 5l15 30l16-11l15 94l16 7l15-66l16 74l15 28l16-19l15 52l16-20l15-24l16-38l15-3l16-9l15 22l15-17l16-17l15-29l16-42l15-45l16-50l15-37l16 75l15 79l16 16l15-8l16 59l15 3l16 31l15 26l16 49l15 11l16-22l15-11l16-20l15 38l16 80l15-38l16-2l15-25l15-57l16-15l15 92l16 16l15 8l16-56l15 34l16 12l15-35l16 65l15 10l16 33" stroke="rgb(196,106,130)" stroke-width="5.5" fill="none" stroke-dasharray="20,16" opacity="0.9" transform="scale(0.1)"/>
<path d="M532 7264l31 0l31 0l31-1l31 0l31 0l31 0l31 1l31 0l31 0l31 0l31 1l31 0l30 1l31 2l31 3l31 2l31 2l31 2l31 3l31 2l31 2l31 3l31 2l31 2l31 3l31 2l31 3l31 2l31 3l31 2l31 4l31 5l31 5l31 5l31 5l31 6l31 5l30 5l31 5l31 5l31 5l31 5l31 6l31 5l31 5l31 5l31 5l16 3" stroke="rgb(199,102,125)" stroke-width="5.5" fill="none" stroke-dasharray="20,14" opacity="0.9" transform="scale(0.1)"/>
<path d="M2003 7395l31 5l31 3l30 2l31 1l31 1l31 1l31 2l31 1l31 1l31 1l31 2l31 1l31 1l31 2l31 1l31 1l31 1l31 2l31 1l31 1l31 1l31 2l31 1l31 1l31 2l31 1l31 1l30 1l31 1l31 1l31 1l31 1l31 1l31 1l31 1l31 1l31 2l31 1l31 1l31 1l31 1l31 1l31 1l31 1l31 1l31 0l31 0l31 1l31 0l31 0l15 0l16 1l15 0l16 0l15 0l15 0l16-1l15 0l16 0l15 0l16-1l15-26l16 1l15-30l16-17l15 6l16-20l15-30l16-42l15-53l16 29l15 0l16-5l15 20l16-133l15-7l16-18l15-13l16 10l15-99l15-41l16 15l15-17l16-66l15-51l16-86l15-105l16 51l15 76l16 15l15-42l16 28l15-61l16 87l15-36l16-38l15 80l16-73l15-121l16 300l15 41l16-14l15-76l16 80l15-23l15-98l16 10l15 69l16 56l15-9l16-14l15-2l16 24l15 145l16 32l15-2l16-24l15-34l16 38l15-36l16-65l15 6l16-5l15 54l16 67l15-14l16-4l15-29l16 39l15 59l15 43l16-16l15 76l16-68l15 16l16-2l15 10l16-57l15 61l16-25l15-7l16-30l15-10l16 57l15 61l16 63l15-12l16-33l15-13l16 8l15-21l16 43l15-48l16-41l15-22l15-2l16-30l15 70l16 42l15 0l16 1l15 11l16-15l15 12l16-45l15 11l16 74l15 3l16 10l15 28l16-44l15 20l16 38l15-11l16-67l15-2l16-51l15-7l16-35l15 3l15 4l16 94l15 29l16 19l15-16l16-48l15-35l16-29l15 35l16-9l15-23l16 6l15 14l16 37l15 42l16-31l15 26l16-2l15-7l16-19l15 15l16 19l15-15l16 1l15-32l15 8l16-34l15-21l16-88l15 87l16 33l15 20l16 20l15 34l16 17l15-6l16-47" stroke="rgb(199,102,125)" stroke-width="5.5" fill="none" stroke-dasharray="20,16" opacity="0.9" transform="scale(0.1)"/>
<path d="M532 7158l31 6l31 5l31 5l31 5l31 5l31 4l31 5l31 4l31 3l31 4l31 3l31 3l30 4l31 5l31 5l31 4l31 5l31 4l31 4l31 4l31 4l31 4l31 4l31 3l31 4l31 4l31 3l31 4l31 3l31 3l31 5l31 6l31 5l31 6l31 6l31 6l31 5l30 6l31 5l31 6l31 5l31 6l31 5l31 6l31 5l31 6l31 5l16 3" stroke="rgb(201,98,121)" stroke-width="5.5" fill="none" stroke-dasharray="20,14" opacity="0.9" transform="scale(0.1)"/>
<path d="M2003 7378l31 5l31 3l30 2l31 1l31 2l31 1l31 1l31 2l31 1l31 1l31 2l31 1l31 1l31 2l31 1l31 1l31 2l31 1l31 1l31 2l31 1l31 1l31 1l31 2l31 1l31 1l31 2l30 1l31 1l31 1l31 1l31 1l31 1l31 1l31 1l31 1l31 1l31 1l31 1l31 1l31 1l31 1l31 1l31 2l31 1l31 0l31 0l31 0l31 1l31-16l15 16l16 0l15 0l16-41l15-9l15-27l16-50l15-2l16-54l15 14l16-73l15 23l16 24l15-52l16-89l15 72l16-80l15-79l16-23l15 74l16 36l15-62l16 111l15-118l16-136l15 88l16 57l15-81l16 30l15-70l15 34l16 30l15-1l16-52l15-33l16 21l15-76l16-62l15 3l16 141l15 60l16 18l15-28l16-67l15 66l16-58l15 98l16-13l15 32l16 12l15-73l16 29l15-8l16-99l15-6l15 65l16 62l15 49l16 3l15 2l16 98l15 46l16 43l15-27l16-37l15 1l16-30l15 10l16-4l15-62l16-15l15 46l16 27l15-42l16 20l15 42l16-15l15 59l16-15l15 18l15-19l16-87l15 12l16 60l15 69l16-18l15 1l16 41l15-1l16-21l15 22l16-21l15-44l16 5l15-78l16 10l15 1l16-96l15 13l16 67l15 56l16-5l15 33l16 18l15 57l15 26l16-17l15 17l16-24l15-78l16-37l15-73l16-6l15-81l16-60l15-83l16 98l15 23l16-26l15-14l16-40l15-48l16 161l15 87l16 62l15-7l16 21l15 51l16-23l15 0l15 63l16-45l15-6l16-79l15-6l16 76l15-29l16 5l15 20l16-11l15-24l16 6l15 13l16-50l15-47l16 44l15-8l16 43l15-33l16-12l15 40l16 1l15 57l16 6l15 67l15 27l16-11l15-29l16-29l15-31l16-18l15 30l16 12l15 26l16-1l15 54l16 11" stroke="rgb(201,98,121)" stroke-width="5.5" fill="none" stroke-dasharray="20,16" opacity="0.9" transform="scale(0.1)"/>
<path d="M532 7168l31 1l31 2l31 1l31 1l31 1l31 1l31 1l31 1l31 1l31 1l31 1l31 1l30 1l31 3l31 3l31 3l31 3l31 2l31 3l31 3l31 2l31 3l31 3l31 2l31 3l31 3l31 2l31 3l31 3l31 2l31 4l31 6l31 5l31 5l31 5l31 5l31 6l30 5l31 5l31 5l31 5l31 6l31 5l31 5l31 5l31 5l31 6l16 2" stroke="rgb(204,95,117)" stroke-width="5.5" fill="none" stroke-dasharray="20,14" opacity="0.9" transform="scale(0.1)"/>
<path d="M2003 7318l31 5l31 4l30 1l31 1l31 1l31 1l31 2l31 1l31 1l31 1l31 2l31 1l31 1l31 1l31 2l31 1l31 1l31 1l31 2l31 1l31 1l31 1l31 2l31 1l31 1l31 1l31 2l30 1l31 1l31 1l31 1l31 1l31 1l31 1l31 1l31 1l31 1l31 1l31 1l31 1l31 1l31 1l31 1l31 1l31 1l31 1l31 0l31 0l31 0l31 1l15 0l16 0l15 0l16 0l15 0l15 4l16 4l15-23l16-16l15-39l16-53l15 0l16-16l15-42l16 2l15-47l16-74l15-36l16 62l15-73l16-36l15-49l16 39l15-69l16-49l15-5l16 8l15-54l16 118l15-121l15-24l16-184l15 159l16-28l15-113l16-88l15 9l16-163l15 43l16-91l15-5l16 17l15 74l16 39l15 5l16-120l15 20l16 82l15-162l16-81l15-138l16 41l15-103l16 38l15 77l15 38l16-27l15 62l16-23l15 61l16-152l15 25l16 349l15 3l16 100l15 63l16-25l15 287l16 129l15-41l16 70l15-104l16-64l15 30l16-72l15 160l16-18l15-83l16-92l15-7l15-68l16 29l15 61l16 16l15-125l16-72l15 66l16 43l15 34l16 150l15 53l16 0l15 58l16 11l15 68l16-13l15-69l16 3l15-39l16 27l15 56l16-8l15 98l16 18l15-7l15 7l16-42l15 29l16-64l15-41l16 5l15 44l16 57l15-44l16 12l15-135l16-10l15-32l16 86l15 25l16 40l15 118l16-34l15 5l16-1l15-33l16-53l15-21l16-68l15 56l15-28l16 47l15 8l16-59l15-26l16-18l15 28l16 4l15-22l16 11l15 54l16-14l15 27l16 6l15 10l16-27l15 9l16 31l15 66l16 42l15-41l16 6l15-64l16-21l15-36l15-27l16-145l15 30l16 42l15 25l16 144l15 47l16-50l15-40l16 53l15 94l16 39" stroke="rgb(204,95,117)" stroke-width="5.5" fill="none" stroke-dasharray="20,16" opacity="0.9" transform="scale(0.1)"/>
<path d="M532 7160l31 3l31 2l31 3l31 2l31 2l31 2l31 2l31 2l31 2l31 2l31 1l31 2l30 2l31 4l31 3l31 3l31 4l31 3l31 3l31 3l31 3l31 3l31 3l31 3l31 3l31 3l31 3l31 3l31 3l31 3l31 4l31 5l31 6l31 5l31 5l31 6l31 5l30 5l31 6l31 5l31 5l31 6l31 5l31 5l31 5l31 6l31 5l16 3" stroke="rgb(206,91,112)" stroke-width="5.5" fill="none" stroke-dasharray="20,14" opacity="0.9" transform="scale(0.1)"/>
<path d="M2003 7332l31 5l31 3l30 1l31 2l31 1l31 1l31 1l31 2l31 1l31 1l31 1l31 2l31 1l31 1l31 1l31 2l31 1l31 1l31 2l31 1l31 1l31 1l31 2l31 1l31 1l31 1l31 2l30 1l31 1l31 1l31 1l31 1l31 1l31 1l31 1l31 1l31 1l31 1l31 1l31 1l31 1l31 1l31 1l31 1l31 1l31 1l31 0l31 0l31 1l31 0l15 0l16 0l15 0l16 0l15 1l15 2l16 3l15 3l16-21l15 14l16-12l15-7l16 23l15-20l16-27l15 7l16-16l15-68l16-57l15-37l16-45l15-68l16 7l15 29l16-22l15-24l16 22l15-36l16-37l15-78l15 60l16-95l15 17l16 92l15-101l16-41l15-6l16 85l15-81l16 74l15 59l16-31l15-103l16-11l15-15l16 71l15-85l16 34l15-49l16-204l15 39l16 115l15 106l16 34l15 11l15-104l16-180l15-8l16 106l15 17l16 115l15 46l16-41l15-47l16 70l15 53l16 48l15-12l16-85l15 29l16 99l15-62l16-46l15-36l16-6l15 67l16 90l15-24l16 31l15 1l15-66l16 126l15 89l16 52l15-4l16-37l15-51l16 20l15-92l16 3l15-58l16-99l15-58l16 15l15 62l16 21l15 0l16 102l15 72l16 29l15-60l16-1l15 15l16 76l15 56l15-43l16 38l15-69l16 36l15-22l16-42l15-23l16 11l15-94l16 36l15 3l16 37l15-34l16-33l15-24l16 24l15-12l16 81l15 32l16-23l15 112l16 57l15-60l16-22l15 5l15 1l16-74l15-10l16 29l15 71l16-17l15 43l16-9l15 18l16-74l15 30l16-6l15-67l16 107l15 7l16 51l15-98l16-23l15 4l16-7l15-31l16-15l15 8l16-29l15 2l15-64l16 79l15 29l16-25l15-21l16 41l15-47l16-18l15-46l16 48l15-26l16 35" stroke="rgb(206,91,112)" stroke-width="5.5" fill="none" stroke-dasharray="20,16" opacity="0.9" transform="scale(0.1)"/>
<path d="M532 7194l31 4l31 3l31-22l31-82l31-82l31 23l31 41l31 33l31 26l31 20l31-16l31-77l30-78l31 41l31 49l31 39l31 32l31 25l31 20l31 16l31 14l31 11l31 9l31 8l31 7l31 6l31 5l31 5l31 5l31 4l31 5l31 6l31 6l31 6l31 6l31 6l31 5l30 6l31 5l31 6l31 5l31 6l31 5l31 5l31 6l31 5l31 5l16 3" stroke="rgb(209,87,108)" stroke-width="5.5" fill="none" stroke-dasharray="20,14" opacity="0.9" transform="scale(0.1)"/>
<path d="M2003 7380l31 5l31 4l30 1l31 1l31 2l31 1l31 1l31 2l31 1l31 1l31 2l31 1l31 1l31 1l31 2l31 1l31 1l31 2l31 1l31 1l31 1l31 2l31 1l31 1l31 2l31 1l31 1l30 1l31 1l31 1l31 2l31 1l31 1l31 1l31 1l31 1l31 1l31 1l31 1l31 1l31 1l31 1l31 1l31 1l31 1l31 0l31 1l31 0l31 0l31 1l15 0l16 0l15 0l16 0l15 0l15 1l16 0l15 1l16 0l15 0l16 0l15-27l16-27l15 10l16-3l15-24l16-34l15-16l16-40l15-45l16-4l15-25l16-9l15 19l16-89l15-121l16-6l15-117l16-99l15 45l15 15l16 19l15-98l16-114l15 44l16 113l15-47l16-149l15-45l16-4l15 150l16-106l15 7l16-35l15-39l16 29l15 72l16-62l15-97l16-207l15 63l16 134l15-228l16-57l15 166l15 71l16 21l15-125l16 66l15-97l16 57l15 144l16 17l15 200l16 49l15-76l16 79l15 17l16 99l15-37l16 125l15-21l16-106l15 33l16-90l15-23l16-31l15 86l16 15l15 86l15 42l16 16l15-60l16-115l15 119l16-107l15 179l16 113l15-169l16-94l15-9l16-17l15-12l16 175l15-36l16 46l15 133l16-55l15-52l16-71l15-34l16 50l15-15l16 29l15 12l15-83l16 54l15 152l16 5l15 54l16 9l15-124l16-52l15 8l16-43l15-111l16 58l15-26l16 109l15 24l16 25l15 66l16-7l15-19l16-36l15 116l16-8l15-26l16-44l15 2l15 17l16 44l15-59l16 21l15-52l16 17l15 3l16 44l15 49l16-36l15-17l16-86l15 27l16-4l15-128l16 103l15 87l16 105l15 33l16-32l15-37l16 81l15-24l16 32l15 15l15-37l16 1l15-16l16-24l15-16l16-3l15-21l16 35l15 42l16 29l15-11l16 23" stroke="rgb(209,87,108)" stroke-width="5.5" fill="none" stroke-dasharray="20,16" opacity="0.9" transform="scale(0.1)"/>
<path d="M532 7226l31 1l31 1l31 1l31 1l31-64l31-130l31-128l31 73l31 57l31 45l31 35l31 27l30 23l31 19l31 15l31 12l31 11l31 8l31 8l31 6l31 6l31 4l31 5l31 4l31 4l31 3l31 3l31 4l31 3l31 3l31 4l31 5l31 6l31 5l31 5l31 6l31 5l30 5l31 5l31 6l31 5l31 5l31 5l31 6l31 5l31 5l31 5l16 3" stroke="rgb(211,83,104)" stroke-width="5.5" fill="none" stroke-dasharray="20,14" opacity="0.9" transform="scale(0.1)"/>
<path d="M2003 7377l31 5l31 3l30 2l31 1l31 1l31 2l31 1l31 1l31 1l31 2l31 1l31 1l31 1l31 2l31 1l31 1l31 2l31 1l31 1l31 1l31 2l31 1l31 1l31 2l31 1l31 1l31 1l30 2l31 1l31 1l31 1l31 1l31 1l31 1l31 1l31 1l31 1l31 1l31 1l31 1l31 1l31 1l31 1l31 1l31 1l31 0l31 1l31 0l31 0l31 1l15 0l16 0l15 0l16 0l15 0l15 1l16 1l15 0l16 1l15 0l16 1l15 0l16 1l15 0l16 1l15 0l16 0l15 1l16 0l15 1l16 0l15 1l16 0l15-5l16-14l15-25l16 6l15-50l16-19l15 1l15-8l16-36l15-20l16-42l15-75l16-8l15 55l16-41l15-28l16-27l15-8l16 64l15-23l16-45l15-19l16-117l15-104l16 137l15-137l16 89l15 20l16-198l15-78l16-20l15 116l15 6l16-30l15 72l16-45l15 77l16-149l15-25l16 14l15-180l16 4l15-12l16 190l15 86l16 27l15 115l16-35l15-34l16-21l15-44l16 25l15-46l16-18l15 147l16 102l15 12l15 75l16 42l15 6l16 57l15 60l16-90l15 37l16-66l15 36l16-45l15 24l16 68l15-42l16 0l15 27l16-109l15-60l16 85l15 19l16 27l15 41l16-26l15-30l16-33l15 69l15-19l16-40l15 102l16 10l15 25l16-39l15 55l16-11l15-3l16 20l15-12l16 48l15 20l16 9l15-55l16-62l15 11l16 15l15 53l16 32l15-30l16-54l15 9l16 16l15 6l15-38l16-53l15-3l16 3l15-27l16-6l15-36l16-87l15-14l16 81l15-59l16-84l15 55l16 54l15 31l16 5l15 99l16-34l15-11l16 7l15 29l16 75l15-7l16 22l15-20l15 6l16 25l15-84l16-85l15 49l16-28l15 3l16-73l15 70l16 22l15 46l16 0" stroke="rgb(211,83,104)" stroke-width="5.5" fill="none" stroke-dasharray="20,16" opacity="0.9" transform="scale(0.1)"/>
<path d="M532 7216l31 3l31 2l31 3l31 2l31 3l31 2l31 2l31 2l31 2l31 2l31 2l31 2l30 3l31 3l31 4l31 3l31 4l31 3l31 3l31 3l31 4l31 3l31 3l31 3l31 3l31 3l31 3l31 3l31 3l31 3l31 4l31 5l31 6l31 5l31 6l31 5l31 6l30 5l31 5l31 6l31 5l31 5l31 6l31 5l31 5l31 6l31 5l16 3" stroke="rgb(214,80,100)" stroke-width="5.5" fill="none" stroke-dasharray="20,14" opacity="0.9" transform="scale(0.1)"/>
<path d="M2003 7393l31 5l31 3l30 1l31 2l31 1l31 1l31 2l31 1l31 1l31 2l31 1l31 1l31 2l31 1l31 1l31 1l31 2l31 1l31 1l31 2l31 1l31 1l31 2l31 1l31 1l31 1l31 2l30 1l31 1l31 1l31 1l31 1l31 1l31 1l31 1l31 1l31 1l31 1l31 1l31 1l31 1l31 1l31 1l31 1l31 2l31 0l31 0l31 0l31 1l31 0l15 0l16 0l15 1l16 0l15 0l15 0l16-1l15 0l16 0l15 0l16-1l15 0l16 0l15-1l16 0l15-1l16 0l15-25l16-21l15-10l16-30l15-8l16-38l15-9l16-18l15 39l16-11l15-37l16-28l15-19l15-68l16-61l15 50l16-22l15-40l16-116l15-6l16 30l15 2l16-75l15 148l16-87l15-81l16 16l15-72l16 62l15 69l16 87l15-30l16-64l15-32l16 79l15-39l16-67l15-43l15-104l16 99l15-8l16 35l15 12l16 56l15 4l16 96l15 24l16-74l15 41l16 17l15-23l16-24l15-52l16 74l15 26l16 75l15-30l16-2l15-4l16 59l15-38l16 61l15 49l15 5l16 20l15-46l16-14l15 28l16-50l15-22l16 22l15 39l16 41l15-21l16-2l15-14l16-11l15-5l16 33l15-12l16 6l15 81l16 2l15-55l16-14l15 18l16 16l15-17l15 13l16 48l15 30l16-98l15 13l16 0l15-5l16-8l15-18l16 7l15 19l16 9l15 1l16-53l15-43l16-3l15-36l16 38l15 32l16 61l15-56l16-41l15 4l16-72l15 2l15 39l16 8l15 16l16 33l15 35l16-16l15 50l16-6l15-22l16-31l15 59l16-18l15 6l16 0l15-38l16-17l15 58l16-64l15 17l16-22l15 5l16-5l15-42l16 13l15 57l15-21l16 33l15-6l16-47l15 19l16-12l15-30l16-42l15-52l16-11l15 62l16 42" stroke="rgb(214,80,100)" stroke-width="5.5" fill="none" stroke-dasharray="20,16" opacity="0.9" transform="scale(0.1)"/>
<line x1="641.5" y1="594.5" x2="648" y2="594.5" stroke="rgb(130,172,212)" stroke-width="0.4" stroke-dasharray="1.2,0.8"/>
<text x="650" y="595.5" font-size="2.7" font-family="Liberation Sans, Arial, sans-serif" fill="#555">1983</text>
<line x1="641.5" y1="598.7" x2="648" y2="598.7" stroke="rgb(132,170,210)" stroke-width="0.4" stroke-dasharray="1.2,0.8"/>
<text x="650" y="599.7" font-size="2.7" font-family="Liberation Sans, Arial, sans-serif" fill="#555">1984</text>
<line x1="641.5" y1="602.9" x2="648" y2="602.9" stroke="rgb(134,169,208)" stroke-width="0.4" stroke-dasharray="1.2,0.8"/>
<text x="650" y="603.9" font-size="2.7" font-family="Liberation Sans, Arial, sans-serif" fill="#555">1985</text>
<line x1="641.5" y1="607.0" x2="648" y2="607.0" stroke="rgb(136,168,206)" stroke-width="0.4" stroke-dasharray="1.2,0.8"/>
<text x="650" y="608.0" font-size="2.7" font-family="Liberation Sans, Arial, sans-serif" fill="#555">1986</text>
<line x1="641.5" y1="611.2" x2="648" y2="611.2" stroke="rgb(138,167,205)" stroke-width="0.4" stroke-dasharray="1.2,0.8"/>
<text x="650" y="612.2" font-size="2.7" font-family="Liberation Sans, Arial, sans-serif" fill="#555">1987</text>
<line x1="641.5" y1="615.4" x2="648" y2="615.4" stroke="rgb(140,166,203)" stroke-width="0.4" stroke-dasharray="1.2,0.8"/>
<text x="650" y="616.4" font-size="2.7" font-family="Liberation Sans, Arial, sans-serif" fill="#555">1988</text>
<line x1="641.5" y1="619.6" x2="648" y2="619.6" stroke="rgb(142,164,201)" stroke-width="0.4" stroke-dasharray="1.2,0.8"/>
<text x="650" y="620.6" font-size="2.7" font-family="Liberation Sans, Arial, sans-serif" fill="#555">1989</text>
<line x1="641.5" y1="623.8" x2="648" y2="623.8" stroke="rgb(144,163,199)" stroke-width="0.4" stroke-dasharray="1.2,0.8"/>
<text x="650" y="624.8" font-size="2.7" font-family="Liberation Sans, Arial, sans-serif" fill="#555">1990</text>
<line x1="641.5" y1="627.9" x2="648" y2="627.9" stroke="rgb(146,162,198)" stroke-width="0.4" stroke-dasharray="1.2,0.8"/>
<text x="650" y="628.9" font-size="2.7" font-family="Liberation Sans, Arial, sans-serif" fill="#555">1991</text>
<line x1="641.5" y1="632.1" x2="648" y2="632.1" stroke="rgb(148,161,196)" stroke-width="0.4" stroke-dasharray="1.2,0.8"/>
<text x="650" y="633.1" font-size="2.7" font-family="Liberation Sans, Arial, sans-serif" fill="#555">1992</text>
<line x1="641.5" y1="636.3" x2="648" y2="636.3" stroke="rgb(150,160,194)" stroke-width="0.4" stroke-dasharray="1.2,0.8"/>
<text x="650" y="637.3" font-size="2.7" font-family="Liberation Sans, Arial, sans-serif" fill="#555">1993</text>
<line x1="641.5" y1="640.5" x2="648" y2="640.5" stroke="rgb(152,158,192)" stroke-width="0.4" stroke-dasharray="1.2,0.8"/>
<text x="650" y="641.5" font-size="2.7" font-family="Liberation Sans, Arial, sans-serif" fill="#555">1994</text>
<line x1="641.5" y1="644.7" x2="648" y2="644.7" stroke="rgb(154,157,191)" stroke-width="0.4" stroke-dasharray="1.2,0.8"/>
<text x="650" y="645.7" font-size="2.7" font-family="Liberation Sans, Arial, sans-serif" fill="#555">1995</text>
<line x1="641.5" y1="648.8" x2="648" y2="648.8" stroke="rgb(156,156,189)" stroke-width="0.4" stroke-dasharray="1.2,0.8"/>
<text x="650" y="649.8" font-size="2.7" font-family="Liberation Sans, Arial, sans-serif" fill="#555">1996</text>
<line x1="641.5" y1="653.0" x2="648" y2="653.0" stroke="rgb(158,155,187)" stroke-width="0.4" stroke-dasharray="1.2,0.8"/>
<text x="650" y="654.0" font-size="2.7" font-family="Liberation Sans, Arial, sans-serif" fill="#555">1997</text>
<line x1="641.5" y1="657.2" x2="648" y2="657.2" stroke="rgb(160,154,186)" stroke-width="0.4" stroke-dasharray="1.2,0.8"/>
<text x="650" y="658.2" font-size="2.7" font-family="Liberation Sans, Arial, sans-serif" fill="#555">1998</text>
<line x1="641.5" y1="661.4" x2="648" y2="661.4" stroke="rgb(162,152,184)" stroke-width="0.4" stroke-dasharray="1.2,0.8"/>
<text x="650" y="662.4" font-size="2.7" font-family="Liberation Sans, Arial, sans-serif" fill="#555">1999</text>
<line x1="641.5" y1="665.6" x2="648" y2="665.6" stroke="rgb(164,151,182)" stroke-width="0.4" stroke-dasharray="1.2,0.8"/>
<text x="650" y="666.6" font-size="2.7" font-family="Liberation Sans, Arial, sans-serif" fill="#555">2000</text>
<line x1="641.5" y1="669.7" x2="648" y2="669.7" stroke="rgb(166,150,180)" stroke-width="0.4" stroke-dasharray="1.2,0.8"/>
<text x="650" y="670.7" font-size="2.7" font-family="Liberation Sans, Arial, sans-serif" fill="#555">2001</text>
<line x1="641.5" y1="673.9" x2="648" y2="673.9" stroke="rgb(169,148,177)" stroke-width="0.4" stroke-dasharray="1.2,0.8"/>
<text x="650" y="674.9" font-size="2.7" font-family="Liberation Sans, Arial, sans-serif" fill="#555">2002</text>
<line x1="641.5" y1="678.1" x2="648" y2="678.1" stroke="rgb(171,144,173)" stroke-width="0.4" stroke-dasharray="1.2,0.8"/>
<text x="650" y="679.1" font-size="2.7" font-family="Liberation Sans, Arial, sans-serif" fill="#555">2003</text>
<line x1="641.5" y1="682.3" x2="648" y2="682.3" stroke="rgb(174,140,169)" stroke-width="0.4" stroke-dasharray="1.2,0.8"/>
<text x="650" y="683.3" font-size="2.7" font-family="Liberation Sans, Arial, sans-serif" fill="#555">2004</text>
<line x1="641.5" y1="686.5" x2="648" y2="686.5" stroke="rgb(176,136,164)" stroke-width="0.4" stroke-dasharray="1.2,0.8"/>
<text x="650" y="687.5" font-size="2.7" font-family="Liberation Sans, Arial, sans-serif" fill="#555">2005</text>
<line x1="641.5" y1="690.6" x2="648" y2="690.6" stroke="rgb(179,132,160)" stroke-width="0.4" stroke-dasharray="1.2,0.8"/>
<text x="650" y="691.6" font-size="2.7" font-family="Liberation Sans, Arial, sans-serif" fill="#555">2006</text>
<line x1="641.5" y1="694.8" x2="648" y2="694.8" stroke="rgb(181,129,156)" stroke-width="0.4" stroke-dasharray="1.2,0.8"/>
<text x="650" y="695.8" font-size="2.7" font-family="Liberation Sans, Arial, sans-serif" fill="#555">2007</text>
<line x1="641.5" y1="699.0" x2="648" y2="699.0" stroke="rgb(184,125,151)" stroke-width="0.4" stroke-dasharray="1.2,0.8"/>
<text x="650" y="700.0" font-size="2.7" font-family="Liberation Sans, Arial, sans-serif" fill="#555">2008</text>
<line x1="641.5" y1="703.2" x2="648" y2="703.2" stroke="rgb(186,121,147)" stroke-width="0.4" stroke-dasharray="1.2,0.8"/>
<text x="650" y="704.2" font-size="2.7" font-family="Liberation Sans, Arial, sans-serif" fill="#555">2009</text>
<line x1="641.5" y1="707.4" x2="648" y2="707.4" stroke="rgb(189,117,143)" stroke-width="0.4" stroke-dasharray="1.2,0.8"/>
<text x="650" y="708.4" font-size="2.7" font-family="Liberation Sans, Arial, sans-serif" fill="#555">2010</text>
<line x1="641.5" y1="711.5" x2="648" y2="711.5" stroke="rgb(191,114,138)" stroke-width="0.4" stroke-dasharray="1.2,0.8"/>
<text x="650" y="712.5" font-size="2.7" font-family="Liberation Sans, Arial, sans-serif" fill="#555">2011</text>
<line x1="641.5" y1="715.7" x2="648" y2="715.7" stroke="rgb(194,110,134)" stroke-width="0.4" stroke-dasharray="1.2,0.8"/>
<text x="650" y="716.7" font-size="2.7" font-family="Liberation Sans, Arial, sans-serif" fill="#555">2012</text>
<line x1="641.5" y1="719.9" x2="648" y2="719.9" stroke="rgb(196,106,130)" stroke-width="0.4" stroke-dasharray="1.2,0.8"/>
<text x="650" y="720.9" font-size="2.7" font-family="Liberation Sans, Arial, sans-serif" fill="#555">2013</text>
<line x1="641.5" y1="724.1" x2="648" y2="724.1" stroke="rgb(199,102,125)" stroke-width="0.4" stroke-dasharray="1.2,0.8"/>
<text x="650" y="725.1" font-size="2.7" font-family="Liberation Sans, Arial, sans-serif" fill="#555">2014</text>
<line x1="641.5" y1="728.3" x2="648" y2="728.3" stroke="rgb(201,98,121)" stroke-width="0.4" stroke-dasharray="1.2,0.8"/>
<text x="650" y="729.3" font-size="2.7" font-family="Liberation Sans, Arial, sans-serif" fill="#555">2015</text>
<line x1="641.5" y1="732.4" x2="648" y2="732.4" stroke="rgb(204,95,117)" stroke-width="0.4" stroke-dasharray="1.2,0.8"/>
<text x="650" y="733.4" font-size="2.7" font-family="Liberation Sans, Arial, sans-serif" fill="#555">2016</text>
<line x1="641.5" y1="736.6" x2="648" y2="736.6" stroke="rgb(206,91,112)" stroke-width="0.4" stroke-dasharray="1.2,0.8"/>
<text x="650" y="737.6" font-size="2.7" font-family="Liberation Sans, Arial, sans-serif" fill="#555">2017</text>
<line x1="641.5" y1="740.8" x2="648" y2="740.8" stroke="rgb(209,87,108)" stroke-width="0.4" stroke-dasharray="1.2,0.8"/>
<text x="650" y="741.8" font-size="2.7" font-family="Liberation Sans, Arial, sans-serif" fill="#555">2018</text>
<line x1="641.5" y1="745.0" x2="648" y2="745.0" stroke="rgb(211,83,104)" stroke-width="0.4" stroke-dasharray="1.2,0.8"/>
<text x="650" y="746.0" font-size="2.7" font-family="Liberation Sans, Arial, sans-serif" fill="#555">2019</text>
<line x1="641.5" y1="749.2" x2="648" y2="749.2" stroke="rgb(214,80,100)" stroke-width="0.4" stroke-dasharray="1.2,0.8"/>
<text x="650" y="750.2" font-size="2.7" font-family="Liberation Sans, Arial, sans-serif" fill="#555">2020</text>
</svg>
</body></html>
